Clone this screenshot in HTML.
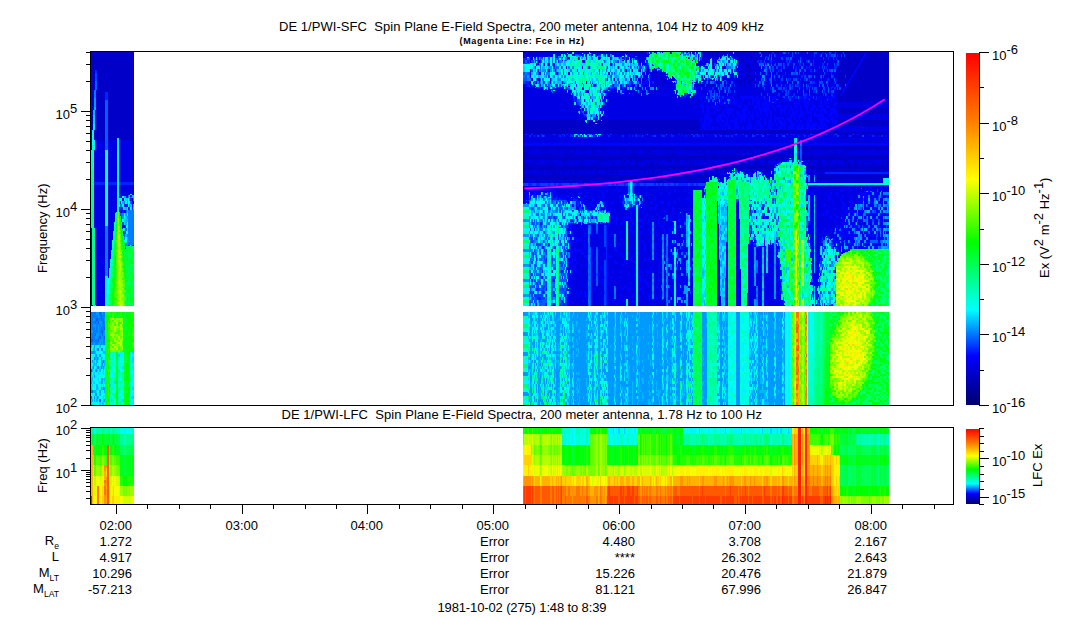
<!DOCTYPE html><html><head><meta charset="utf-8"><style>html,body{margin:0;padding:0;background:#fff;width:1083px;height:620px;overflow:hidden;position:relative}</style></head><body><svg width="1083" height="620" viewBox="0 0 1083 620" style="position:absolute;left:0;top:0;white-space:pre" xml:space="preserve" font-family='"Liberation Sans", sans-serif' font-size="13">
<rect x="0" y="0" width="1083" height="620" fill="#fff"/>
<path fill="#0000c8" d="M0 0m536 52h2v1h-2m4 -1h2v1h-2m14 -1h2v1h-2m72 -1h2v1h-2m3 -1h3v1h-3m17 -1h1v1h-1m76 -1h3v1h-3m122 -1h22v1h-22m24 -1h21v1h-21m-345 -1h3v2h-3m5 -2h4v2h-4m87 -2h1v2h-1m4 -2h1v2h-1m3 -2h2v2h-2m4 -1h1v1h-1m4 -1h2v1h-2m4 -2h2v2h-2m6 -2h4v2h-4m43 -2h1v2h-1m23 -2h4v2h-4m6 -2h6v2h-6m10 -1h1v1h-1m14 -2h4v2h-4m6 -2h4v2h-4m20 -2h2v2h-2m6 -2h3v2h-3m10 -2h2v2h-2m60 -2h4v2h-4m6 -1h21v1h-21m23 -1h22v1h-22m-336 0h2v1h-2m3 -1h1v1h-1m188 -1h2v1h-2m79 -1h1v1h-1m-85 -1h2v2h-2m20 -2h6v2h-6m28 -2h2v2h-2m81 -2h19v2h-19m21 -2h23v2h-23m-340 -2h2v3h-2m6 -2h1v2h-1m106 -3h2v3h-2m65 -3h3v3h-3m5 -3h2v3h-2m4 -3h2v3h-2m4 -1h1v1h-1m4 -3h1v3h-1m17 -1h5v1h-5m13 -3h3v3h-3m14 -1h1v1h-1m8 -3h2v3h-2m64 -3h1v3h-1m3 -3h2v3h-2m3 -3h2v3h-2m3 -1h18v1h-18m-320 0h1v1h-1m109 -1h1v1h-1m82 -1h2v1h-2m22 -1h6v1h-6m103 -1h22v1h-22m24 -2h24v2h-24m-235 -1h1v2h-1m76 -2h4v2h-4m34 -1h4v1h-4m101 -1h21v1h-21m23 -1h25v1h-25m-158 0h3v1h-3m35 -1h3v1h-3m5 -6h2v6h-2m4 -3h2v3h-2m4 -3h1v3h-1m2 -3h2v3h-2m23 -6h1v6h-1m59 -3h1v3h-1m3 -1h20v1h-20m-137 0h2v1h-2m135 -1h22v1h-22m24 -2h26v2h-26m-325 -1h2v3h-2m171 -3h1v3h-1m33 -3h4v3h-4m12 -3h2v3h-2m81 -3h1v3h-1m4 -2h21v2h-21m23 -2h27v2h-27m-23 0h20v1h-20m22 -1h28v1h-28m-117 -1h6v3h-6m8 -3h1v3h-1m65 -3h1v3h-1m22 -2h19v2h-19m21 -2h29v2h-29m-20 0h17v2h-17m19 -2h30v2h-30m-270 -2h1v3h-1m166 -3h2v3h-2m58 -3h1v3h-1m25 -3h1v3h-1m2 -1h16v1h-16m18 -1h31v1h-31m-767 -17h43v18h-43m748 -1h16v2h-16m18 -2h32v2h-32m-218 -2h1v3h-1m9 -3h1v3h-1m7 -2h1v2h-1m97 -3h2v3h-2m87 -1h15v1h-15m-1 0h16v1h-16m18 -2h33v2h-33m-18 0h15v1h-15m17 -1h34v1h-34m-201 -2h1v3h-1m92 -9h4v9h-4m32 -3h1v3h-1m48 -3h1v3h-1m3 -3h1v3h-1m9 -1h14v1h-14m8 0h6v1h-6m8 -2h35v2h-35m-192 -1h1v2h-1m-17 -2h1v3h-1m7 -3h2v3h-2m4 -5h2v5h-2m6 -1h2v1h-2m71 -3h1v3h-1m7 -3h2v3h-2m6 -3h6v3h-6m8 -3h2v3h-2m62 -3h1v3h-1m22 -3h7v3h-7m8 -2h5v2h-5m7 -2h36v2h-36m-210 0h1v1h-1m21 -1h1v1h-1m75 -1h1v1h-1m99 -1h12v1h-12m14 -1h37v1h-37m-114 0h2v1h-2m10 -2h5v2h-5m-106 -1h2v2h-2m18 -3h2v3h-2m4 -2h2v2h-2m71 -1h1v1h-1m2 -1h3v1h-3m5 -3h4v3h-4m6 -1h6v1h-6m37 -3h1v3h-1m14 -3h1v3h-1m39 -2h11v2h-11m13 -2h38v2h-38m-11 0h8v2h-8m10 -2h39v2h-39m-188 -2h4v3h-4m37 -3h1v3h-1m18 -3h1v3h-1m21 -3h4v3h-4m10 -3h2v3h-2m6 -3h2v3h-2m35 -3h1v3h-1m5 -3h2v3h-2m44 -3h1v3h-1m2 -1h7v1h-7m9 -1h40v1h-40m-304 0h1v2h-1m75 -1h2v1h-2m36 -2h4v2h-4m6 -2h2v2h-2m6 -2h4v2h-4m30 -2h1v2h-1m4 -2h2v2h-2m6 -2h1v2h-1m2 -2h4v2h-4m27 -1h1v1h-1m2 -2h3v2h-3m5 -5h2v5h-2m6 -2h2v2h-2m6 -2h1v2h-1m92 -2h41v2h-41m-9 -2h6v3h-6m2 0h4v1h-4m6 -2h42v2h-42m-6 0h3v1h-3m5 -1h43v1h-43m-755 -19h4v20h-4m6 -20h37v20h-37m741 -3h1v3h-1m3 -1h2v1h-2m-3 0h5v1h-5m7 -2h44v2h-44m-749 -1h38v2h-38m742 -1h4v2h-4m6 -2h45v2h-45m-6 0h3v1h-3m5 -1h46v1h-46m-5 0h2v2h-2m4 -2h47v2h-47m-4 0h51v6h-51m-747 -12h3v20h-3m5 -18h9v18h-9m742 -2h51v6h-51m-242 6h1v1h-1m2 -1h3v1h-3m4 -1h98v1h-98m-79 -1h62v2h-62m72 -1h105v1h-105m-72 0h63v1h-63m64 -1h2v1h-2m3 -1h1v1h-1m2 -1h108v1h-108m-69 0h72v1h-72m74 -1h103v1h-103m241 -4h51v6h-51m-747 -16h2v20h-2m4 -20h10v20h-10m428 -6h177v6h-177m0 0h315v2h-315m0 0h366v2h-366m315 0h6v1h-6m8 -1h2v1h-2m4 -1h1v1h-1m4 -1h1v1h-1m7 -1h2v1h-2m4 -1h3v1h-3m9 -1h7v1h-7m9 -1h6v1h-6m-44 0h3v2h-3m5 -2h4v2h-4m8 -2h10v2h-10m15 -2h1v2h-1m3 -2h2v2h-2m6 -2h2v2h-2m4 -2h1v2h-1m8 -2h1v2h-1m-780 -45h26v46h-26m730 -1h51v1h-51m-747 -8h1v10h-1m3 -10h11v10h-11m14 -2h9v2h-9m11 -2h15v2h-15m404 6h271v4h-271m274 -4h3v4h-3m5 -4h87v4h-87m-276 0h4v3h-4m16 -3h4v3h-4m12 -3h2v3h-2m4 -3h2v3h-2m6 -3h2v3h-2m4 -3h2v3h-2m6 -3h2v3h-2m8 -3h2v3h-2m10 -3h4v3h-4m10 -3h4v3h-4m12 -3h2v3h-2m8 -3h4v3h-4m12 -3h2v3h-2m12 -3h6v3h-6m16 -3h2v3h-2m22 -3h2v3h-2m12 -3h2v3h-2m6 -3h4v3h-4m8 -3h2v3h-2m10 -3h2v3h-2m6 -3h2v3h-2m10 -3h2v3h-2m8 -3h2v3h-2m6 -3h2v3h-2m18 -3h6v3h-6m8 -3h2v3h-2m28 -3h4v3h-4m6 -3h2v3h-2m14 -3h4v3h-4m10 -3h2v3h-2m10 -3h4v3h-4m6 -3h2v3h-2m28 -3h2v3h-2m-355 0h5v2h-5m9 -2h2v2h-2m4 -2h2v2h-2m10 -2h2v2h-2m4 -2h2v2h-2m16 -2h2v2h-2m4 -2h4v2h-4m16 -2h2v2h-2m8 -2h2v2h-2m6 -2h2v2h-2m8 -2h2v2h-2m12 -2h2v2h-2m8 -2h10v2h-10m18 -2h2v2h-2m6 -2h2v2h-2m16 -5h2v5h-2m4 -5h2v5h-2m4 -2h2v2h-2m28 -2h2v2h-2m8 -2h2v2h-2m4 -2h2v2h-2m8 -2h2v2h-2m6 -2h2v2h-2m4 -2h2v2h-2m18 -2h4v2h-4m8 -5h4v5h-4m8 -2h2v2h-2m6 -2h4v2h-4m6 -2h2v2h-2m4 -2h2v2h-2m4 -5h2v5h-2m4 -5h2v5h-2m5 -5h1v5h-1m5 -2h2v2h-2m10 -2h2v2h-2m16 -2h2v2h-2m6 -2h4v2h-4m6 -2h2v2h-2m40 -2h2v2h-2m-357 0h271v2h-271m0 0h265v1h-265m266 -1h5v1h-5m-266 0h263v1h-263m0 0h262v1h-262m267 -1h3v1h-3m7 -5h3v5h-3m5 -5h87v5h-87m-24 0h1v1h-1m-242 -1h2v2h-2m26 -2h4v2h-4m8 -2h2v2h-2m12 -2h2v2h-2m18 -2h6v2h-6m10 -2h2v2h-2m10 -2h2v2h-2m4 -2h2v2h-2m6 -2h2v2h-2m6 -2h8v2h-8m16 -2h2v2h-2m6 -2h2v2h-2m8 -2h6v2h-6m20 -2h2v2h-2m4 -2h2v2h-2m6 -2h2v2h-2m8 -2h2v2h-2m6 -2h2v2h-2m14 -2h4v2h-4m6 -2h2v2h-2m10 -2h2v2h-2m14 -2h2v2h-2m12 -2h2v2h-2m4 -2h2v2h-2m36 -2h2v2h-2m4 -2h2v2h-2m8 -2h2v2h-2m8 -2h2v2h-2m4 -2h2v2h-2m14 -2h4v2h-4m10 -2h2v2h-2m12 -2h2v2h-2m-60 0h4v1h-4m1 0h3v1h-3m-283 -2h4v3h-4m6 -3h2v3h-2m4 -3h2v3h-2m12 -3h4v3h-4m6 -3h2v3h-2m12 -3h2v3h-2m16 -3h2v3h-2m14 -3h2v3h-2m4 -3h2v3h-2m14 -3h2v3h-2m10 -3h2v3h-2m6 -3h2v3h-2m8 -3h2v3h-2m10 -3h2v3h-2m4 -3h4v3h-4m6 -3h2v3h-2m20 -5h2v5h-2m14 -3h4v3h-4m22 -3h2v3h-2m14 -3h2v3h-2m4 -3h4v3h-4m12 -3h2v3h-2m6 -5h2v5h-2m6 -3h6v3h-6m10 -3h4v3h-4m44 -1h2v1h-2m10 -3h4v3h-4m10 -3h2v3h-2m8 -3h2v3h-2m8 -3h2v3h-2m4 -3h4v3h-4m6 -3h4v3h-4m8 -3h2v3h-2m10 -3h2v3h-2m8 -3h4v3h-4m6 -5h3v5h-3m-363 0h250v3h-250m283 -3h83v3h-83m-283 0h211v1h-211m212 -1h1v1h-1m-212 0h209v1h-209m215 -2h35v2h-35m69 -2h82v2h-82m-279 0h2v1h-2m4 -1h2v1h-2m10 -1h2v1h-2m6 -1h2v1h-2m4 -1h2v1h-2m10 -1h6v1h-6m18 -1h2v1h-2m10 -1h2v1h-2m22 -1h2v1h-2m18 -1h2v1h-2m12 -1h4v1h-4m20 -1h6v1h-6m20 -1h2v1h-2m4 -1h4v1h-4m8 -1h4v1h-4m26 -1h2v1h-2m30 -1h2v1h-2m16 -1h2v1h-2m41 -1h1v1h-1m11 -1h2v1h-2m24 -1h4v1h-4m6 -1h2v1h-2m24 -1h2v1h-2m4 -1h4v1h-4m-150 -1h2v2h-2m22 -1h4v1h-4m78 -1h2v1h-2m8 -2h2v2h-2m10 -1h2v1h-2m14 -1h2v1h-2m16 -1h2v1h-2m4 -1h2v1h-2m4 -1h4v1h-4m-131 0h1v1h-1m-228 -3h1v4h-1m7 -3h2v3h-2m10 -3h2v3h-2m6 -3h2v3h-2m4 -3h6v3h-6m8 -4h2v4h-2m4 -3h2v3h-2m8 -4h2v4h-2m4 -3h4v3h-4m10 -3h2v3h-2m12 -3h2v3h-2m10 -3h2v3h-2m4 -3h4v3h-4m6 -4h2v4h-2m20 -3h2v3h-2m8 -3h2v3h-2m4 -3h2v3h-2m4 -4h2v4h-2m4 -3h2v3h-2m22 -4h2v4h-2m26 -3h4v3h-4m12 -4h2v4h-2m10 -2h1v2h-1m38 -3h4v3h-4m46 -3h2v3h-2m6 -3h2v3h-2m4 -3h2v3h-2m-292 0h6v1h-6m14 -1h2v1h-2m12 -1h4v1h-4m18 -1h2v1h-2m10 -1h2v1h-2m6 -1h2v1h-2m4 -1h2v1h-2m4 -1h6v1h-6m8 -1h2v1h-2m50 -1h2v1h-2m6 -4h2v4h-2m28 -1h4v1h-4m12 -1h2v1h-2m6 -1h2v1h-2m11 -1h1v1h-1m105 -1h4v1h-4m6 -1h2v1h-2m8 -1h2v1h-2m10 -1h2v1h-2m16 -1h2v1h-2m8 -1h2v1h-2m14 -1h2v1h-2m4 -1h1v1h-1m-172 0h11v1h-11m50 -1h4v1h-4m-243 -1h189v2h-189m194 -1h9v1h-9m-194 0h186v1h-186m292 -3h74v3h-74m-96 -1h5v2h-5m-196 -1h185v2h-185m187 -3h2v3h-2m10 -1h4v1h-4m87 -3h1v3h-1m3 -5h4v5h-4m5 -2h68v2h-68m-292 0h5v3h-5m13 -3h2v3h-2m12 -3h2v3h-2m6 -3h4v3h-4m10 -3h2v3h-2m4 -3h2v3h-2m4 -3h4v3h-4m10 -3h8v3h-8m20 -3h2v3h-2m14 -3h2v3h-2m4 -3h2v3h-2m18 -3h2v3h-2m4 -3h2v3h-2m14 -3h6v3h-6m12 -3h2v3h-2m6 -3h4v3h-4m16 -3h2v3h-2m4 -3h2v3h-2m146 -3h2v3h-2m20 -3h2v3h-2m16 -3h2v3h-2m6 -3h1v3h-1"/>
<path fill="#0000e5" d="M0 0m532 52h4v1h-4m6 -1h2v1h-2m4 -1h12v1h-12m14 -1h16v1h-16m18 -1h15v1h-15m16 -1h25v1h-25m38 -1h1v1h-1m16 -1h2v1h-2m18 -1h1v1h-1m25 -1h1v1h-1m5 -1h2v1h-2m33 -1h8v1h-8m98 -1h6v1h-6m-297 -1h2v2h-2m6 -1h27v1h-27m28 -1h4v1h-4m10 -1h2v1h-2m4 -1h1v1h-1m3 -1h5v1h-5m6 -1h1v1h-1m3 -1h2v1h-2m7 -1h3v1h-3m5 -1h17v1h-17m18 -2h3v2h-3m4 -2h2v2h-2m4 -2h2v2h-2m3 -1h3v1h-3m5 -2h2v2h-2m4 -2h4v2h-4m8 -1h3v1h-3m26 -2h1v2h-1m20 -2h1v2h-1m11 -2h5v2h-5m17 -2h4v2h-4m5 -1h10v1h-10m11 -2h2v2h-2m6 -2h2v2h-2m6 -2h13v2h-13m15 -2h1v2h-1m3 -2h4v2h-4m10 -2h4v2h-4m6 -2h2v2h-2m7 -2h1v2h-1m6 -2h2v2h-2m4 -2h1v2h-1m2 -2h7v2h-7m9 -2h6v2h-6m9 -2h5v2h-5m6 -1h2v1h-2m3 -1h3v1h-3m5 -2h3v2h-3m5 -2h2v2h-2m-308 0h3v1h-3m5 -1h1v1h-1m2 -1h18v1h-18m31 -2h1v2h-1m15 -1h1v1h-1m15 -1h2v1h-2m16 -1h1v1h-1m2 -1h11v1h-11m12 -1h12v1h-12m14 -1h10v1h-10m54 -1h1v1h-1m27 -1h1v1h-1m3 -1h3v1h-3m4 -1h8v1h-8m65 -1h8v1h-8m9 -1h12v1h-12m-269 0h9v1h-9m22 -2h6v2h-6m17 -2h1v2h-1m14 -2h1v2h-1m34 -1h2v1h-2m7 -1h11v1h-11m91 -2h2v2h-2m3 -1h2v1h-2m3 -1h1v1h-1m7 -1h5v1h-5m22 -2h8v2h-8m13 -2h3v2h-3m16 -2h6v2h-6m-259 -2h3v3h-3m5 -2h4v2h-4m5 -1h3v1h-3m5 -1h3v1h-3m6 -2h4v2h-4m6 -2h2v2h-2m5 -1h2v1h-2m53 -3h2v3h-2m6 -2h5v2h-5m10 -2h1v2h-1m3 -1h2v1h-2m3 -1h5v1h-5m7 -1h1v1h-1m3 -2h9v2h-9m61 -3h2v3h-2m5 -3h2v3h-2m4 -5h2v5h-2m4 -3h2v3h-2m3 -1h3v1h-3m4 -1h1v1h-1m7 -2h1v2h-1m3 -1h6v1h-6m11 -3h4v3h-4m11 -1h7v1h-7m9 -3h2v3h-2m5 -1h2v1h-2m3 -3h1v3h-1m6 -3h3v3h-3m6 -1h1v1h-1m3 -1h3v1h-3m4 -5h3v5h-3m4 -2h20v2h-20m22 -3h4v3h-4m7 -3h4v3h-4m5 -3h2v3h-2m-304 0h2v1h-2m3 -1h1v1h-1m3 -1h4v1h-4m5 -1h1v1h-1m21 -1h3v1h-3m7 -1h1v1h-1m70 -1h2v1h-2m78 -1h6v1h-6m8 -1h1v1h-1m14 -1h1v1h-1m2 -1h4v1h-4m-204 0h3v1h-3m38 -2h2v2h-2m54 -2h2v2h-2m13 -2h11v2h-11m53 -2h1v2h-1m22 -1h1v1h-1m2 -1h7v1h-7m8 -2h1v2h-1m16 -1h4v1h-4m-205 0h2v1h-2m7 -3h1v3h-1m40 -3h1v3h-1m20 -3h2v3h-2m12 -3h1v3h-1m16 -3h1v3h-1m4 -1h1v1h-1m3 -2h1v2h-1m2 -1h2v1h-2m3 -1h8v1h-8m64 -3h4v3h-4m7 -1h1v1h-1m3 -1h6v1h-6m25 -1h4v1h-4m7 -3h2v3h-2m4 -6h2v6h-2m4 -3h2v3h-2m3 -3h1v3h-1m3 -3h7v3h-7m11 -3h2v3h-2m3 -3h7v3h-7m11 -3h2v3h-2m9 -3h8v3h-8m11 -3h10v3h-10m12 -3h8v3h-8m9 -3h1v3h-1m2 -3h2v3h-2m3 -3h4v3h-4m5 -3h2v3h-2m3 -3h1v3h-1m-137 0h4v1h-4m6 -1h3v1h-3m6 -1h5v1h-5m102 -1h19v1h-19m-232 -1h3v2h-3m55 -2h4v2h-4m5 -2h3v2h-3m56 -2h1v2h-1m2 -1h9v1h-9m-165 -2h1v3h-1m20 -5h1v5h-1m28 -1h2v1h-2m48 -3h1v3h-1m6 -1h1v1h-1m2 -1h1v1h-1m5 -1h1v1h-1m54 -1h11v1h-11m31 -3h1v3h-1m9 -3h4v3h-4m8 -3h8v3h-8m10 -3h1v3h-1m6 -3h2v3h-2m3 -3h5v3h-5m11 -3h10v3h-10m12 -3h1v3h-1m4 -3h6v3h-6m7 -3h1v3h-1m2 -3h5v3h-5m9 -3h3v3h-3m4 -2h10v2h-10m11 -2h8v2h-8m9 -3h1v3h-1m2 -3h1v3h-1m-140 0h10v1h-10m20 -3h1v3h-1m-180 -1h3v2h-3m106 -2h4v2h-4m54 -1h7v1h-7m8 -1h2v1h-2m60 -2h1v2h-1m5 -2h2v2h-2m-233 0h1v1h-1m12 -3h2v3h-2m5 -3h2v3h-2m57 -3h2v3h-2m32 -1h1v1h-1m3 -1h1v1h-1m51 -1h6v1h-6m41 -3h7v3h-7m13 -3h2v3h-2m3 -3h6v3h-6m17 -1h1v1h-1m2 -3h2v3h-2m4 -3h2v3h-2m13 -3h4v3h-4m6 -3h2v3h-2m3 -3h1v3h-1m3 -3h2v3h-2m3 -3h6v3h-6m8 -3h1v3h-1m2 -3h3v3h-3m4 -3h4v3h-4m6 -3h3v3h-3m4 -3h6v3h-6m-124 0h3v1h-3m8 -6h2v6h-2m27 -1h7v1h-7m-100 -1h1v2h-1m66 -1h2v1h-2m8 -1h1v1h-1m23 -2h1v2h-1m2 -1h8v1h-8m-203 -2h1v3h-1m26 -3h1v3h-1m5 -3h1v3h-1m52 -3h1v3h-1m30 -1h1v1h-1m6 -1h1v1h-1m65 -3h1v3h-1m3 -3h2v3h-2m3 -3h1v3h-1m11 -1h10v1h-10m14 -3h5v3h-5m7 -3h3v3h-3m5 -3h2v3h-2m5 -3h1v3h-1m11 -3h2v3h-2m4 -6h1v6h-1m3 -6h2v6h-2m3 -3h5v3h-5m9 -3h1v3h-1m3 -3h1v3h-1m4 -3h2v3h-2m6 -3h3v3h-3m5 -3h4v3h-4m5 -3h2v3h-2m3 -3h1v3h-1m2 -3h1v3h-1m2 -3h7v3h-7m10 -3h1v3h-1m2 -3h1v3h-1m-187 0h4v1h-4m84 -1h2v1h-2m3 -1h7v1h-7m-83 0h1v1h-1m-126 -2h1v3h-1m25 -3h1v3h-1m22 -3h1v3h-1m22 -3h1v3h-1m27 -3h1v3h-1m6 -3h1v3h-1m8 -3h1v3h-1m7 -3h1v3h-1m5 -2h3v2h-3m4 -1h2v1h-2m43 -3h1v3h-1m16 -3h1v3h-1m21 -2h10v2h-10m14 -3h2v3h-2m4 -3h8v3h-8m14 -3h1v3h-1m3 -6h1v6h-1m3 -6h2v6h-2m8 -3h10v3h-10m11 -3h2v3h-2m4 -3h2v3h-2m4 -3h3v3h-3m5 -3h2v3h-2m3 -3h1v3h-1m3 -3h2v3h-2m3 -3h8v3h-8m9 -3h2v3h-2m4 -3h1v3h-1m5 -3h1v3h-1m3 -3h3v3h-3m-190 0h1v1h-1m2 -1h6v1h-6m7 -1h10v1h-10m-9 0h8v1h-8m21 -1h1v1h-1m62 -2h1v2h-1m2 -2h2v2h-2m7 -2h8v2h-8m-199 -2h1v3h-1m18 -3h1v3h-1m6 -3h1v3h-1m5 -3h2v3h-2m76 -3h1v3h-1m2 -1h3v1h-3m4 -1h4v1h-4m5 -2h1v2h-1m3 -2h7v2h-7m8 -1h2v1h-2m63 -1h4v1h-4m8 -1h9v1h-9m13 -3h5v3h-5m6 -3h4v3h-4m5 -3h4v3h-4m6 -3h3v3h-3m5 -3h4v3h-4m7 -3h6v3h-6m7 -3h5v3h-5m12 -3h1v3h-1m2 -3h3v3h-3m4 -3h20v3h-20m21 -3h1v3h-1m5 -3h1v3h-1m-195 0h2v1h-2m28 -1h1v1h-1m2 -1h1v1h-1m46 -1h1v1h-1m24 -1h1v1h-1m-72 0h3v1h-3m9 -1h1v1h-1m46 -2h1v2h-1m12 -2h1v2h-1m2 -1h1v1h-1m-99 -2h1v3h-1m2 -2h3v2h-3m6 -3h1v3h-1m2 -3h2v3h-2m3 -3h2v3h-2m3 -3h3v3h-3m5 -3h2v3h-2m4 -3h4v3h-4m6 -1h3v1h-3m8 -1h2v1h-2m29 -3h2v3h-2m10 -2h3v2h-3m12 -1h1v1h-1m2 -3h2v3h-2m5 -1h3v1h-3m5 -2h2v2h-2m3 -3h2v3h-2m4 -3h4v3h-4m10 -3h2v3h-2m14 -3h2v3h-2m3 -3h1v3h-1m7 -3h2v3h-2m4 -3h2v3h-2m3 -3h18v3h-18m20 -3h1v3h-1m3 -3h2v3h-2m6 -3h2v3h-2m3 -3h1v3h-1m2 -3h3v3h-3m5 -3h1v3h-1m2 -3h7v3h-7m10 -6h4v6h-4m-192 0h1v1h-1m23 -1h2v1h-2m7 -1h3v1h-3m30 -1h1v1h-1m20 -1h7v1h-7m11 -1h6v1h-6m-67 0h1v1h-1m2 -1h1v1h-1m3 -1h4v1h-4m31 -1h2v1h-2m3 -2h2v2h-2m5 -1h2v1h-2m4 -1h1v1h-1m8 -1h16v1h-16m31 -2h2v2h-2m-222 -2h2v3h-2m6 -3h3v3h-3m13 -3h1v3h-1m57 -3h1v3h-1m7 -3h1v3h-1m16 -3h2v3h-2m8 -3h2v3h-2m6 -3h1v3h-1m3 -3h1v3h-1m3 -3h10v3h-10m12 -3h2v3h-2m4 -1h9v1h-9m36 -1h5v1h-5m7 -1h6v1h-6m9 -4h2v4h-2m4 -1h2v1h-2m4 -1h9v1h-9m10 -1h1v1h-1m4 -3h2v3h-2m14 -1h1v1h-1m2 -6h5v6h-5m10 -3h3v3h-3m6 -3h2v3h-2m4 -3h4v3h-4m7 -3h2v3h-2m4 -3h1v3h-1m4 -3h2v3h-2m6 -3h1v3h-1m4 -3h3v3h-3m7 -3h1v3h-1m2 -3h10v3h-10m12 -3h3v3h-3m4 -3h1v3h-1m3 -3h5v3h-5m7 -3h2v3h-2m-170 0h6v1h-6m30 -1h2v1h-2m7 -1h1v1h-1m2 -1h1v1h-1m61 -1h1v1h-1m-100 0h7v1h-7m8 -1h1v1h-1m29 -1h3v1h-3m63 -1h2v1h-2m-236 -2h1v3h-1m3 -2h1v2h-1m3 -3h1v3h-1m3 -3h1v3h-1m23 -1h1v1h-1m24 -3h1v3h-1m51 -3h1v3h-1m2 -3h2v3h-2m9 -3h1v3h-1m2 -3h2v3h-2m4 -3h8v3h-8m12 -1h9v1h-9m29 -2h3v2h-3m5 -2h1v2h-1m4 -1h2v1h-2m4 -2h2v2h-2m8 -3h1v3h-1m2 -3h1v3h-1m2 -3h2v3h-2m7 -3h4v3h-4m6 -3h5v3h-5m13 -6h2v6h-2m4 -3h4v3h-4m6 -3h3v3h-3m5 -3h1v3h-1m5 -1h3v1h-3m6 -3h8v3h-8m10 -3h5v3h-5m6 -3h1v3h-1m2 -3h2v3h-2m3 -3h1v3h-1m3 -3h1v3h-1m3 -3h10v3h-10m16 -3h4v3h-4m8 -3h3v3h-3m5 -3h6v3h-6m9 -3h1v3h-1m2 -3h1v3h-1m-104 0h4v1h-4m-98 -1h2v2h-2m7 -2h3v2h-3m6 -2h6v2h-6m10 -2h2v2h-2m4 -2h4v2h-4m8 -2h2v2h-2m22 -2h4v2h-4m5 -2h3v2h-3m5 -2h1v2h-1m2 -2h2v2h-2m3 -2h1v2h-1m18 -2h3v2h-3m8 -1h2v1h-2m3 -1h1v1h-1m4 -5h2v5h-2m4 -2h4v2h-4m6 -2h3v2h-3m13 -2h6v2h-6m13 -2h2v2h-2m8 -2h2v2h-2m7 -2h2v2h-2m16 -2h1v2h-1m4 -2h6v2h-6m7 -2h2v2h-2m4 -2h3v2h-3m-279 0h1v1h-1m23 -1h2v1h-2m23 -3h1v3h-1m29 -1h2v1h-2m6 -3h1v3h-1m5 -3h2v3h-2m6 -1h1v1h-1m4 -3h1v3h-1m4 -1h2v1h-2m5 -1h1v1h-1m2 -1h22v1h-22m42 -1h1v1h-1m2 -1h9v1h-9m10 -1h8v1h-8m9 -3h1v3h-1m2 -3h3v3h-3m7 -6h2v6h-2m7 -3h3v3h-3m4 -1h20v1h-20m21 -1h1v1h-1m3 -3h3v3h-3m6 -1h4v1h-4m7 -3h4v3h-4m7 -1h1v1h-1m3 -3h3v3h-3m5 -1h1v1h-1m4 -3h1v3h-1m3 -1h1v1h-1m5 -3h4v3h-4m15 -1h2v1h-2m3 -1h2v1h-2m4 -1h1v1h-1m4 -1h2v1h-2m3 -3h5v3h-5m6 -3h2v3h-2m-311 0h12v1h-12m310 -1h1v1h-1m-310 0h17v1h-17m18 -2h2v2h-2m288 -2h2v2h-2m3 -1h2v1h-2m-309 0h20v1h-20m22 -1h2v1h-2m7 -1h1v1h-1m11 -1h1v1h-1m51 -3h1v3h-1m6 -2h2v2h-2m6 -1h1v1h-1m12 -3h3v3h-3m5 -3h1v3h-1m5 -3h2v3h-2m6 -3h2v3h-2m3 -3h18v3h-18m40 -3h4v3h-4m6 -3h5v3h-5m6 -3h3v3h-3m5 -3h4v3h-4m5 -3h1v3h-1m8 -3h1v3h-1m3 -3h32v3h-32m35 -3h5v3h-5m6 -3h1v3h-1m4 -3h3v3h-3m7 -3h1v3h-1m3 -3h1v3h-1m2 -3h2v3h-2m7 -3h5v3h-5m7 -3h2v3h-2m3 -6h2v6h-2m4 -3h1v3h-1m2 -3h2v3h-2m3 -3h1v3h-1m4 -3h6v3h-6m12 -1h5v1h-5m7 -3h1v3h-1m-313 0h25v1h-25m27 -1h1v1h-1m11 -1h3v1h-3m5 -1h1v1h-1m2 -1h1v1h-1m43 -1h1v1h-1m2 -1h1v1h-1m2 -1h2v1h-2m10 -1h4v1h-4m5 -1h1v1h-1m2 -1h3v1h-3m12 -1h2v1h-2m4 -1h26v1h-26m-125 0h28v1h-28m32 -2h2v2h-2m4 -1h5v1h-5m6 -1h2v1h-2m3 -1h3v1h-3m40 -1h2v1h-2m3 -1h6v1h-6m8 -2h1v2h-1m6 -1h10v1h-10m17 -1h4v1h-4m134 -2h6v2h-6m7 -2h2v2h-2m42 -2h2v2h-2m-302 0h29v1h-29m30 -1h14v1h-14m15 -1h4v1h-4m40 -1h9v1h-9m10 -1h2v1h-2m6 -1h14v1h-14m15 -3h1v3h-1m2 -1h5v1h-5m7 -2h27v2h-27m28 -3h1v3h-1m21 -3h11v3h-11m15 -3h2v3h-2m3 -3h4v3h-4m5 -3h1v3h-1m2 -6h2v6h-2m4 -3h2v3h-2m5 -3h3v3h-3m4 -3h37v3h-37m39 -1h8v1h-8m9 -1h3v1h-3m4 -3h1v3h-1m2 -3h8v3h-8m9 -3h5v3h-5m6 -3h5v3h-5m6 -3h3v3h-3m7 -3h5v3h-5m6 -3h1v3h-1m2 -1h3v1h-3m4 -3h2v3h-2m5 -3h4v3h-4m-311 0h45v1h-45m86 -1h11v1h-11m15 -1h5v1h-5m6 -1h11v1h-11m19 -1h26v1h-26m38 -1h1v1h-1m-164 0h46v1h-46m47 -2h1v2h-1m38 -1h13v1h-13m14 -1h19v1h-19m20 -2h4v2h-4m6 -1h28v1h-28m49 -2h10v2h-10m-89 0h33v1h-33m34 -1h34v1h-34m35 -1h1v1h-1m10 -2h4v2h-4m8 -1h12v1h-12m13 -3h2v3h-2m7 -3h1v3h-1m3 -3h1v3h-1m2 -3h7v3h-7m8 -3h6v3h-6m7 -3h26v3h-26m27 -3h5v3h-5m7 -3h9v3h-9m11 -3h5v3h-5m9 -3h4v3h-4m6 -3h8v3h-8m13 -3h1v3h-1m2 -3h13v3h-13m14 -3h1v3h-1m3 -3h4v3h-4m6 -3h5v3h-5m-258 0h1v1h-1m33 -1h69v1h-69m70 -1h2v1h-2m5 -1h1v1h-1m3 -1h1v1h-1m6 -1h3v1h-3m4 -1h4v1h-4m84 -1h2v1h-2m-173 0h70v1h-70m71 -1h3v1h-3m4 -1h2v1h-2m4 -1h4v1h-4m5 -1h9v1h-9m89 -1h3v1h-3m-205 -1h2v2h-2m27 -3h1v3h-1m5 -1h93v1h-93m117 -3h2v3h-2m6 -3h2v3h-2m4 -3h6v3h-6m20 -3h2v3h-2m4 -3h2v3h-2m8 -3h3v3h-3m4 -2h2v2h-2m6 -3h2v3h-2m4 -1h4v1h-4m34 -3h1v3h-1m3 -3h1v3h-1m5 -3h3v3h-3m14 -3h2v3h-2m-228 0h92v1h-92m202 -1h5v1h-5m7 -1h3v1h-3m-294 -5h49v6h-49m255 -2h3v2h-3m4 -2h2v2h-2m9 -2h1v2h-1m-268 0h51v1h-51m84 -2h93v2h-93m95 -3h2v3h-2m4 -3h2v3h-2m10 -3h2v3h-2m6 -3h2v3h-2m10 -2h1v2h-1m6 -3h4v3h-4m6 -3h8v3h-8m16 -3h4v3h-4m18 -1h6v1h-6m12 -1h2v1h-2m4 -3h4v3h-4m6 -3h2v3h-2m8 -2h12v2h-12m24 -3h1v3h-1m2 -3h4v3h-4m-311 0h49v1h-49m181 -1h4v1h-4m6 -1h4v1h-4m6 -1h1v1h-1m2 -1h1v1h-1m56 -1h4v1h-4m-58 0h3v1h-3m10 -2h2v2h-2m4 -2h2v2h-2m-125 -2h97v3h-97m99 -2h10v2h-10m12 -1h4v1h-4m8 -1h8v1h-8m14 -3h2v3h-2m4 -3h6v3h-6m8 -3h2v3h-2m4 -3h2v3h-2m18 -2h6v2h-6m8 -3h14v3h-14m20 -3h4v3h-4m10 -3h2v3h-2m4 -3h6v3h-6m8 -6h2v6h-2m4 -3h8v3h-8m12 -3h51v3h-51m-315 -2h51v3h-51m52 -1h4v1h-4m-52 0h56v2h-56m80 -3h2v3h-2m3 -3h94v3h-94m102 -3h2v3h-2m10 -3h8v3h-8m10 -3h10v3h-10m14 -3h2v3h-2m18 -6h2v6h-2m10 -3h2v3h-2m4 -3h2v3h-2m8 -3h2v3h-2m6 -3h2v3h-2m4 -3h2v3h-2m10 -3h2v3h-2m6 -3h4v3h-4m8 -3h2v3h-2m8 -3h2v3h-2m6 -3h4v3h-4m6 -3h53v3h-53m-313 0h55v1h-55m56 -1h1v1h-1m-56 0h58v2h-58m77 -3h2v3h-2m3 -3h99v3h-99m107 -3h6v3h-6m10 -3h6v3h-6m14 -3h8v3h-8m14 -6h6v6h-6m8 -3h2v3h-2m14 -3h4v3h-4m6 -3h4v3h-4m10 -3h4v3h-4m8 -3h2v3h-2m8 -3h4v3h-4m6 -3h2v3h-2m6 -3h2v3h-2m4 -3h2v3h-2m8 -3h4v3h-4m10 -3h2v3h-2m-313 0h55v2h-55m0 0h56v1h-56m57 -1h1v1h-1m4 -3h3v3h-3m18 -3h1v3h-1m3 -3h97v3h-97m99 -9h2v9h-2m6 -3h4v3h-4m6 -3h6v3h-6m8 -3h2v3h-2m8 -3h4v3h-4m8 -3h2v3h-2m6 -3h2v3h-2m4 -3h2v3h-2m8 -3h2v3h-2m4 -3h2v3h-2m10 -3h8v3h-8m10 -3h2v3h-2m4 -3h2v3h-2m4 -3h2v3h-2m8 -9h2v9h-2m6 -3h2v3h-2m12 -3h4v3h-4m6 -3h2v3h-2m6 -3h2v3h-2m-305 0h58v2h-58m80 -2h101v2h-101m-80 0h60v1h-60m68 -2h1v2h-1m11 -1h102v1h-102m108 -3h8v3h-8m16 -3h2v3h-2m4 -3h2v3h-2m4 -3h4v3h-4m14 -3h2v3h-2m6 -6h2v6h-2m6 -3h2v3h-2m4 -3h2v3h-2m4 -6h2v6h-2m8 -3h14v3h-14m28 -3h6v3h-6m8 -6h2v6h-2m12 -3h4v3h-4m8 -3h2v3h-2m6 -3h51v3h-51m-315 0h61v1h-61m0 0h62v1h-62m0 0h63v1h-63m77 -3h100v3h-100m122 -3h4v3h-4m6 -3h6v3h-6m22 -3h2v3h-2m4 -3h6v3h-6m8 -3h2v3h-2m4 -3h4v3h-4m18 -3h2v3h-2m8 -3h2v3h-2m4 -6h2v6h-2m4 -3h4v3h-4m6 -3h2v3h-2m6 -3h6v3h-6m16 -3h2v3h-2m6 -3h55v3h-55m-239 0h1v1h-1m-8 -1h6v2h-6m2 0h1v1h-1m2 -1h1v1h-1m111 -6h2v6h-2m4 -3h2v3h-2m6 -6h4v6h-4m8 -3h2v3h-2m4 -3h2v3h-2m4 -3h2v3h-2m10 -6h2v6h-2m4 -3h2v3h-2m4 -6h2v6h-2m4 -3h6v3h-6m10 -3h4v3h-4m12 -9h2v9h-2m4 -3h2v3h-2m6 -3h2v3h-2m4 -3h2v3h-2m6 -3h4v3h-4m6 -3h2v3h-2m4 -3h4v3h-4m10 -3h8v3h-8m12 -3h2v3h-2m6 -3h2v3h-2m-120 0h10v3h-10m12 -3h2v3h-2m8 -3h4v3h-4m8 -3h10v3h-10m14 -3h4v3h-4m10 -3h2v3h-2m4 -6h2v6h-2m8 -3h2v3h-2m4 -3h2v3h-2m8 -3h4v3h-4m10 -3h2v3h-2m4 -3h2v3h-2m10 -3h2v3h-2m8 -3h2v3h-2m8 -3h12v3h-12m-126 -3h2v6h-2m6 -3h2v3h-2m4 -3h2v3h-2m4 -3h2v3h-2m4 -3h4v3h-4m6 -3h4v3h-4m8 -3h2v3h-2m8 -3h2v3h-2m4 -3h2v3h-2m8 -3h2v3h-2m4 -3h4v3h-4m8 -3h4v3h-4m8 -3h6v3h-6m10 -3h2v3h-2m4 -3h2v3h-2m18 -6h2v6h-2m12 -3h2v3h-2m8 -3h2v3h-2m4 -3h4v3h-4m6 -3h2v3h-2m4 -3h51v3h-51m-136 0h2v1h-2m6 -1h2v1h-2m18 -1h6v1h-6m8 -1h6v1h-6m16 -1h6v1h-6m10 -1h2v1h-2m4 -1h2v1h-2m4 -1h2v1h-2m12 -1h8v1h-8m10 -1h2v1h-2m4 -4h2v4h-2m8 -1h8v1h-8m16 -1h6v1h-6m18 -1h53v1h-53m2 0h51v2h-51m-315 2h2v1h-2m6 -1h2v1h-2m4 -1h8v1h-8m10 -1h1v1h-1m2 -1h8v1h-8m11 -1h6v1h-6m12 -1h2v1h-2m14 -1h1v1h-1m4 -1h1v1h-1m15 -1h2v1h-2m3 -1h3v1h-3m4 -1h2v1h-2m4 -1h3v1h-3m5 -1h7v1h-7m8 -1h1v1h-1m2 -1h2v1h-2m3 -1h5v1h-5m7 -1h9v1h-9m13 -1h5v1h-5m7 -1h3v1h-3m5 -1h4v1h-4m5 -1h3v1h-3m6 -1h5v1h-5m7 -1h1v1h-1m3 -1h4v1h-4m5 -1h3v1h-3m5 -1h2v1h-2m5 -1h3v1h-3m5 -1h3v1h-3m5 -1h6v1h-6m7 -1h2v1h-2m3 -1h1v1h-1m2 -1h14v1h-14m18 -1h3v1h-3m4 -1h1v1h-1m2 -1h8v1h-8m9 -1h3v1h-3m6 -1h1v1h-1m3 -1h5v1h-5m7 -1h7v1h-7m9 -1h2v1h-2m4 -1h4v1h-4m6 -1h2v1h-2m4 -1h1v1h-1m3 -1h2v1h-2m3 -1h5v1h-5m6 -1h6v1h-6m8 -1h1v1h-1m4 -1h7v1h-7m9 -1h1v1h-1m2 -1h7v1h-7m10 -1h1v1h-1m7 -1h2v1h-2m4 -1h1v1h-1m3 -1h1v1h-1m9 -1h1v1h-1m3 -1h2v1h-2m5 -1h2v1h-2m4 -1h2v1h-2m9 -1h2v1h-2m-358 0h6v2h-6m8 -2h3v2h-3m5 -2h1v2h-1m3 -2h2v2h-2m6 -2h14v2h-14m16 -2h1v2h-1m2 -2h1v2h-1m2 -3h1v3h-1m2 -2h1v2h-1m6 -2h1v2h-1m25 -2h1v2h-1m3 -2h7v2h-7m9 -2h12v2h-12m14 -2h5v2h-5m6 -2h2v2h-2m3 -2h2v2h-2m4 -2h1v2h-1m2 -2h1v2h-1m2 -2h1v2h-1m2 -2h9v2h-9m13 -2h6v2h-6m9 -2h5v2h-5m9 -2h3v2h-3m4 -2h2v2h-2m4 -2h2v2h-2m5 -2h6v2h-6m8 -2h1v2h-1m6 -2h1v2h-1m3 -2h6v2h-6m8 -2h2v2h-2m5 -2h3v2h-3m5 -2h2v2h-2m5 -2h1v2h-1m3 -2h1v2h-1m3 -2h1v2h-1m2 -2h1v2h-1m3 -2h2v2h-2m3 -2h3v2h-3m7 -2h4v2h-4m8 -2h6v2h-6m8 -2h3v2h-3m4 -2h8v2h-8m10 -2h4v2h-4m7 -2h13v2h-13m14 -2h5v2h-5m7 -2h2v2h-2m3 -2h3v2h-3m4 -2h5v2h-5m7 -2h14v2h-14m15 -2h2v2h-2m8 -2h1v2h-1m21 -2h3v2h-3m19 -2h2v2h-2m4 -2h1v2h-1m-364 0h315v1h-315m274 0h92v2h-92m-274 -2h271v5h-271m274 -3h3v3h-3m5 -3h87v3h-87m-711 -3h1v10h-1m4 -10h10v10h-10m428 0h3v3h-3m7 -3h12v3h-12m16 -3h8v3h-8m10 -3h2v3h-2m4 -3h4v3h-4m6 -3h2v3h-2m4 -3h4v3h-4m6 -3h6v3h-6m8 -3h8v3h-8m12 -3h6v3h-6m10 -3h8v3h-8m10 -3h6v3h-6m10 -3h8v3h-8m10 -3h10v3h-10m16 -3h10v3h-10m12 -3h4v3h-4m10 -3h10v3h-10m12 -3h10v3h-10m12 -3h4v3h-4m8 -3h4v3h-4m6 -3h8v3h-8m10 -3h4v3h-4m6 -3h8v3h-8m10 -3h6v3h-6m8 -3h4v3h-4m6 -3h8v3h-8m22 -3h2v3h-2m4 -3h10v3h-10m24 -3h2v3h-2m6 -3h2v3h-2m4 -3h12v3h-12m16 -3h6v3h-6m8 -3h8v3h-8m12 -3h2v3h-2m4 -3h26v3h-26m28 -3h9v3h-9m-352 0h4v2h-4m6 -2h2v2h-2m4 -2h8v2h-8m10 -2h2v2h-2m4 -2h14v2h-14m16 -2h2v2h-2m6 -2h12v2h-12m14 -2h6v2h-6m8 -2h4v2h-4m6 -2h6v2h-6m8 -2h10v2h-10m12 -2h6v2h-6m16 -2h8v2h-8m10 -2h4v2h-4m6 -2h14v2h-14m16 -5h2v5h-2m4 -2h2v2h-2m4 -2h26v2h-26m28 -2h6v2h-6m8 -2h2v2h-2m4 -2h6v2h-6m8 -2h4v2h-4m6 -2h2v2h-2m4 -2h16v2h-16m20 -2h4v2h-4m8 -5h4v5h-4m6 -2h4v2h-4m8 -2h2v2h-2m4 -2h2v2h-2m4 -2h2v2h-2m4 -5h2v5h-2m8 -5h2v5h-2m6 -2h8v2h-8m10 -2h14v2h-14m16 -2h4v2h-4m8 -2h2v2h-2m4 -2h38v2h-38m40 -2h7v2h-7m-94 2h1v1h-1m-2 0h3v1h-3m5 -1h3v1h-3m-6 0h4v1h-4m8 -1h1v1h-1m-21 0h6v1h-6m7 -1h6v1h-6m23 -1h4v1h-4m-279 -1h13v2h-13m15 -2h24v2h-24m28 -2h4v2h-4m6 -2h10v2h-10m12 -2h16v2h-16m22 -2h4v2h-4m6 -2h8v2h-8m10 -2h2v2h-2m4 -2h4v2h-4m6 -2h4v2h-4m12 -2h8v2h-8m10 -2h4v2h-4m6 -2h6v2h-6m12 -2h4v2h-4m6 -2h8v2h-8m10 -2h2v2h-2m4 -2h4v2h-4m6 -2h6v2h-6m8 -2h4v2h-4m6 -2h12v2h-12m20 -2h8v2h-8m10 -2h6v2h-6m14 -2h10v2h-10m12 -2h2v2h-2m4 -1h9v1h-9m11 -1h2v1h-2m9 -2h1v2h-1m5 -2h1v2h-1m2 -2h1v2h-1m4 -1h3v1h-3m5 -2h2v2h-2m4 -2h6v2h-6m8 -2h6v2h-6m8 -2h2v2h-2m4 -2h12v2h-12m16 -2h6v2h-6m8 -2h10v2h-10m12 -2h18v2h-18m-100 0h10v1h-10m13 -1h1v1h-1m21 -1h4v1h-4m-34 0h9v1h-9m30 -2h1v2h-1m4 -1h1v1h-1m2 -1h3v1h-3m-281 -2h1v3h-1m5 -3h2v3h-2m4 -3h2v3h-2m4 -3h10v3h-10m14 -3h2v3h-2m4 -3h10v3h-10m12 -3h14v3h-14m16 -3h12v3h-12m14 -3h2v3h-2m4 -3h12v3h-12m14 -3h8v3h-8m10 -3h4v3h-4m6 -3h6v3h-6m8 -3h8v3h-8m10 -3h2v3h-2m6 -3h2v3h-2m4 -3h18v3h-18m20 -3h12v3h-12m16 -3h18v3h-18m20 -3h12v3h-12m14 -5h2v5h-2m6 -3h8v3h-8m10 -3h4v3h-4m6 -5h4v5h-4m10 -3h4v3h-4m8 -1h8v1h-8m36 -1h4v1h-4m6 -3h8v3h-8m12 -3h6v3h-6m8 -3h6v3h-6m8 -3h6v3h-6m8 -3h2v3h-2m6 -3h2v3h-2m6 -3h4v3h-4m6 -3h8v3h-8m10 -3h6v3h-6m10 -3h2v3h-2m-111 0h2v1h-2m3 -1h2v1h-2m29 -1h1v1h-1m-69 2h2v1h-2m-4 0h2v1h-2m3 -1h3v1h-3m38 -4h1v4h-1m-249 0h4v1h-4m6 -1h2v1h-2m4 -1h8v1h-8m10 -1h4v1h-4m6 -1h2v1h-2m4 -1h4v1h-4m14 -1h2v1h-2m4 -1h8v1h-8m10 -1h8v1h-8m10 -1h20v1h-20m26 -1h12v1h-12m14 -1h10v1h-10m14 -1h6v1h-6m8 -1h8v1h-8m14 -1h10v1h-10m12 -1h2v1h-2m4 -1h2v1h-2m6 -1h4v1h-4m8 -1h18v1h-18m20 -1h2v1h-2m4 -1h4v1h-4m6 -1h4v1h-4m7 -1h1v1h-1m3 -1h12v1h-12m14 -1h14v1h-14m16 -1h6v1h-6m38 -3h1v3h-1m2 -1h10v1h-10m12 -1h14v1h-14m16 -1h6v1h-6m10 -1h2v1h-2m4 -1h22v1h-22m24 -1h2v1h-2m6 -1h9v1h-9m-152 0h7v1h-7m14 -1h6v1h-6m10 -1h5v1h-5m7 -1h5v1h-5m63 -1h4v1h-4m6 -1h6v1h-6m8 -1h8v1h-8m10 -1h12v1h-12m14 -1h14v1h-14m16 -1h2v1h-2m4 -1h2v1h-2m6 -1h3v1h-3m-158 0h1v1h-1m2 -1h2v1h-2m3 -1h1v1h-1m10 -1h8v1h-8m9 -1h3v1h-3m4 -1h1v1h-1m7 -1h1v1h-1m-239 -2h6v3h-6m8 -3h8v3h-8m10 -3h4v3h-4m6 -3h2v3h-2m8 -3h2v3h-2m4 -4h2v4h-2m4 -3h6v3h-6m8 -3h2v3h-2m6 -3h6v3h-6m8 -3h10v3h-10m12 -3h8v3h-8m10 -3h2v3h-2m6 -4h2v4h-2m4 -3h18v3h-18m20 -3h6v3h-6m8 -3h2v3h-2m4 -3h2v3h-2m4 -3h2v3h-2m4 -3h2v3h-2m4 -3h16v3h-16m18 -3h24v3h-24m28 -3h8v3h-8m10 -3h8v3h-8m25 -1h3v1h-3m4 -1h7v1h-7m21 -3h3v3h-3m4 -3h2v3h-2m34 -3h4v3h-4m6 -3h4v3h-4m6 -3h2v3h-2m4 -2h3v2h-3m-299 0h5v1h-5m11 -1h8v1h-8m10 -1h10v1h-10m14 -1h14v1h-14m16 -1h8v1h-8m10 -1h4v1h-4m6 -1h2v1h-2m4 -1h2v1h-2m8 -1h2v1h-2m4 -1h48v1h-48m50 -1h4v1h-4m6 -1h26v1h-26m30 -1h8v1h-8m10 -1h4v1h-4m6 -1h9v1h-9m10 -1h12v1h-12m26 -1h2v1h-2m7 -1h1v1h-1m14 -1h8v1h-8m42 -1h15v1h-15m19 -1h2v1h-2m4 -1h6v1h-6m8 -1h8v1h-8m10 -1h14v1h-14m16 -1h6v1h-6m8 -1h12v1h-12m14 -1h2v1h-2m-174 0h4v1h-4m15 -1h1v1h-1m2 -1h1v1h-1m36 -1h1v1h-1m5 -1h4v1h-4m37 -1h1v1h-1m-93 0h3v1h-3m37 -2h2v2h-2m5 -3h1v3h-1m10 -1h8v1h-8m-40 -1h2v2h-2m3 -1h1v1h-1m37 -1h4v1h-4m-49 -1h2v2h-2m52 -1h1v1h-1m-61 -1h1v2h-1m56 -3h1v3h-1m3 -2h1v2h-1m5 -3h2v3h-2m-54 0h6v1h-6m-624 -31h11v32h-11m14 -42h9v42h-9m11 -42h15v42h-15m577 -2h13v2h-13m22 -1h1v1h-1m2 -1h4v1h-4m86 -2h2v2h-2m4 -2h4v2h-4m5 -2h25v2h-25m-287 -2h8v3h-8m10 -3h10v3h-10m12 -3h4v3h-4m8 -3h6v3h-6m8 -3h2v3h-2m4 -3h2v3h-2m6 -3h6v3h-6m14 -3h12v3h-12m14 -3h12v3h-12m14 -3h2v3h-2m4 -3h6v3h-6m11 -3h5v3h-5m7 -3h2v3h-2m4 -3h12v3h-12m18 -3h6v3h-6m8 -3h4v3h-4m8 -3h12v3h-12m14 -3h2v3h-2m4 -1h10v1h-10m26 -1h2v1h-2m47 -3h1v3h-1m37 -1h34v1h-34m36 -3h18v3h-18m20 -3h14v3h-14m16 -3h4v3h-4m-174 3h1v1h-1m146 -1h18v1h-18m0 0h15v1h-15m-327 -2h11v3h-11m13 -3h22v3h-22m24 -3h2v3h-2m4 -3h52v3h-52m54 -3h10v3h-10m15 -3h1v3h-1m3 -3h10v3h-10m12 -3h10v3h-10m12 -3h6v3h-6m8 -3h32v3h-32m140 -3h8v3h-8m10 -3h30v3h-30m32 -1h11v1h-11m12 -1h3v1h-3m4 -2h2v2h-2m6 -3h8v3h-8m10 -3h4v3h-4m6 -3h1v3h-1m-354 0h16v1h-16m162 -1h7v1h-7m156 -1h14v1h-14m-318 0h7v1h-7m8 -1h8v1h-8m160 -1h1v1h-1m163 -1h1v1h-1m5 -2h2v2h-2m8 -2h11v2h-11m-355 -2h7v3h-7m11 -1h2v1h-2m4 -1h1v1h-1m2 -1h1v1h-1m4 -1h2v1h-2m3 -1h3v1h-3m9 -3h10v3h-10m12 -3h38v3h-38m40 -3h10v3h-10m12 -3h8v3h-8m13 -3h41v3h-41m43 -3h8v3h-8m10 -3h6v3h-6m90 -3h1v3h-1m33 -3h31v3h-31m35 -3h6v3h-6m8 -2h12v2h-12m22 -3h3v3h-3m4 -1h3v1h-3m4 -1h7v1h-7m-352 0h3v1h-3m74 -1h21v1h-21m22 -1h2v1h-2m9 -1h3v1h-3m4 -1h7v1h-7m-520 -8h15v9h-15m432 -2h1v2h-1m3 -2h24v2h-24m50 -1h20v1h-20m234 -2h22v2h-22m-716 0h6v1h-6m7 -1h1v1h-1m3 -1h2v1h-2m391 -3h1v3h-1m3 -3h2v3h-2m5 -2h1v2h-1m24 -1h23v1h-23m27 -3h4v3h-4m6 -3h14v3h-14m16 -1h18v1h-18m31 -2h2v2h-2m5 -2h6v2h-6m8 -3h12v3h-12m14 -3h6v3h-6m8 -3h18v3h-18m20 -3h2v3h-2m12 -3h1v3h-1m106 -3h2v3h-2m6 -3h16v3h-16m18 -3h4v3h-4m6 -1h19v1h-19m20 -1h2v1h-2m23 -3h2v3h-2m-762 -1h1v2h-1m5 -1h3v1h-3m6 -1h2v1h-2m400 -1h1v1h-1m12 -1h2v1h-2m17 -1h1v1h-1m19 -1h6v1h-6m57 -1h1v1h-1m249 -1h5v1h-5m-754 0h1v1h-1m432 -2h4v2h-4m8 -2h2v2h-2m9 -1h5v1h-5m303 -2h1v2h-1m3 -1h4v1h-4m-361 -2h2v3h-2m18 -2h1v2h-1m23 -1h1v1h-1m5 -1h1v1h-1m4 -3h2v3h-2m6 -1h4v1h-4m6 -3h12v3h-12m14 -3h2v3h-2m4 -3h15v3h-15m40 -3h49v3h-49m166 -3h4v3h-4m20 -3h12v3h-12m14 -3h13v3h-13m17 -3h1v3h-1m6 -3h1v3h-1m3 -3h2v3h-2m6 -3h2v3h-2m9 -1h1v1h-1m2 -1h2v1h-2m-335 0h1v1h-1m14 -1h3v1h-3m12 -1h1v1h-1m16 -1h25v1h-25m41 -1h1v1h-1m-112 -1h1v2h-1m43 -1h2v1h-2m28 -1h6v1h-6m8 -1h17v1h-17m-480 -2h2v3h-2m8 -3h1v3h-1m2 -3h1v3h-1m452 -3h8v3h-8m10 -1h5v1h-5m9 -1h16v1h-16m17 -3h2v3h-2m20 -3h2v3h-2m3 -3h11v3h-11m13 -3h22v3h-22m24 -3h6v3h-6m10 -3h3v3h-3m122 -3h2v3h-2m3 -6h13v6h-13m15 -3h10v3h-10m12 -3h8v3h-8m10 -3h4v3h-4m6 -3h2v3h-2m6 -3h2v3h-2m16 -3h3v3h-3m-312 0h2v1h-2m24 -1h5v1h-5m6 -1h2v1h-2m7 -1h5v1h-5m-21 -1h6v2h-6m8 -1h4v1h-4m-69 -2h1v3h-1m4 -3h2v3h-2m58 -1h5v1h-5m7 -1h3v1h-3m6 -2h1v2h-1m8 -2h4v2h-4m8 -3h6v3h-6m30 -3h6v3h-6m8 -3h8v3h-8m12 -3h4v3h-4m6 -3h4v3h-4m6 -3h14v3h-14m16 -3h1v3h-1m46 -3h1v3h-1m77 -3h27v3h-27m29 -3h5v3h-5m6 -3h2v3h-2m4 -3h4v3h-4m25 -3h2v3h-2m7 -3h1v3h-1m-300 0h10v1h-10m260 -1h9v1h-9m-260 0h6v2h-6m9 -2h1v2h-1m13 -3h13v3h-13m33 -3h1v3h-1m2 -3h13v3h-13m15 -3h10v3h-10m12 -3h23v3h-23m66 -2h2v2h-2m79 -3h9v3h-9m11 -3h16v3h-16m20 -2h4v2h-4m6 -2h3v2h-3m25 -3h1v3h-1m4 -3h1v3h-1m-291 0h4v1h-4m17 -1h15v1h-15m33 -1h1v1h-1m2 -1h2v1h-2m-52 0h3v1h-3m18 -1h14v1h-14m-480 -2h1v3h-1m450 -3h1v3h-1m13 -1h2v1h-2m17 -1h2v1h-2m3 -1h11v1h-11m19 -1h1v1h-1m10 -2h4v2h-4m6 -3h4v3h-4m6 -3h2v3h-2m4 -3h16v3h-16m71 -4h1v4h-1m88 -3h19v3h-19m21 -3h6v3h-6m8 -3h2v3h-2m6 -3h3v3h-3m17 -3h3v3h-3m17 -3h3v3h-3m-34 0h1v1h-1m-742 -26h9v27h-9m11 -2h1v2h-1m555 -5h19v5h-19m173 -2h2v2h-2m-739 0h8v1h-8m503 -3h3v3h-3m5 -3h14v3h-14m16 -3h4v3h-4m6 -3h4v3h-4m6 -3h18v3h-18m22 -3h6v3h-6m8 -1h6v1h-6m7 -1h12v1h-12m55 -6h3v6h-3m80 -3h10v3h-10m14 -3h14v3h-14m18 -1h1v1h-1m10 -3h2v3h-2m3 -3h1v3h-1m-173 0h2v1h-2m148 -1h6v1h-6m-178 -1h20v2h-20m30 -1h1v1h-1m162 -2h2v2h-2m-270 -2h1v3h-1m31 -3h19v3h-19m21 -3h2v3h-2m6 -3h8v3h-8m10 -3h8v3h-8m10 -1h8v1h-8m10 -1h10v1h-10m24 -3h1v3h-1m25 -11h1v11h-1m21 -3h1v3h-1m77 -3h3v3h-3m5 -3h2v3h-2m4 -3h2v3h-2m4 -3h6v3h-6m8 -2h5v2h-5m8 -3h2v3h-2m3 -3h1v3h-1m3 -1h1v1h-1m18 -3h2v3h-2m16 -3h1v3h-1m-232 0h14v1h-14m16 -1h2v1h-2m4 -1h6v1h-6m166 -1h7v1h-7m-186 0h12v1h-12m190 -1h3v1h-3m-231 -2h1v3h-1m3 -3h2v3h-2m4 -3h6v3h-6m20 -3h12v3h-12m14 -1h11v1h-11m13 -2h1v2h-1m3 -2h1v2h-1m4 -2h1v2h-1m2 -2h4v2h-4m6 -6h2v6h-2m4 -6h2v6h-2m6 -3h3v3h-3m46 -3h2v3h-2m79 -3h15v3h-15m17 -3h4v3h-4m6 -2h3v2h-3m4 -1h1v1h-1m13 -3h2v3h-2m10 -3h1v3h-1m14 -3h2v3h-2m5 0h5v1h-5m-260 -1h6v2h-6m36 -2h6v2h-6m8 -2h2v2h-2m4 -2h6v2h-6m-564 -8h7v9h-7m502 -3h4v3h-4m8 -3h4v3h-4m6 -1h2v1h-2m4 -1h2v1h-2m4 -6h4v6h-4m10 -3h6v3h-6m8 -3h8v3h-8m10 -1h10v1h-10m16 -1h2v1h-2m6 -3h2v3h-2m9 -3h2v3h-2m119 -21h4v21h-4m5 -3h19v3h-19m21 -3h7v3h-7m18 -3h2v3h-2m4 -3h5v3h-5m18 -3h2v3h-2m8 -2h1v2h-1m2 -2h3v2h-3m-275 0h5v1h-5m-36 0h1v1h-1m17 -1h1v1h-1m9 -2h1v2h-1m116 -5h1v5h-1m-144 0h1v1h-1m2 -1h2v1h-2m3 -1h2v1h-2m13 -1h4v1h-4m7 -1h4v1h-4m5 -1h2v1h-2m3 -1h2v1h-2m4 -2h6v2h-6m8 -3h2v3h-2m4 -3h4v3h-4m6 -3h4v3h-4m6 -3h2v3h-2m4 -3h4v3h-4m6 -3h8v3h-8m10 -3h4v3h-4m6 -3h4v3h-4m6 -3h8v3h-8m10 -3h4v3h-4m5 -3h3v3h-3m10 -3h1v3h-1m45 -6h4v6h-4m75 -3h3v3h-3m4 -3h25v3h-25m35 -6h1v6h-1m7 -3h3v3h-3m7 -3h2v3h-2m16 -3h1v3h-1m-786 -40h11v43h-11m30 -3h1v3h-1m448 -3h8v3h-8m10 -3h6v3h-6m25 -3h1v3h-1m3 -3h16v3h-16m28 -3h2v3h-2m4 -3h10v3h-10m14 -3h4v3h-4m8 -3h4v3h-4m5 -3h3v3h-3m12 -3h1v3h-1m3 -3h2v3h-2m8 -3h1v3h-1m44 -3h2v3h-2m74 -3h2v3h-2m5 -3h21v3h-21m23 -3h2v3h-2m4 -3h2v3h-2m6 -3h1v3h-1m9 -3h1v3h-1m4 -3h1v3h-1m9 -9h2v9h-2m15 -3h1v3h-1m2 -3h2v3h-2m-55 0h3v2h-3m-724 -8h6v9h-6m464 -3h10v3h-10m12 -3h2v3h-2m23 -3h19v3h-19m21 -6h2v6h-2m4 -6h4v6h-4m6 -3h10v3h-10m12 -3h2v3h-2m28 -3h8v3h-8m12 -3h2v3h-2m27 -7h2v7h-2m32 -3h1v3h-1m62 -3h3v3h-3m4 -3h1v3h-1m3 -3h6v3h-6m8 -3h4v3h-4m6 -1h2v1h-2m17 -3h2v3h-2m-17 0h3v1h-3m-8 -1h6v2h-6m-251 -2h11v3h-11m18 -9h5v9h-5m7 -9h6v9h-6m9 -3h13v3h-13m15 -3h4v3h-4m6 -3h4v3h-4m6 -3h2v3h-2m4 -3h2v3h-2m4 -3h8v3h-8m12 -6h10v6h-10m12 -6h2v6h-2m10 -3h10v3h-10m16 -3h1v3h-1m25 -3h1v3h-1m34 -3h1v3h-1m59 -3h4v3h-4m6 -3h6v3h-6m10 -1h4v1h-4m6 -2h2v2h-2m12 -3h2v3h-2m9 -3h1v3h-1m7 -3h1v3h-1m2 -3h1v3h-1m2 -3h1v3h-1m8 -3h2v3h-2m4 -3h1v3h-1m10 -3h3v3h-3m-71 0h11v1h-11m13 -1h6v1h-6m-13 0h10v1h-10m14 -1h5v1h-5m6 -2h2v2h-2m-261 -2h10v3h-10m12 -6h2v6h-2m4 -3h2v3h-2m4 -3h4v3h-4m6 -3h4v3h-4m7 -3h5v3h-5m9 -3h10v3h-10m38 -3h2v3h-2m4 -3h4v3h-4m6 -3h2v3h-2m6 -3h4v3h-4m6 -3h5v3h-5m7 -3h1v3h-1m53 -9h4v9h-4m76 -3h2v3h-2m3 -1h9v1h-9m15 -1h4v1h-4m6 -1h1v1h-1m8 -3h1v3h-1m18 -3h2v3h-2m5 -3h1v3h-1m11 -3h2v3h-2m-52 0h1v1h-1m5 -1h3v1h-3m-16 -1h6v2h-6m-707 -8h5v9h-5m470 -3h2v3h-2m4 -3h6v3h-6m34 -3h4v3h-4m6 -3h4v3h-4m16 -6h14v6h-14m16 -3h6v3h-6m14 -3h2v3h-2m3 -3h11v3h-11m65 -3h2v3h-2m75 -3h3v3h-3m4 -1h5v1h-5m18 -2h1v2h-1m3 -3h2v3h-2m6 -3h1v3h-1m5 -3h3v3h-3m6 -3h1v3h-1m15 -3h4v3h-4m6 -3h2v3h-2m5 -3h1v3h-1m-152 -27h1v29h-1m-153 -2h2v3h-2m6 -3h4v3h-4m27 -6h7v6h-7m9 -3h10v3h-10m22 -3h4v3h-4m6 -3h8v3h-8m10 -3h8v3h-8m10 -3h2v3h-2m4 -3h4v3h-4m10 -3h5v3h-5m12 -9h3v9h-3m59 -1h1v1h-1m63 -3h2v3h-2m4 -3h4v3h-4m18 -3h1v3h-1m-84 0h1v1h-1m61 -1h3v2h-3m-239 -2h12v3h-12m35 -3h3v3h-3m5 -3h2v3h-2m4 -3h2v3h-2m4 -3h6v3h-6m26 -3h4v3h-4m12 -3h4v3h-4m6 -3h1v3h-1m5 -3h1v3h-1m11 -3h1v3h-1m10 -3h1v3h-1m2 -3h1v3h-1m58 -2h3v2h-3m21 -1h1v1h-1m44 -3h4v3h-4m6 -3h2v3h-2m21 -3h2v3h-2m4 -3h2v3h-2m4 -3h1v3h-1m18 -3h2v3h-2m6 -3h2v3h-2m4 -3h3v3h-3m-288 -9h14v10h-14m81 -1h9v1h-9m13 -1h2v1h-2m84 -1h1v2h-1m-643 0h1v1h-1m445 -3h14v3h-14m16 -9h2v9h-2m5 -2h5v2h-5m7 -2h8v2h-8m18 -3h10v3h-10m40 -3h6v3h-6m15 -2h3v2h-3m5 -2h4v2h-4m5 -3h1v3h-1m67 -3h4v3h-4m11 -2h1v2h-1m9 -1h2v1h-2m5 -1h1v1h-1m42 -3h5v3h-5m41 -3h1v3h-1m2 -3h2v3h-2m-750 -9h4v10h-4m648 -1h2v1h-2m14 -1h4v1h-4m74 -1h1v1h-1m-277 -1h1v3h-1m6 -3h1v3h-1m9 -3h6v3h-6m18 -3h6v3h-6m7 -6h7v6h-7m11 -3h8v3h-8m10 -18h8v18h-8m10 -9h6v9h-6m8 -6h6v6h-6m8 -3h8v3h-8m18 -3h2v3h-2m6 -3h4v3h-4m6 -5h4v5h-4m72 -2h3v2h-3m4 -2h2v2h-2m55 -3h4v3h-4m25 -6h1v6h-1m4 -2h2v2h-2m-2 0h3v1h-3m-26 -1h4v2h-4m26 -1h1v1h-1m-271 -2h1v3h-1m2 -3h7v3h-7m11 -3h4v3h-4m7 -6h1v6h-1m3 -6h2v6h-2m4 -3h6v3h-6m9 -3h13v3h-13m15 -3h4v3h-4m8 -3h6v3h-6m10 -3h12v3h-12m14 -3h2v3h-2m4 -3h4v3h-4m20 -3h1v3h-1m2 -3h1v3h-1m3 -3h1v3h-1m53 -15h4v15h-4m20 -3h4v3h-4m60 -1h2v1h-2m-244 0h2v3h-2m4 -3h8v3h-8m15 -3h5v3h-5m16 -3h1v3h-1m5 -3h10v3h-10m12 -3h2v3h-2m4 -3h8v3h-8m10 -3h14v3h-14m18 -3h6v3h-6m8 -3h1v3h-1m4 -12h2v12h-2m3 -3h1v3h-1m15 -3h2v3h-2m4 -12h3v12h-3m46 -3h2v3h-2m79 -3h3v3h-3m4 -3h2v3h-2m-711 -8h3v9h-3m490 -4h8v5h-8m52 -2h2v2h-2m4 -2h2v2h-2m63 -26h2v26h-2m39 -5h6v5h-6m56 -15h2v15h-2m-244 -2h4v3h-4m5 -3h1v3h-1m3 -3h10v3h-10m15 -3h3v3h-3m16 -3h17v3h-17m19 -1h2v1h-2m6 -3h4v3h-4m6 -3h6v3h-6m8 -3h2v3h-2m4 -1h6v1h-6m8 -3h4v3h-4m6 -3h2v3h-2m6 -3h1v3h-1m7 -3h1v3h-1m5 -3h1v3h-1m2 -3h2v3h-2m6 -3h1v3h-1m58 -12h6v12h-6m10 -1h4v1h-4m10 -11h6v11h-6m8 -3h1v3h-1m39 -3h4v3h-4m-248 0h1v3h-1m6 -3h3v3h-3m5 -3h10v3h-10m13 -3h1v3h-1m3 -3h2v3h-2m13 -3h7v3h-7m11 -3h6v3h-6m10 -3h6v3h-6m10 -3h22v3h-22m27 -3h1v3h-1m4 -3h5v3h-5m7 -3h1v3h-1m2 -3h2v3h-2m3 -3h1v3h-1m2 -3h3v3h-3m9 -3h1v3h-1m25 -4h3v4h-3m33 -3h4v3h-4m18 -3h4v3h-4m8 -3h2v3h-2m37 -4h1v4h-1m3 -3h2v3h-2m-1 0h3v1h-3m-245 -1h2v3h-2m3 -3h1v3h-1m3 -3h4v3h-4m6 -3h6v3h-6m16 -7h6v7h-6m9 -3h15v3h-15m17 -3h12v3h-12m14 -3h20v3h-20m22 -3h2v3h-2m4 -3h2v3h-2m9 -3h1v3h-1m5 -3h1v3h-1m6 -3h2v3h-2m7 -3h1v3h-1m26 -3h1v3h-1m9 -25h2v25h-2m32 -6h2v6h-2m14 -3h2v3h-2m4 -3h1v3h-1m-668 -8h2v9h-2m464 -1h16v3h-16m26 -3h2v3h-2m4 -3h2v3h-2m5 -3h27v3h-27m31 -3h12v3h-12m14 -3h10v3h-10m12 -3h1v3h-1m4 -3h2v3h-2m10 -3h2v3h-2m3 -3h1v3h-1m10 -3h2v3h-2m45 -12h4v12h-4m22 -3h4v3h-4m10 -3h6v3h-6m8 -3h2v3h-2m39 -5h2v5h-2m-39 0h1v1h-1m-205 -1h5v3h-5m7 -3h10v3h-10m13 -9h5v9h-5m7 -3h6v3h-6m9 -3h5v3h-5m7 -3h6v3h-6m8 -3h14v3h-14m16 -3h2v3h-2m4 -3h4v3h-4m8 -3h8v3h-8m10 -3h2v3h-2m10 -3h2v3h-2m6 -3h5v3h-5m6 -3h4v3h-4m8 -3h3v3h-3m27 -6h3v6h-3m21 -3h3v3h-3m20 -3h2v3h-2m12 -3h4v3h-4m45 -3h3v3h-3m-224 0h1v3h-1m3 -3h2v3h-2m6 -3h4v3h-4m7 -3h21v3h-21m23 -3h4v3h-4m8 -3h14v3h-14m32 -3h1v3h-1m8 -3h2v3h-2m6 -3h2v3h-2m7 -3h1v3h-1m26 -3h1v3h-1m47 -24h2v24h-2m4 -3h6v3h-6m46 -3h4v3h-4m1 0h2v1h-2m-707 -9h1v10h-1m618 -5h2v5h-2m-154 -5h16v6h-16m19 -3h5v3h-5m7 -3h6v3h-6m9 -3h3v3h-3m5 -3h8v3h-8m10 -3h14v3h-14m20 -3h10v3h-10m12 -6h8v6h-8m10 -6h2v6h-2m4 -3h2v3h-2m9 -3h2v3h-2m4 -3h3v3h-3m9 -3h3v3h-3m35 -1h3v1h-3m11 -6h5v6h-5m40 -8h2v8h-2m3 -3h1v3h-1m36 -2h1v2h-1m-224 0h3v3h-3m16 -3h29v3h-29m31 -3h2v3h-2m4 -3h2v3h-2m4 -3h6v3h-6m8 -3h4v3h-4m6 -3h2v3h-2m10 -3h2v3h-2m3 -3h1v3h-1m3 -3h1v3h-1m3 -3h1v3h-1m3 -3h2v3h-2m4 -6h2v6h-2m4 -3h2v3h-2m27 -6h3v6h-3m9 -3h2v3h-2m10 -3h2v3h-2m4 -3h1v3h-1m41 -3h1v3h-1m33 -3h3v3h-3m-246 0h2v3h-2m3 -6h17v6h-17m20 -3h5v3h-5m7 -6h4v6h-4m9 -3h23v3h-23m25 -3h4v3h-4m6 -3h8v3h-8m10 -3h4v3h-4m6 -3h8v3h-8m14 -3h6v3h-6m11 -3h3v3h-3m4 -3h3v3h-3m35 -3h2v3h-2m7 -3h1v3h-1m39 -9h10v9h-10m15 -1h1v1h-1m37 -3h1v3h-1m-224 0h4v1h-4m6 -1h6v1h-6m9 -1h17v1h-17m79 -1h2v1h-2m4 -4h3v4h-3m58 -22h6v22h-6m8 -13h6v13h-6m20 -4h2v4h-2m-206 -1h16v3h-16m22 -2h12v2h-12m24 -2h8v2h-8m10 -3h10v3h-10m12 -3h10v3h-10m12 -3h2v3h-2m4 -3h2v3h-2m4 -3h3v3h-3m12 -3h1v3h-1m3 -3h1v3h-1m3 -6h2v6h-2m12 -2h5v2h-5m38 -3h2v3h-2m10 -6h5v6h-5m30 -3h8v3h-8m49 -3h1v3h-1m-243 0h16v3h-16m20 -3h2v3h-2m4 -3h8v3h-8m11 -5h7v5h-7m9 -3h6v3h-6m8 -3h4v3h-4m6 -3h6v3h-6m8 -3h2v3h-2m4 -3h10v3h-10m12 -3h6v3h-6m10 -3h2v3h-2m8 -3h2v3h-2m10 -6h2v6h-2m8 -3h2v3h-2m27 -6h3v6h-3m19 -3h2v3h-2m4 -3h1v3h-1m8 -5h8v5h-8m10 -5h4v5h-4m18 -5h3v5h-3m-28 0h6v2h-6m-176 -2h4v3h-4m6 -3h2v3h-2m4 -3h2v3h-2m4 -3h2v3h-2m6 -3h12v3h-12m16 -3h6v3h-6m8 -3h20v3h-20m22 -3h4v3h-4m6 -3h8v3h-8m10 -3h8v3h-8m14 -3h3v3h-3m5 -3h1v3h-1m4 -3h2v3h-2m3 -3h2v3h-2m11 -3h1v3h-1m26 -3h1v3h-1m30 -1h7v1h-7m13 -3h2v3h-2m53 -3h1v3h-1m2 -3h1v3h-1m-245 0h8v3h-8m10 -3h4v3h-4m11 -3h13v3h-13m25 -3h4v3h-4m6 -3h10v3h-10m12 -3h2v3h-2m4 -3h10v3h-10m16 -3h6v3h-6m16 -3h4v3h-4m12 -3h2v3h-2m6 -6h2v6h-2m4 -3h1v3h-1m26 -3h2v3h-2m18 -6h5v6h-5m40 -3h3v3h-3m-169 -3h7v5h-7m9 -2h20v2h-20m34 -2h2v2h-2m4 -2h2v2h-2m10 -2h2v2h-2m17 -2h1v2h-1m3 -2h2v2h-2m63 -5h9v5h-9m17 -11h10v11h-10m12 -2h4v2h-4m-206 -2h18v3h-18m21 -3h11v3h-11m16 -1h19v1h-19m21 -1h8v1h-8m12 -3h8v3h-8m10 -1h6v1h-6m8 -3h4v3h-4m5 -1h3v1h-3m5 -3h2v3h-2m8 -3h1v3h-1m5 -1h5v1h-5m7 -3h1v3h-1m2 -3h3v3h-3m35 -12h3v12h-3m13 -3h3v3h-3m9 -1h7v1h-7m11 -6h4v6h-4m6 -1h16v1h-16m4 0h12v2h-12m-198 -2h12v3h-12m14 -3h4v3h-4m23 -3h5v3h-5m7 -3h4v3h-4m6 -3h2v3h-2m4 -3h2v3h-2m4 -3h4v3h-4m6 -3h2v3h-2m4 -3h28v3h-28m32 -3h1v3h-1m2 -6h2v6h-2m4 -1h1v1h-1m2 -3h2v3h-2m5 -3h1v3h-1m5 -3h2v3h-2m4 -3h1v3h-1m25 -6h4v6h-4m30 -3h5v3h-5m11 -3h2v3h-2m10 -1h13v1h-13m-677 -75h1v77h-1m4 -77h10v77h-10m475 -2h18v2h-18m-479 0h2v1h-2m5 -1h9v1h-9m473 -1h19v1h-19m23 -6h12v6h-12m16 -3h8v3h-8m10 -3h8v3h-8m10 -3h8v3h-8m10 -3h16v3h-16m18 -3h10v3h-10m14 -3h4v3h-4m6 -3h2v3h-2m6 -3h4v3h-4m6 -3h4v3h-4m29 -3h3v3h-3m8 -3h3v3h-3m11 -6h5v6h-5m11 -3h7v3h-7m13 -3h2v3h-2m4 -3h2v3h-2m4 -3h12v3h-12m61 -1h1v1h-1"/>
<path fill="#0004ff" d="M0 0m654 52h1v1h-1m40 -1h1v1h-1m2 -1h2v1h-2m170 -1h2v1h-2m-307 0h1v1h-1m5 -1h2v1h-2m4 -1h2v1h-2m7 -1h2v1h-2m9 -1h2v1h-2m4 -1h1v1h-1m8 -1h2v1h-2m54 -2h1v2h-1m42 -1h2v1h-2m79 -2h1v2h-1m11 -2h1v2h-1m4 -2h1v2h-1m20 -2h1v2h-1m28 -2h1v2h-1m8 -2h1v2h-1m23 -1h2v1h-2m-302 0h1v1h-1m2 -1h1v1h-1m2 -1h1v1h-1m6 -1h2v1h-2m9 -1h2v1h-2m9 -2h2v2h-2m4 -1h1v1h-1m3 -1h2v1h-2m9 -1h1v1h-1m6 -1h1v1h-1m-71 0h2v1h-2m6 -1h2v1h-2m4 -1h1v1h-1m14 -1h1v1h-1m8 -1h1v1h-1m7 -1h1v1h-1m4 -2h1v2h-1m4 -2h1v2h-1m7 -1h2v1h-2m9 -2h1v2h-1m14 -1h1v1h-1m3 -1h2v1h-2m103 -1h2v1h-2m4 -1h2v1h-2m135 -2h2v2h-2m-328 0h2v1h-2m5 -1h3v1h-3m16 -1h1v1h-1m29 -1h1v1h-1m10 -1h1v1h-1m24 -1h2v1h-2m9 -1h1v1h-1m100 -1h1v1h-1m36 -1h1v1h-1m15 -3h2v3h-2m3 -1h2v1h-2m5 -3h1v3h-1m25 -2h1v2h-1m6 -3h1v3h-1m19 -3h1v3h-1m-303 0h1v1h-1m2 -1h1v1h-1m90 -1h2v1h-2m4 -1h1v1h-1m90 -1h1v1h-1m12 -1h1v1h-1m130 -2h2v2h-2m-244 -1h1v2h-1m9 -1h1v1h-1m105 -1h3v1h-3m129 -1h2v1h-2m-295 -2h1v3h-1m70 -1h1v1h-1m56 -3h1v3h-1m5 -6h1v6h-1m35 -1h1v1h-1m3 -1h1v1h-1m30 -3h1v3h-1m14 -3h1v3h-1m5 -3h1v3h-1m4 -3h1v3h-1m12 -3h2v3h-2m12 -3h2v3h-2m12 -3h1v3h-1m14 -3h2v3h-2m-277 0h1v1h-1m3 -1h1v1h-1m57 -1h2v1h-2m4 -1h1v1h-1m20 -1h1v1h-1m46 -1h1v1h-1m45 -1h1v1h-1m124 -2h2v2h-2m-220 -1h1v2h-1m58 -1h1v1h-1m-169 -3h1v4h-1m108 -1h1v1h-1m4 -1h2v1h-2m72 -2h2v2h-2m45 -3h1v3h-1m13 -3h4v3h-4m19 -3h1v3h-1m42 -3h1v3h-1m27 -2h2v2h-2m-227 0h1v1h-1m76 -1h1v1h-1m65 -1h1v1h-1m85 -1h2v1h-2m-213 -1h1v2h-1m57 -1h1v1h-1m-159 -2h1v3h-1m96 -4h1v4h-1m6 -1h2v1h-2m56 -1h1v1h-1m2 -1h1v1h-1m60 -1h1v1h-1m5 -1h1v1h-1m28 -3h1v3h-1m38 -3h1v3h-1m23 -2h2v2h-2m-211 0h2v1h-2m52 -1h1v1h-1m4 -1h1v1h-1m35 -1h1v1h-1m-92 0h3v1h-3m61 -2h1v2h-1m5 -1h1v1h-1m2 -2h1v2h-1m143 -2h2v2h-2m-275 -2h1v3h-1m25 -3h1v3h-1m30 -3h1v3h-1m2 -1h1v1h-1m7 -1h2v1h-2m59 -1h2v1h-2m7 -1h3v1h-3m12 -3h1v3h-1m36 -3h1v3h-1m8 -3h1v3h-1m12 -3h1v3h-1m7 -3h1v3h-1m7 -3h2v3h-2m4 -3h2v3h-2m5 -3h1v3h-1m4 -3h2v3h-2m7 -3h1v3h-1m42 -1h2v1h-2m-210 0h1v1h-1m10 -1h1v1h-1m82 -1h1v1h-1m117 -1h2v2h-2m-317 -2h1v3h-1m10 -3h2v3h-2m77 -3h1v3h-1m20 -2h2v2h-2m13 -1h4v1h-4m69 -3h1v3h-1m4 -3h2v3h-2m31 -3h2v3h-2m5 -3h1v3h-1m2 -3h1v3h-1m7 -3h2v3h-2m3 -3h1v3h-1m13 -3h1v3h-1m16 -3h1v3h-1m18 -3h1v3h-1m-183 0h1v1h-1m4 -1h1v1h-1m207 -2h2v2h-2m-117 -1h1v2h-1m116 -1h2v1h-2m-313 -2h1v3h-1m68 -3h2v3h-2m34 -2h2v2h-2m23 -1h1v1h-1m41 -3h1v3h-1m22 -3h1v3h-1m99 -3h2v3h-2m5 -3h2v3h-2m-168 0h1v1h-1m60 -1h1v1h-1m7 -1h2v1h-2m5 -1h1v1h-1m116 -2h2v2h-2m-186 0h1v1h-1m56 -1h3v1h-3m9 -1h1v1h-1m-201 -5h1v6h-1m137 -1h2v1h-2m37 -3h1v3h-1m18 -1h1v1h-1m2 -1h1v1h-1m37 -3h1v3h-1m7 -3h1v3h-1m2 -6h1v6h-1m2 -3h2v3h-2m79 -2h2v2h-2m-183 0h1v1h-1m2 -1h1v1h-1m44 -1h1v1h-1m15 -1h4v1h-4m121 -1h2v1h-2m-181 0h2v1h-2m40 -2h1v2h-1m4 -1h1v1h-1m-80 -2h1v3h-1m7 -3h1v3h-1m5 -3h2v3h-2m52 -1h1v1h-1m11 -1h1v1h-1m57 -6h1v6h-1m10 -6h1v6h-1m5 -3h1v3h-1m9 -3h1v3h-1m9 -3h1v3h-1m22 -3h1v3h-1m5 -3h1v3h-1m10 -3h1v3h-1m14 -2h2v2h-2m-149 0h1v1h-1m4 -1h1v1h-1m4 -1h2v1h-2m59 -1h3v1h-3m-205 -1h1v2h-1m206 -1h2v1h-2m80 -2h2v2h-2m-319 -2h1v3h-1m14 -3h1v3h-1m7 -3h1v3h-1m14 -1h1v1h-1m28 -1h1v1h-1m50 -3h6v3h-6m33 -1h1v1h-1m44 -3h1v3h-1m45 -3h2v3h-2m5 -1h1v1h-1m11 -3h2v3h-2m29 -3h1v3h-1m27 -3h1v3h-1m11 -1h2v1h-2m-213 0h1v1h-1m-104 -1h1v2h-1m4 -1h1v1h-1m59 -2h2v2h-2m49 -2h2v2h-2m146 -2h1v2h-1m22 -2h3v2h-3m23 -2h1v2h-1m13 -2h2v2h-2m-323 -2h4v3h-4m7 -1h2v1h-2m3 -1h3v1h-3m6 -3h1v3h-1m12 -1h1v1h-1m62 -3h1v3h-1m20 -2h2v2h-2m5 -1h1v1h-1m4 -1h3v1h-3m5 -3h2v3h-2m4 -1h1v1h-1m23 -3h1v3h-1m21 -1h1v1h-1m19 -3h1v3h-1m13 -1h3v1h-3m30 -3h1v3h-1m7 -2h1v2h-1m5 -1h2v1h-2m9 -1h1v1h-1m2 -3h1v3h-1m6 -1h1v1h-1m21 -3h1v3h-1m2 -1h1v1h-1m3 -1h2v1h-2m4 -1h1v1h-1m4 -1h1v1h-1m4 -1h1v1h-1m-288 0h5v1h-5m12 -1h1v1h-1m11 -1h2v1h-2m4 -1h1v1h-1m46 -1h1v1h-1m11 -1h2v1h-2m4 -1h1v1h-1m2 -1h1v1h-1m219 -2h2v2h-2m-305 0h1v1h-1m8 -1h2v1h-2m9 -1h7v1h-7m58 -1h1v1h-1m9 -1h3v1h-3m9 -2h1v2h-1m211 -1h2v1h-2m-296 0h4v1h-4m5 -1h10v1h-10m13 -1h1v1h-1m8 -3h1v3h-1m8 -2h2v2h-2m26 -2h2v2h-2m3 -1h3v1h-3m4 -1h2v1h-2m7 -1h4v1h-4m10 -1h2v1h-2m3 -3h3v3h-3m6 -3h1v3h-1m3 -3h1v3h-1m2 -3h2v3h-2m29 -3h1v3h-1m19 -3h1v3h-1m8 -3h1v3h-1m60 -3h2v3h-2m12 -3h1v3h-1m19 -4h1v4h-1m7 -3h1v3h-1m25 -3h3v3h-3m-277 0h2v1h-2m9 -1h4v1h-4m7 -1h2v1h-2m5 -1h3v1h-3m43 -1h1v1h-1m2 -1h1v1h-1m10 -1h1v1h-1m5 -2h1v2h-1m2 -1h1v1h-1m6 -1h1v1h-1m3 -1h4v1h-4m203 -2h2v2h-2m-290 0h2v1h-2m4 -1h2v1h-2m7 -1h1v1h-1m7 -1h1v1h-1m15 -2h3v2h-3m19 -1h1v1h-1m2 -2h1v2h-1m3 -2h1v2h-1m8 -2h1v2h-1m4 -1h3v1h-3m13 -1h3v1h-3m5 -1h2v1h-2m187 -2h1v2h-1m-242 0h4v1h-4m19 -1h4v1h-4m18 -1h2v1h-2m18 -1h1v1h-1m51 -1h1v1h-1m5 -6h1v6h-1m12 -6h1v6h-1m13 -3h1v3h-1m8 -3h1v3h-1m113 -2h2v2h-2m-274 0h2v1h-2m39 -1h2v1h-2m234 -1h2v1h-2m-272 0h1v1h-1m38 -1h1v1h-1m86 -1h1v1h-1m2 -2h2v2h-2m-89 0h2v1h-2m70 -3h1v3h-1m2 -1h1v1h-1m3 -1h2v1h-2m12 -1h2v1h-2m14 -1h1v1h-1m27 -3h1v3h-1m34 -3h1v3h-1m39 -3h1v3h-1m33 -2h2v2h-2m-236 0h4v1h-4m78 -1h1v1h-1m5 -1h3v1h-3m4 -1h1v1h-1m4 -1h1v1h-1m25 -1h2v1h-2m50 -1h6v1h-6m12 -1h1v1h-1m9 -1h1v1h-1m2 -1h2v1h-2m32 -1h7v1h-7m8 -1h3v1h-3m-152 0h1v1h-1m3 -1h2v1h-2m28 -1h1v1h-1m73 -2h3v2h-3m-213 -3h1v4h-1m32 -2h3v2h-3m96 -3h6v3h-6m8 -3h2v3h-2m4 -1h2v1h-2m5 -3h1v3h-1m2 -2h3v2h-3m7 -3h4v3h-4m6 -3h2v3h-2m8 -3h14v3h-14m16 -3h2v3h-2m4 -3h4v3h-4m5 -3h1v3h-1m7 -2h4v2h-4m6 -3h2v3h-2m6 -1h4v1h-4m7 -2h4v2h-4m6 -3h1v3h-1m2 -3h5v3h-5m7 -3h7v3h-7m9 -3h1v3h-1m3 -3h4v3h-4m7 -2h11v2h-11m-221 0h2v1h-2m3 -1h1v1h-1m108 -4h1v4h-1m15 -1h8v1h-8m40 -1h6v1h-6m32 -1h7v1h-7m22 -1h3v1h-3m4 -1h4v1h-4m-256 -1h2v2h-2m152 -2h3v2h-3m6 -1h2v1h-2m51 -2h1v2h-1m3 -2h5v2h-5m-209 -1h1v2h-1m9 -3h1v3h-1m19 -2h3v2h-3m97 -3h2v3h-2m4 -3h2v3h-2m6 -3h2v3h-2m4 -2h2v2h-2m4 -3h1v3h-1m2 -3h2v3h-2m4 -1h4v1h-4m5 -1h3v1h-3m4 -2h5v2h-5m9 -3h2v3h-2m10 -3h8v3h-8m12 -3h5v3h-5m6 -2h8v2h-8m14 -1h6v1h-6m8 -3h2v3h-2m6 -3h2v3h-2m4 -2h6v2h-6m22 -2h8v2h-8m9 -3h1v3h-1m-261 0h2v1h-2m136 -1h2v1h-2m-132 -1h1v3h-1m126 -3h2v3h-2m12 -3h1v3h-1m6 -3h4v3h-4m12 -3h6v3h-6m8 -3h2v3h-2m8 -3h2v3h-2m4 -3h2v3h-2m4 -3h4v3h-4m6 -3h10v3h-10m16 -3h2v3h-2m16 -3h6v3h-6m10 -3h6v3h-6m8 -3h2v3h-2m8 -6h2v6h-2m4 -3h2v3h-2m10 -3h4v3h-4m-260 0h1v1h-1m5 0h2v2h-2m20 -3h1v3h-1m6 -3h1v3h-1m95 -3h4v3h-4m6 -3h2v3h-2m4 -3h8v3h-8m16 -3h2v3h-2m12 -3h4v3h-4m6 -3h4v3h-4m10 -3h6v3h-6m8 -3h8v3h-8m10 -3h2v3h-2m4 -3h6v3h-6m8 -3h4v3h-4m6 -3h2v3h-2m4 -3h4v3h-4m10 -3h4v3h-4m8 -3h4v3h-4m6 -3h6v3h-6m8 -3h4v3h-4m8 -3h2v3h-2m-256 0h1v1h-1m4 -1h2v3h-2m20 -6h1v6h-1m114 -3h4v3h-4m10 -3h8v3h-8m16 -3h6v3h-6m12 -3h2v3h-2m4 -3h12v3h-12m16 -3h2v3h-2m6 -3h6v3h-6m10 -3h4v3h-4m6 -3h2v3h-2m4 -6h2v6h-2m6 -3h2v3h-2m4 -3h4v3h-4m6 -3h2v3h-2m4 -3h6v3h-6m10 -3h6v3h-6m-250 0h1v2h-1m1 0h1v1h-1m23 -3h1v3h-1m98 -6h2v6h-2m4 -6h4v6h-4m8 -3h2v3h-2m8 -3h2v3h-2m4 -3h6v3h-6m10 -3h4v3h-4m6 -3h4v3h-4m6 -3h2v3h-2m4 -3h2v3h-2m4 -3h2v3h-2m4 -3h2v3h-2m4 -3h4v3h-4m16 -3h2v3h-2m4 -3h2v3h-2m4 -3h2v3h-2m4 -3h6v3h-6m8 -3h4v3h-4m6 -3h6v3h-6m8 -3h2v3h-2m6 -3h2v3h-2m4 -3h4v3h-4m6 -3h8v3h-8m-249 0h2v1h-2m19 -1h1v1h-1m-19 0h3v1h-3m15 -2h1v2h-1m-13 0h1v1h-1m13 -1h2v1h-2m3 -2h2v2h-2m105 -3h6v3h-6m14 -3h8v3h-8m10 -3h2v3h-2m4 -3h2v3h-2m6 -3h10v3h-10m12 -3h4v3h-4m6 -3h4v3h-4m6 -3h2v3h-2m4 -3h2v3h-2m8 -3h2v3h-2m16 -3h6v3h-6m8 -3h6v3h-6m12 -3h2v3h-2m4 -3h10v3h-10m14 -3h4v3h-4m6 -3h4v3h-4m-250 0h2v1h-2m1 0h2v1h-2m1 0h1v1h-1m8 -1h1v1h-1m2 -1h2v1h-2m3 -2h1v2h-1m105 -3h8v3h-8m12 -3h6v3h-6m18 -3h4v3h-4m6 -3h6v3h-6m12 -3h2v3h-2m8 -3h2v3h-2m10 -9h2v9h-2m4 -3h10v3h-10m12 -3h6v3h-6m8 -3h2v3h-2m4 -3h2v3h-2m6 -3h2v3h-2m4 -3h4v3h-4m10 -3h10v3h-10m12 -3h4v3h-4m-130 -3h2v6h-2m4 -3h2v3h-2m4 -3h4v3h-4m8 -3h4v3h-4m6 -3h2v3h-2m4 -6h2v6h-2m4 -3h8v3h-8m10 -3h2v3h-2m4 -3h2v3h-2m4 -6h2v6h-2m8 -3h4v3h-4m12 -3h4v3h-4m6 -3h2v3h-2m4 -3h4v3h-4m6 -3h2v3h-2m4 -3h4v3h-4m8 -3h2v3h-2m4 -3h2v3h-2m6 -3h6v3h-6m14 -3h4v3h-4m6 -3h4v3h-4m6 -3h6v3h-6m-130 0h8v3h-8m18 -3h2v3h-2m4 -3h6v3h-6m10 -3h4v3h-4m14 -3h4v3h-4m8 -3h6v3h-6m8 -9h2v9h-2m4 -3h6v3h-6m8 -3h2v3h-2m4 -3h6v3h-6m10 -3h6v3h-6m8 -3h2v3h-2m4 -3h2v3h-2m4 -3h4v3h-4m6 -3h6v3h-6m8 -3h6v3h-6m-118 0h4v3h-4m6 -3h2v3h-2m4 -3h2v3h-2m4 -3h2v3h-2m6 -3h2v3h-2m6 -3h4v3h-4m6 -3h6v3h-6m8 -3h2v3h-2m4 -3h6v3h-6m8 -3h2v3h-2m6 -3h4v3h-4m8 -3h4v3h-4m10 -3h4v3h-4m6 -3h2v3h-2m4 -3h6v3h-6m8 -3h8v3h-8m10 -3h10v3h-10m12 -3h6v3h-6m8 -3h2v3h-2m6 -3h2v3h-2m4 -3h2v3h-2m-136 0h2v1h-2m4 -1h4v1h-4m6 -1h16v1h-16m22 -1h2v1h-2m8 -1h10v1h-10m16 -1h4v1h-4m6 -1h2v1h-2m4 -1h2v1h-2m4 -1h10v1h-10m18 -1h2v1h-2m4 -1h2v1h-2m4 -1h6v1h-6m14 -1h8v1h-8m14 -1h12v1h-12m-297 4h2v1h-2m17 -1h1v1h-1m11 -1h1v1h-1m17 -1h1v1h-1m6 -1h1v1h-1m14 -1h1v1h-1m23 -1h2v1h-2m9 -1h1v1h-1m2 -1h1v1h-1m3 -1h1v1h-1m17 -1h1v1h-1m2 -1h2v1h-2m7 -1h2v1h-2m5 -1h1v1h-1m12 -1h1v1h-1m6 -1h1v1h-1m3 -1h1v1h-1m6 -1h1v1h-1m14 -1h1v1h-1m5 -1h1v1h-1m11 -1h1v1h-1m20 -1h1v1h-1m23 -1h1v1h-1m20 -1h1v1h-1m6 -1h1v1h-1m4 -1h1v1h-1m7 -1h1v1h-1m17 -1h2v1h-2m35 -1h1v1h-1m6 -1h5v1h-5m15 -1h2v1h-2m-335 0h1v2h-1m6 -2h1v2h-1m21 -2h1v2h-1m4 -3h1v3h-1m2 -2h2v2h-2m8 -2h2v2h-2m5 -2h1v2h-1m6 -2h2v2h-2m6 -2h1v2h-1m2 -2h1v2h-1m5 -2h1v2h-1m40 -2h1v2h-1m30 -3h1v3h-1m7 -2h1v2h-1m3 -2h2v2h-2m4 -2h2v2h-2m12 -2h1v2h-1m4 -2h1v2h-1m2 -2h1v2h-1m8 -2h2v2h-2m4 -2h1v2h-1m10 -2h2v2h-2m5 -2h1v2h-1m5 -2h1v2h-1m2 -2h2v2h-2m4 -2h1v2h-1m4 -2h2v2h-2m3 -2h1v2h-1m8 -2h1v2h-1m12 -2h1v2h-1m45 -2h1v2h-1m6 -2h2v2h-2m16 -2h1v2h-1m8 -2h1v2h-1m6 -2h1v2h-1m3 -2h1v2h-1m17 -2h2v2h-2m6 -2h2v2h-2m4 -2h2v2h-2m7 -2h2v2h-2m-362 6h271v3h-271m274 -3h3v3h-3m5 -3h87v3h-87m-21 15h2v1h-2m4 -2h2v2h-2m-7 0h1v1h-1m-1 0h1v1h-1m26 -1h1v1h-1m-27 0h1v1h-1m26 -1h1v1h-1m-28 1h1v2h-1m-41 2h1v1h-1m8 0h1v1h-1m-3 -1h1v2h-1m23 -1h2v1h-2m-15 0h1v1h-1m10 -1h1v1h-1m7 -1h1v1h-1m-15 0h3v1h-3m4 -1h1v1h-1m11 -1h2v1h-2m10 -1h1v1h-1m-40 -1h2v2h-2m0 0h1v1h-1m17 -2h1v2h-1m15 -1h1v1h-1m-51 0h1v1h-1m14 -3h1v3h-1m-2 0h3v1h-3m42 -1h1v1h-1m-50 0h1v1h-1m8 -1h2v1h-2m43 -1h1v1h-1m37 -3h1v3h-1m-87 1h1v2h-1m-19 3h4v1h-4m0 0h5v1h-5m18 -2h1v2h-1m-184 -2h2v3h-2m24 -3h2v3h-2m4 -3h2v3h-2m54 -3h2v3h-2m18 -3h2v3h-2m12 -3h2v3h-2m12 -3h2v3h-2m8 -3h2v3h-2m34 -1h4v1h-4m116 -3h2v3h-2m32 -3h2v3h-2m17 -2h1v2h-1m3 -3h4v3h-4m12 -3h2v3h-2m6 -3h2v3h-2m-194 0h4v1h-4m-151 0h1v1h-1m162 -2h1v2h-1m161 -1h1v1h-1m2 -2h4v2h-4m-336 -2h4v3h-4m6 -1h2v1h-2m3 -1h1v1h-1m2 -1h3v1h-3m5 -1h1v1h-1m4 -3h6v3h-6m16 -3h2v3h-2m40 -3h2v3h-2m12 -3h2v3h-2m56 -3h2v3h-2m10 -3h2v3h-2m18 -1h2v1h-2m105 -3h2v3h-2m33 -3h4v3h-4m10 -3h2v3h-2m14 -1h2v1h-2m4 -1h2v1h-2m4 -3h2v3h-2m-339 0h8v1h-8m10 -1h4v1h-4m5 -1h2v1h-2m77 -1h1v1h-1m13 -1h1v1h-1m-106 0h9v1h-9m17 -1h1v1h-1m3 -2h2v2h-2m72 -1h4v1h-4m9 -2h2v2h-2m70 -2h2v2h-2m-583 0h2v1h-2m8 -1h1v1h-1m396 -3h2v3h-2m4 -3h1v3h-1m2 -2h1v2h-1m2 -1h8v1h-8m11 -2h2v2h-2m8 -1h4v1h-4m27 -3h4v3h-4m8 -3h2v3h-2m36 -1h5v1h-5m15 -2h3v2h-3m9 -3h2v3h-2m14 -3h2v3h-2m8 -3h2v3h-2m20 -3h2v3h-2m4 -5h1v5h-1m11 -1h1v1h-1m68 -3h1v3h-1m35 -3h2v3h-2m4 -3h4v3h-4m20 -3h2v3h-2m6 -3h2v3h-2m24 -3h12v3h-12m14 -3h6v3h-6m-754 0h4v1h-4m7 -1h1v1h-1m404 -1h1v1h-1m13 -1h1v1h-1m2 -1h2v1h-2m5 -1h8v1h-8m9 -1h2v1h-2m76 -1h1v1h-1m226 -1h5v1h-5m21 -1h1v1h-1m-752 0h1v1h-1m416 -1h1v1h-1m5 -1h10v1h-10m73 -2h4v2h-4m256 -2h1v2h-1m2 -1h2v1h-2m-764 -1h3v2h-3m7 -2h2v2h-2m397 -3h1v3h-1m3 -3h3v3h-3m4 -2h1v2h-1m3 -3h2v3h-2m19 -1h3v1h-3m5 -1h8v1h-8m9 -3h4v3h-4m6 -3h2v3h-2m4 -3h2v3h-2m8 -3h2v3h-2m14 -3h2v3h-2m4 -6h2v6h-2m17 -3h5v3h-5m7 -1h1v1h-1m7 -4h1v4h-1m5 -3h1v3h-1m3 -3h3v3h-3m61 -3h2v3h-2m140 -3h2v3h-2m15 -4h1v4h-1m3 -3h1v3h-1m2 -2h1v2h-1m2 -2h3v2h-3m8 -3h4v3h-4m9 -1h4v1h-4m-330 0h1v1h-1m9 -1h6v1h-6m9 -1h5v1h-5m6 -1h3v1h-3m4 -1h5v1h-5m57 -1h1v1h-1m-112 -1h5v2h-5m27 -1h2v1h-2m6 -2h2v2h-2m4 -1h5v1h-5m7 -1h5v1h-5m32 -1h2v1h-2m276 -2h2v2h-2m-353 0h3v1h-3m4 -1h1v1h-1m40 -1h6v1h-6m10 -2h7v2h-7m15 -3h2v3h-2m7 -1h4v1h-4m20 -3h1v3h-1m3 -3h1v3h-1m32 -3h2v3h-2m24 -3h2v3h-2m8 -3h4v3h-4m65 -1h1v1h-1m55 -3h2v3h-2m4 -3h2v3h-2m18 -6h2v6h-2m12 -3h2v3h-2m10 -3h2v3h-2m6 -3h2v3h-2m4 -3h3v3h-3m6 -3h2v3h-2m11 -1h1v1h-1m-310 0h1v1h-1m30 -1h1v1h-1m5 -1h3v1h-3m-78 -1h3v2h-3m57 -2h3v2h-3m15 -1h2v1h-2m-464 -2h2v3h-2m392 -1h2v1h-2m44 -2h2v2h-2m11 -3h1v3h-1m2 -1h4v1h-4m9 -3h2v3h-2m5 -1h3v1h-3m8 -2h3v2h-3m7 -3h4v3h-4m10 -3h2v3h-2m18 -3h1v3h-1m3 -3h3v3h-3m9 -3h2v3h-2m10 -3h4v3h-4m14 -3h2v3h-2m16 -3h2v3h-2m46 -1h2v1h-2m106 -3h2v3h-2m7 -3h1v3h-1m3 -3h2v3h-2m6 -3h5v3h-5m6 -3h4v3h-4m6 -6h4v6h-4m8 -3h1v3h-1m3 -3h2v3h-2m3 -3h2v3h-2m-300 0h2v1h-2m19 -1h5v1h-5m32 -1h2v1h-2m82 -4h1v4h-1m19 -1h3v1h-3m-140 -1h1v2h-1m25 -2h2v2h-2m13 -1h2v1h-2m-507 -2h1v3h-1m5 -3h1v3h-1m440 -3h1v3h-1m4 -6h1v6h-1m3 -3h2v3h-2m6 -2h1v2h-1m7 -2h3v2h-3m12 -2h4v2h-4m17 -1h3v1h-3m12 -1h3v1h-3m7 -3h1v3h-1m2 -3h1v3h-1m14 -3h2v3h-2m12 -6h2v6h-2m70 -2h1v2h-1m11 -3h1v3h-1m58 -3h1v3h-1m17 -3h2v3h-2m18 -3h4v3h-4m8 -2h2v2h-2m14 -3h2v3h-2m4 -3h6v3h-6m14 -3h1v3h-1m-297 0h5v1h-5m9 -1h2v1h-2m12 -1h1v1h-1m23 -1h7v1h-7m-47 -1h2v2h-2m4 -1h4v1h-4m41 -1h9v1h-9m-51 -2h2v3h-2m10 -1h5v1h-5m7 -2h2v2h-2m7 -3h5v3h-5m6 -2h2v2h-2m4 -1h1v1h-1m12 -3h3v3h-3m5 -1h3v1h-3m4 -1h5v1h-5m7 -3h2v3h-2m6 -3h2v3h-2m6 -3h2v3h-2m4 -3h2v3h-2m107 -3h3v3h-3m7 -3h1v3h-1m38 -3h2v3h-2m28 -3h2v3h-2m8 -3h2v3h-2m4 -3h2v3h-2m7 -3h1v3h-1m4 -6h1v6h-1m5 -3h1v3h-1m2 -3h3v3h-3m8 -3h6v3h-6m8 -3h1v3h-1m3 -3h1v3h-1m-285 0h1v1h-1m8 -1h5v1h-5m243 -1h1v1h-1m2 -1h6v1h-6m-245 0h2v1h-2m3 -1h2v1h-2m235 -2h3v2h-3m-724 -2h2v3h-2m4 -3h2v3h-2m455 -3h1v3h-1m4 -3h1v3h-1m23 -1h1v1h-1m8 -3h2v3h-2m28 -3h2v3h-2m20 -3h4v3h-4m10 -6h2v6h-2m55 -3h1v3h-1m23 -6h1v6h-1m4 -3h2v3h-2m13 -3h2v3h-2m48 -3h1v3h-1m11 -3h4v3h-4m18 -1h4v1h-4m5 -2h8v2h-8m11 -3h1v3h-1m2 -3h2v3h-2m8 -3h2v3h-2m6 -3h4v3h-4m5 -3h2v3h-2m-191 0h2v1h-2m152 -1h2v1h-2m-153 0h3v1h-3m163 -2h2v2h-2m-242 -3h1v4h-1m20 -6h2v6h-2m4 -3h2v3h-2m12 -3h2v3h-2m10 -3h2v3h-2m34 -1h2v1h-2m46 -3h2v3h-2m82 -3h2v3h-2m4 -3h2v3h-2m4 -3h2v3h-2m8 -3h2v3h-2m7 -2h3v2h-3m5 -3h1v3h-1m5 -1h3v1h-3m7 -3h5v3h-5m8 -3h2v3h-2m4 -3h8v3h-8m10 -3h4v3h-4m5 -3h4v3h-4m-294 0h1v1h-1m79 -1h2v1h-2m175 -1h1v2h-1m-269 -2h1v3h-1m15 -2h2v2h-2m18 -3h2v3h-2m3 -3h2v3h-2m4 -3h2v3h-2m8 -3h8v3h-8m26 -3h2v3h-2m19 -2h3v2h-3m4 -2h1v2h-1m5 -6h2v6h-2m4 -6h2v6h-2m35 -3h1v3h-1m21 -3h1v3h-1m11 -3h1v3h-1m7 -3h1v3h-1m6 -3h2v3h-2m4 -3h2v3h-2m64 -3h2v3h-2m6 -3h2v3h-2m7 -1h3v1h-3m5 -3h4v3h-4m6 -3h1v3h-1m3 -3h1v3h-1m5 -3h1v3h-1m2 -3h1v3h-1m8 -3h4v3h-4m6 -3h1v3h-1m3 -3h2v3h-2m-304 0h1v3h-1m6 -6h1v6h-1m26 -3h1v3h-1m5 -3h4v3h-4m8 -3h2v3h-2m8 -3h2v3h-2m8 -3h4v3h-4m10 -3h2v3h-2m22 -3h2v3h-2m8 -3h4v3h-4m6 -3h2v3h-2m124 -1h2v1h-2m26 -3h2v3h-2m9 -3h2v3h-2m3 -3h2v3h-2m5 -3h1v3h-1m5 -3h1v3h-1m18 -3h2v3h-2m6 -3h3v3h-3m5 -2h1v2h-1m-306 0h2v1h-2m12 -1h1v1h-1m15 -1h1v1h-1m3 -1h2v1h-2m-36 0h1v1h-1m5 -1h3v1h-3m4 -1h2v1h-2m7 -1h3v1h-3m4 -1h3v1h-3m5 -2h2v2h-2m5 -1h2v1h-2m3 -1h4v1h-4m-37 0h4v1h-4m5 -1h1v1h-1m3 -1h1v1h-1m3 -1h1v1h-1m2 -1h9v1h-9m13 -1h1v1h-1m7 -1h1v1h-1m3 -1h1v1h-1m11 -3h2v3h-2m4 -3h2v3h-2m12 -3h2v3h-2m10 -3h2v3h-2m16 -6h2v6h-2m6 -3h2v3h-2m16 -3h1v3h-1m10 -3h1v3h-1m2 -3h1v3h-1m61 -3h1v3h-1m16 -3h1v3h-1m40 -3h2v3h-2m31 -3h8v3h-8m11 -3h4v3h-4m9 -3h4v3h-4m8 -9h2v9h-2m6 -3h4v3h-4m7 -3h2v3h-2m-32 0h1v2h-1m-727 -2h2v3h-2m447 -3h3v3h-3m11 -3h2v3h-2m28 -4h2v4h-2m32 -3h2v3h-2m14 -3h2v3h-2m6 -3h4v3h-4m8 -3h1v3h-1m4 -3h2v3h-2m4 -3h4v3h-4m6 -3h2v3h-2m8 -3h2v3h-2m48 -3h2v3h-2m18 -3h1v3h-1m12 -3h1v3h-1m40 -3h2v3h-2m4 -3h2v3h-2m24 -3h2v3h-2m4 -3h2v3h-2m5 -3h1v3h-1m7 -3h5v3h-5m8 -3h1v3h-1m3 -3h5v3h-5m9 -3h2v3h-2m5 -3h8v3h-8m-41 0h4v1h-4m-269 -1h5v3h-5m15 -3h2v3h-2m4 -3h2v3h-2m44 -6h2v6h-2m18 -3h2v3h-2m20 -3h6v3h-6m8 -3h2v3h-2m16 -3h1v3h-1m59 -3h1v3h-1m57 -3h3v3h-3m8 -3h2v3h-2m8 -3h2v3h-2m12 -2h3v2h-3m5 -3h8v3h-8m10 -3h1v3h-1m4 -3h5v3h-5m8 -3h1v3h-1m5 -3h4v3h-4m6 -3h2v3h-2m-52 0h2v2h-2m-699 -2h1v3h-1m448 -3h2v3h-2m49 -3h2v3h-2m12 -3h2v3h-2m8 -3h2v3h-2m10 -3h2v3h-2m14 -6h2v6h-2m4 -3h4v3h-4m23 -3h1v3h-1m27 -3h1v3h-1m31 -3h1v3h-1m57 -3h1v3h-1m2 -3h2v3h-2m7 -3h1v3h-1m7 -1h4v1h-4m8 -6h2v6h-2m6 -3h8v3h-8m10 -3h2v3h-2m4 -3h3v3h-3m11 -3h1v3h-1m4 -3h3v3h-3m5 -3h2v3h-2m8 -3h2v3h-2m6 -3h1v3h-1m-58 0h2v1h-2m-1 0h4v1h-4m9 -2h1v2h-1m-267 -2h7v3h-7m17 -6h2v6h-2m8 -3h2v3h-2m6 -3h2v3h-2m14 -3h2v3h-2m44 -3h2v3h-2m12 -3h2v3h-2m6 -3h2v3h-2m10 -3h2v3h-2m66 -3h1v3h-1m5 -1h1v1h-1m54 -3h3v3h-3m15 -1h2v1h-2m3 -1h3v1h-3m12 -3h5v3h-5m6 -3h13v3h-13m21 -3h1v3h-1m2 -3h8v3h-8m13 -9h2v9h-2m-52 0h2v1h-2m-8 -1h1v2h-1m8 -1h3v1h-3m-259 -2h2v3h-2m4 -3h4v3h-4m6 -3h2v3h-2m40 -3h2v3h-2m40 -3h2v3h-2m4 -3h2v3h-2m6 -3h1v3h-1m12 -3h4v3h-4m56 -3h2v3h-2m41 -3h1v3h-1m31 -3h1v3h-1m13 -3h2v3h-2m7 -1h1v1h-1m4 -4h2v4h-2m4 -3h1v3h-1m3 -3h1v3h-1m2 -3h4v3h-4m7 -3h3v3h-3m12 -3h4v3h-4m10 -3h2v3h-2m5 -3h2v3h-2m3 -3h4v3h-4m5 -3h2v3h-2m-50 0h9v1h-9m-86 -4h1v5h-1m2 -2h2v2h-2m3 -2h2v2h-2m66 -3h2v3h-2m12 -2h2v2h-2m-262 -2h4v3h-4m6 -3h4v3h-4m66 -3h2v3h-2m34 -3h2v3h-2m8 -3h2v3h-2m66 -1h6v1h-6m26 -3h2v3h-2m31 -3h1v3h-1m3 -3h2v3h-2m5 -3h1v3h-1m5 -1h1v1h-1m7 -3h2v3h-2m6 -1h1v1h-1m2 -2h5v2h-5m6 -2h3v2h-3m4 -3h3v3h-3m5 -3h5v3h-5m10 -3h4v3h-4m6 -3h4v3h-4m12 -3h2v3h-2m-129 0h1v1h-1m2 -1h2v1h-2m22 -1h1v1h-1m60 -1h3v1h-3m-65 0h1v1h-1m2 -2h1v2h-1m40 -2h1v2h-1m-682 0h1v1h-1m4 -1h2v1h-2m435 -6h1v6h-1m2 -3h3v3h-3m41 -3h2v3h-2m8 -3h2v3h-2m32 -3h2v3h-2m4 -3h4v3h-4m11 -3h1v3h-1m3 -3h1v3h-1m2 -3h7v3h-7m13 -3h3v3h-3m65 -2h2v2h-2m5 -1h1v1h-1m11 -6h1v6h-1m4 -1h3v1h-3m4 -2h2v2h-2m4 -1h1v1h-1m34 -1h2v1h-2m9 -3h2v3h-2m15 -2h2v2h-2m3 -3h5v3h-5m8 -3h1v3h-1m3 -3h2v3h-2m3 -3h3v3h-3m9 -3h2v3h-2m3 -3h5v3h-5m9 -3h2v3h-2m4 -3h2v3h-2m7 -3h2v3h-2m3 -3h1v3h-1m-134 0h4v1h-4m7 -1h7v1h-7m74 -1h7v1h-7m27 -1h4v1h-4m6 -1h2v1h-2m-97 -1h5v2h-5m68 -1h3v1h-3m-253 -8h2v9h-2m30 -2h2v2h-2m40 -3h2v3h-2m16 -3h1v3h-1m82 -2h2v2h-2m4 -2h3v2h-3m4 -2h2v2h-2m10 -1h3v1h-3m6 -3h4v3h-4m49 -3h1v3h-1m8 -2h1v2h-1m5 -1h2v1h-2m10 -3h4v3h-4m6 -3h2v3h-2m6 -2h8v2h-8m10 -3h2v3h-2m4 -3h4v3h-4m-116 0h4v1h-4m10 -1h2v1h-2m68 -1h2v1h-2m0 0h1v1h-1m10 -2h4v2h-4m-278 -2h5v3h-5m6 -3h8v3h-8m24 -3h2v3h-2m16 -3h4v3h-4m30 -9h2v9h-2m32 -3h1v3h-1m6 -6h2v6h-2m77 -2h1v2h-1m5 -5h2v5h-2m47 -6h1v6h-1m8 -3h1v3h-1m4 -3h1v3h-1m16 -3h1v3h-1m3 -6h2v6h-2m4 -1h2v1h-2m-7 0h3v2h-3m-272 -1h1v2h-1m3 -3h1v3h-1m2 -3h1v3h-1m8 -3h4v3h-4m12 -6h2v6h-2m12 -3h2v3h-2m16 -3h2v3h-2m8 -3h2v3h-2m10 -3h2v3h-2m18 -3h2v3h-2m8 -9h2v9h-2m6 -3h2v3h-2m9 -3h1v3h-1m5 -3h2v3h-2m3 -3h1v3h-1m73 -3h2v3h-2m16 -6h2v6h-2m39 -3h1v3h-1m3 -1h2v1h-2m21 -1h2v1h-2m-1 0h3v1h-3m-62 -1h1v2h-1m-206 -2h2v3h-2m14 -3h4v3h-4m24 -3h4v3h-4m14 -3h2v3h-2m32 -3h2v3h-2m16 -3h1v3h-1m2 -3h2v3h-2m5 -3h7v3h-7m61 -3h2v3h-2m38 -1h2v1h-2m34 -6h2v6h-2m8 -3h1v3h-1m6 -3h1v3h-1m14 -2h2v2h-2m-152 0h2v2h-2m-119 -2h1v3h-1m5 -3h1v3h-1m2 -6h2v6h-2m12 -3h2v3h-2m8 -3h2v3h-2m30 -3h2v3h-2m4 -3h4v3h-4m16 -3h2v3h-2m4 -3h2v3h-2m8 -3h2v3h-2m12 -3h2v3h-2m3 -3h3v3h-3m5 -3h1v3h-1m5 -3h1v3h-1m2 -3h1v3h-1m8 -3h1v3h-1m86 -3h2v3h-2m35 -1h1v1h-1m7 -3h1v3h-1m16 -6h2v6h-2m-17 0h2v1h-2m-7 -1h2v2h-2m-243 -2h5v3h-5m8 -3h2v3h-2m16 -3h2v3h-2m22 -3h4v3h-4m10 -3h4v3h-4m10 -3h2v3h-2m26 -3h2v3h-2m8 -3h1v3h-1m14 -3h1v3h-1m8 -3h2v3h-2m58 -3h2v3h-2m24 -3h2v3h-2m6 -3h1v3h-1m34 -1h1v1h-1m3 -3h1v3h-1m3 -2h1v3h-1m-250 -1h2v3h-2m4 -3h1v3h-1m2 -3h2v3h-2m6 -3h2v3h-2m42 -3h2v3h-2m36 -3h2v3h-2m14 -3h1v3h-1m4 -3h1v3h-1m3 -3h5v3h-5m11 -3h1v3h-1m28 -3h2v3h-2m42 -6h2v6h-2m8 -3h4v3h-4m9 -3h2v3h-2m35 -3h2v3h-2m-245 0h5v3h-5m33 -3h2v3h-2m34 -3h2v3h-2m16 -3h2v3h-2m27 -3h1v3h-1m5 -3h4v3h-4m58 -1h1v1h-1m38 -3h2v3h-2m33 -3h3v3h-3m6 -5h2v5h-2m5 -3h1v3h-1m13 -3h1v3h-1m-58 0h4v1h-4m-209 -1h2v3h-2m8 -3h2v3h-2m36 -3h2v3h-2m8 -3h2v3h-2m20 -3h2v3h-2m6 -3h4v3h-4m12 -3h2v3h-2m6 -3h2v3h-2m4 -3h2v3h-2m4 -6h2v6h-2m9 -3h1v3h-1m45 -6h2v6h-2m10 -3h2v3h-2m24 -3h2v3h-2m8 -3h2v3h-2m10 -2h3v2h-3m0 0h2v2h-2m3 -2h1v2h-1m39 -2h1v2h-1m-253 -2h5v3h-5m25 -3h2v3h-2m6 -3h2v3h-2m30 -3h2v3h-2m6 -3h2v3h-2m37 -3h1v3h-1m5 -3h2v3h-2m4 -3h1v3h-1m3 -3h1v3h-1m4 -3h1v3h-1m3 -3h1v3h-1m28 -3h2v3h-2m48 -3h2v3h-2m12 -1h4v1h-4m34 -6h2v6h-2m6 -6h1v6h-1m5 -3h1v3h-1m-6 0h3v1h-3m-249 -1h4v3h-4m42 -3h2v3h-2m10 -3h2v3h-2m18 -3h4v3h-4m32 -3h2v3h-2m6 -3h1v3h-1m3 -3h2v3h-2m99 -3h1v3h-1m34 -3h3v3h-3m4 -2h3v2h-3m19 -3h1v3h-1m-267 0h3v3h-3m26 -3h2v3h-2m46 -3h2v3h-2m4 -3h2v3h-2m14 -3h2v3h-2m10 -3h2v3h-2m4 -3h1v3h-1m5 -3h2v3h-2m3 -3h2v3h-2m4 -6h2v6h-2m8 -3h1v3h-1m33 -3h1v3h-1m13 -3h2v3h-2m38 -3h4v3h-4m35 -3h1v3h-1m2 -3h1v3h-1m4 -3h1v3h-1m-39 0h3v2h-3m-211 -2h1v3h-1m3 -3h1v3h-1m32 -6h2v6h-2m28 -3h2v3h-2m16 -3h2v3h-2m32 -3h1v3h-1m4 -3h1v3h-1m4 -3h2v3h-2m31 -3h1v3h-1m9 -3h2v3h-2m52 -1h1v1h-1m2 -1h1v1h-1m30 -3h6v3h-6m7 -3h2v3h-2m8 -3h1v3h-1m-47 0h3v1h-3m35 -1h2v1h-2m3 -1h4v1h-4m-3 0h1v1h-1m-246 -2h3v3h-3m19 -3h2v3h-2m38 -3h2v3h-2m24 -3h2v3h-2m8 -3h2v3h-2m8 -9h2v9h-2m7 -3h2v3h-2m7 -3h2v3h-2m3 -3h1v3h-1m44 -3h1v3h-1m39 -3h2v3h-2m15 -2h2v2h-2m37 -2h2v2h-2m3 -2h1v2h-1m-252 0h1v1h-1m2 -1h3v1h-3m-2 0h5v2h-5m27 -3h2v3h-2m28 -3h2v3h-2m6 -3h2v3h-2m12 -3h2v3h-2m20 -3h2v3h-2m8 -3h4v3h-4m8 -3h6v3h-6m62 -3h2v3h-2m41 -3h1v3h-1m36 -3h2v3h-2m-246 0h3v3h-3m7 -3h2v3h-2m4 -3h2v3h-2m4 -3h2v3h-2m7 -9h1v9h-1m16 -3h1v3h-1m35 -3h2v3h-2m29 -3h2v3h-2m5 -3h1v3h-1m3 -3h1v3h-1m3 -3h1v3h-1m10 -6h1v6h-1m26 -3h2v3h-2m36 -3h2v3h-2m4 -3h2v3h-2m18 -3h5v3h-5m40 -3h2v3h-2m-238 0h2v3h-2m6 -3h4v3h-4m36 -3h2v3h-2m12 -3h2v3h-2m16 -3h4v3h-4m12 -3h2v3h-2m4 -6h2v6h-2m4 -3h2v3h-2m8 -3h6v3h-6m8 -3h2v3h-2m6 -3h2v3h-2m27 -3h1v3h-1m3 -1h1v1h-1m59 -3h2v3h-2m39 -3h1v3h-1m17 -3h1v3h-1m-153 0h1v2h-1m131 -2h1v2h-1m-211 -2h2v3h-2m36 -3h2v3h-2m10 -3h2v3h-2m8 -3h2v3h-2m33 -3h1v3h-1m47 -3h2v3h-2m44 -3h1v3h-1m31 -3h1v3h-1m4 -6h2v6h-2m4 -3h1v3h-1m-143 0h1v2h-1m104 -2h3v2h-3m-198 -2h2v3h-2m30 -3h2v3h-2m6 -3h2v3h-2m4 -3h2v3h-2m10 -3h2v3h-2m39 -3h1v3h-1m9 -3h1v3h-1m10 -3h2v3h-2m35 -3h3v3h-3m27 -3h2v3h-2m8 -3h2v3h-2m4 -3h4v3h-4m17 -1h2v1h-2m34 -3h1v3h-1m-248 -9h3v11h-3m213 -2h4v2h-4m39 -2h1v2h-1m-252 0h2v1h-2m24 -6h1v6h-1m16 -3h1v3h-1m9 -3h2v3h-2m38 -3h2v3h-2m14 -3h2v3h-2m10 -3h4v3h-4m14 -3h1v3h-1m28 -3h1v3h-1m38 -3h2v3h-2m8 -3h2v3h-2m14 -1h5v1h-5m36 -1h1v1h-1m3 -1h2v1h-2m11 -1h1v1h-1"/>
<path fill="#0022ff" d="M0 0m647 52h2v1h-2m8 -1h2v1h-2m26 -1h1v1h-1m5 -1h1v1h-1m-38 0h1v1h-1m3 -2h1v2h-1m5 -1h1v1h-1m38 -1h1v1h-1m2 -1h2v1h-2m76 -2h2v2h-2m24 -2h1v2h-1m26 -2h1v2h-1m-243 0h2v1h-2m21 -1h1v1h-1m80 -1h1v1h-1m13 -1h1v1h-1m-130 0h1v1h-1m10 -1h1v1h-1m9 -1h2v1h-2m9 -1h2v1h-2m16 -1h1v1h-1m-59 0h2v1h-2m4 -1h1v1h-1m14 -1h1v1h-1m19 -1h1v1h-1m20 -1h1v1h-1m14 -1h1v1h-1m156 -3h1v3h-1m39 -3h1v3h-1m6 -3h1v3h-1m9 -3h2v3h-2m8 -3h1v3h-1m-295 0h1v1h-1m144 -1h1v1h-1m42 -1h1v1h-1m-193 0h1v1h-1m2 -1h1v1h-1m63 -2h1v2h-1m27 -1h1v1h-1m4 -1h1v1h-1m-108 -1h4v2h-4m63 -3h1v3h-1m38 -3h1v3h-1m3 -1h2v1h-2m99 -3h1v3h-1m9 -1h1v1h-1m32 -3h1v3h-1m56 -3h1v3h-1m5 -3h1v3h-1m8 -3h1v3h-1m-211 0h1v1h-1m8 -1h1v1h-1m14 -1h1v1h-1m72 -1h1v1h-1m-196 -1h2v3h-2m4 -3h2v3h-2m13 -3h1v3h-1m18 -3h1v3h-1m67 -2h2v2h-2m5 -3h1v3h-1m11 -1h1v1h-1m5 -2h2v2h-2m82 -3h1v3h-1m5 -3h1v3h-1m4 -2h1v2h-1m20 -3h2v3h-2m3 -3h2v3h-2m10 -3h2v3h-2m16 -3h2v3h-2m4 -3h1v3h-1m16 -3h2v3h-2m-89 0h1v1h-1m54 -1h1v1h-1m-133 -1h2v2h-2m9 -2h1v2h-1m5 -1h1v1h-1m114 -2h1v2h-1m-164 -2h1v3h-1m42 -1h1v1h-1m8 -1h2v1h-2m51 -1h1v1h-1m23 -3h1v3h-1m58 -3h1v3h-1m15 -3h2v3h-2m14 -6h1v6h-1m9 -3h2v3h-2m14 -3h1v3h-1m-208 0h1v1h-1m17 -1h2v1h-2m55 -1h1v1h-1m-42 0h1v1h-1m41 -1h1v1h-1m-146 -2h2v3h-2m87 -3h1v3h-1m18 -1h2v1h-2m49 -1h1v1h-1m57 -3h1v3h-1m17 -3h1v3h-1m25 -3h1v3h-1m3 -3h1v3h-1m10 -3h1v3h-1m7 -3h1v3h-1m8 -3h3v3h-3m-189 -2h1v3h-1m16 -1h1v1h-1m-3 0h1v1h-1m2 -1h2v1h-2m-11 -2h1v3h-1m86 -3h1v3h-1m43 -3h1v3h-1m2 -3h1v3h-1m16 -6h1v6h-1m14 -3h2v3h-2m-715 -2h2v3h-2m547 -1h1v1h-1m23 -1h1v2h-1m-110 -2h2v3h-2m178 -2h1v2h-1m22 -3h1v3h-1m10 -3h1v3h-1m11 -3h2v3h-2m9 -3h1v3h-1m18 -3h1v3h-1m28 -3h1v3h-1m-164 1h1v1h-1m115 -2h1v3h-1m19 -3h2v3h-2m32 -3h1v3h-1m12 -3h1v3h-1m-209 1h1v1h-1m39 -1h1v1h-1m22 -1h1v1h-1m-86 -5h1v6h-1m24 -1h2v1h-2m66 -1h1v1h-1m15 -1h1v1h-1m39 -3h1v3h-1m19 -3h1v3h-1m14 -3h1v3h-1m2 -3h1v3h-1m10 -3h1v3h-1m4 -3h2v3h-2m5 -3h1v3h-1m12 -3h1v3h-1m6 -3h2v3h-2m-196 0h1v1h-1m50 -1h1v1h-1m34 -1h1v1h-1m-21 0h1v1h-1m8 -1h1v1h-1m-177 -2h4v3h-4m50 -3h1v3h-1m44 -3h1v3h-1m12 -2h2v2h-2m21 -3h2v3h-2m29 -1h1v1h-1m11 -1h1v1h-1m10 -1h2v1h-2m12 -2h2v2h-2m98 -3h3v3h-3m22 -3h1v3h-1m-300 0h1v1h-1m99 -1h1v1h-1m-102 0h3v1h-3m45 -2h1v2h-1m19 -2h1v2h-1m197 -2h1v2h-1m4 -2h3v2h-3m12 -2h1v2h-1m-281 -2h3v3h-3m5 -1h1v1h-1m8 -3h1v3h-1m7 -1h1v1h-1m8 -3h2v3h-2m7 -1h1v1h-1m31 -1h2v1h-2m19 -3h1v3h-1m16 -2h1v2h-1m2 -2h1v2h-1m45 -2h1v2h-1m51 -3h1v3h-1m8 -3h1v3h-1m51 -3h1v3h-1m3 -1h1v1h-1m22 -1h2v1h-2m23 -1h1v1h-1m5 -3h1v3h-1m-289 0h1v1h-1m8 -1h2v1h-2m4 -1h2v1h-2m21 -1h2v1h-2m26 -1h1v1h-1m7 -1h2v1h-2m10 -1h1v1h-1m206 -1h2v1h-2m-278 0h4v1h-4m13 -1h1v1h-1m45 -1h3v1h-3m5 -1h1v1h-1m6 -2h2v2h-2m7 -1h1v1h-1m3 -2h1v2h-1m199 -1h1v1h-1m-267 0h1v1h-1m46 -1h1v1h-1m85 -3h1v3h-1m17 -3h2v3h-2m13 -3h2v3h-2m45 -3h1v3h-1m16 -3h1v3h-1m5 -3h2v3h-2m12 -3h1v3h-1m3 -3h2v3h-2m28 -3h2v3h-2m-231 0h4v1h-4m19 -1h2v1h-2m-37 -1h1v2h-1m18 -1h2v1h-2m3 -1h1v1h-1m-3 0h1v1h-1m127 -3h1v3h-1m52 -3h1v3h-1m31 -3h3v3h-3m11 -3h1v3h-1m-131 0h1v1h-1m-121 -1h1v2h-1m34 -2h1v2h-1m88 -1h1v1h-1m-93 -2h1v3h-1m83 -1h3v1h-3m28 -3h2v3h-2m66 -3h2v3h-2m9 -3h2v3h-2m6 -3h2v3h-2m11 -3h3v3h-3m19 -3h1v3h-1m3 -3h1v3h-1m5 -3h2v3h-2m-150 0h1v1h-1m3 -1h2v1h-2m148 -1h1v1h-1m-259 1h2v1h-2m134 -3h1v3h-1m9 -3h1v3h-1m6 -3h2v3h-2m42 -3h1v3h-1m25 -3h2v3h-2m6 -3h2v3h-2m9 -3h2v3h-2m12 -3h1v3h-1m-711 -7h3v8h-3m470 -1h2v1h-2m28 -1h1v1h-1m212 -1h2v1h-2m-241 1h1v1h-1m2 -2h1v2h-1m16 -3h1v3h-1m8 -3h1v3h-1m119 0h1v2h-1m6 -2h1v2h-1m4 -2h1v2h-1m-152 -1h1v2h-1m2 0h1v1h-1m5 -1h1v3h-1m-3 3h1v2h-1m1 0h1v1h-1m7 -3h1v3h-1m12 -1h1v1h-1m-18 0h1v1h-1m16 -4h1v4h-1m-15 0h1v1h-1m0 0h2v1h-2m2 0h1v1h-1m13 -1h1v1h-1m-6 0h5v1h-5m0 0h1v1h-1m2 -1h1v1h-1m-70 14h2v1h-2m6 -1h2v1h-2m10 -1h2v1h-2m12 -1h2v1h-2m9 -1h3v1h-3m5 -1h1v1h-1m3 -1h2v1h-2m3 -1h1v1h-1m6 -1h1v1h-1m6 -1h1v1h-1m8 -1h2v1h-2m4 -1h1v1h-1m6 -1h1v1h-1m4 -1h1v1h-1m3 -1h2v1h-2m51 -1h1v1h-1m10 -1h1v1h-1m8 -1h1v1h-1m3 -1h1v1h-1m9 -1h1v1h-1m4 -1h2v1h-2m7 -1h1v1h-1m5 -1h1v1h-1m12 -1h1v1h-1m15 -1h2v1h-2m7 -1h1v1h-1m2 -1h1v1h-1m9 -1h1v1h-1m4 -1h3v1h-3m11 -1h2v1h-2m14 -1h1v1h-1m10 -1h1v1h-1m2 -1h2v1h-2m20 -1h1v1h-1m10 -1h2v1h-2m11 -1h2v1h-2m18 -1h2v1h-2m-323 0h2v2h-2m5 -2h1v2h-1m3 -2h1v2h-1m7 -2h1v2h-1m15 -2h2v2h-2m5 -2h1v2h-1m6 -2h3v2h-3m13 -2h1v2h-1m11 -2h1v2h-1m2 -2h1v2h-1m12 -2h2v2h-2m14 -2h2v2h-2m7 -2h1v2h-1m3 -2h1v2h-1m3 -3h2v3h-2m3 -2h1v2h-1m14 -2h3v2h-3m11 -2h2v2h-2m8 -2h3v2h-3m15 -2h1v2h-1m7 -2h1v2h-1m4 -2h3v2h-3m6 -2h1v2h-1m13 -2h1v2h-1m4 -2h2v2h-2m8 -2h1v2h-1m3 -2h2v2h-2m22 -2h2v2h-2m23 -3h2v3h-2m6 -2h1v2h-1m16 -2h1v2h-1m6 -2h2v2h-2m4 -2h1v2h-1m29 -2h1v2h-1m12 -2h2v2h-2m23 -2h2v2h-2m9 -2h2v2h-2m-92 22h1v1h-1m4 0h1v1h-1m-6 -1h2v2h-2m-8 0h1v1h-1m-43 7h2v1h-2m3 0h1v1h-1m-4 -1h1v3h-1m26 -1h2v1h-2m64 -2h64v2h-64m-65 0h1v1h-1m2 -1h1v1h-1m0 0h2v1h-2m-14 -1h1v2h-1m15 -1h1v1h-1m-19 0h2v1h-2m24 1h1v1h-1m-42 0h1v2h-1m-632 0h11v3h-11m14 -3h9v3h-9m11 -3h15v3h-15m409 -2h4v3h-4m8 -3h4v3h-4m12 -3h2v3h-2m6 -3h2v3h-2m4 -3h4v3h-4m12 -3h2v3h-2m8 -3h6v3h-6m12 -3h6v3h-6m12 -3h6v3h-6m10 -3h2v3h-2m4 -3h2v3h-2m8 -3h2v3h-2m12 -3h4v3h-4m8 -3h2v3h-2m10 -3h2v3h-2m4 -3h2v3h-2m4 -3h2v3h-2m6 -3h2v3h-2m6 -3h2v3h-2m4 -3h10v3h-10m12 -3h4v3h-4m6 -3h2v3h-2m114 -1h8v1h-8m12 -1h2v1h-2m6 -1h4v1h-4m6 -1h2v1h-2m6 -1h4v1h-4m14 -1h2v1h-2m6 -1h2v1h-2m6 -1h2v1h-2m4 -1h4v1h-4m10 -1h4v1h-4m6 -1h3v1h-3m-181 3h1v2h-1m65 -2h1v3h-1m36 -3h1v3h-1m-258 1h1v1h-1m-8 0h1v1h-1m8 -1h2v1h-2m156 -1h1v1h-1m-163 0h1v1h-1m4 -1h1v1h-1m-10 -1h2v2h-2m102 -2h1v2h-1m169 -2h2v2h-2m-270 0h1v1h-1m11 -1h1v1h-1m4 -2h1v2h-1m4 -1h2v1h-2m70 -1h1v1h-1m2 -1h2v1h-2m180 -1h1v1h-1m-278 0h2v1h-2m14 -1h1v1h-1m16 -1h1v1h-1m15 -1h1v1h-1m65 -1h1v1h-1m-86 -1h4v2h-4m6 -1h2v1h-2m-428 -2h1v3h-1m395 -1h1v1h-1m2 -1h1v1h-1m24 -1h1v1h-1m14 -1h1v1h-1m7 -2h4v2h-4m50 -3h1v3h-1m113 1h2v1h-2m-616 -2h1v3h-1m425 -3h1v3h-1m11 -3h1v3h-1m66 -3h1v3h-1m2 -3h1v3h-1m11 -3h3v3h-3m140 -6h1v6h-1m-212 -3h1v4h-1m66 -1h1v1h-1m-6 -1h1v2h-1m6 -1h2v1h-2m4 -1h1v1h-1m6 -1h1v1h-1m-515 -2h3v3h-3m449 -3h1v3h-1m4 -6h2v6h-2m5 -3h1v3h-1m14 -1h1v1h-1m4 -3h1v3h-1m29 -1h3v1h-3m9 -1h2v1h-2m-10 0h1v1h-1m-61 -1h1v2h-1m12 -2h1v2h-1m2 -2h1v2h-1m24 -2h1v2h-1m-486 -2h4v3h-4m13 -3h1v3h-1m450 -1h2v1h-2m3 -2h1v2h-1m14 -3h1v3h-1m168 -3h1v3h-1m82 -3h1v3h-1m-289 0h1v1h-1m12 -1h1v1h-1m9 -1h1v1h-1m8 -1h1v1h-1m7 -1h1v1h-1m-474 -1h2v3h-2m421 -3h1v3h-1m60 -3h1v3h-1m6 -1h1v1h-1m140 0h1v3h-1m15 -3h1v3h-1m7 -3h1v3h-1m-179 0h1v1h-1m-471 -1h1v3h-1m433 -3h1v3h-1m42 -3h1v3h-1m168 -3h2v3h-2m4 -3h1v3h-1m10 -3h1v3h-1m29 -3h1v3h-1m-260 0h1v3h-1m23 -3h3v3h-3m3 0h1v1h-1m9 -1h1v1h-1m-12 0h3v1h-3m4 -1h1v1h-1m13 -1h2v1h-2m15 -1h1v1h-1m3 -1h1v1h-1m-65 -2h2v3h-2m20 -2h1v2h-1m248 -3h1v3h-1m-243 0h1v3h-1m3 -4h1v4h-1m181 -3h2v3h-2m22 0h1v3h-1m-204 0h3v3h-3m183 -3h1v3h-1m8 -3h1v3h-1m49 -3h1v3h-1m-53 0h1v3h-1m52 -3h1v3h-1m21 0h2v1h-2m-5 -1h1v2h-1m0 1h1v1h-1m9 -1h1v1h-1m-81 -1h1v2h-1m-207 -2h1v3h-1m4 -3h1v3h-1m21 -3h2v3h-2m240 -3h1v3h-1m13 -1h1v1h-1m11 -1h1v1h-1m-79 0h1v1h-1m2 -1h1v1h-1m17 -1h1v1h-1m59 -1h2v1h-2m-78 0h3v1h-3m23 -1h1v1h-1m56 -1h2v1h-2m-703 0h1v1h-1m419 -3h2v3h-2m17 -3h1v3h-1m189 -1h2v1h-2m4 0h1v1h-1m51 -1h2v1h-2m14 -1h2v1h-2m12 0h2v1h-2m-293 -2h2v3h-2m13 -3h1v3h-1m14 -3h1v3h-1m241 -2h1v2h-1m14 -2h1v2h-1m7 -3h2v3h-2m4 -1h3v1h-3m3 0h1v1h-1m-1 0h1v1h-1m-293 -2h1v3h-1m7 -3h2v3h-2m228 -3h1v3h-1m57 -1h2v1h-2m-269 0h1v1h-1m0 2h1v3h-1m-31 0h1v3h-1m10 -3h1v3h-1m5 -3h2v3h-2m269 -3h2v3h-2m17 0h1v1h-1m-278 -1h2v3h-2m260 -2h1v2h-1m2 -3h1v3h-1m-254 0h1v3h-1m212 -6h1v6h-1m32 -3h1v3h-1m8 0h1v1h-1m-253 -1h1v3h-1m-14 0h1v3h-1m9 -3h2v3h-2m258 -3h1v3h-1m14 -3h3v3h-3m-53 0h1v2h-1m-249 -2h1v3h-1m289 -1h1v1h-1m-290 0h1v3h-1m12 -3h1v3h-1m20 -3h1v3h-1m5 -3h1v3h-1m37 -3h1v3h-1m-73 0h2v3h-2m21 -3h3v3h-3m228 -3h1v3h-1m39 -3h1v3h-1m14 -3h1v3h-1m-270 0h1v3h-1m256 -3h2v3h-2m-254 0h1v3h-1m248 -1h1v1h-1m12 -3h1v3h-1m-289 0h2v3h-2m10 -3h1v3h-1m20 -3h1v3h-1m214 -3h1v3h-1m-250 0h1v3h-1m3 -3h1v3h-1m9 -3h2v3h-2m62 -3h1v3h-1m208 -3h1v3h-1m8 -3h1v3h-1m-274 0h1v3h-1m5 -3h1v3h-1m4 -3h1v3h-1m10 -3h1v3h-1m248 -3h1v3h-1m-275 0h3v3h-3m275 -1h1v1h-1m4 -6h1v6h-1m-34 0h1v1h-1m-254 -1h1v3h-1m10 -3h1v3h-1m23 -3h1v3h-1m4 -6h1v6h-1m217 -2h2v2h-2m35 -3h2v3h-2m-3 0h1v1h-1m2 -1h1v1h-1m-264 -1h2v2h-2m262 -1h3v1h-3m-279 -2h1v3h-1m10 -3h1v3h-1m6 -1h3v1h-3m7 -3h2v3h-2m4 -3h3v3h-3m43 -81h1v81h-1m206 -2h1v2h-1m3 -1h1v1h-1m2 -1h1v1h-1m7 -3h1v3h-1m2 -1h1v1h-1m5 -2h2v2h-2"/>
<path fill="#0040ff" d="M0 0m647 53h1v1h-1m24 -2h1v2h-1m10 -1h1v1h-1m78 -2h1v2h-1m26 -2h1v2h-1m3 -2h1v2h-1m10 -2h1v2h-1m16 -2h3v2h-3m15 -2h2v2h-2m14 -2h1v2h-1m-268 0h4v1h-4m15 -1h1v1h-1m13 -1h2v1h-2m87 -1h1v1h-1m-123 0h1v1h-1m12 -1h2v1h-2m16 -1h1v1h-1m3 -1h3v1h-3m-35 0h1v1h-1m19 -1h2v1h-2m9 -1h1v1h-1m16 -1h1v1h-1m159 -1h1v1h-1m3 -3h1v3h-1m2 -3h1v3h-1m3 -3h1v3h-1m18 -5h1v5h-1m39 -3h3v3h-3m4 -5h1v5h-1m6 -3h1v3h-1m3 -3h1v3h-1m-303 0h1v1h-1m84 -1h1v1h-1m104 -1h2v1h-2m-35 -1h1v2h-1m-159 0h1v1h-1m2 -1h1v1h-1m42 -3h1v3h-1m32 -3h1v3h-1m20 -1h1v1h-1m69 -3h2v3h-2m30 -2h1v2h-1m35 -3h1v3h-1m16 -3h2v3h-2m5 -3h3v3h-3m14 -3h1v3h-1m33 -3h1v3h-1m-297 0h2v1h-2m182 -1h1v1h-1m-189 -3h1v5h-1m2 -3h3v3h-3m6 -2h1v2h-1m80 -3h2v3h-2m16 -2h1v2h-1m62 -3h1v3h-1m69 -3h1v3h-1m25 -3h1v3h-1m9 -3h1v3h-1m11 -3h1v3h-1m15 -2h1v2h-1m13 -3h1v3h-1m-314 0h4v1h-4m242 -1h1v1h-1m10 -1h1v1h-1m-161 -1h1v3h-1m24 -1h2v1h-2m10 -1h1v1h-1m66 -3h2v3h-2m4 -3h1v3h-1m56 -2h2v2h-2m5 -3h3v3h-3m4 -3h1v3h-1m4 -3h2v3h-2m6 -3h2v3h-2m10 -3h1v3h-1m24 -3h1v3h-1m7 -3h1v3h-1m3 -3h2v3h-2m-137 1h1v1h-1m-112 -2h1v3h-1m53 -3h1v3h-1m94 -3h1v3h-1m30 -3h1v3h-1m11 -3h2v3h-2m7 -3h2v3h-2m39 -3h1v3h-1m2 -3h1v3h-1m-164 0h1v1h-1m-1 0h1v1h-1m-21 -2h1v3h-1m80 -3h1v3h-1m16 -3h1v3h-1m38 -6h2v6h-2m9 -3h1v3h-1m14 -3h1v3h-1m9 -3h2v3h-2m23 -3h1v3h-1m2 -3h2v3h-2m-291 0h1v3h-1m45 -3h1v3h-1m16 -3h1v3h-1m115 -3h1v3h-1m79 -3h3v3h-3m6 -6h1v6h-1m25 -3h1v3h-1m-276 0h2v3h-2m167 -2h1v2h-1m63 -3h1v3h-1m26 -3h2v3h-2m4 -3h1v3h-1m2 -3h2v3h-2m10 -3h1v3h-1m3 -3h1v3h-1m8 -3h2v3h-2m-195 0h1v1h-1m61 -1h1v1h-1m-62 0h1v1h-1m73 -2h1v2h-1m-613 -7h2v8h-2m522 -3h2v3h-2m8 -3h1v3h-1m23 -3h2v3h-2m27 -1h2v1h-2m21 -1h1v1h-1m11 -1h1v1h-1m17 -1h2v1h-2m38 -3h2v3h-2m7 -3h1v3h-1m12 -3h2v3h-2m12 -3h3v3h-3m14 -3h1v3h-1m-175 0h1v1h-1m82 -1h1v1h-1m-33 0h1v1h-1m11 -1h1v1h-1m-169 -2h2v3h-2m11 -3h2v3h-2m10 -3h1v3h-1m38 -1h1v1h-1m47 -3h2v3h-2m47 -3h1v3h-1m22 -1h1v1h-1m8 -2h1v2h-1m20 -3h1v3h-1m5 -3h2v3h-2m29 -3h1v3h-1m10 -3h1v3h-1m40 -3h2v3h-2m9 -3h4v3h-4m16 -3h1v3h-1m-304 0h1v1h-1m2 -1h1v1h-1m87 -1h2v1h-2m7 -1h4v1h-4m48 -1h1v1h-1m89 -1h1v1h-1m-207 -1h1v2h-1m238 -2h1v2h-1m-249 -2h1v3h-1m13 -3h2v3h-2m17 -1h1v1h-1m7 -3h1v3h-1m12 -1h1v1h-1m32 -2h1v2h-1m78 -3h1v3h-1m16 -3h1v3h-1m34 -3h1v3h-1m7 -2h2v2h-2m14 -3h2v3h-2m5 -3h1v3h-1m8 -3h2v3h-2m3 -1h1v1h-1m3 -1h4v1h-4m13 -1h1v1h-1m19 -6h1v6h-1m9 -3h2v3h-2m-283 0h2v1h-2m3 -1h1v1h-1m10 -1h1v1h-1m45 -1h3v1h-3m18 -3h1v3h-1m-19 0h1v1h-1m-45 0h1v1h-1m2 -1h3v1h-3m22 -1h1v1h-1m112 -3h1v3h-1m19 -3h1v3h-1m8 -3h2v3h-2m36 -3h1v3h-1m14 -3h4v3h-4m5 -3h2v3h-2m6 -3h1v3h-1m10 -3h1v3h-1m10 -3h1v3h-1m3 -3h1v3h-1m2 -3h3v3h-3m9 -3h2v3h-2m14 -3h1v3h-1m2 -3h2v3h-2m-54 0h2v2h-2m-185 -2h1v3h-1m47 -3h1v3h-1m30 -3h1v3h-1m32 -3h3v3h-3m5 -3h1v3h-1m10 -6h1v6h-1m10 -3h1v3h-1m52 -1h1v1h-1m2 -3h1v3h-1m9 -3h1v3h-1m34 -3h2v3h-2m-211 0h2v1h-2m74 -1h1v1h-1m-73 0h1v1h-1m63 -2h3v2h-3m-5 0h1v1h-1m37 -3h1v3h-1m3 -3h1v3h-1m8 -3h1v3h-1m34 -3h1v3h-1m6 -3h1v3h-1m18 -3h2v3h-2m18 -3h1v3h-1m6 -3h1v3h-1m16 -3h1v3h-1m-107 0h2v1h-2m-145 -1h2v2h-2m210 -2h2v2h-2m-203 -2h1v3h-1m10 -3h1v3h-1m120 -6h2v6h-2m8 -2h1v2h-1m70 -3h1v3h-1m25 -3h1v3h-1m-37 0h2v1h-2m-202 -1h1v2h-1m215 -2h2v2h-2m-187 -2h1v3h-1m107 -3h1v3h-1m3 -3h2v3h-2m-135 0h2v1h-2m195 -1h2v1h-2m-194 0h1v2h-1m26 -3h1v3h-1m-23 4h1v2h-1m4 -3h2v3h-2m-3 1h1v1h-1m19 -2h1v2h-1m-18 0h1v1h-1m1 0h1v1h-1m1 0h1v1h-1m8 1h5v1h-5m54 16h1v1h-1m19 -1h1v1h-1m26 -1h1v1h-1m5 -1h1v1h-1m17 -1h1v1h-1m22 -1h1v1h-1m25 -1h1v1h-1m26 -1h1v1h-1m16 -1h1v1h-1m7 -1h2v1h-2m16 -1h1v1h-1m10 -1h1v1h-1m-298 0h1v2h-1m4 -2h2v2h-2m100 -2h1v2h-1m13 -2h1v2h-1m7 -2h1v2h-1m32 -2h1v2h-1m21 -2h1v2h-1m11 -2h1v2h-1m20 -2h1v2h-1m6 -2h1v2h-1m10 -2h2v2h-2m21 -2h2v2h-2m55 -2h1v2h-1m24 -2h2v2h-2m-62 9h1v1h-1m1 0h1v3h-1m0 5h1v4h-1m-1 0h2v1h-2m-7 1h1v1h-1m7 -2h1v2h-1m-20 0h1v1h-1m-2 0h1v2h-1m25 -1h1v1h-1m-28 0h1v3h-1m-39 3h2v1h-2m0 0h1v2h-1m3 -2h1v2h-1m35 -3h1v3h-1m-25 1h1v2h-1m-121 3h1v3h-1m98 0h1v2h-1m-203 -2h5v3h-5m9 -3h4v3h-4m8 -3h8v3h-8m10 -3h4v3h-4m6 -3h2v3h-2m6 -3h8v3h-8m10 -3h6v3h-6m12 -3h6v3h-6m12 -3h6v3h-6m12 -3h4v3h-4m6 -3h2v3h-2m4 -3h6v3h-6m8 -3h2v3h-2m7 -3h3v3h-3m7 -3h4v3h-4m6 -3h8v3h-8m10 -3h2v3h-2m4 -3h2v3h-2m4 -3h4v3h-4m6 -3h4v3h-4m6 -3h2v3h-2m12 -3h2v3h-2m6 -3h2v3h-2m4 -3h8v3h-8m110 -1h2v1h-2m10 -1h4v1h-4m6 -1h4v1h-4m8 -1h2v1h-2m4 -1h4v1h-4m8 -1h10v1h-10m12 -1h4v1h-4m6 -1h4v1h-4m6 -1h2v1h-2m6 -1h6v1h-6m10 -1h2v1h-2m-179 5h1v1h-1m172 -3h1v3h-1m-101 0h1v3h-1m-235 1h1v1h-1m7 -2h2v2h-2m89 0h1v1h-1m132 -3h1v3h-1m37 -1h1v1h-1m-277 1h2v1h-2m6 -3h1v3h-1m8 -1h1v1h-1m8 0h1v1h-1m6 -1h2v1h-2m4 -1h3v1h-3m4 -1h1v1h-1m68 -3h1v3h-1m103 -2h3v2h-3m36 -3h2v3h-2m91 -3h1v3h-1m15 -6h1v6h-1m-316 0h1v1h-1m3 -1h2v1h-2m1 0h1v1h-1m-435 -2h1v3h-1m420 -3h2v3h-2m8 -3h2v3h-2m64 -3h1v3h-1m6 -3h1v3h-1m125 -2h1v2h-1m3 -2h1v2h-1m8 -1h2v1h-2m-135 0h2v1h-2m-67 0h1v1h-1m68 -1h1v1h-1m7 -2h1v2h-1m-102 -2h1v3h-1m23 -3h1v3h-1m6 -3h1v3h-1m185 -3h1v3h-1m12 -3h2v3h-2m105 -3h1v3h-1m-310 0h1v1h-1m23 -1h1v2h-1m-451 -2h1v3h-1m419 -3h2v3h-2m19 -1h1v1h-1m12 -1h3v1h-3m18 -3h1v3h-1m8 -1h1v1h-1m148 -3h1v3h-1m-194 0h1v1h-1m14 -1h1v1h-1m5 -1h1v1h-1m9 -1h2v1h-2m3 -1h3v1h-3m5 -1h1v1h-1m5 -1h2v1h-2m-28 0h1v1h-1m24 -1h1v1h-1m12 -1h1v1h-1m-49 -1h2v2h-2m22 -2h1v2h-1m168 -3h1v3h-1m20 -3h1v3h-1m38 -3h1v3h-1m67 -3h2v3h-2m-187 0h1v2h-1m-125 -2h1v3h-1m188 -3h2v3h-2m12 -3h2v3h-2m94 -3h1v3h-1m-82 1h1v1h-1m-231 0h1v1h-1m5 -3h2v3h-2m5 -3h1v3h-1m11 -3h1v3h-1m17 -3h1v3h-1m7 -2h1v2h-1m7 -3h1v3h-1m166 -3h1v3h-1m13 -1h2v1h-2m67 -2h1v2h-1m25 -3h1v3h-1m-311 -1h1v4h-1m18 -3h1v3h-1m99 -1h1v1h-1m100 -3h2v3h-2m100 -3h2v3h-2m11 -3h1v3h-1m-324 0h2v1h-2m19 -1h1v1h-1m-10 0h2v1h-2m-446 -2h2v3h-2m409 -3h2v3h-2m28 -2h1v2h-1m125 -3h2v3h-2m65 -3h1v3h-1m58 -6h1v6h-1m48 -3h1v3h-1m24 -6h1v6h-1m-754 0h1v3h-1m408 -3h1v3h-1m2 -3h1v3h-1m5 -3h2v3h-2m6 -3h1v3h-1m13 -1h1v1h-1m2 -3h2v3h-2m5 -3h2v3h-2m185 -3h1v3h-1m22 -3h1v3h-1m85 -3h2v3h-2m28 -3h1v3h-1m-764 0h1v1h-1m412 -1h1v3h-1m32 -3h1v3h-1m203 -3h1v3h-1m65 -1h1v1h-1m26 -3h1v3h-1m7 -3h1v3h-1m11 -3h1v3h-1m-754 0h2v3h-2m420 -3h1v3h-1m52 -3h2v3h-2m77 -3h1v3h-1m80 -3h1v3h-1m95 -3h1v3h-1m7 -3h1v3h-1m22 -3h1v3h-1m-340 0h1v3h-1m8 -3h1v3h-1m16 -3h1v3h-1m246 -3h1v3h-1m69 -3h2v3h-2m-48 1h1v1h-1m-299 -2h4v3h-4m7 -3h1v3h-1m17 -3h2v3h-2m5 -1h1v1h-1m8 -3h1v3h-1m187 -3h2v3h-2m55 -3h1v3h-1m14 -1h1v1h-1m54 -3h1v3h-1m-45 1h1v1h-1m-300 -2h2v3h-2m28 -3h2v3h-2m211 -1h1v1h-1m39 -3h1v3h-1m13 -2h1v2h-1m-68 0h1v1h-1m77 0h1v1h-1m-295 -2h5v3h-5m9 -2h1v2h-1m15 -3h1v3h-1m121 -3h1v3h-1m97 -2h1v2h-1m53 -1h3v1h-3m-227 -21h2v22h-2m-75 -2h1v4h-1m25 -3h1v3h-1m10 -3h1v3h-1m2 -2h1v2h-1m30 -2h2v2h-2m84 -3h1v3h-1m177 -3h1v3h-1m-294 0h3v1h-3m-29 -1h1v3h-1m5 -3h1v3h-1m24 -2h4v2h-4m107 -3h1v3h-1m108 -3h1v3h-1m44 -6h1v6h-1m16 -2h1v2h-1m-307 0h3v3h-3m4 -3h1v3h-1m5 -3h1v3h-1m6 -6h1v6h-1m13 -3h3v3h-3m5 -3h2v3h-2m-31 0h1v3h-1m3 -3h1v3h-1m5 -3h1v3h-1m20 -3h1v3h-1m5 -3h1v3h-1m99 -3h1v3h-1m156 -3h1v3h-1m-277 -3h1v6h-1m20 -3h1v3h-1m26 -3h1v3h-1m189 -3h1v3h-1m43 -3h1v3h-1m-291 0h2v3h-2m12 -1h1v1h-1m2 -3h2v3h-2m7 -3h1v3h-1m3 -3h1v3h-1m6 -3h1v3h-1m4 -3h1v3h-1m255 -3h1v3h-1m-275 0h1v3h-1m16 -3h2v3h-2m116 -3h1v3h-1m15 -3h1v3h-1m88 -3h1v3h-1m-245 -3h1v6h-1m5 -3h1v3h-1m13 -3h3v3h-3m266 -2h1v2h-1m-290 0h1v3h-1m10 -3h1v3h-1m3 -3h1v3h-1m18 -3h1v3h-1m6 -3h1v3h-1m215 -3h1v3h-1m40 -3h1v3h-1m-289 0h1v3h-1m4 -1h2v1h-2m4 -3h1v3h-1m21 -3h1v3h-1m2 -6h1v6h-1m33 -3h2v3h-2m8 -16h2v16h-2m88 -3h1v3h-1m-157 0h1v3h-1m4 -3h3v3h-3m6 -3h1v3h-1m6 -3h2v3h-2m4 -3h1v3h-1m50 -3h1v3h-1m-76 0h1v3h-1m5 -3h2v3h-2m4 -3h2v3h-2m6 -3h1v3h-1m268 -3h1v3h-1m-276 0h2v3h-2m4 -3h1v3h-1m3 -3h1v3h-1m8 -6h1v6h-1m15 -6h1v6h-1m-37 0h2v3h-2m5 -3h1v3h-1m4 -3h1v3h-1m3 -3h4v3h-4m5 -6h1v6h-1m123 -3h1v3h-1m-139 0h1v3h-1m8 -3h2v3h-2m4 -3h2v3h-2m9 -3h1v3h-1m8 -3h2v3h-2m3 -3h2v3h-2m42 -12h2v12h-2m209 -3h1v3h-1m-272 0h1v3h-1m3 -3h1v3h-1m7 -3h4v3h-4m13 -3h3v3h-3m41 -3h1v3h-1m85 -3h1v3h-1m91 -8h1v8h-1m47 -3h1v3h-1m-299 -3h1v6h-1m2 -3h2v3h-2m3 -3h9v3h-9m19 -3h2v3h-2m11 -3h1v3h-1m2 -3h1v3h-1m245 -3h1v3h-1m-128 0h1v2h-1m-151 -2h2v3h-2m3 -3h3v3h-3m6 -3h4v3h-4m18 -3h2v3h-2m4 -3h1v3h-1m107 -3h1v3h-1m113 -3h1v3h-1m-253 0h1v3h-1m4 -3h1v3h-1m6 -3h2v3h-2m19 -3h1v3h-1m2 -3h1v3h-1m2 -1h1v1h-1m2 -6h1v6h-1m-14 0h2v2h-2m-22 -2h1v3h-1m6 -3h1v3h-1m4 -3h2v3h-2m6 -3h1v3h-1m6 -1h1v1h-1m4 -9h1v9h-1m6 -3h2v3h-2m5 -3h1v3h-1m38 -12h2v12h-2m209 -1h1v1h-1m5 -1h1v1h-1"/>
<path fill="#005eff" d="M0 0m660 52h1v1h-1m22 -1h1v1h-1m4 0h1v1h-1m3 -2h1v2h-1m71 -2h1v2h-1m23 -2h2v2h-2m12 -2h1v2h-1m12 -2h1v2h-1m18 -1h1v1h-1m-140 0h1v1h-1m3 -1h1v1h-1m-84 0h1v1h-1m79 -2h1v2h-1m7 -1h1v1h-1m71 -2h1v2h-1m-202 0h1v1h-1m8 -1h1v1h-1m28 -1h1v1h-1m3 -1h2v1h-2m13 -3h1v3h-1m24 -1h2v1h-2m61 -3h1v3h-1m64 -1h2v1h-2m61 -3h1v3h-1m5 -3h1v3h-1m8 -3h1v3h-1m-294 0h1v1h-1m18 -1h1v1h-1m7 -1h1v1h-1m-25 0h3v1h-3m149 -2h1v2h-1m-162 -1h2v2h-2m7 -2h1v2h-1m6 -1h1v1h-1m8 -3h2v3h-2m8 -2h3v2h-3m12 -1h2v1h-2m23 -3h2v3h-2m34 -2h1v2h-1m9 -2h1v2h-1m60 -1h1v1h-1m74 -3h1v3h-1m3 -3h1v3h-1m19 -3h2v3h-2m-224 0h1v1h-1m37 -1h2v1h-2m-78 -1h2v3h-2m16 -3h1v3h-1m41 -1h1v1h-1m22 -2h1v2h-1m9 -3h1v3h-1m187 -3h1v3h-1m8 -3h1v3h-1m30 -3h1v3h-1m-311 0h3v1h-3m240 -1h2v1h-2m-119 0h1v1h-1m112 -2h4v2h-4m5 -1h1v1h-1m-222 -2h1v3h-1m4 -3h1v3h-1m5 -3h1v3h-1m172 -3h1v3h-1m36 -1h3v1h-3m11 -2h1v2h-1m7 -3h1v3h-1m32 -3h2v3h-2m-270 0h1v3h-1m16 -3h1v3h-1m74 -3h1v3h-1m69 -1h1v1h-1m94 -3h1v3h-1m8 -3h2v3h-2m-98 0h1v1h-1m5 -1h1v1h-1m-177 -1h2v3h-2m6 -3h1v3h-1m8 -3h1v3h-1m2 -3h1v3h-1m16 -3h1v3h-1m43 -3h1v3h-1m23 -3h1v3h-1m13 -1h1v1h-1m21 -1h1v1h-1m37 -3h1v3h-1m22 -3h2v3h-2m48 -6h1v6h-1m30 -3h1v3h-1m14 -3h1v3h-1m9 -3h1v3h-1m8 -3h2v3h-2m3 -3h2v3h-2m-311 0h2v3h-2m4 -3h3v3h-3m17 -3h1v3h-1m67 -3h2v3h-2m3 -3h1v3h-1m93 -3h1v3h-1m53 -3h1v3h-1m6 -10h1v10h-1m25 -3h2v3h-2m5 -3h2v3h-2m-159 0h1v1h-1m30 -1h1v1h-1m45 -1h2v1h-2m-187 -1h2v3h-2m4 -3h1v3h-1m81 -3h1v3h-1m14 -3h1v3h-1m16 -2h1v2h-1m94 -3h1v3h-1m40 -3h1v3h-1m5 -3h1v3h-1m30 -3h1v3h-1m5 -3h1v3h-1m7 -3h1v3h-1m-186 0h1v1h-1m66 0h1v1h-1m6 -1h1v1h-1m-184 -2h4v3h-4m17 -3h1v3h-1m86 -3h1v3h-1m66 -1h1v1h-1m69 -3h1v3h-1m9 -3h2v3h-2m16 -3h1v3h-1m10 -3h1v3h-1m10 -3h1v3h-1m28 -3h1v3h-1m-128 0h1v1h-1m-116 -1h1v3h-1m25 -3h2v3h-2m3 -3h1v3h-1m20 -3h1v3h-1m3 -3h1v3h-1m66 -2h1v2h-1m5 -3h2v3h-2m47 -3h1v3h-1m12 -3h1v3h-1m16 -3h1v3h-1m5 -3h1v3h-1m5 -3h2v3h-2m29 -3h1v3h-1m-212 0h1v2h-1m231 -2h1v2h-1m-297 -2h2v3h-2m9 -1h1v1h-1m53 -2h2v2h-2m12 -3h2v3h-2m13 -3h2v3h-2m85 -3h1v3h-1m2 -3h2v3h-2m36 -3h1v3h-1m13 -1h1v1h-1m32 -3h1v3h-1m3 -3h1v3h-1m13 -3h1v3h-1m3 -3h2v3h-2m-212 0h1v1h-1m-58 -1h1v2h-1m13 -1h1v1h-1m2 -1h3v1h-3m22 -2h1v2h-1m-494 -8h2v9h-2m448 -3h1v3h-1m63 -1h2v1h-2m112 -3h1v3h-1m3 -3h1v3h-1m51 -3h2v3h-2m18 -3h1v3h-1m-181 0h1v1h-1m163 -1h4v2h-4m-220 -2h1v3h-1m28 -1h1v1h-1m139 -3h1v3h-1m9 -3h1v3h-1m44 -1h2v1h-2m31 -3h1v3h-1m6 -3h1v3h-1m7 -3h1v3h-1m6 -3h1v3h-1m6 -6h1v6h-1m5 -3h1v3h-1m-231 0h1v1h-1m0 0h2v2h-2m112 -3h1v3h-1m3 -3h1v3h-1m-5 0h3v1h-3m80 -1h1v1h-1m-79 0h2v1h-2m-112 -2h1v3h-1m105 -3h1v3h-1m92 -3h1v3h-1m-84 -1h1v2h-1m95 -1h1v1h-1m18 -1h1v1h-1m-250 -1h2v3h-2m131 -3h1v3h-1m61 -6h1v6h-1m-52 0h1v1h-1m7 -1h1v2h-1m4 -2h1v2h-1m-149 -2h2v3h-2m16 -3h1v3h-1m8 -3h1v3h-1m-22 3h1v1h-1m1 2h1v1h-1m1 0h1v1h-1m2 1h1v1h-1m1 0h1v2h-1m4 2h1v1h-1m7 0h1v1h-1m-14 13h1v1h-1m4 -1h1v1h-1m2 -1h2v1h-2m-10 0h2v2h-2m221 3h2v3h-2m1 3h1v1h-1m-696 -47h3v50h-3m695 -3h1v3h-1m0 0h2v5h-2m0 0h1v4h-1m1 1h1v1h-1m-9 1h1v1h-1m9 -1h1v1h-1m-22 0h2v1h-2m0 0h1v1h-1m-4 6h1v1h-1m-16 2h1v1h-1m-40 4h1v1h-1m56 0h1v2h-1m-146 -2h1v3h-1m142 -3h1v3h-1m3 -1h2v1h-2m-4 0h2v1h-2m37 -1h1v3h-1m-36 -2h1v5h-1m-143 -3h2v6h-2m146 -3h1v3h-1m96 -1h2v1h-2m-241 0h1v3h-1m-499 2h1v1h-1m411 -1h1v1h-1m2 -2h1v2h-1m92 -2h2v2h-2m70 -6h1v6h-1m181 -1h1v1h-1m-337 0h1v1h-1m-13 -1h1v2h-1m7 0h1v1h-1m10 -1h4v1h-4m7 -1h1v1h-1m75 -2h2v2h-2m115 -1h1v1h-1m-193 0h1v1h-1m7 -2h1v2h-1m172 -1h2v1h-2m18 -1h1v1h-1m3 -1h1v1h-1m8 -1h1v1h-1m-230 -1h1v2h-1m29 -1h2v1h-2m201 -1h2v1h-2m-635 -2h1v3h-1m432 -2h1v2h-1m2 -1h3v1h-3m35 -2h1v2h-1m28 -3h2v3h-2m128 -1h1v1h-1m3 -1h1v1h-1m3 -1h1v1h-1m11 -3h2v3h-2m-212 0h3v1h-3m66 -1h1v1h-1m-73 -1h3v2h-3m-18 -2h1v3h-1m9 -3h1v3h-1m4 -3h2v3h-2m5 -1h1v1h-1m5 -3h1v3h-1m2 -2h1v2h-1m191 -3h1v3h-1m13 -3h1v3h-1m42 -3h1v3h-1m70 -3h1v3h-1m2 -3h1v3h-1m-347 0h3v1h-3m25 -1h1v1h-1m10 -1h1v2h-1m-35 -1h2v2h-2m19 -3h1v3h-1m6 -2h2v2h-2m3 -3h3v3h-3m289 -3h1v3h-1m12 -3h2v3h-2m28 -3h1v3h-1m-286 0h1v1h-1m-7 0h1v1h-1m-33 -2h1v3h-1m46 -1h1v1h-1m143 -3h2v3h-2m121 -3h2v3h-2m-267 0h1v1h-1m-53 0h1v1h-1m-432 -2h2v3h-2m416 -3h3v3h-3m5 -3h1v3h-1m10 -1h2v1h-2m14 -3h1v3h-1m14 -2h1v2h-1m11 -1h1v1h-1m258 -3h1v3h-1m17 -3h1v3h-1m14 -3h1v3h-1m-294 0h1v1h-1m3 -1h1v1h-1m186 -1h2v1h-2m-231 -1h1v2h-1m12 -2h2v2h-2m109 -1h1v1h-1m111 -1h1v1h-1m-246 -2h1v3h-1m21 -3h2v3h-2m6 -1h1v1h-1m7 -3h1v3h-1m10 -3h1v3h-1m4 -3h1v3h-1m7 -2h2v2h-2m79 -1h2v1h-2m143 -3h1v3h-1m46 -3h1v3h-1m-186 -4h2v6h-2m-545 -2h1v3h-1m411 -3h1v3h-1m2 -3h1v3h-1m7 -3h1v3h-1m9 -3h1v3h-1m8 -3h1v3h-1m9 -3h1v3h-1m286 -3h1v3h-1m4 -3h1v3h-1m8 -3h2v3h-2m13 -3h1v3h-1m-308 0h2v1h-2m17 -1h2v1h-2m15 -1h1v1h-1m-2 -1h1v2h-1m-67 -2h2v3h-2m3 -3h2v3h-2m6 -3h1v3h-1m6 -3h2v3h-2m13 -1h1v1h-1m5 -2h1v2h-1m210 -3h1v3h-1m72 -3h1v3h-1m18 -3h1v3h-1m6 -3h2v3h-2m-343 -3h1v6h-1m10 -3h1v3h-1m5 -3h1v3h-1m16 -1h1v1h-1m28 -3h3v3h-3m179 -3h1v3h-1m39 -3h2v3h-2m41 -3h1v3h-1m3 -3h2v3h-2m12 -3h1v3h-1m-22 0h1v1h-1m-715 -1h2v3h-2m405 -3h1v3h-1m9 -3h2v3h-2m57 -7h2v7h-2m154 -3h1v3h-1m28 -3h1v3h-1m61 -2h2v2h-2m33 -3h2v3h-2m7 -3h2v3h-2m-336 0h1v3h-1m23 -3h1v3h-1m24 -6h1v6h-1m245 -3h1v3h-1m28 -3h1v3h-1m5 -3h2v3h-2m-745 0h2v2h-2m1 0h1v1h-1m406 -3h1v3h-1m8 -3h1v3h-1m26 -3h2v3h-2m24 -3h2v3h-2m78 -3h1v3h-1m198 -3h1v3h-1m16 -3h1v3h-1m-322 -3h1v5h-1m-13 -2h2v3h-2m210 -2h1v2h-1m9 -3h1v3h-1m12 -3h1v3h-1m2 -3h1v3h-1m50 -1h1v1h-1m-58 0h1v2h-1m53 -2h1v2h-1m-696 -2h1v3h-1m403 -3h1v3h-1m3 -3h1v3h-1m31 -3h1v3h-1m25 -6h1v6h-1m73 -3h1v3h-1m4 -3h1v3h-1m7 -3h2v3h-2m158 -1h1v1h-1m13 -3h1v3h-1m5 -3h1v3h-1m21 -3h8v3h-8m10 -3h1v3h-1m-335 0h2v1h-2m233 -2h1v2h-1m49 -1h1v1h-1m-294 1h1v1h-1m13 -2h1v2h-1m13 -3h1v3h-1m2 -3h1v3h-1m5 -3h1v3h-1m49 -9h1v9h-1m214 -3h2v3h-2m27 -6h1v6h-1m2 -3h2v3h-2m-311 0h1v1h-1m41 -4h2v4h-2m26 -1h1v1h-1m-77 -1h2v3h-2m7 -3h1v3h-1m9 -3h1v3h-1m9 -3h1v3h-1m5 -3h1v3h-1m21 -2h3v2h-3m291 -3h2v3h-2m-34 0h1v1h-1m-305 -1h1v3h-1m48 -3h1v3h-1m2 -3h1v3h-1m87 -3h1v3h-1m145 0h1v2h-1m-277 -5h1v6h-1m43 -3h3v3h-3m84 -3h1v3h-1m9 -3h2v3h-2m146 -3h1v3h-1m-296 0h2v3h-2m11 -3h2v3h-2m9 -3h2v3h-2m4 -3h1v3h-1m4 -3h2v3h-2m3 -3h1v3h-1m2 -3h1v3h-1m26 -3h1v3h-1m76 -12h2v12h-2m-136 0h1v3h-1m3 -3h1v3h-1m6 -3h3v3h-3m6 -3h1v3h-1m9 -1h1v1h-1m138 -3h1v3h-1m64 -1h2v1h-2m-213 0h2v2h-2m1 0h1v1h-1m18 -3h2v3h-2m26 -3h1v3h-1m2 -3h1v3h-1m76 -3h2v3h-2m165 -3h2v3h-2m-290 0h1v2h-1m279 -2h4v2h-4m-291 -2h2v3h-2m5 -3h1v3h-1m2 -6h1v6h-1m5 -1h2v1h-2m5 -3h1v3h-1m5 -6h1v6h-1m4 -3h1v3h-1m4 -3h2v3h-2m5 -3h2v3h-2m258 -1h2v1h-2m7 -3h2v3h-2m-292 0h1v3h-1m4 -3h1v3h-1m22 -3h2v3h-2m25 -6h3v6h-3m82 -3h2v3h-2m6 -3h1v3h-1m150 -3h1v3h-1m-293 0h1v3h-1m7 -3h1v3h-1m11 -3h1v3h-1m8 -3h1v3h-1m6 -3h1v3h-1m24 -3h2v3h-2m7 -24h2v24h-2m71 -6h1v6h-1m89 -6h2v6h-2m64 -3h1v3h-1m-284 0h4v2h-4m-6 -5h1v6h-1m4 -3h1v3h-1m4 -1h2v1h-2m17 -3h1v3h-1m7 -3h1v3h-1m26 -3h3v3h-3m78 -3h2v3h-2m3 -3h1v3h-1m17 -3h1v3h-1m125 -3h1v3h-1m-278 0h1v3h-1m13 -3h1v3h-1m7 -3h2v3h-2m6 -3h2v3h-2m5 -6h2v6h-2m24 -3h1v3h-1m2 -3h1v3h-1m82 -3h1v3h-1m-135 0h1v3h-1m8 -1h2v1h-2m14 -3h7v3h-7m29 -3h3v3h-3m79 -3h1v3h-1m160 -3h1v3h-1m-298 0h1v3h-1m6 -3h1v3h-1m3 -3h2v3h-2m6 -3h2v3h-2m8 -3h3v3h-3m9 -3h1v3h-1m28 -3h2v3h-2m77 -3h1v3h-1m-70 -9h2v10h-2m185 -1h1v1h-1m-250 -1h3v3h-3m5 -3h2v3h-2m9 -3h1v3h-1m6 -3h4v3h-4m8 -3h2v3h-2m3 -3h1v3h-1m53 -2h1v2h-1m46 -3h1v3h-1m95 -2h2v2h-2m-216 0h2v3h-2m4 -3h2v3h-2m8 -3h1v3h-1m3 -3h1v3h-1m6 -3h1v3h-1m3 -3h2v3h-2m24 -6h3v6h-3m78 -3h1v3h-1m-135 0h2v3h-2m6 -3h2v3h-2m22 -3h5v3h-5m103 -3h1v3h-1m21 -3h1v3h-1m73 -3h2v3h-2m65 -3h1v3h-1m-276 0h1v3h-1m7 -3h1v3h-1m9 -3h1v3h-1m27 -6h1v6h-1m2 -6h1v6h-1m24 -3h1v3h-1m-83 0h1v3h-1m15 -3h1v3h-1m5 -3h2v3h-2m38 -3h2v3h-2m73 -1h1v1h-1m5 -3h1v3h-1m89 -3h2v3h-2m61 0h1v1h-1m-285 -1h1v2h-1m31 -2h1v2h-1m-32 0h2v1h-2m4 -3h2v3h-2m7 -3h5v3h-5m18 -3h1v3h-1m106 -3h3v3h-3m147 1h1v1h-1m5 -2h1v2h-1m-288 -2h1v3h-1m3 -3h1v3h-1m8 -3h4v3h-4m47 -3h1v3h-1m2 -6h1v6h-1m76 -3h1v3h-1m156 -3h1v3h-1m-723 6h2v3h-2m-3 3h2v3h-2m5 -6h1v6h-1m-6 0h1v3h-1m3 -3h1v3h-1m5 -6h1v6h-1m-2 3h1v3h-1m3 -3h1v3h-1m-3 0h2v3h-2m-6 0h1v3h-1m7 -3h1v3h-1m-3 0h2v3h-2m5 -3h1v3h-1m-13 0h2v3h-2m7 -3h1v3h-1m5 18h1v3h-1m-2 3h1v3h-1m-10 0h1v3h-1m8 27h2v3h-2"/>
<path fill="#007cff" d="M0 0m684 54h1v1h-1m2 -1h2v1h-2m-111 0h4v1h-4m15 -1h1v1h-1m13 -1h1v1h-1m81 -1h2v1h-2m3 -1h2v1h-2m-127 0h1v1h-1m19 -1h2v1h-2m21 -1h1v1h-1m95 -3h1v3h-1m29 -1h1v1h-1m-165 0h3v1h-3m7 -1h1v1h-1m15 -1h1v1h-1m37 -1h1v1h-1m-57 0h2v1h-2m59 -2h2v2h-2m-78 0h1v1h-1m2 -3h1v3h-1m17 -1h1v1h-1m4 -2h2v2h-2m55 -1h4v1h-4m-46 0h1v1h-1m-26 -1h2v3h-2m4 -6h1v6h-1m7 -3h2v3h-2m51 -3h1v3h-1m5 -3h2v3h-2m120 -3h1v3h-1m-87 0h1v1h-1m-109 -1h2v2h-2m-1 0h3v1h-3m63 -3h1v3h-1m11 -3h1v3h-1m10 -3h2v3h-2m21 -1h1v1h-1m65 -3h1v3h-1m23 -3h2v3h-2m5 -3h1v3h-1m23 -3h1v3h-1m6 -1h1v1h-1m2 -2h1v2h-1m-133 0h1v2h-1m-79 -2h1v3h-1m2 -3h2v3h-2m5 -3h1v3h-1m6 -3h2v3h-2m5 -3h1v3h-1m44 -3h1v3h-1m32 -1h1v1h-1m7 -1h2v1h-2m44 -1h1v1h-1m26 -3h5v3h-5m-84 0h1v2h-1m54 -2h1v2h-1m-156 -2h1v3h-1m13 -3h2v3h-2m3 -3h1v3h-1m14 -3h2v3h-2m40 -3h1v3h-1m10 -3h2v3h-2m11 -6h1v6h-1m19 -3h1v3h-1m114 -3h2v3h-2m-239 0h2v3h-2m22 -3h3v3h-3m11 -3h1v3h-1m61 -3h1v3h-1m3 -3h2v3h-2m76 -3h1v3h-1m26 -3h1v3h-1m-5 0h1v2h-1m-196 -2h2v3h-2m23 -3h1v3h-1m7 -3h2v3h-2m11 -3h2v3h-2m43 -3h1v3h-1m22 -3h1v3h-1m79 -3h1v3h-1m2 -3h1v3h-1m7 -3h1v3h-1m12 -3h1v3h-1m35 -3h1v3h-1m7 -6h1v6h-1m-70 0h1v1h-1m2 -1h1v1h-1m4 -1h1v1h-1m-11 0h1v1h-1m-169 -2h2v3h-2m3 -3h1v3h-1m6 -3h1v3h-1m6 -3h2v3h-2m9 -3h1v3h-1m6 -3h2v3h-2m48 -3h2v3h-2m8 -3h1v3h-1m82 -1h1v1h-1m12 0h1v1h-1m-169 -1h1v3h-1m2 -3h1v3h-1m8 -3h2v3h-2m15 -3h1v3h-1m9 -1h1v1h-1m31 -1h1v1h-1m30 -2h1v2h-1m16 -3h1v3h-1m52 -2h1v2h-1m9 -3h2v3h-2m12 -3h2v3h-2m40 -3h2v4h-2m-194 -1h2v2h-2m28 -2h1v2h-1m19 -2h4v2h-4m-52 -1h1v2h-1m42 -3h1v3h-1m9 -1h3v1h-3m102 -3h1v3h-1m14 -3h1v3h-1m-195 0h1v1h-1m30 -2h1v2h-1m2 -1h3v1h-3m33 -1h1v2h-1m6 -1h2v1h-2m-6 0h2v1h-2m42 -3h1v3h-1m9 -3h1v3h-1m41 -3h2v3h-2m-141 0h1v2h-1m29 -1h1v1h-1m58 -2h1v3h-1m87 -3h1v3h-1m-96 0h1v1h-1m17 -4h1v5h-1m61 -2h1v2h-1m-134 -1h1v2h-1m10 -3h1v3h-1m6 -3h1v3h-1m16 -3h1v3h-1m-29 -3h1v4h-1m-482 -7h2v8h-2m505 -2h1v3h-1m128 0h3v2h-3m-148 -2h2v3h-2m140 -3h1v3h-1m9 -1h1v1h-1m-13 0h1v3h-1m-134 0h1v3h-1m20 -2h1v2h-1m-3 0h2v3h-2m-15 0h1v1h-1m3 2h1v1h-1m4 -1h1v3h-1m0 1h1v1h-1m-2 15h1v1h-1m3 -1h1v1h-1m-16 0h1v2h-1m24 -2h1v2h-1m201 6h2v3h-2m1 17h1v2h-1m-23 3h1v2h-1m-3 2h1v2h-1m-31 1h2v2h-2m14 -2h1v2h-1m50 -2h1v2h-1m6 -2h1v2h-1m-78 0h2v3h-2m5 -3h1v3h-1m6 0h2v2h-2m27 -2h1v2h-1m34 -2h2v2h-2m-176 -2h1v3h-1m118 -3h1v3h-1m20 1h1v2h-1m5 0h1v3h-1m86 -1h1v1h-1m5 2h1v1h-1m-234 -6h1v7h-1m-4 -1h1v2h-1m-81 -2h1v3h-1m336 -3h6v3h-6m-251 0h1v1h-1m-504 -1h1v3h-1m401 -3h1v3h-1m9 -3h2v3h-2m101 -3h1v3h-1m229 -3h2v3h-2m11 -3h2v3h-2m-331 0h1v1h-1m335 -1h2v1h-2m-339 -1h1v2h-1m4 -1h2v1h-2m-415 -2h1v3h-1m396 -1h2v1h-2m6 -1h1v1h-1m24 -1h1v1h-1m65 -3h1v3h-1m13 -3h1v3h-1m5 -3h1v3h-1m107 -2h1v2h-1m25 -3h1v3h-1m100 -3h2v3h-2m5 -3h1v3h-1m5 -2h1v2h-1m3 -3h2v3h-2m-329 0h1v1h-1m208 -1h1v1h-1m-11 0h1v1h-1m3 -1h1v1h-1m3 -1h1v1h-1m-637 -2h1v3h-1m3 -3h1v3h-1m402 -3h1v3h-1m6 -1h1v1h-1m11 -3h1v3h-1m7 -3h2v3h-2m4 -2h1v2h-1m18 -3h1v3h-1m5 -3h1v3h-1m50 -3h1v3h-1m3 -3h2v3h-2m235 -3h2v3h-2m19 -3h1v3h-1m-250 0h1v1h-1m-517 -1h2v3h-2m422 -3h2v3h-2m5 -3h1v3h-1m7 -1h2v1h-2m7 -2h1v2h-1m9 -3h2v3h-2m4 -3h2v3h-2m288 -3h2v3h-2m4 -3h1v3h-1m8 -3h2v3h-2m5 -3h2v3h-2m6 -3h4v3h-4m-321 0h2v2h-2m9 -2h1v2h-1m-40 -1h1v2h-1m4 -3h3v3h-3m4 -3h1v3h-1m21 -3h1v3h-1m4 -1h1v1h-1m9 -3h1v3h-1m283 -6h2v6h-2m-278 0h1v1h-1m2 -1h1v1h-1m17 -1h1v1h-1m-26 0h1v1h-1m14 -1h3v1h-3m13 -1h2v1h-2m-474 -2h1v3h-1m408 -3h1v3h-1m14 -3h2v3h-2m7 -3h3v3h-3m23 -2h1v2h-1m9 -1h1v1h-1m2 -1h1v1h-1m12 -1h1v1h-1m79 -1h1v1h-1m97 -3h1v3h-1m87 -3h1v3h-1m21 -3h2v3h-2m3 -3h1v3h-1m-337 0h2v1h-2m17 -1h2v1h-2m-17 0h1v1h-1m39 -2h1v2h-1m-468 -2h2v3h-2m420 -1h2v1h-2m26 -2h4v2h-4m206 -3h1v3h-1m75 -3h1v3h-1m8 -3h1v3h-1m6 -3h2v3h-2m-273 0h1v1h-1m297 -1h2v1h-2m-343 1h1v1h-1m8 -3h1v3h-1m10 -3h1v3h-1m13 -3h1v3h-1m12 -3h1v3h-1m2 -2h2v2h-2m4 -3h2v3h-2m270 -3h1v3h-1m13 -3h2v3h-2m8 -3h1v3h-1m4 -2h1v2h-1m-359 0h1v3h-1m2 -3h1v3h-1m5 -3h1v3h-1m3 -3h2v3h-2m3 -3h1v3h-1m11 -3h2v3h-2m29 -6h1v6h-1m6 -3h1v3h-1m2 -3h1v3h-1m6 -3h2v3h-2m180 -3h1v3h-1m2 -3h1v3h-1m28 -3h1v3h-1m43 -3h1v3h-1m3 -3h1v3h-1m11 -3h2v3h-2m4 -3h1v3h-1m-301 0h1v1h-1m2 -1h2v1h-2m4 -1h1v1h-1m3 -1h2v1h-2m17 -1h1v1h-1m-31 0h1v1h-1m15 -1h1v1h-1m20 -1h1v1h-1m-58 -2h2v3h-2m9 -3h1v3h-1m18 -1h1v1h-1m212 -3h1v3h-1m-241 0h1v3h-1m116 -3h2v3h-2m216 -3h2v3h-2m-327 0h2v3h-2m223 -3h2v3h-2m89 -3h2v3h-2m34 -3h1v3h-1m-759 -21h6v24h-6m401 -3h1v3h-1m36 -3h1v3h-1m23 -6h2v6h-2m64 -3h2v3h-2m182 -2h1v2h-1m15 -3h1v3h-1m5 -3h1v3h-1m26 -3h1v3h-1m5 -3h1v3h-1m-758 0h7v3h-7m408 -3h1v3h-1m11 -3h2v3h-2m20 -3h1v3h-1m48 -3h2v3h-2m48 -3h2v3h-2m198 -3h1v3h-1m-312 0h2v3h-2m16 -3h1v3h-1m4 -3h2v3h-2m98 -3h2v3h-2m111 -3h1v3h-1m55 -2h1v2h-1m22 -3h2v3h-2m3 -3h3v3h-3m27 -3h1v3h-1m4 -6h1v6h-1m-64 0h1v2h-1m-290 -5h2v6h-2m10 -3h1v3h-1m44 -6h1v6h-1m64 -3h2v3h-2m11 -6h1v6h-1m20 -3h1v3h-1m73 -3h1v3h-1m67 -1h2v1h-2m17 -2h1v2h-1m17 -3h1v3h-1m-729 -6h6v8h-6m405 -2h1v2h-1m-408 -2h2v3h-2m6 -1h1v1h-1m410 -3h2v3h-2m17 -3h1v3h-1m56 -9h1v9h-1m52 -3h2v3h-2m90 -1h1v1h-1m19 -3h1v3h-1m80 -3h1v3h-1m26 -6h2v6h-2m4 -3h1v3h-1m-337 0h2v1h-2m67 -1h1v1h-1m141 -1h2v1h-2m109 -1h1v1h-1m-740 -1h1v2h-1m416 -2h1v3h-1m121 -6h2v6h-2m112 -1h1v1h-1m53 -3h1v3h-1m26 -3h1v3h-1m25 -3h1v3h-1m10 -3h1v3h-1m-37 0h1v1h-1m-322 -1h2v3h-2m6 -6h1v6h-1m8 -2h1v2h-1m12 -1h1v1h-1m34 -3h1v3h-1m63 -3h2v3h-2m181 -3h1v3h-1m-304 0h1v3h-1m5 -3h1v3h-1m2 -3h1v3h-1m3 -3h1v3h-1m4 -3h2v3h-2m119 -3h2v3h-2m15 -3h1v3h-1m9 -3h1v3h-1m88 -3h1v3h-1m48 -1h1v1h-1m-277 0h2v3h-2m23 -6h2v6h-2m84 -3h2v3h-2m-99 0h3v2h-3m-22 -2h2v3h-2m11 -3h2v3h-2m11 -1h1v1h-1m2 -1h1v1h-1m8 -3h1v3h-1m25 -6h2v6h-2m78 -3h2v3h-2m12 -3h1v3h-1m151 -3h2v3h-2m-300 0h2v3h-2m6 -3h1v3h-1m54 -3h1v3h-1m73 -6h2v6h-2m-120 0h1v2h-1m10 -2h3v3h-3m114 -3h2v3h-2m4 -3h2v3h-2m86 -6h2v6h-2m18 -3h2v3h-2m46 -1h2v1h-2m-286 0h1v3h-1m4 -3h2v3h-2m4 -3h1v3h-1m17 -3h4v3h-4m103 -6h1v6h-1m28 -3h1v3h-1m85 -3h1v3h-1m-241 0h3v3h-3m7 -3h1v3h-1m47 -3h1v3h-1m222 0h1v2h-1m-705 -49h3v50h-3m424 -3h1v3h-1m15 -3h1v3h-1m137 -3h2v3h-2m140 -3h1v3h-1m-232 0h1v3h-1m63 -3h2v3h-2m10 -9h2v9h-2m4 -3h2v3h-2m7 -3h1v3h-1m-133 0h1v3h-1m3 -3h1v3h-1m179 -3h2v3h-2m32 -3h1v3h-1m-223 0h2v3h-2m57 -3h1v3h-1m64 -3h2v3h-2m15 -3h1v3h-1m114 -3h1v3h-1m-27 0h1v1h-1m-193 -1h1v3h-1m3 -3h1v3h-1m50 -2h1v2h-1m48 -6h2v6h-2m5 -3h2v3h-2m152 0h1v1h-1m-284 -1h1v3h-1m132 -3h1v3h-1m89 -3h2v3h-2m-142 -3h2v6h-2m38 -3h2v3h-2m11 -6h1v6h-1m119 -3h1v3h-1m47 -3h2v3h-2m5 -3h1v3h-1m-245 -3h1v6h-1m26 -3h1v3h-1m47 -3h2v3h-2m4 -6h2v6h-2m90 -3h2v3h-2m19 -3h1v3h-1m37 -3h1v3h-1m6 0h1v1h-1m-204 -1h2v2h-2m49 -2h1v2h-1m-129 -2h1v3h-1m11 -3h1v3h-1m43 -3h1v3h-1m78 -3h1v3h-1m159 -3h1v3h-1m-294 0h1v2h-1m304 -2h1v2h-1m-247 -2h2v3h-2m81 -3h1v3h-1m13 -3h1v3h-1m135 -2h1v2h-1m17 -1h2v1h-2m-245 0h1v3h-1m167 -6h2v6h-2m36 -1h1v1h-1m-701 6h5v3h-5m10 -3h1v3h-1m2 -3h2v3h-2m-12 0h7v3h-7m8 -3h2v3h-2m3 -3h3v3h-3m-11 0h2v3h-2m4 -3h1v3h-1m3 -3h3v3h-3m-7 0h4v3h-4m11 -6h1v6h-1m2 -3h1v3h-1m-13 0h2v3h-2m11 -3h3v3h-3m-11 0h4v3h-4m5 -9h2v9h-2m6 -3h2v3h-2m-9 0h5v3h-5m10 -3h1v3h-1m-4 -9h2v12h-2m-8 -3h4v6h-4m7 -3h1v3h-1m5 -3h1v3h-1m-10 0h5v3h-5m-2 0h2v3h-2m4 -3h3v3h-3m6 -3h1v3h-1m2 -6h2v6h-2m-6 3h2v3h-2m4 -3h1v3h-1m-7 6h1v3h-1m3 -3h1v3h-1m4 0h1v3h-1m1 0h1v3h-1m-5 0h2v3h-2m6 -3h1v3h-1m-7 0h1v3h-1m5 6h1v6h-1m0 3h1v3h-1m2 -3h1v3h-1m-12 0h2v3h-2m4 0h1v3h-1m-4 0h1v3h-1m6 -3h1v3h-1"/>
<path fill="#009aff" d="M0 0m688 52h1v1h-1m-6 0h1v1h-1m5 -1h2v1h-2m-129 2h1v1h-1m46 -1h1v1h-1m6 -3h1v3h-1m80 -1h1v1h-1m9 -3h1v3h-1m28 -3h1v3h-1m-145 0h1v1h-1m149 -1h1v1h-1m-150 0h2v1h-2m37 -1h1v1h-1m-79 -2h1v3h-1m2 -1h1v1h-1m21 -1h1v1h-1m169 -2h2v2h-2m-170 0h1v1h-1m-17 -1h1v3h-1m12 -3h1v3h-1m5 -2h2v2h-2m3 -3h1v3h-1m41 -3h1v3h-1m9 -3h1v3h-1m6 -3h2v3h-2m9 -3h1v3h-1m93 -3h2v3h-2m-16 0h1v2h-1m-169 0h1v1h-1m22 -3h2v3h-2m71 -3h1v3h-1m133 -1h1v1h-1m5 -2h1v2h-1m-119 1h1v1h-1m-115 -2h1v3h-1m14 -3h4v3h-4m24 -3h1v3h-1m34 -1h1v1h-1m13 -3h1v3h-1m15 -1h1v1h-1m8 -3h2v3h-2m62 -2h1v2h-1m12 -5h1v5h-1m15 -3h2v3h-2m30 -3h1v3h-1m8 -3h1v3h-1m-227 0h3v3h-3m8 -3h2v3h-2m65 -3h2v3h-2m9 -6h1v6h-1m3 -3h2v3h-2m17 -3h1v3h-1m70 -3h1v3h-1m-109 0h1v2h-1m-69 -2h2v3h-2m10 -3h1v3h-1m26 -3h1v3h-1m6 -3h1v3h-1m13 -3h1v3h-1m13 -1h2v1h-2m21 -3h1v3h-1m4 -3h1v3h-1m11 -3h1v3h-1m5 -3h1v3h-1m4 -1h1v1h-1m48 -3h1v3h-1m2 -3h1v3h-1m-172 0h2v3h-2m34 -3h2v3h-2m54 -3h2v3h-2m15 -3h1v3h-1m4 -3h1v3h-1m8 -3h1v3h-1m120 -3h2v3h-2m-66 0h1v1h-1m14 -1h2v1h-2m-15 0h1v1h-1m21 -2h2v2h-2m-187 -2h1v3h-1m30 -3h2v3h-2m51 -3h1v3h-1m31 -3h1v3h-1m76 -1h1v1h-1m4 -6h1v6h-1m43 -3h1v3h-1m-231 0h1v1h-1m59 -1h1v2h-1m-55 -2h1v3h-1m16 -3h2v3h-2m8 -3h1v3h-1m9 -1h2v1h-2m35 -3h1v3h-1m6 -3h1v3h-1m16 -3h2v3h-2m-77 0h2v2h-2m221 -2h1v2h-1m-229 -2h2v3h-2m10 -1h1v1h-1m14 -2h1v2h-1m26 -1h1v1h-1m4 -1h1v1h-1m21 -1h2v1h-2m8 -3h1v3h-1m14 -3h2v3h-2m53 -3h1v3h-1m-86 0h2v1h-2m-36 1h1v1h-1m5 -1h1v1h-1m30 -1h1v1h-1m40 -3h1v3h-1m5 -3h1v3h-1m2 -3h2v3h-2m-76 2h1v1h-1m21 -3h1v3h-1m20 -1h1v1h-1m3 -3h2v3h-2m-47 -1h1v2h-1m74 -1h1v2h-1m-70 -2h1v3h-1m2 -3h2v3h-2m13 -2h1v2h-1m49 -3h1v3h-1m-46 0h1v3h-1m-6 0h1v3h-1m-7 2h1v1h-1m14 -3h1v3h-1m5 0h1v1h-1m-507 -8h2v9h-2m495 -2h2v3h-2m0 0h1v3h-1m-11 0h1v2h-1m9 -2h1v3h-1m4 0h4v1h-4m1 0h4v2h-4m-2 0h1v1h-1m-13 16h1v1h-1m18 -1h1v1h-1m-4 0h2v2h-2m198 21h1v1h-1m1 6h1v3h-1m-12 2h1v1h-1m27 0h1v3h-1m-47 0h1v1h-1m46 -1h3v1h-3m2 0h1v2h-1m3 -2h1v2h-1m-59 0h1v3h-1m6 -3h2v3h-2m3 -3h1v3h-1m24 -3h2v3h-2m25 -3h2v3h-2m6 0h1v2h-1m-29 -2h1v3h-1m5 -3h1v3h-1m-162 0h2v3h-2m4 -3h1v3h-1m141 3h1v2h-1m-69 -2h1v3h-1m32 -3h2v3h-2m39 -3h1v3h-1m106 -1h1v1h-1m-109 0h2v3h-2m100 -3h2v3h-2m-748 1h1v2h-1m7 -1h1v1h-1m415 -2h1v2h-1m25 -1h1v1h-1m287 -3h2v3h-2m-308 0h1v1h-1m-3 -1h1v2h-1m-418 -2h1v3h-1m407 -1h1v1h-1m8 -1h1v1h-1m5 -1h1v1h-1m77 -3h1v3h-1m183 -3h1v3h-1m67 -1h1v1h-1m7 -2h1v2h-1m2 -3h2v3h-2m-130 0h1v1h-1m3 -1h1v1h-1m3 -1h1v1h-1m-213 -1h2v3h-2m7 -3h1v3h-1m17 -3h3v3h-3m30 -2h1v2h-1m29 -3h1v3h-1m9 -3h1v3h-1m168 -3h1v3h-1m55 -3h1v3h-1m11 -3h2v3h-2m-745 0h1v3h-1m394 -3h6v3h-6m11 -3h1v3h-1m7 -3h1v3h-1m40 -3h1v3h-1m51 -3h1v3h-1m87 -3h1v3h-1m5 -3h1v3h-1m136 -3h2v3h-2m24 -3h1v3h-1m-314 0h3v2h-3m-41 -2h2v3h-2m35 -1h2v1h-2m6 -1h2v1h-2m4 -3h1v3h-1m51 -3h1v3h-1m96 -3h3v3h-3m4 -3h2v3h-2m31 -3h2v3h-2m20 -3h2v3h-2m33 -3h1v3h-1m45 -3h2v3h-2m24 -3h2v3h-2m-347 0h3v1h-3m32 -1h1v1h-1m21 -1h1v1h-1m20 -1h1v1h-1m-13 0h2v1h-2m-60 -1h1v2h-1m21 -3h3v3h-3m36 -1h1v1h-1m4 -1h1v1h-1m10 -2h1v2h-1m116 -3h1v3h-1m3 -3h1v3h-1m55 -3h1v3h-1m32 -3h1v3h-1m49 -3h1v3h-1m8 -3h2v3h-2m18 -3h2v3h-2m4 -3h1v3h-1m-310 0h1v1h-1m21 -3h1v3h-1m9 -2h1v2h-1m-65 -1h3v2h-3m49 -2h1v2h-1m-466 -2h2v3h-2m407 -1h1v1h-1m45 -2h2v2h-2m14 -1h2v1h-2m96 -1h1v1h-1m32 -3h1v3h-1m40 -3h1v3h-1m16 -3h1v3h-1m79 -3h1v3h-1m32 0h1v1h-1m-342 -2h1v3h-1m-422 -2h2v3h-2m5 -3h1v3h-1m420 -6h1v6h-1m10 -3h1v3h-1m129 -3h2v3h-2m65 -3h1v3h-1m58 -6h1v6h-1m38 -3h1v3h-1m11 -3h3v3h-3m9 -3h1v3h-1m16 -3h1v3h-1m3 -2h2v2h-2m-363 0h6v3h-6m51 -3h1v3h-1m2 -3h1v3h-1m2 -3h1v3h-1m173 -3h2v3h-2m26 -3h1v3h-1m68 -3h1v3h-1m3 -3h1v3h-1m-287 0h1v1h-1m32 -1h2v1h-2m10 -1h2v1h-2m4 -1h2v1h-2m-42 0h1v1h-1m153 -2h1v2h-1m-172 -2h1v3h-1m17 -2h1v2h-1m18 -3h1v3h-1m71 -3h2v3h-2m35 -6h1v6h-1m35 -3h2v3h-2m3 -3h2v3h-2m37 -3h2v3h-2m44 -3h1v3h-1m61 -3h1v3h-1m11 -3h1v3h-1m5 -3h4v3h-4m-341 0h2v3h-2m9 -3h1v3h-1m2 -3h2v3h-2m10 -3h2v3h-2m117 -3h1v3h-1m40 -3h1v3h-1m40 -3h2v3h-2m84 -3h1v3h-1m2 -3h1v3h-1m3 -1h1v1h-1m25 -3h3v3h-3m-222 0h2v3h-2m72 -3h1v3h-1m55 -1h1v1h-1m56 -3h1v3h-1m17 -3h1v3h-1m9 -3h1v3h-1m15 -3h2v3h-2m7 -3h1v3h-1m2 -3h2v3h-2m3 -3h1v3h-1m-343 -6h1v9h-1m8 -3h2v3h-2m133 -3h2v3h-2m34 -3h2v3h-2m32 -3h1v3h-1m5 -3h1v3h-1m19 -3h1v3h-1m80 -3h2v3h-2m-333 0h6v3h-6m8 -3h2v3h-2m5 -3h1v3h-1m131 -3h1v3h-1m14 -3h2v3h-2m6 -3h1v3h-1m34 -3h1v3h-1m3 -3h3v3h-3m113 -3h2v3h-2m21 -3h2v3h-2m7 -3h1v3h-1m19 -3h2v3h-2m-760 0h1v3h-1m3 -3h1v3h-1m410 -3h1v3h-1m26 -3h1v3h-1m10 -3h1v3h-1m79 -6h2v6h-2m10 -3h1v3h-1m24 -3h1v3h-1m34 -3h1v3h-1m106 -2h1v2h-1m13 -3h2v3h-2m22 -6h1v6h-1m5 -3h2v3h-2m-330 0h2v3h-2m131 -3h1v3h-1m54 -3h4v3h-4m53 -3h2v3h-2m74 -3h1v3h-1m7 -3h1v3h-1m3 -3h2v3h-2m6 -3h2v3h-2m20 -3h2v3h-2m3 -3h2v3h-2m-51 0h1v1h-1m-307 -1h2v2h-2m-402 -2h1v3h-1m407 -3h1v3h-1m13 -3h1v3h-1m17 -3h1v3h-1m113 -3h2v3h-2m5 -3h1v3h-1m4 -3h1v3h-1m38 -3h1v3h-1m50 -3h1v3h-1m49 -3h2v3h-2m21 -3h1v3h-1m13 -3h1v3h-1m31 -3h1v3h-1m-202 0h2v1h-2m88 -1h2v2h-2m-244 -3h1v4h-1m33 -3h1v3h-1m89 -6h2v6h-2m69 -3h1v3h-1m34 -2h1v2h-1m20 -1h1v1h-1m39 -3h1v3h-1m27 -3h1v3h-1m5 -3h1v3h-1m6 -3h1v3h-1m29 -3h2v3h-2m3 -3h4v3h-4m-341 0h1v1h-1m12 -1h1v2h-1m-32 -2h6v3h-6m8 -3h2v3h-2m5 -3h2v3h-2m126 -3h2v3h-2m62 -3h1v3h-1m30 -3h2v3h-2m20 -3h2v3h-2m50 -3h1v3h-1m-262 0h1v3h-1m90 -3h2v3h-2m21 -3h1v3h-1m81 -3h1v3h-1m21 -3h1v3h-1m60 -3h1v3h-1m-300 0h1v3h-1m128 -3h1v3h-1m21 -3h2v3h-2m36 -3h1v3h-1m2 -6h2v6h-2m-70 0h2v2h-2m67 -2h1v2h-1m-182 -2h1v3h-1m28 -3h1v3h-1m121 -1h1v1h-1m123 -3h1v3h-1m-145 0h1v3h-1m16 -6h1v6h-1m41 -3h1v3h-1m33 -9h2v9h-2m20 -9h2v9h-2m-251 0h6v3h-6m145 -3h1v3h-1m19 -3h1v3h-1m33 -3h2v3h-2m107 -3h1v3h-1m4 -3h3v3h-3m-168 -3h1v6h-1m17 -3h1v3h-1m75 -6h1v6h-1m19 -3h1v3h-1m50 -3h1v3h-1m-158 0h1v3h-1m20 -3h1v3h-1m38 -6h1v6h-1m105 -3h2v3h-2m-270 0h2v3h-2m93 -3h2v3h-2m16 -3h1v3h-1m54 -3h2v3h-2m40 -3h2v3h-2m-37 0h1v2h-1m-182 -2h1v3h-1m177 -3h1v3h-1m34 -9h2v9h-2m80 -3h1v3h-1m-311 0h6v3h-6m10 -3h1v3h-1m119 -3h2v3h-2m10 -3h2v3h-2m4 -3h1v3h-1m88 0h2v3h-2m72 -3h1v3h-1m-142 0h2v1h-2m-118 -1h1v3h-1m114 -3h1v3h-1m4 -2h4v2h-4m38 -6h2v6h-2m-191 0h1v3h-1m121 -6h2v6h-2m10 -3h1v3h-1m22 -3h3v3h-3m37 -3h1v3h-1m41 -3h2v3h-2m57 -2h1v2h-1m12 -3h2v3h-2m-147 0h4v3h-4m36 -3h1v3h-1m54 -24h2v24h-2m49 -3h2v3h-2m10 -3h1v3h-1m-310 0h6v3h-6m7 -3h1v3h-1m244 -3h1v3h-1m45 -3h2v3h-2m3 -3h1v3h-1m-170 -3h2v5h-2m10 -2h1v2h-1m112 -2h2v2h-2m44 -1h1v1h-1m-289 -2h1v3h-1m24 -3h2v3h-2m118 -3h1v3h-1m9 -3h1v3h-1m6 -3h2v3h-2m38 -3h1v3h-1m96 -3h1v3h-1m-282 0h1v3h-1m13 -3h1v3h-1m133 -3h4v3h-4m137 -3h2v3h-2m5 -3h1v3h-1m3 -6h2v6h-2m-2 0h4v2h-4m-160 -2h1v3h-1m19 -3h2v3h-2m35 -3h1v3h-1m33 -7h2v7h-2m73 -1h2v1h-2m-731 6h3v3h-3m6 -3h1v3h-1m428 -3h1v3h-1m11 -3h1v3h-1m2 -3h1v3h-1m2 -3h1v3h-1m4 -3h1v3h-1m13 -3h1v3h-1m8 -3h3v3h-3m4 -3h14v3h-14m15 -3h1v3h-1m3 -3h1v3h-1m2 -3h1v3h-1m4 -3h4v3h-4m5 -3h1v3h-1m13 -3h5v3h-5m6 -3h3v3h-3m4 -3h11v3h-11m12 -3h1v3h-1m16 -3h2v3h-2m3 -3h5v3h-5m6 -3h3v3h-3m5 -3h2v3h-2m3 -3h1v3h-1m5 -3h4v3h-4m7 -3h1v3h-1m2 -3h1v3h-1m7 -3h1v3h-1m28 -3h2v3h-2m3 -3h1v3h-1m2 -3h2v3h-2m24 -3h1v3h-1m3 -3h1v3h-1m6 -3h5v3h-5m6 -3h1v3h-1m2 -3h1v3h-1m-243 -3h5v4h-5m-425 -1h1v3h-1m432 -3h2v3h-2m12 -3h1v3h-1m12 -6h1v6h-1m2 -6h4v6h-4m9 -6h1v6h-1m5 -3h2v3h-2m3 -3h4v3h-4m5 -3h9v3h-9m14 -3h2v3h-2m6 -3h2v3h-2m10 -6h6v6h-6m13 -3h1v3h-1m2 -3h4v3h-4m5 -3h4v3h-4m5 -3h3v3h-3m4 -3h2v3h-2m3 -6h12v6h-12m13 -3h9v3h-9m11 -3h2v3h-2m4 -3h3v3h-3m4 -3h2v3h-2m10 -3h1v3h-1m2 -3h2v3h-2m6 -3h1v3h-1m12 -6h4v6h-4m23 -3h1v3h-1m2 -3h1v3h-1m23 -3h1v3h-1m2 -3h2v3h-2m5 -3h3v3h-3m5 -3h1v3h-1m6 -6h6v6h-6m8 -6h7v6h-7m8 -6h1v6h-1m-238 0h1v1h-1m117 -1h4v1h-4m-72 -1h3v2h-3m11 -2h2v2h-2m64 -1h1v1h-1m23 -2h1v2h-1m-596 -2h2v3h-2m11 -3h1v3h-1m426 -3h3v3h-3m5 -3h2v3h-2m3 -9h2v9h-2m3 -3h1v3h-1m5 -1h1v1h-1m4 -6h2v6h-2m4 -3h4v3h-4m5 -3h1v3h-1m2 -6h1v6h-1m9 -3h16v3h-16m17 -3h2v3h-2m4 -1h1v1h-1m2 -1h1v1h-1m2 -3h1v3h-1m2 -3h3v3h-3m5 -1h3v1h-3m4 -6h1v6h-1m16 -3h2v3h-2m4 -3h1v3h-1m2 -3h8v3h-8m11 -3h14v3h-14m15 -3h8v3h-8m9 -2h1v2h-1m2 -1h2v1h-2m3 -3h4v3h-4m8 -6h5v6h-5m7 -3h4v3h-4m6 -1h2v1h-2m28 -3h1v3h-1m2 -6h3v6h-3m6 -3h3v3h-3m24 -3h1v3h-1m4 -3h1v3h-1m5 -3h2v3h-2m3 -3h2v3h-2m3 -3h2v3h-2m4 -3h7v3h-7m8 -3h3v3h-3m4 -3h2v3h-2m3 -3h1v3h-1m-684 0h3v3h-3m431 -3h2v3h-2m7 -3h3v3h-3m7 -3h1v3h-1m11 -3h7v3h-7m12 -3h1v3h-1m6 -3h3v3h-3m5 -3h11v3h-11m14 -3h1v3h-1m6 -3h3v3h-3m4 -3h2v3h-2m19 -3h1v3h-1m2 -3h1v3h-1m4 -3h10v3h-10m11 -3h1v3h-1m2 -3h12v3h-12m13 -3h9v3h-9m11 -3h6v3h-6m10 -6h1v6h-1m2 -3h4v3h-4m6 -3h2v3h-2m3 -3h1v3h-1m3 -3h1v3h-1m14 -6h5v6h-5m17 -3h4v3h-4m5 -3h1v3h-1m31 -6h1v6h-1m2 -3h5v3h-5m7 -3h3v3h-3m12 -3h6v3h-6m-683 0h3v3h-3m8 -3h1v3h-1m432 -3h1v3h-1m3 -3h1v3h-1m3 -3h1v3h-1m2 -3h1v3h-1m5 -3h2v3h-2m6 -3h1v3h-1m4 -3h4v3h-4m18 -3h2v3h-2m3 -3h9v3h-9m10 -3h1v3h-1m3 -6h1v6h-1m3 -3h2v3h-2m10 -3h1v3h-1m2 -3h2v3h-2m3 -9h7v9h-7m13 -3h3v3h-3m4 -3h1v3h-1m3 -3h8v3h-8m10 -3h11v3h-11m16 -3h2v3h-2m4 -3h5v3h-5m10 -3h2v3h-2m3 -6h1v6h-1m4 -3h5v3h-5m12 -3h2v3h-2m3 -3h2v3h-2m12 -3h4v3h-4m21 -3h2v3h-2m3 -6h2v6h-2m26 -6h1v6h-1m6 -3h5v3h-5m6 -3h2v3h-2m12 -3h7v3h-7m8 -6h1v6h-1m-254 0h2v1h-2m32 -4h1v4h-1m12 -1h14v1h-14m17 -1h2v1h-2m10 -1h2v1h-2m27 -1h21v1h-21m129 -1h3v1h-3m4 -1h1v1h-1m-231 0h1v1h-1m98 -1h14v1h-14m15 -1h6v1h-6m133 -2h3v2h-3m4 -2h2v2h-2m-685 -2h1v3h-1m435 -1h2v1h-2m8 -3h2v3h-2m6 -3h4v3h-4m11 -3h5v3h-5m7 -1h1v1h-1m7 -9h3v9h-3m5 -2h5v2h-5m6 -2h8v2h-8m9 -3h1v3h-1m2 -1h1v1h-1m11 -2h1v2h-1m19 -3h4v3h-4m7 -1h21v1h-21m26 -3h8v3h-8m13 -3h3v3h-3m7 -3h1v3h-1m8 -6h4v6h-4m5 -3h1v3h-1m3 -3h1v3h-1m2 -3h1v3h-1m28 -6h2v6h-2m3 -3h1v3h-1m3 -3h1v3h-1m25 -3h1v3h-1m6 -2h5v2h-5m9 -3h1v3h-1m10 -1h6v1h-6m7 -3h2v3h-2m-57 0h2v2h-2m-635 -2h2v3h-2m7 -9h1v9h-1m6 -3h1v3h-1m426 -3h1v3h-1m5 -3h1v3h-1m2 -3h2v3h-2m3 -3h1v3h-1m5 -3h1v3h-1m8 -3h1v3h-1m3 -3h4v3h-4m5 -3h2v3h-2m9 -3h2v3h-2m4 -3h4v3h-4m6 -3h6v3h-6m8 -3h5v3h-5m16 -3h1v3h-1m3 -6h7v6h-7m21 -3h8v3h-8m10 -3h11v3h-11m12 -9h2v9h-2m14 -9h2v9h-2m4 -3h5v3h-5m8 -6h4v6h-4m5 -3h6v3h-6m39 -3h3v3h-3m4 -3h1v3h-1m3 -1h1v1h-1m23 -3h1v3h-1m4 -9h1v9h-1m11 -3h2v3h-2m-173 0h2v2h-2m-496 -2h3v3h-3m5 -3h1v3h-1m2 -3h2v3h-2m420 -4h5v4h-5m6 -3h2v3h-2m4 -6h1v6h-1m5 -3h4v3h-4m6 -3h1v3h-1m6 -3h1v3h-1m5 -3h4v3h-4m7 -3h1v3h-1m2 -9h1v9h-1m5 -3h17v3h-17m21 -3h1v3h-1m3 -1h1v1h-1m10 -3h3v3h-3m13 -21h4v21h-4m6 -6h2v6h-2m4 -6h1v6h-1m2 -3h24v3h-24m25 -6h4v6h-4m10 -3h3v3h-3m4 -3h5v3h-5m7 -3h6v3h-6m9 -3h3v3h-3m34 -3h1v3h-1m7 -3h3v3h-3m25 -3h2v3h-2m3 -3h2v3h-2m4 -3h1v3h-1m2 -6h5v6h-5m8 -3h1v3h-1m2 -15h6v15h-6m16 -3h1v3h-1m-214 0h2v1h-2m94 -1h7v1h-7m18 -1h4v1h-4m-111 0h1v1h-1m93 -1h2v1h-2m3 -1h4v1h-4m116 -2h2v2h-2m-688 -2h3v3h-3m6 -3h2v3h-2m438 -3h3v3h-3m6 -3h2v3h-2m7 -3h1v3h-1m4 -3h4v3h-4m11 -6h1v6h-1m3 -1h2v1h-2m4 -3h5v3h-5m6 -3h6v3h-6m7 -3h3v3h-3m6 -3h3v3h-3m9 -3h1v3h-1m2 -3h2v3h-2m24 -3h4v3h-4m5 -3h4v3h-4m6 -3h4v3h-4m5 -3h8v3h-8m10 -3h3v3h-3m4 -9h4v9h-4m6 -1h7v1h-7m9 -3h1v3h-1m9 -1h1v1h-1m2 -2h2v2h-2m18 -12h5v12h-5m18 -6h2v6h-2m33 -3h1v3h-1m8 -3h5v3h-5m14 -9h7v9h-7m-676 0h4v3h-4m430 -3h3v3h-3m4 -3h2v3h-2m5 -3h2v3h-2m4 -3h4v3h-4m13 -3h5v3h-5m13 -3h1v3h-1m3 -3h1v3h-1m2 -3h3v3h-3m4 -3h12v3h-12m16 -3h1v3h-1m8 -3h2v3h-2m5 -3h1v3h-1m10 -6h5v6h-5m6 -6h4v6h-4m6 -3h9v3h-9m10 -3h1v3h-1m2 -3h13v3h-13m14 -3h8v3h-8m11 -3h2v3h-2m3 -3h2v3h-2m3 -3h1v3h-1m5 -6h4v6h-4m6 -3h5v3h-5m9 -3h1v3h-1m12 -3h4v3h-4m17 -3h3v3h-3m42 -3h1v3h-1m2 -3h1v3h-1m11 -3h8v3h-8m-217 0h1v2h-1m20 -2h9v2h-9m-485 -2h2v3h-2m5 -3h3v3h-3m4 -3h1v3h-1m430 -3h3v3h-3m7 -3h1v3h-1m6 -3h1v3h-1m2 -3h1v3h-1m4 -6h1v6h-1m3 -3h1v3h-1m2 -3h1v3h-1m5 -3h3v3h-3m6 -3h6v3h-6m7 -3h3v3h-3m4 -1h8v1h-8m12 -6h1v6h-1m3 -3h2v3h-2m12 -3h1v3h-1m3 -12h6v12h-6m7 -3h6v3h-6m10 -3h7v3h-7m8 -3h3v3h-3m4 -3h1v3h-1m2 -3h9v3h-9m10 -3h3v3h-3m19 -3h3v3h-3m5 -3h1v3h-1m3 -3h5v3h-5m6 -3h2v3h-2m3 -3h1v3h-1m2 -3h1v3h-1m4 -3h2v3h-2m29 -3h2v3h-2m3 -3h1v3h-1m2 -9h3v9h-3m24 -9h1v9h-1m3 -3h1v3h-1m6 -9h2v9h-2m3 -3h5v3h-5m6 -9h7v9h-7m9 -3h7v3h-7m8 -7h1v7h-1m-228 0h4v1h-4m119 -1h5v1h-5m7 -1h5v1h-5m37 -1h5v1h-5m-162 0h1v1h-1m81 -2h15v2h-15m16 -5h3v5h-3m4 -5h4v5h-4m24 -1h6v1h-6m37 -1h6v1h-6m-625 -2h1v3h-1m436 -1h1v1h-1m3 -3h2v3h-2m5 -3h2v3h-2m3 -3h1v3h-1m3 -3h1v3h-1m9 -3h1v3h-1m3 -1h2v1h-2m3 -2h1v2h-1m8 -3h1v3h-1m2 -3h3v3h-3m5 -3h14v3h-14m24 -24h2v24h-2m4 -6h1v6h-1m5 -3h3v3h-3m4 -3h3v3h-3m17 -3h1v3h-1m2 -3h6v3h-6m8 -1h11v1h-11m12 -1h3v1h-3m4 -1h8v1h-8m10 -6h2v6h-2m3 -3h7v3h-7m8 -2h1v2h-1m2 -2h3v2h-3m5 -1h5v1h-5m20 -6h5v6h-5m17 -1h5v1h-5m31 -2h1v2h-1m3 -3h1v3h-1m5 -3h4v3h-4m10 -3h7v3h-7m8 -3h6v3h-6m-674 0h1v3h-1m429 -3h1v3h-1m11 -3h1v3h-1m4 -3h1v3h-1m4 -6h1v6h-1m7 -3h1v3h-1m5 -3h1v3h-1m7 -3h7v3h-7m8 -3h1v3h-1m2 -3h9v3h-9m11 -3h1v3h-1m7 -3h3v3h-3m7 -3h1v3h-1m12 -6h5v6h-5m6 -9h2v9h-2m6 -3h4v3h-4m5 -3h3v3h-3m5 -3h1v3h-1m15 -3h9v3h-9m10 -3h4v3h-4m5 -3h2v3h-2m3 -3h1v3h-1m5 -3h4v3h-4m6 -3h1v3h-1m2 -3h3v3h-3m7 -3h1v3h-1m11 -3h1v3h-1m2 -3h3v3h-3m16 -3h2v3h-2m3 -3h1v3h-1m3 -3h2v3h-2m25 -3h1v3h-1m12 -3h3v3h-3m5 -3h6v3h-6m7 -3h7v3h-7m8 -6h2v6h-2m-692 0h4v3h-4m12 -3h1v3h-1m427 -3h1v3h-1m3 -3h1v3h-1m2 -3h1v3h-1m6 -3h1v3h-1m8 -3h2v3h-2m4 -3h7v3h-7m14 -3h6v3h-6m7 -3h4v3h-4m5 -3h7v3h-7m8 -3h1v3h-1m5 -9h2v9h-2m10 -3h4v3h-4m19 -3h4v3h-4m5 -3h1v3h-1m2 -3h5v3h-5m6 -3h2v3h-2m3 -3h2v3h-2m3 -6h12v6h-12m24 -3h2v3h-2m3 -3h4v3h-4m8 -3h8v3h-8m13 -3h1v3h-1m2 -3h2v3h-2m12 -3h5v3h-5m15 -6h1v6h-1m3 -3h4v3h-4m5 -3h1v3h-1m28 -3h1v3h-1m4 -6h5v6h-5m7 -3h1v3h-1m2 -3h9v3h-9m10 -3h2v3h-2m3 -3h4v3h-4m-209 0h2v1h-2m23 -1h1v1h-1m91 -4h2v4h-2m-161 -3h5v4h-5m7 -1h1v1h-1m26 -2h1v2h-1m14 -1h3v1h-3m58 -2h1v2h-1m2 -2h6v2h-6m10 -2h8v2h-8m109 -1h1v1h-1m2 -2h2v2h-2m-655 -2h1v3h-1m3 -3h2v3h-2m440 -9h1v9h-1m3 -3h1v3h-1m14 -1h2v1h-2m3 -3h1v3h-1m11 -1h2v1h-2m4 -3h2v3h-2m4 -3h8v3h-8m11 -3h2v3h-2m12 -3h2v3h-2m14 -6h5v6h-5m13 -1h8v1h-8m10 -3h1v3h-1m2 -1h2v1h-2m3 -1h5v1h-5m24 -3h5v3h-5m9 -3h5v3h-5m6 -3h1v3h-1m2 -2h3v2h-3m7 -3h1v3h-1m12 -3h4v3h-4m17 -3h2v3h-2m3 -3h2v3h-2m29 -1h1v1h-1m2 -3h1v3h-1m4 -3h2v3h-2m5 -3h3v3h-3m5 -3h7v3h-7m16 -6h1v6h-1m-683 0h1v3h-1m429 -3h1v3h-1m7 -3h2v3h-2m4 -3h1v3h-1m3 -6h2v6h-2m3 -3h1v3h-1m4 -3h1v3h-1m5 -3h4v3h-4m6 -3h1v3h-1m5 -3h1v3h-1m7 -3h13v3h-13m18 -3h2v3h-2m3 -3h1v3h-1m7 -3h1v3h-1m4 -3h1v3h-1m10 -3h5v3h-5m6 -6h3v6h-3m4 -3h6v3h-6m8 -3h2v3h-2m5 -3h9v3h-9m10 -6h3v6h-3m14 -6h3v6h-3m4 -3h3v3h-3m6 -3h1v3h-1m8 -3h6v3h-6m7 -5h1v5h-1m14 -3h1v3h-1m2 -3h3v3h-3m16 -3h4v3h-4m6 -6h2v6h-2m23 -3h3v3h-3m4 -3h2v3h-2m5 -3h3v3h-3m9 -3h7v3h-7m16 -3h2v3h-2m-226 0h1v2h-1m-465 -2h1v3h-1m10 -3h1v3h-1m430 -3h1v3h-1m2 -3h2v3h-2m5 -3h1v3h-1m4 -3h1v3h-1m16 -3h1v3h-1m2 -3h2v3h-2m3 -3h1v3h-1m6 -6h3v6h-3m4 -3h12v3h-12m13 -3h1v3h-1m2 -6h1v6h-1m4 -3h1v3h-1m9 -3h2v3h-2m6 -15h6v15h-6m8 -3h4v3h-4m5 -3h4v3h-4m19 -3h2v3h-2m3 -3h7v3h-7m21 -3h3v3h-3m4 -3h3v3h-3m5 -3h2v3h-2m3 -6h4v6h-4m11 -3h2v3h-2m3 -3h2v3h-2m13 -3h4v3h-4m14 -3h1v3h-1m8 -3h1v3h-1m2 -3h1v3h-1m24 -3h1v3h-1m3 -3h2v3h-2m4 -3h4v3h-4m6 -6h2v6h-2m4 -3h6v3h-6m-230 0h1v1h-1m2 -1h1v1h-1m58 -13h2v13h-2m10 -1h12v1h-12m13 -1h3v1h-3m19 -1h10v1h-10m14 -13h8v13h-8m16 -1h2v1h-2m12 -4h4v4h-4m-146 -1h1v2h-1m62 -1h1v1h-1m10 -1h6v1h-6m7 -1h5v1h-5m6 -1h2v1h-2m19 -1h3v1h-3m4 -1h6v1h-6m10 -1h6v1h-6m7 -1h1v1h-1m3 -2h5v2h-5m6 -1h1v1h-1m12 -1h1v1h-1m2 -1h2v1h-2m-583 -2h1v3h-1m429 -3h2v3h-2m9 -2h2v2h-2m3 -3h1v3h-1m11 -6h1v6h-1m14 -3h1v3h-1m24 -3h3v3h-3m7 -1h2v1h-2m6 -3h3v3h-3m4 -1h12v1h-12m13 -1h3v1h-3m7 -6h8v6h-8m10 -3h1v3h-1m2 -1h10v1h-10m11 -6h1v6h-1m3 -1h8v1h-8m10 -1h7v1h-7m18 -1h4v1h-4m8 -3h1v3h-1m12 -3h1v3h-1m2 -3h3v3h-3m16 -6h3v6h-3m6 -3h1v3h-1m24 -3h1v3h-1m2 -2h1v2h-1m2 -3h1v3h-1m3 -3h3v3h-3m4 -3h2v3h-2m3 -3h1v3h-1m3 -3h7v3h-7m17 -6h1v6h-1m-691 0h1v3h-1m435 -3h3v3h-3m6 -5h1v5h-1m3 -3h1v3h-1m4 -3h1v3h-1m7 -3h1v3h-1m6 -3h1v3h-1m2 -6h2v6h-2m3 -3h2v3h-2m11 -6h1v6h-1m4 -6h13v6h-13m18 -3h1v3h-1m3 -3h1v3h-1m3 -3h1v3h-1m4 -6h1v6h-1m2 -3h1v3h-1m4 -3h6v3h-6m14 -3h4v3h-4m6 -3h1v3h-1m2 -3h3v3h-3m4 -3h2v3h-2m3 -3h6v3h-6m7 -3h9v3h-9m10 -3h9v3h-9m10 -3h3v3h-3m5 -3h3v3h-3m12 -3h5v3h-5m7 -3h1v3h-1m3 -3h1v3h-1m29 -3h2v3h-2m7 -3h1v3h-1m22 -3h1v3h-1m2 -3h1v3h-1m5 -3h1v3h-1m2 -3h3v3h-3m5 -3h3v3h-3m5 -3h7v3h-7m8 -15h6v15h-6m-681 0h1v3h-1m436 -3h1v3h-1m2 -3h2v3h-2m5 -3h2v3h-2m8 -3h1v3h-1m8 -3h6v3h-6m19 -3h14v3h-14m17 -3h3v3h-3m8 -3h3v3h-3m4 -3h4v3h-4m6 -3h7v3h-7m21 -3h4v3h-4m5 -3h3v3h-3m4 -3h4v3h-4m5 -3h13v3h-13m14 -3h5v3h-5m11 -3h3v3h-3m9 -9h3v9h-3m13 -3h1v3h-1m2 -3h1v3h-1m10 -6h5v6h-5m17 -3h5v3h-5m6 -3h3v3h-3m25 -3h1v3h-1m5 -3h1v3h-1m12 -3h7v3h-7m8 -3h7v3h-7m-235 0h1v1h-1m62 -1h1v1h-1m52 -1h2v1h-2m3 -1h6v1h-6m11 -1h4v1h-4m5 -1h1v1h-1m-124 -1h1v2h-1m2 -2h1v2h-1m47 -2h2v2h-2m56 -1h8v1h-8m22 -2h4v2h-4m92 -2h6v2h-6m-238 -2h1v3h-1m3 -3h1v3h-1m5 -3h1v3h-1m11 -1h3v1h-3m17 -3h1v3h-1m4 -6h2v6h-2m4 -3h2v3h-2m3 -3h1v3h-1m2 -3h9v3h-9m12 -3h2v3h-2m13 -3h11v3h-11m12 -9h4v9h-4m5 -6h3v6h-3m4 -3h2v3h-2m15 -3h12v3h-12m14 -1h2v1h-2m3 -1h6v1h-6m11 -2h2v2h-2m3 -2h1v2h-1m2 -1h1v1h-1m3 -1h1v1h-1m2 -1h2v1h-2m5 -6h3v6h-3m19 -3h1v3h-1m2 -3h3v3h-3m13 -3h2v3h-2m8 -3h1v3h-1m2 -3h1v3h-1m25 -3h1v3h-1m12 -6h2v6h-2m5 -1h5v1h-5m11 -3h3v3h-3m-257 -3h5v4h-5m102 -1h1v2h-1m-531 -2h1v3h-1m441 -3h1v3h-1m2 -3h2v3h-2m3 -4h1v4h-1m3 -3h1v3h-1m13 -6h3v6h-3m11 -3h1v3h-1m3 -3h3v3h-3m4 -3h15v3h-15m16 -3h2v3h-2m6 -3h2v3h-2m3 -4h1v4h-1m2 -3h1v3h-1m2 -3h1v3h-1m3 -3h8v3h-8m9 -3h5v3h-5m22 -3h2v3h-2m3 -3h9v3h-9m11 -3h2v3h-2m3 -3h8v3h-8m10 -9h2v9h-2m5 -3h2v3h-2m3 -3h1v3h-1m4 -3h4v3h-4m6 -3h4v3h-4m6 -3h1v3h-1m3 -3h1v3h-1m26 -3h1v3h-1m3 -6h2v6h-2m4 -3h1v3h-1m2 -3h2v3h-2m26 -3h2v3h-2m6 -9h2v9h-2m3 -6h1v6h-1m3 -3h3v3h-3m4 -3h7v3h-7m8 -6h3v6h-3m4 -3h2v3h-2m-250 -3h2v6h-2m8 -3h3v3h-3m5 -3h2v3h-2m19 -3h1v3h-1m12 -3h3v3h-3m5 -3h7v3h-7m14 -3h1v3h-1m4 -3h3v3h-3m7 -3h2v3h-2m3 -3h8v3h-8m9 -3h4v3h-4m6 -6h2v6h-2m3 -3h3v3h-3m4 -9h7v9h-7m11 -3h1v3h-1m4 -3h6v3h-6m7 -3h1v3h-1m2 -3h9v3h-9m10 -3h2v3h-2m6 -3h1v3h-1m4 -3h1v3h-1m3 -3h1v3h-1m2 -3h5v3h-5m11 -3h2v3h-2m3 -3h1v3h-1m10 -6h5v6h-5m15 -3h6v3h-6m38 -6h1v6h-1m2 -3h3v3h-3m8 -3h2v3h-2m3 -3h6v3h-6m8 -3h6v3h-6m8 -12h1v12h-1m-192 0h1v1h-1m2 -1h1v1h-1m81 -1h1v1h-1m75 -1h1v1h-1m33 -1h2v1h-2m-227 -4h4v5h-4m36 -1h2v1h-2m57 -2h3v2h-3m15 -2h2v2h-2m14 -2h2v2h-2m4 -1h1v1h-1m-591 -2h1v3h-1m11 -6h1v6h-1m432 -3h1v3h-1m3 -3h1v3h-1m2 -3h2v3h-2m7 -6h1v6h-1m8 -12h1v12h-1m2 -1h2v1h-2m3 -1h1v1h-1m6 -3h1v3h-1m2 -3h2v3h-2m3 -6h2v6h-2m4 -3h2v3h-2m3 -3h2v3h-2m10 -6h2v6h-2m3 -3h1v3h-1m2 -1h1v1h-1m6 -3h1v3h-1m18 -3h10v3h-10m12 -3h4v3h-4m10 -6h1v6h-1m2 -3h2v3h-2m4 -3h4v3h-4m5 -1h2v1h-2m4 -3h3v3h-3m11 -1h1v1h-1m4 -3h2v3h-2m3 -6h1v6h-1m6 -1h3v1h-3m7 -6h2v6h-2m20 -3h3v3h-3m13 -3h1v3h-1m7 -6h2v6h-2m3 -3h1v3h-1m25 -3h5v3h-5m6 -3h2v3h-2m6 -3h2v3h-2m4 -3h14v3h-14m15 -2h1v2h-1m-253 -3h1v6h-1m3 -3h1v3h-1m5 -3h2v3h-2m6 -6h1v6h-1m5 -3h2v3h-2m3 -3h1v3h-1m4 -3h4v3h-4m5 -3h1v3h-1m10 -3h1v3h-1m3 -3h3v3h-3m6 -6h6v6h-6m7 -3h1v3h-1m4 -3h3v3h-3m9 -3h1v3h-1m5 -3h1v3h-1m16 -3h11v3h-11m12 -6h3v6h-3m6 -3h10v3h-10m11 -3h2v3h-2m4 -3h2v3h-2m10 -3h2v3h-2m4 -3h4v3h-4m6 -3h1v3h-1m29 -3h4v3h-4m17 -6h2v6h-2m3 -3h1v3h-1m27 -3h2v3h-2m13 -3h3v3h-3m5 -3h7v3h-7m8 -3h7v3h-7m-50 -3h2v4h-2m-156 -1h3v2h-3m106 -5h4v5h-4m-572 -2h1v3h-1m426 -3h2v3h-2m10 -3h1v3h-1m14 -3h4v3h-4m8 -3h2v3h-2m8 -1h1v1h-1m2 -1h1v1h-1m2 -3h2v3h-2m4 -6h1v6h-1m2 -3h7v3h-7m9 -3h1v3h-1m3 -3h1v3h-1m4 -3h2v3h-2m4 -3h2v3h-2m6 -3h1v3h-1m2 -9h6v9h-6m8 -6h4v6h-4m5 -3h1v3h-1m2 -3h3v3h-3m10 -3h5v3h-5m6 -3h13v3h-13m14 -3h3v3h-3m4 -9h5v9h-5m7 -3h1v3h-1m7 -3h1v3h-1m6 -1h3v1h-3m25 -3h5v3h-5m25 -2h1v2h-1m26 -3h1v3h-1m2 -6h1v6h-1m3 -6h4v6h-4m5 -3h4v3h-4m13 -3h6v3h-6m8 -6h1v6h-1m-196 0h1v1h-1m53 -1h8v1h-8m20 -1h4v1h-4m-132 -1h3v2h-3m20 -2h3v2h-3m25 -2h3v2h-3m18 -1h1v1h-1m45 -2h3v2h-3m4 -1h7v1h-7m9 -2h2v2h-2m4 -2h2v2h-2m3 -2h1v2h-1m26 -5h1v5h-1m2 -8h1v8h-1m-586 -2h2v3h-2m424 -1h5v1h-5m6 -1h2v1h-2m4 -3h1v3h-1m3 -9h1v9h-1m2 -6h1v6h-1m10 -1h4v1h-4m8 -3h3v3h-3m13 -3h3v3h-3m5 -1h2v1h-2m5 -3h8v3h-8m9 -1h1v1h-1m8 -3h1v3h-1m12 -3h1v3h-1m2 -3h4v3h-4m6 -3h5v3h-5m7 -3h1v3h-1m3 -3h1v3h-1m3 -6h3v6h-3m4 -3h3v3h-3m4 -1h1v1h-1m2 -1h10v1h-10m12 -1h1v1h-1m3 -1h4v1h-4m5 -3h1v3h-1m2 -2h3v2h-3m7 -6h2v6h-2m3 -3h2v3h-2m3 -3h1v3h-1m7 -3h1v3h-1m2 -1h3v1h-3m5 -3h1v3h-1m4 -1h1v1h-1m27 -6h3v6h-3m7 -3h2v3h-2m23 -3h1v3h-1m4 -3h2v3h-2m3 -3h1v3h-1m2 -3h1v3h-1m18 -3h2v3h-2m3 -3h3v3h-3m-248 0h2v2h-2m-435 -2h1v3h-1m427 -3h6v3h-6m8 -1h1v1h-1m8 -3h1v3h-1m5 -6h1v6h-1m3 -3h2v3h-2m3 -3h2v3h-2m4 -3h1v3h-1m2 -3h1v3h-1m4 -3h2v3h-2m5 -3h2v3h-2m5 -3h1v3h-1m4 -3h3v3h-3m4 -3h8v3h-8m17 -3h1v3h-1m7 -3h1v3h-1m2 -3h1v3h-1m2 -3h1v3h-1m2 -3h6v3h-6m8 -3h4v3h-4m8 -3h1v3h-1m4 -3h4v3h-4m5 -3h9v3h-9m10 -3h6v3h-6m8 -3h5v3h-5m9 -3h3v3h-3m8 -3h4v3h-4m8 -6h4v6h-4m9 -3h1v3h-1m6 -3h1v3h-1m12 -6h4v6h-4m14 -3h2v3h-2m38 -3h1v3h-1m2 -3h7v3h-7m19 -3h7v3h-7m-682 0h1v3h-1m445 -3h2v3h-2m8 -3h1v3h-1m3 -3h1v3h-1m5 -3h3v3h-3m10 -3h1v3h-1m4 -3h3v3h-3m4 -3h6v3h-6m7 -3h3v3h-3m4 -3h4v3h-4m19 -3h1v3h-1m6 -3h5v3h-5m6 -3h5v3h-5m6 -6h2v6h-2m12 -3h3v3h-3m6 -3h3v3h-3m5 -3h8v3h-8m10 -3h4v3h-4m5 -3h2v3h-2m4 -3h3v3h-3m4 -3h3v3h-3m11 -3h2v3h-2m4 -3h1v3h-1m2 -3h2v3h-2m8 -3h1v3h-1m12 -3h3v3h-3m16 -6h2v6h-2m3 -6h1v6h-1m2 -3h1v3h-1m24 -3h1v3h-1m3 -6h1v6h-1m2 -3h1v3h-1m3 -3h4v3h-4m5 -3h2v3h-2m6 -12h6v12h-6m8 -3h6v3h-6m-238 0h4v1h-4m20 -1h2v1h-2m5 -1h1v1h-1m11 -1h3v1h-3m4 -1h1v1h-1m61 -1h9v1h-9m25 -1h2v1h-2m13 -1h3v1h-3m76 -1h1v1h-1m13 -1h1v1h-1m-207 0h1v1h-1m15 -1h1v1h-1m2 -1h3v1h-3m25 -2h1v2h-1m26 -1h1v1h-1m12 -1h3v1h-3m4 -1h5v1h-5m36 -1h1v1h-1m-575 -2h1v3h-1m425 -3h1v3h-1m2 -3h1v3h-1m3 -6h1v6h-1m2 -3h1v3h-1m2 -2h5v2h-5m8 -3h1v3h-1m2 -3h1v3h-1m4 -3h1v3h-1m6 -1h2v1h-2m5 -1h1v1h-1m5 -3h1v3h-1m2 -3h1v3h-1m2 -3h1v3h-1m2 -1h5v1h-5m6 -3h8v3h-8m9 -3h1v3h-1m3 -9h2v9h-2m15 -3h7v3h-7m8 -3h6v3h-6m7 -3h3v3h-3m7 -6h3v6h-3m4 -3h5v3h-5m6 -1h9v1h-9m11 -3h1v3h-1m4 -3h5v3h-5m6 -3h1v3h-1m5 -2h1v2h-1m16 -3h5v3h-5m21 -3h4v3h-4m17 -3h5v3h-5m8 -6h1v6h-1m22 -3h3v3h-3m4 -1h1v1h-1m5 -3h2v3h-2m3 -3h1v3h-1m4 -2h2v2h-2m3 -3h15v3h-15m-238 0h1v3h-1m8 -3h2v3h-2m3 -3h3v3h-3m6 -3h1v3h-1m9 -6h1v6h-1m10 -3h1v3h-1m3 -3h2v3h-2m5 -3h4v3h-4m5 -3h11v3h-11m12 -3h1v3h-1m3 -3h1v3h-1m4 -15h2v15h-2m3 -3h1v3h-1m7 -3h6v3h-6m8 -3h4v3h-4m6 -3h2v3h-2m6 -3h4v3h-4m5 -3h4v3h-4m5 -3h10v3h-10m13 -3h1v3h-1m2 -3h6v3h-6m7 -3h2v3h-2m5 -3h2v3h-2m3 -6h2v6h-2m3 -3h1v3h-1m5 -4h4v4h-4m8 -3h2v3h-2m4 -3h1v3h-1m4 -5h1v5h-1m11 -3h4v3h-4m17 -3h3v3h-3m6 -3h2v3h-2m10 -93h4v93h-4m13 -3h1v3h-1m4 -3h2v3h-2m4 -3h4v3h-4m12 -3h5v3h-5m6 -3h8v3h-8m9 -12h1v12h-1"/>
<path fill="#00b8ff" d="M0 0m684 52h2v1h-2m39 2h1v1h-1m-147 0h3v1h-3m14 -1h1v1h-1m13 -1h1v1h-1m22 -3h1v3h-1m69 -2h1v2h-1m28 -1h2v1h-2m-133 0h1v1h-1m12 -1h1v1h-1m118 -1h1v2h-1m-119 0h1v1h-1m12 -3h1v3h-1m2 -3h1v3h-1m5 -1h1v1h-1m13 -2h1v2h-1m14 -3h1v3h-1m49 -3h2v3h-2m23 -1h2v1h-2m-21 0h1v2h-1m-163 -2h1v3h-1m31 -2h1v2h-1m20 -3h1v3h-1m37 -2h2v2h-2m98 -3h1v3h-1m4 -3h1v3h-1m-90 0h1v1h-1m-1 0h2v1h-2m-78 -2h2v3h-2m8 -3h3v3h-3m68 -3h1v3h-1m2 -1h1v1h-1m72 -1h2v1h-2m16 -3h1v3h-1m6 -3h2v3h-2m-98 0h1v1h-1m-23 -1h1v2h-1m131 -2h1v2h-1m-204 -2h1v3h-1m9 -3h3v3h-3m45 -3h1v3h-1m3 -3h1v3h-1m7 -3h1v3h-1m13 -3h1v3h-1m2 -3h1v3h-1m2 -3h1v3h-1m11 -3h1v3h-1m10 -3h2v3h-2m3 -3h1v3h-1m71 -3h1v3h-1m-7 0h1v1h-1m-167 -1h1v3h-1m4 -3h1v3h-1m63 -3h1v3h-1m100 -2h2v2h-2m6 -2h1v2h-1m8 -3h1v3h-1m-185 0h2v3h-2m28 -3h2v3h-2m56 -3h2v3h-2m11 -3h1v3h-1m5 -3h1v3h-1m3 -3h1v3h-1m6 0h1v1h-1m-2 0h1v1h-1m-100 -2h2v3h-2m6 -3h2v3h-2m13 -3h2v3h-2m51 -3h2v3h-2m6 -3h1v3h-1m3 -3h2v3h-2m8 -3h1v3h-1m13 -1h2v1h-2m10 -3h1v3h-1m55 -3h1v3h-1m17 -3h1v3h-1m-25 0h1v1h-1m9 0h1v1h-1m-137 -2h1v3h-1m5 -3h1v3h-1m17 -3h1v3h-1m2 -3h2v3h-2m5 -3h2v3h-2m38 -3h1v3h-1m3 -3h1v3h-1m-73 0h2v2h-2m-22 -2h1v3h-1m5 -3h1v3h-1m4 -3h1v3h-1m6 -3h4v3h-4m8 -1h1v1h-1m31 -1h1v1h-1m2 -3h1v3h-1m11 -1h1v1h-1m3 -3h1v3h-1m2 -3h1v3h-1m8 -3h2v3h-2m14 -1h1v1h-1m48 0h2v1h-2m-149 -1h1v2h-1m26 -2h2v2h-2m20 -2h1v2h-1m-40 -2h1v3h-1m9 -1h1v1h-1m50 -3h1v3h-1m7 -3h1v3h-1m42 -3h1v3h-1m-103 0h1v2h-1m29 -1h1v1h-1m30 -1h1v1h-1m-34 0h1v1h-1m33 -1h1v1h-1m23 -3h2v3h-2m7 -3h1v3h-1m22 -3h1v3h-1m-21 0h2v1h-2m-59 -1h1v2h-1m-9 0h1v1h-1m31 -3h2v3h-2m4 -2h1v2h-1m-10 0h1v1h-1m30 -1h2v1h-2m26 -1h1v1h-1m41 -4h2v4h-2m-118 -1h1v2h-1m10 -2h1v3h-1m10 0h4v3h-4m-6 0h1v3h-1m1 0h2v3h-2m14 -3h1v3h-1m-20 3h1v1h-1m-486 -2h2v3h-2m-1 0h2v5h-2m502 8h1v1h-1m-21 10h1v1h-1m4 0h1v2h-1m8 -2h1v2h-1m205 23h1v2h-1m-5 3h1v3h-1m18 0h2v1h-2m-72 3h1v1h-1m-1 0h2v1h-2m60 -3h2v3h-2m13 -3h1v3h-1m-47 1h1v2h-1m43 -3h1v3h-1m-70 0h1v1h-1m-1 0h2v2h-2m85 -3h1v3h-1m-72 0h2v2h-2m4 -2h1v2h-1m-26 0h1v1h-1m52 -3h1v3h-1m15 -3h3v3h-3m18 -3h1v3h-1m-87 0h1v1h-1m6 2h1v3h-1m45 -3h1v3h-1m5 -3h1v3h-1m5 -3h2v3h-2m27 -3h1v3h-1m-29 0h1v3h-1m90 -1h1v1h-1m-325 0h1v3h-1m4 -2h1v2h-1m4 -3h1v3h-1m172 -3h2v3h-2m14 -3h2v3h-2m17 -3h1v3h-1m127 -3h1v3h-1m-755 1h1v2h-1m7 -3h2v3h-2m412 -2h1v2h-1m34 -2h1v2h-1m160 -3h1v3h-1m11 -3h1v3h-1m56 -3h1v3h-1m3 -3h2v3h-2m6 -3h1v3h-1m49 -2h1v2h-1m-332 0h2v2h-2m7 -2h2v2h-2m3 -2h1v2h-1m4 -2h1v2h-1m-418 -2h1v3h-1m420 -1h2v1h-2m80 -3h2v3h-2m93 -2h1v2h-1m4 -2h1v2h-1m3 -1h1v1h-1m37 -3h1v3h-1m104 -3h2v3h-2m-746 0h2v3h-2m503 -3h2v3h-2m94 -2h1v2h-1m6 -2h2v2h-2m49 -3h1v3h-1m16 -3h1v3h-1m24 -3h1v3h-1m62 -3h2v3h-2m12 -3h1v3h-1m-324 0h1v2h-1m163 -2h1v2h-1m-597 -2h2v3h-2m3 -3h1v3h-1m430 -1h1v1h-1m40 -2h1v2h-1m21 -3h1v3h-1m94 -2h1v2h-1m3 -3h1v3h-1m38 -3h3v3h-3m49 -3h1v3h-1m47 -3h2v3h-2m28 -6h1v6h-1m-242 0h1v1h-1m-73 -1h2v2h-2m-443 -2h2v3h-2m409 -3h1v3h-1m6 -3h1v3h-1m2 -3h1v3h-1m10 -3h1v3h-1m3 -3h1v3h-1m14 -1h1v1h-1m57 -2h1v2h-1m188 -3h1v3h-1m42 -3h1v3h-1m7 -3h1v3h-1m7 -3h2v3h-2m11 -3h2v3h-2m6 -3h1v3h-1m-323 0h1v1h-1m7 -1h1v1h-1m-444 -1h1v3h-1m405 -2h2v2h-2m6 -3h1v3h-1m6 -3h1v3h-1m6 -3h2v3h-2m13 -2h1v2h-1m156 -6h1v6h-1m3 -3h2v3h-2m3 -3h2v3h-2m28 -3h1v3h-1m3 -3h3v3h-3m4 -3h2v3h-2m12 -3h2v3h-2m37 -3h1v3h-1m58 -3h3v3h-3m13 -3h1v3h-1m-310 0h2v1h-2m9 -1h1v1h-1m-48 -1h2v2h-2m0 0h1v1h-1m17 -3h2v3h-2m25 -1h1v1h-1m13 -1h1v1h-1m100 -3h1v3h-1m35 -3h6v3h-6m134 -3h1v3h-1m23 -3h1v3h-1m-294 0h1v1h-1m224 -1h1v1h-1m-682 -1h1v3h-1m404 -3h1v3h-1m8 -3h2v3h-2m27 -3h1v3h-1m32 -3h1v3h-1m91 -3h1v3h-1m64 -3h3v3h-3m47 -3h1v3h-1m47 -3h1v3h-1m7 -3h1v3h-1m8 -3h1v3h-1m9 -3h2v3h-2m15 -3h1v3h-1m-77 0h2v2h-2m-683 -2h3v3h-3m419 -3h1v3h-1m12 -3h1v3h-1m10 -3h1v3h-1m25 -3h4v3h-4m82 -1h1v1h-1m17 -3h1v3h-1m15 -12h1v12h-1m13 -6h1v6h-1m4 -3h2v3h-2m3 -3h2v3h-2m89 -9h1v9h-1m-231 0h1v1h-1m12 -1h1v1h-1m-470 -1h2v3h-2m410 -3h1v3h-1m20 -3h2v3h-2m131 -6h1v6h-1m35 -3h1v3h-1m3 -3h1v3h-1m26 -3h1v3h-1m99 -3h1v3h-1m7 -3h1v3h-1m31 -3h2v3h-2m-353 0h1v3h-1m190 -3h3v3h-3m31 -3h1v3h-1m2 -3h2v3h-2m13 -3h2v3h-2m-234 0h2v3h-2m27 -3h1v3h-1m123 -6h2v6h-2m33 -3h2v3h-2m87 -3h1v3h-1m56 -3h1v3h-1m2 -3h3v3h-3m20 -3h1v3h-1m-351 0h1v3h-1m5 -3h2v3h-2m8 -6h1v6h-1m6 -3h1v3h-1m120 -3h1v3h-1m18 -3h1v3h-1m32 -3h2v3h-2m3 -3h2v3h-2m52 -1h1v1h-1m37 -9h1v9h-1m44 -3h2v3h-2m16 -3h2v3h-2m-749 0h2v3h-2m417 -3h2v3h-2m20 -3h1v3h-1m124 -3h1v3h-1m33 -6h1v6h-1m43 -3h4v3h-4m14 -3h2v3h-2m107 -6h1v6h-1m3 -3h2v3h-2m-342 0h1v3h-1m16 -3h2v3h-2m12 -3h1v3h-1m115 -3h1v3h-1m64 -3h2v3h-2m23 -3h1v3h-1m51 -3h1v3h-1m31 -3h1v3h-1m4 -3h1v3h-1m27 -3h1v3h-1m-162 -3h2v5h-2m100 -2h2v2h-2m-285 -2h3v3h-3m5 -3h1v3h-1m8 -3h2v3h-2m119 -3h1v3h-1m3 -3h1v3h-1m11 -3h2v3h-2m33 -3h2v3h-2m62 -2h1v2h-1m45 -1h1v1h-1m3 -3h2v3h-2m54 -3h1v3h-1m3 -3h1v3h-1m-115 0h1v2h-1m-92 -2h1v3h-1m8 -3h1v3h-1m4 -3h1v3h-1m28 -3h1v3h-1m3 -3h2v3h-2m3 -4h1v4h-1m83 -3h1v3h-1m6 -6h1v6h-1m40 -3h1v3h-1m8 -3h1v3h-1m8 -3h2v3h-2m17 -3h1v3h-1m-57 0h1v1h-1m34 -1h1v1h-1m-324 -1h1v3h-1m5 -3h1v3h-1m7 -3h1v3h-1m202 -2h1v2h-1m12 -3h1v3h-1m15 -3h2v3h-2m25 -3h1v3h-1m14 -3h1v3h-1m14 -2h1v2h-1m10 -3h2v3h-2m3 -3h1v3h-1m21 -3h2v3h-2m4 -3h2v3h-2m11 -3h1v3h-1m-33 0h1v1h-1m-291 -4h2v6h-2m112 -3h1v3h-1m48 -3h3v3h-3m6 -3h1v3h-1m58 -3h2v3h-2m43 -3h1v3h-1m15 -3h1v3h-1m-290 0h1v3h-1m12 -3h1v3h-1m3 -3h1v3h-1m139 -6h1v6h-1m50 -3h1v3h-1m7 -8h2v8h-2m4 -3h1v3h-1m48 -3h1v3h-1m11 -3h1v3h-1m8 -3h1v3h-1m-304 0h1v3h-1m133 -3h1v3h-1m14 -6h1v6h-1m91 -3h1v3h-1m16 -3h2v3h-2m40 -3h1v3h-1m11 -3h1v3h-1m-155 0h1v3h-1m8 -1h1v1h-1m34 -3h3v3h-3m70 -3h2v3h-2m-114 0h1v3h-1m9 -3h2v3h-2m19 -3h1v3h-1m15 -3h1v3h-1m42 -6h2v6h-2m63 -3h1v3h-1m9 -3h1v3h-1m-294 0h1v3h-1m23 -3h1v3h-1m106 -3h1v3h-1m17 -3h1v3h-1m81 -6h1v6h-1m39 -3h2v3h-2m19 -3h2v3h-2m-296 0h4v3h-4m22 -3h1v3h-1m114 -3h2v3h-2m21 -3h2v3h-2m68 -6h1v6h-1m29 -3h2v3h-2m5 -3h1v3h-1m33 -3h1v3h-1m-277 0h1v3h-1m143 -3h1v3h-1m38 -6h1v6h-1m61 -6h1v6h-1m28 -12h1v12h-1m-279 0h1v3h-1m137 -3h2v3h-2m30 -6h2v6h-2m22 -3h2v3h-2m100 -3h1v3h-1m-4 0h1v1h-1m-291 -1h1v3h-1m37 -6h1v6h-1m156 -3h3v3h-3m97 -2h2v2h-2m-131 0h2v3h-2m67 -3h1v3h-1m7 -6h2v6h-2m20 -3h1v3h-1m44 -6h1v6h-1m-292 0h1v3h-1m30 -3h2v3h-2m235 -3h1v3h-1m22 -3h2v3h-2m-133 0h1v1h-1m67 -1h1v1h-1m-89 -1h1v3h-1m54 -3h2v3h-2m67 -3h2v3h-2m25 -3h1v3h-1m8 -3h1v3h-1m13 -3h1v3h-1m-301 0h1v3h-1m21 -3h2v3h-2m134 -3h3v3h-3m18 -3h1v3h-1m-160 0h1v3h-1m177 -3h3v3h-3m92 -6h1v6h-1m21 -3h1v3h-1m-115 0h1v2h-1m-177 -2h1v3h-1m143 -3h2v3h-2m19 -3h1v3h-1m124 -3h2v3h-2m-299 0h1v3h-1m31 -3h2v3h-2m116 -3h3v3h-3m45 -3h2v3h-2m109 -3h2v3h-2m-279 0h1v3h-1m125 -3h1v3h-1m4 -3h1v3h-1m41 -3h3v3h-3m40 -3h2v3h-2m58 0h1v2h-1m-283 -2h1v3h-1m167 -6h1v6h-1m18 -3h2v3h-2m87 -1h1v1h-1m16 -1h1v1h-1m8 -3h1v3h-1m-302 6h2v3h-2m6 -3h1v3h-1m3 -3h1v3h-1m2 -3h1v3h-1m4 -3h1v3h-1m7 -3h1v3h-1m8 -3h1v3h-1m6 -3h2v3h-2m24 -3h1v3h-1m2 -3h1v3h-1m12 -3h2v3h-2m47 -3h1v3h-1m4 -3h1v3h-1m14 -3h1v3h-1m5 -3h1v3h-1m7 -3h1v3h-1m2 -3h1v3h-1m6 -3h2v3h-2m27 -3h2v3h-2m10 -3h1v3h-1m26 -3h1v3h-1m3 -3h1v3h-1m9 -3h1v3h-1m2 -3h1v3h-1m-239 0h1v3h-1m7 -3h1v3h-1m20 -3h1v3h-1m7 -3h3v3h-3m6 -3h1v3h-1m4 -3h1v3h-1m5 -3h1v3h-1m10 -3h1v3h-1m3 -3h1v3h-1m6 -3h2v3h-2m6 -3h1v3h-1m5 -3h1v3h-1m7 -6h1v6h-1m8 -3h1v3h-1m5 -3h1v3h-1m5 -3h1v3h-1m4 -3h1v3h-1m3 -6h1v6h-1m24 -3h1v3h-1m8 -3h1v3h-1m3 -3h1v3h-1m9 -3h1v3h-1m4 -6h1v6h-1m19 -6h1v6h-1m11 -3h1v3h-1m9 -3h1v3h-1m23 -3h1v3h-1m2 -3h1v3h-1m4 -3h1v3h-1m5 -3h2v3h-2m4 -3h2v3h-2m11 -3h1v3h-1m-229 1h1v1h-1m58 -2h1v2h-1m60 -1h2v1h-2m26 -2h2v2h-2m-142 -2h1v3h-1m10 -3h1v3h-1m2 -2h1v2h-1m6 -3h1v3h-1m20 -3h1v3h-1m6 -1h1v1h-1m32 -3h1v3h-1m13 -3h2v3h-2m16 -3h1v3h-1m11 -1h1v1h-1m3 -6h1v6h-1m15 -3h1v3h-1m9 -1h1v1h-1m27 -3h1v3h-1m33 -3h2v3h-2m6 -3h1v3h-1m3 -3h1v3h-1m3 -3h1v3h-1m16 -3h1v3h-1m5 -3h1v3h-1m-251 0h1v3h-1m10 -6h1v6h-1m25 -3h1v3h-1m4 -3h1v3h-1m4 -3h2v3h-2m17 -3h1v3h-1m3 -3h2v3h-2m26 -3h1v3h-1m3 -3h1v3h-1m12 -3h1v3h-1m2 -3h1v3h-1m36 -3h1v3h-1m9 -3h1v3h-1m6 -3h1v3h-1m33 -3h1v3h-1m-193 0h3v3h-3m8 -3h1v3h-1m2 -9h1v9h-1m9 -3h3v3h-3m4 -3h1v3h-1m7 -3h1v3h-1m3 -3h1v3h-1m10 -3h1v3h-1m3 -3h1v3h-1m10 -3h1v3h-1m3 -6h1v6h-1m3 -3h1v3h-1m4 -3h1v3h-1m60 -3h2v3h-2m10 -3h1v3h-1m4 -6h1v6h-1m2 -3h1v3h-1m34 -3h1v3h-1m11 -3h1v3h-1m5 -3h1v3h-1m3 -6h1v6h-1m24 -6h1v6h-1m6 -3h1v3h-1m12 -9h1v9h-1m-238 0h1v1h-1m20 -1h2v1h-2m12 -1h1v1h-1m6 -1h1v1h-1m23 -1h1v1h-1m3 -1h3v1h-3m167 -1h1v1h-1m-229 0h1v1h-1m18 -1h1v1h-1m13 -1h1v1h-1m28 -1h6v1h-6m52 -1h1v1h-1m137 -2h1v2h-1m-250 0h1v1h-1m13 -3h1v3h-1m7 -1h2v1h-2m12 -1h1v1h-1m6 -1h1v1h-1m12 -2h1v2h-1m11 -1h1v1h-1m2 -1h4v1h-4m9 -2h1v2h-1m14 -3h1v3h-1m5 -6h1v6h-1m5 -3h2v3h-2m28 -3h1v3h-1m17 -3h2v3h-2m5 -3h1v3h-1m13 -3h1v3h-1m31 -2h1v2h-1m5 -3h1v3h-1m3 -3h1v3h-1m23 -3h1v3h-1m2 -3h1v3h-1m11 -3h3v3h-3m-38 0h1v2h-1m-186 -2h1v3h-1m11 -3h1v3h-1m2 -3h1v3h-1m2 -6h1v6h-1m6 -3h1v3h-1m6 -3h1v3h-1m12 -3h2v3h-2m15 -3h2v3h-2m12 -3h1v3h-1m15 -3h2v3h-2m4 -3h1v3h-1m13 -3h1v3h-1m12 -9h1v9h-1m14 -9h1v9h-1m11 -3h1v3h-1m17 -3h1v3h-1m34 -1h2v1h-2m26 -3h3v3h-3m4 -3h1v3h-1m9 -3h1v3h-1m3 -3h1v3h-1m7 -3h1v3h-1m10 -3h1v3h-1m-250 0h1v3h-1m11 -3h1v3h-1m8 -3h2v3h-2m6 -3h1v3h-1m6 -3h1v3h-1m3 -3h1v3h-1m18 -6h2v6h-2m3 -3h1v3h-1m7 -6h1v6h-1m4 -3h1v3h-1m2 -3h1v3h-1m5 -3h1v3h-1m7 -6h2v6h-2m11 -3h1v3h-1m27 -3h1v3h-1m14 -3h1v3h-1m6 -3h1v3h-1m9 -3h2v3h-2m41 -3h1v3h-1m5 -3h1v3h-1m37 -3h2v3h-2m-236 0h1v1h-1m32 -1h1v1h-1m9 -1h1v1h-1m3 -1h2v1h-2m-3 0h2v1h-2m97 -1h1v1h-1m16 -1h2v1h-2m-154 0h1v1h-1m3 -9h1v9h-1m7 -3h1v3h-1m10 -3h1v3h-1m3 -3h1v3h-1m12 -3h1v3h-1m6 -1h1v1h-1m4 -2h1v2h-1m6 -3h1v3h-1m7 -3h1v3h-1m6 -4h1v4h-1m11 -3h1v3h-1m12 -3h1v3h-1m17 -3h1v3h-1m6 -3h1v3h-1m5 -3h1v3h-1m14 -9h1v9h-1m14 -3h1v3h-1m12 -1h1v1h-1m4 -1h1v1h-1m31 -3h1v3h-1m6 -3h1v3h-1m26 -3h2v3h-2m10 -3h1v3h-1m6 -3h1v3h-1m-226 0h1v3h-1m6 -3h1v3h-1m18 -3h1v3h-1m2 -3h1v3h-1m4 -3h1v3h-1m6 -3h1v3h-1m13 -3h1v3h-1m2 -3h2v3h-2m9 -3h1v3h-1m14 -3h1v3h-1m13 -6h1v6h-1m12 -3h1v3h-1m25 -3h1v3h-1m6 -3h1v3h-1m2 -3h1v3h-1m2 -3h1v3h-1m16 -3h1v3h-1m12 -3h1v3h-1m16 -3h2v3h-2m5 -3h2v3h-2m37 -3h2v3h-2m5 -3h1v3h-1m9 -3h1v3h-1m-217 0h1v2h-1m2 -2h1v2h-1m28 -2h1v2h-1m-49 -2h1v3h-1m12 -3h1v3h-1m3 -6h1v6h-1m4 -1h3v1h-3m16 -3h1v3h-1m4 -3h1v3h-1m9 -1h2v1h-2m6 -3h1v3h-1m29 -3h1v3h-1m3 -3h1v3h-1m8 -3h1v3h-1m4 -3h1v3h-1m2 -3h1v3h-1m10 -3h1v3h-1m5 -3h1v3h-1m18 -3h1v3h-1m4 -3h1v3h-1m6 -3h1v3h-1m3 -3h1v3h-1m66 -3h1v3h-1m3 -6h1v6h-1m3 -3h1v3h-1m4 -3h1v3h-1m14 -3h2v3h-2m9 -7h1v7h-1m-96 0h1v1h-1m37 -1h4v1h-4m25 -1h2v1h-2m13 -1h4v1h-4m-232 -4h2v5h-2m26 -1h1v1h-1m101 -5h1v5h-1m68 -1h3v1h-3m42 -2h1v2h-1m-676 -2h1v3h-1m8 -3h2v3h-2m432 -1h1v1h-1m5 -6h1v6h-1m22 -2h1v2h-1m14 -3h1v3h-1m28 -3h2v3h-2m4 -3h1v3h-1m2 -6h1v6h-1m4 -3h1v3h-1m4 -3h1v3h-1m13 -3h1v3h-1m2 -3h1v3h-1m20 -1h1v1h-1m27 -2h1v2h-1m48 -1h4v1h-4m28 -3h1v3h-1m3 -3h1v3h-1m8 -2h3v2h-3m19 -3h1v3h-1m-689 0h2v3h-2m437 -3h1v3h-1m3 -3h1v3h-1m12 -3h1v3h-1m3 -3h1v3h-1m6 -3h1v3h-1m2 -3h1v3h-1m2 -3h2v3h-2m5 -3h1v3h-1m3 -3h2v3h-2m10 -3h1v3h-1m12 -3h1v3h-1m3 -3h1v3h-1m9 -3h1v3h-1m5 -3h1v3h-1m16 -3h1v3h-1m11 -3h1v3h-1m5 -3h1v3h-1m33 -3h1v3h-1m3 -3h1v3h-1m2 -3h1v3h-1m5 -3h1v3h-1m7 -4h1v4h-1m3 -3h1v3h-1m13 -3h1v3h-1m15 -6h1v6h-1m36 -3h1v3h-1m13 -3h1v3h-1m-663 0h1v3h-1m425 -3h1v3h-1m2 -3h2v3h-2m16 -3h1v3h-1m13 -3h1v3h-1m2 -3h1v3h-1m3 -3h1v3h-1m13 -6h1v6h-1m8 -3h1v3h-1m3 -3h2v3h-2m5 -6h1v6h-1m20 -3h1v3h-1m6 -3h1v3h-1m5 -3h1v3h-1m2 -3h1v3h-1m6 -3h1v3h-1m19 -3h1v3h-1m19 -3h1v3h-1m21 -6h1v6h-1m34 -3h2v3h-2m23 -8h1v8h-1m2 -3h2v3h-2m5 -3h1v3h-1m6 -3h1v3h-1m3 -3h1v3h-1m13 -3h1v3h-1m-248 0h2v1h-2m32 -1h2v1h-2m10 -1h2v1h-2m20 -1h1v1h-1m94 -4h1v4h-1m2 -1h1v1h-1m61 -1h2v1h-2m-218 0h1v1h-1m26 -2h2v2h-2m16 -1h1v1h-1m56 -2h1v2h-1m121 -1h1v1h-1m-655 -5h1v6h-1m435 -1h2v1h-2m4 -3h1v3h-1m4 -9h1v9h-1m3 -2h1v2h-1m10 -3h1v3h-1m7 -1h1v1h-1m5 -2h1v2h-1m3 -3h2v3h-2m6 -1h2v1h-2m4 -3h2v3h-2m10 -3h2v3h-2m6 -2h2v2h-2m11 -3h1v3h-1m18 -3h1v3h-1m15 -3h1v3h-1m3 -9h1v9h-1m3 -1h1v1h-1m20 -3h1v3h-1m21 -9h1v9h-1m19 -3h1v3h-1m47 -1h3v1h-3m4 -3h1v3h-1m7 -3h3v3h-3m6 -3h1v3h-1m9 -6h1v6h-1m8 -3h1v3h-1m-222 0h1v1h-1m7 -1h2v2h-2m-473 -2h2v3h-2m3 -3h1v3h-1m430 -3h2v3h-2m8 -5h1v5h-1m3 -3h2v3h-2m4 -6h1v6h-1m6 -3h1v3h-1m19 -1h1v1h-1m5 -3h1v3h-1m14 -3h1v3h-1m3 -3h1v3h-1m14 -3h1v3h-1m21 -3h1v3h-1m7 -3h2v3h-2m4 -3h3v3h-3m12 -6h1v6h-1m18 -9h1v9h-1m4 -3h2v3h-2m4 -3h1v3h-1m17 -3h1v3h-1m12 -3h1v3h-1m16 -6h1v6h-1m33 -3h1v3h-1m5 -3h1v3h-1m4 -3h2v3h-2m21 -3h1v3h-1m-226 0h1v2h-1m2 -2h1v2h-1m-462 -2h2v3h-2m434 -3h2v3h-2m8 -3h1v3h-1m2 -3h1v3h-1m6 -6h1v6h-1m6 -6h1v6h-1m4 -1h3v1h-3m11 -3h1v3h-1m19 -3h1v3h-1m2 -3h1v3h-1m4 -3h1v3h-1m3 -3h1v3h-1m12 -3h1v3h-1m8 -3h1v3h-1m5 -3h1v3h-1m5 -3h2v3h-2m13 -3h2v3h-2m4 -3h1v3h-1m10 -3h2v3h-2m10 -3h1v3h-1m9 -3h1v3h-1m31 -3h1v3h-1m16 -3h1v3h-1m6 -3h1v3h-1m2 -3h1v3h-1m37 -3h1v3h-1m19 -3h2v3h-2m-248 0h1v1h-1m5 -1h1v1h-1m133 -1h1v1h-1m80 -1h2v1h-2m-153 0h1v1h-1m15 -1h1v1h-1m9 -1h1v1h-1m20 -1h1v1h-1m17 -1h1v1h-1m9 -2h1v2h-1m14 -1h1v1h-1m-590 -2h2v3h-2m3 -3h1v3h-1m8 -6h1v6h-1m424 -3h2v3h-2m8 -1h1v1h-1m2 -2h1v2h-1m16 -9h1v9h-1m4 -3h2v3h-2m13 -3h1v3h-1m2 -3h1v3h-1m54 -3h1v3h-1m12 -3h1v3h-1m11 -6h1v6h-1m21 -2h2v2h-2m20 -3h2v3h-2m12 -3h1v3h-1m22 -3h1v3h-1m2 -3h1v3h-1m22 -3h1v3h-1m4 -2h1v2h-1m7 -3h1v3h-1m5 -3h1v3h-1m-663 0h1v3h-1m429 -3h1v3h-1m7 -3h2v3h-2m5 -3h1v3h-1m8 -3h2v3h-2m7 -3h1v3h-1m3 -3h1v3h-1m4 -3h1v3h-1m2 -3h1v3h-1m2 -3h1v3h-1m2 -3h2v3h-2m19 -3h1v3h-1m7 -3h1v3h-1m2 -3h1v3h-1m30 -3h1v3h-1m7 -6h1v6h-1m7 -3h1v3h-1m20 -6h1v6h-1m5 -3h1v3h-1m5 -3h1v3h-1m45 -3h1v3h-1m6 -3h1v3h-1m2 -3h1v3h-1m24 -3h1v3h-1m2 -3h1v3h-1m9 -3h1v3h-1m6 -3h1v3h-1m17 -3h1v3h-1m-692 -3h1v6h-1m7 -3h2v3h-2m4 -3h1v3h-1m425 -3h1v3h-1m2 -3h1v3h-1m6 -3h1v3h-1m9 -3h1v3h-1m4 -3h1v3h-1m2 -3h1v3h-1m14 -3h5v3h-5m22 -9h1v9h-1m2 -3h1v3h-1m6 -3h2v3h-2m29 -3h2v3h-2m9 -6h1v6h-1m9 -3h1v3h-1m29 -3h1v3h-1m5 -9h1v9h-1m84 -3h2v3h-2m-221 0h1v1h-1m2 -1h1v1h-1m115 -4h1v4h-1m26 -4h1v4h-1m-143 0h3v1h-3m4 -2h1v2h-1m7 -2h1v2h-1m112 -1h1v1h-1m10 -1h2v1h-2m16 -1h1v1h-1m-597 -2h1v3h-1m440 -2h1v2h-1m6 -3h1v3h-1m4 -1h3v1h-3m7 -3h1v3h-1m24 -6h1v6h-1m4 -3h1v3h-1m2 -3h1v3h-1m15 -9h1v9h-1m3 -3h1v3h-1m19 -6h1v6h-1m23 -3h2v3h-2m18 -1h1v1h-1m10 -3h2v3h-2m4 -2h1v2h-1m7 -1h1v1h-1m3 -6h1v6h-1m2 -1h1v1h-1m9 -6h1v6h-1m12 -3h1v3h-1m16 -3h1v3h-1m7 -3h1v3h-1m27 -6h1v6h-1m4 -3h1v3h-1m5 -3h1v3h-1m6 -1h1v1h-1m-142 0h1v2h-1m-87 -3h1v4h-1m2 -3h1v3h-1m14 -6h1v6h-1m4 -6h1v6h-1m4 -6h1v6h-1m5 -6h1v6h-1m24 -3h2v3h-2m6 -4h1v4h-1m4 -5h1v5h-1m23 -1h2v1h-2m11 -3h1v3h-1m13 -3h2v3h-2m14 -3h1v3h-1m8 -3h1v3h-1m2 -3h1v3h-1m13 -3h1v3h-1m39 -3h1v3h-1m31 -3h1v3h-1m4 -6h1v6h-1m19 -6h1v6h-1m-251 0h1v1h-1m-437 -1h2v3h-2m13 -3h1v3h-1m445 -6h1v6h-1m4 -3h1v3h-1m11 -3h1v3h-1m3 -3h1v3h-1m6 -3h1v3h-1m4 -3h2v3h-2m15 -3h1v3h-1m8 -3h1v3h-1m6 -3h1v3h-1m22 -12h1v12h-1m13 -3h3v3h-3m9 -3h1v3h-1m2 -3h1v3h-1m13 -3h1v3h-1m3 -6h1v6h-1m6 -3h1v3h-1m3 -3h1v3h-1m6 -3h1v3h-1m5 -3h1v3h-1m38 -3h2v3h-2m26 -3h1v3h-1m8 -3h3v3h-3m4 -3h1v3h-1m3 -3h1v3h-1m8 -3h1v3h-1m-189 -3h1v4h-1m7 -1h1v1h-1m83 -1h2v1h-2m6 -1h1v1h-1m7 -1h1v1h-1m60 -1h1v1h-1m-155 0h1v1h-1m72 -2h1v2h-1m9 -1h3v1h-3m-137 -2h1v3h-1m5 -3h1v3h-1m5 -3h1v3h-1m2 -2h1v2h-1m8 -1h1v1h-1m18 -3h1v3h-1m17 -1h2v1h-2m3 -3h1v3h-1m3 -3h1v3h-1m8 -3h1v3h-1m7 -3h2v3h-2m25 -9h1v9h-1m3 -3h2v3h-2m6 -3h1v3h-1m3 -1h1v1h-1m12 -3h1v3h-1m2 -1h2v1h-2m5 -6h1v6h-1m5 -1h2v1h-2m7 -1h1v1h-1m9 -3h1v3h-1m11 -3h2v3h-2m24 -3h1v3h-1m23 -2h2v2h-2m11 -3h2v3h-2m24 -2h1v2h-1m-253 -3h1v6h-1m14 -3h1v3h-1m2 -3h1v3h-1m8 -3h1v3h-1m11 -3h1v3h-1m4 -3h1v3h-1m7 -3h1v3h-1m9 -4h1v4h-1m2 -3h1v3h-1m6 -3h1v3h-1m9 -3h1v3h-1m17 -3h1v3h-1m17 -3h2v3h-2m12 -3h1v3h-1m3 -3h2v3h-2m20 -3h2v3h-2m10 -3h3v3h-3m10 -3h1v3h-1m10 -3h1v3h-1m22 -3h2v3h-2m29 -3h2v3h-2m9 -3h1v3h-1m21 -3h1v3h-1m-692 0h1v3h-1m5 -6h2v6h-2m6 -3h1v3h-1m431 -3h1v3h-1m6 -3h1v3h-1m5 -3h1v3h-1m8 -3h1v3h-1m6 -3h2v3h-2m13 -1h1v1h-1m2 -3h1v3h-1m3 -3h2v3h-2m3 -9h1v9h-1m14 -3h1v3h-1m5 -6h2v6h-2m40 -3h1v3h-1m14 -3h1v3h-1m24 -1h1v1h-1m12 -3h1v3h-1m38 -2h1v2h-1m41 -3h1v3h-1m-219 0h1v1h-1m29 -1h1v1h-1m10 -1h1v1h-1m5 -1h2v1h-2m57 -1h1v1h-1m16 -4h1v4h-1m2 -1h1v1h-1m-120 0h2v1h-2m12 -2h1v2h-1m18 -1h2v1h-2m10 -1h2v1h-2m6 -1h1v1h-1m47 -2h1v2h-1m8 -1h2v1h-2m8 -11h1v11h-1m28 -5h1v5h-1m8 -2h1v2h-1m67 -2h8v2h-8m-666 -2h3v3h-3m11 -3h1v3h-1m427 -1h1v1h-1m8 -3h3v3h-3m8 -1h1v1h-1m29 -1h3v1h-3m11 -1h1v1h-1m5 -1h2v1h-2m3 -3h1v3h-1m9 -3h1v3h-1m5 -3h1v3h-1m13 -6h1v6h-1m2 -3h2v3h-2m4 -6h1v6h-1m10 -1h1v1h-1m20 -3h1v3h-1m2 -3h1v3h-1m10 -3h1v3h-1m12 -6h1v6h-1m8 -6h1v6h-1m33 -3h1v3h-1m2 -3h1v3h-1m26 -3h2v3h-2m6 -6h1v6h-1m2 -1h7v1h-7m16 -3h1v3h-1m3 -3h1v3h-1m6 -3h1v3h-1m-242 0h1v1h-1m-443 -1h2v3h-2m431 -3h1v3h-1m2 -1h1v1h-1m8 -3h1v3h-1m17 -3h3v3h-3m5 -3h1v3h-1m9 -3h2v3h-2m6 -3h1v3h-1m9 -3h2v3h-2m10 -3h1v3h-1m18 -9h2v9h-2m9 -3h1v3h-1m19 -3h1v3h-1m7 -4h2v4h-2m7 -3h4v3h-4m8 -5h2v5h-2m3 -4h1v4h-1m14 -3h1v3h-1m2 -3h2v3h-2m19 -6h1v6h-1m17 -3h1v3h-1m5 -3h1v3h-1m2 -3h2v3h-2m25 -3h1v3h-1m2 -3h2v3h-2m11 -3h2v3h-2m3 -3h1v3h-1m16 -3h1v3h-1m-685 0h1v3h-1m431 -3h3v3h-3m9 -6h1v6h-1m11 -3h1v3h-1m9 -3h2v3h-2m8 -3h1v3h-1m17 -3h1v3h-1m7 -9h1v9h-1m18 -3h1v3h-1m12 -3h1v3h-1m3 -3h2v3h-2m3 -3h1v3h-1m2 -3h1v3h-1m8 -3h1v3h-1m6 -3h2v3h-2m10 -3h1v3h-1m6 -3h1v3h-1m13 -3h2v3h-2m3 -3h1v3h-1m2 -3h2v3h-2m7 -3h1v3h-1m3 -6h1v6h-1m4 -3h1v3h-1m12 -3h2v3h-2m24 -3h1v3h-1m24 -3h1v3h-1m3 -3h1v3h-1m8 -3h1v3h-1m3 -3h3v3h-3m10 -3h1v3h-1m-232 0h1v1h-1m15 -1h1v1h-1m7 -1h1v1h-1m13 -1h1v1h-1m50 -1h2v1h-2m36 -1h1v1h-1m13 -1h1v1h-1m16 -1h1v1h-1m60 -1h1v1h-1m12 -1h2v1h-2m-206 0h1v1h-1m3 -2h1v2h-1m2 -1h2v1h-2m12 -1h1v1h-1m53 -1h1v1h-1m14 -1h1v1h-1m34 -1h3v1h-3m76 -1h2v1h-2m3 -1h1v1h-1m-664 -2h2v3h-2m3 -3h1v3h-1m2 -3h2v3h-2m7 -3h1v3h-1m427 -3h1v3h-1m25 -2h1v2h-1m9 -1h1v1h-1m3 -3h1v3h-1m2 -3h1v3h-1m2 -3h1v3h-1m8 -6h1v6h-1m22 -1h1v1h-1m24 -3h1v3h-1m2 -1h2v1h-2m11 -6h1v6h-1m10 -3h2v3h-2m3 -3h1v3h-1m10 -6h1v6h-1m9 -3h3v3h-3m36 -3h1v3h-1m12 -3h1v3h-1m6 -3h3v3h-3m28 -1h1v1h-1m5 -3h1v3h-1m3 -3h1v3h-1m4 -2h1v2h-1m3 -3h1v3h-1m16 -3h1v3h-1m-692 0h1v3h-1m11 -3h1v3h-1m435 -3h1v3h-1m14 -3h1v3h-1m6 -4h1v4h-1m2 -3h1v3h-1m4 -3h1v3h-1m2 -3h1v3h-1m6 -3h2v3h-2m7 -3h1v3h-1m14 -3h1v3h-1m22 -3h1v3h-1m11 -3h2v3h-2m7 -24h1v24h-1m5 -3h1v3h-1m11 -3h3v3h-3m4 -3h1v3h-1m7 -6h1v6h-1m4 -5h2v5h-2m7 -3h1v3h-1m2 -3h1v3h-1m10 -3h2v3h-2m20 -3h1v3h-1m22 -3h1v3h-1m26 -3h1v3h-1m11 -3h1v3h-1m3 -3h5v3h-5"/>
<path fill="#00d5ff" d="M0 0m675 52h2v2h-2m24 -2h2v2h-2m-109 3h1v1h-1m-18 -1h1v3h-1m5 -3h1v3h-1m7 -3h2v3h-2m21 -3h1v3h-1m2 -3h1v3h-1m8 -3h2v3h-2m84 -3h1v3h-1m-98 0h1v2h-1m-55 -2h1v3h-1m24 -3h2v3h-2m19 -5h2v5h-2m4 -3h2v3h-2m13 -3h1v3h-1m5 -3h1v3h-1m114 -3h2v3h-2m5 -3h1v3h-1m-95 0h2v2h-2m-102 -2h1v3h-1m48 -3h5v3h-5m17 -3h2v3h-2m15 -3h1v3h-1m11 -3h1v3h-1m3 -3h2v3h-2m5 -3h1v3h-1m2 -1h3v1h-3m95 -3h2v3h-2m-102 0h1v1h-1m-81 -1h1v3h-1m35 -3h1v3h-1m30 -3h1v3h-1m16 -2h3v2h-3m42 -3h1v3h-1m64 -3h2v3h-2m-36 0h1v1h-1m-174 -4h2v6h-2m11 -3h1v3h-1m7 -3h1v3h-1m16 -3h4v3h-4m11 -3h2v3h-2m7 -3h2v3h-2m9 -3h1v3h-1m9 -3h2v3h-2m5 -3h1v3h-1m9 -3h1v3h-1m7 -3h1v3h-1m21 -3h2v3h-2m8 -1h1v1h-1m8 -3h1v3h-1m28 -3h1v3h-1m34 -3h1v3h-1m17 0h1v2h-1m-164 -2h1v3h-1m7 -3h1v3h-1m6 -3h1v3h-1m9 -3h1v3h-1m2 -3h1v3h-1m6 -3h2v3h-2m6 -3h1v3h-1m4 -1h1v1h-1m26 -3h2v3h-2m64 -1h1v1h-1m4 -1h1v1h-1m20 -3h1v3h-1m-186 0h2v3h-2m6 -3h2v3h-2m12 -3h1v3h-1m32 -3h1v3h-1m11 -3h1v3h-1m104 -3h2v3h-2m-147 0h3v3h-3m12 -3h2v3h-2m9 -3h1v3h-1m42 -3h2v3h-2m7 -3h3v3h-3m5 -3h2v3h-2m5 -6h1v6h-1m1 0h4v1h-4m49 -1h1v1h-1m13 -1h1v1h-1m-113 -1h1v2h-1m27 -2h2v2h-2m25 -1h3v1h-3m-93 -2h1v3h-1m4 -3h1v3h-1m10 -3h2v3h-2m11 -3h1v3h-1m8 -3h1v3h-1m13 -3h1v3h-1m6 -3h2v3h-2m17 -1h1v1h-1m15 -3h1v3h-1m9 -1h2v1h-2m-87 0h1v2h-1m23 -2h1v2h-1m9 -2h1v2h-1m13 -2h1v2h-1m-54 -2h1v3h-1m23 -1h1v1h-1m9 -1h2v1h-2m11 -1h1v1h-1m43 -3h1v3h-1m-19 0h1v1h-1m-35 0h1v1h-1m31 -2h1v2h-1m3 -1h1v1h-1m-57 -2h1v3h-1m34 -1h1v1h-1m10 -3h1v3h-1m4 -3h1v3h-1m13 0h1v1h-1m-30 1h1v1h-1m6 -2h1v2h-1m7 -3h2v3h-2m-3 0h1v3h-1m-7 3h1v3h-1m9 0h1v3h-1m-8 0h2v3h-2m13 -3h4v3h-4m-7 -3h1v6h-1m7 -3h1v3h-1m-2 0h2v3h-2m4 0h1v2h-1m-9 -2h2v3h-2m-495 -2h2v9h-2m503 10h1v1h-1m-14 0h1v2h-1m212 1h2v6h-2m2 9h1v3h-1m-6 4h1v2h-1m6 -3h1v3h-1m3 0h2v2h-2m-1 0h3v1h-3m-22 1h2v2h-2m24 -3h1v3h-1m-26 0h2v3h-2m30 -2h2v2h-2m-46 0h1v3h-1m27 -3h1v3h-1m-28 0h1v1h-1m-27 0h1v1h-1m-1 0h2v1h-2m36 0h1v3h-1m38 -3h1v3h-1m-94 0h1v2h-1m8 -2h1v2h-1m49 -2h1v2h-1m-136 -2h2v3h-2m87 -1h2v1h-2m56 -3h1v3h-1m-6 0h2v1h-2m1 0h1v2h-1m-51 0h1v2h-1m0 0h2v1h-2m19 -3h2v3h-2m-106 0h1v3h-1m152 -3h1v3h-1m-651 2h1v1h-1m398 -3h1v3h-1m16 -2h1v2h-1m87 -2h1v2h-1m88 -3h1v3h-1m50 -3h1v3h-1m-238 0h1v1h-1m190 -1h2v1h-2m5 -4h1v4h-1m-598 -1h1v3h-1m402 -2h2v2h-2m9 -3h1v3h-1m94 -3h1v3h-1m122 -3h1v3h-1m-214 0h1v1h-1m8 0h1v1h-1m175 -1h1v1h-1m-600 -2h2v3h-2m406 -1h2v1h-2m7 -1h2v1h-2m7 -1h1v1h-1m84 -3h1v3h-1m73 -3h1v3h-1m67 -1h1v1h-1m36 -3h1v3h-1m3 -3h1v3h-1m6 -3h1v3h-1m-95 0h1v1h-1m6 -2h2v2h-2m-606 -1h1v3h-1m431 -3h1v3h-1m50 -3h2v3h-2m39 -3h1v3h-1m65 -3h1v3h-1m23 -1h1v1h-1m-94 0h2v1h-2m-102 -1h2v3h-2m36 -5h1v5h-1m31 -3h2v3h-2m107 -3h1v3h-1m17 -2h2v2h-2m3 -3h2v3h-2m30 -3h1v3h-1m46 -3h2v3h-2m8 -6h1v6h-1m5 -3h1v3h-1m-230 -2h1v4h-1m14 -2h1v2h-1m-474 -2h1v3h-1m7 -3h1v3h-1m2 -3h1v3h-1m435 -1h1v1h-1m5 -1h1v1h-1m22 -2h1v2h-1m123 -3h1v3h-1m2 -3h1v3h-1m52 -3h2v3h-2m36 -3h1v3h-1m-250 -3h1v4h-1m10 -1h3v1h-3m25 -1h2v1h-2m-57 -1h2v3h-2m3 -3h1v3h-1m3 -3h1v3h-1m22 -2h1v2h-1m8 -1h1v1h-1m8 -2h1v2h-1m2 -2h1v2h-1m14 -1h1v1h-1m3 -2h1v2h-1m125 -6h1v6h-1m56 -3h1v3h-1m5 -3h1v3h-1m14 -3h1v3h-1m15 -3h1v3h-1m-236 0h1v1h-1m3 -1h1v1h-1m2 -1h2v1h-2m21 -1h1v1h-1m-23 0h4v1h-4m-46 -2h1v3h-1m5 -3h1v3h-1m13 -2h2v2h-2m28 -1h5v1h-5m16 -2h1v2h-1m91 -1h1v1h-1m88 -3h1v3h-1m30 -3h1v3h-1m2 -3h1v3h-1m-219 -3h1v4h-1m-464 -1h1v3h-1m408 -3h1v3h-1m9 -2h1v2h-1m30 -3h1v3h-1m7 -3h2v3h-2m125 -3h1v3h-1m15 -3h1v3h-1m2 -3h1v3h-1m3 -3h3v3h-3m33 -3h1v3h-1m33 -3h1v3h-1m18 -2h1v2h-1m-273 0h1v3h-1m11 -3h1v3h-1m13 -1h1v1h-1m2 -3h2v3h-2m7 -3h2v3h-2m13 -3h1v3h-1m107 -3h1v3h-1m14 -3h2v3h-2m17 -3h3v3h-3m37 -3h2v3h-2m-193 0h1v1h-1m26 -1h2v1h-2m-12 -1h1v2h-1m7 -2h2v2h-2m-460 -5h1v6h-1m406 -3h1v3h-1m189 -3h1v3h-1m35 -3h1v3h-1m60 -3h1v3h-1m-255 0h2v2h-2m-21 -2h1v3h-1m136 -3h1v3h-1m15 -3h1v3h-1m80 -3h1v3h-1m33 -3h2v3h-2m-35 0h1v2h-1m-643 -2h1v3h-1m440 -3h2v3h-2m141 -3h1v3h-1m16 -6h3v6h-3m31 -3h1v3h-1m7 -3h1v3h-1m18 0h1v2h-1m-236 -2h1v3h-1m10 -6h1v6h-1m12 -3h1v3h-1m111 -3h1v3h-1m14 -3h1v3h-1m16 -3h1v3h-1m56 -3h2v3h-2m14 -3h1v3h-1m-19 0h1v2h-1m-207 -2h2v3h-2m5 -3h2v3h-2m135 -3h2v3h-2m17 -3h1v3h-1m15 -3h1v3h-1m54 -3h2v3h-2m-234 -3h1v6h-1m7 -3h1v3h-1m5 -3h1v3h-1m7 -3h1v3h-1m3 -3h1v3h-1m162 -3h1v3h-1m45 -6h1v6h-1m6 -3h1v3h-1m39 -6h1v6h-1m-268 0h1v3h-1m213 -3h1v3h-1m7 -3h1v3h-1m17 -3h2v3h-2m-27 0h2v2h-2m-225 -2h2v3h-2m4 -3h1v3h-1m16 -6h1v6h-1m3 -3h1v3h-1m166 -3h2v3h-2m37 -1h1v1h-1m3 -3h4v3h-4m19 -3h2v3h-2m46 -3h1v3h-1m-260 0h2v1h-2m-32 -1h1v3h-1m6 -3h1v3h-1m26 -2h1v2h-1m123 -3h2v3h-2m14 -3h2v3h-2m18 -3h1v3h-1m47 -4h1v4h-1m13 -3h1v3h-1m29 -2h1v2h-1m14 -2h1v2h-1m3 -3h1v3h-1m-260 0h1v1h-1m123 -1h1v3h-1m77 -3h2v3h-2m48 -3h1v3h-1m-259 0h1v3h-1m164 -3h2v3h-2m5 -3h1v3h-1m43 -3h1v3h-1m11 -3h1v3h-1m42 -6h1v6h-1m6 -3h1v3h-1m-296 0h1v3h-1m7 -3h1v3h-1m151 -3h2v3h-2m14 -3h2v3h-2m17 -3h1v3h-1m2 -3h1v3h-1m41 -3h2v3h-2m47 -3h1v3h-1m-250 0h2v3h-2m165 -3h1v3h-1m90 -6h1v6h-1m-272 0h1v3h-1m11 -3h2v3h-2m11 -3h1v3h-1m2 -6h1v6h-1m123 -6h1v6h-1m36 -3h1v3h-1m101 -6h1v6h-1m7 -3h1v3h-1m-302 0h2v3h-2m143 -3h1v3h-1m14 -3h2v3h-2m16 -3h1v3h-1m18 -3h4v3h-4m44 -12h1v12h-1m-77 0h1v3h-1m13 -3h2v3h-2m19 -3h3v3h-3m66 -3h1v3h-1m47 -3h1v3h-1m-296 0h1v3h-1m5 -3h1v3h-1m3 -3h1v3h-1m142 -3h2v3h-2m16 -3h2v3h-2m18 -3h2v3h-2m40 -9h2v9h-2m4 -6h2v6h-2m61 -3h2v3h-2m-286 0h1v3h-1m148 -3h1v3h-1m15 -3h1v3h-1m16 -3h2v3h-2m115 -3h1v3h-1m-304 0h2v3h-2m13 -3h1v3h-1m17 -3h1v3h-1m127 -3h2v3h-2m14 -3h2v3h-2m19 -3h1v3h-1m60 -3h2v3h-2m25 -3h1v3h-1m27 -3h1v3h-1m-303 0h1v3h-1m145 -3h1v3h-1m30 -3h1v3h-1m15 -3h1v3h-1m4 -3h1v3h-1m59 -3h2v3h-2m35 -3h1v3h-1m5 -3h2v3h-2m11 -3h1v3h-1m-114 0h2v3h-2m87 -3h1v3h-1m24 -3h2v3h-2m-22 0h1v1h-1m-85 -1h1v3h-1m38 -6h2v6h-2m52 -2h1v2h-1m4 -2h1v2h-1m17 -3h1v3h-1m-302 0h2v3h-2m187 -3h1v3h-1m2 -3h3v3h-3m111 -3h1v3h-1m-299 0h1v3h-1m6 -3h1v3h-1m6 -3h1v3h-1m22 -3h1v3h-1m136 -3h2v3h-2m121 -3h1v3h-1m-292 0h1v3h-1m26 -3h2v3h-2m4 -3h1v3h-1m139 -3h3v3h-3m19 -3h4v3h-4m81 -3h2v3h-2m12 -3h1v3h-1m-12 0h1v2h-1m-40 -8h2v9h-2m23 -6h1v6h-1m50 -3h1v3h-1m-133 -3h2v6h-2m19 -6h1v6h-1m95 -3h1v3h-1m-284 0h1v3h-1m2 -3h1v3h-1m4 -3h1v3h-1m167 -3h1v3h-1m19 -3h1v3h-1m38 -3h2v3h-2m44 -3h1v3h-1m-278 6h1v3h-1m5 -3h2v3h-2m14 -3h1v3h-1m4 -3h1v3h-1m9 -3h1v3h-1m3 -3h1v3h-1m10 -3h1v3h-1m22 -3h1v3h-1m7 -3h1v3h-1m19 -3h1v3h-1m4 -3h1v3h-1m12 -3h1v3h-1m29 -3h2v3h-2m8 -3h1v3h-1m45 -3h1v3h-1m31 -3h2v3h-2m7 -3h1v3h-1m6 -3h1v3h-1m12 -3h1v3h-1m-246 0h1v3h-1m11 -3h1v3h-1m4 -3h1v3h-1m3 -3h3v3h-3m6 -3h1v3h-1m14 -3h1v3h-1m2 -6h1v6h-1m22 -3h1v3h-1m10 -3h1v3h-1m19 -3h1v3h-1m98 -3h1v3h-1m4 -6h1v6h-1m2 -3h1v3h-1m43 -3h1v3h-1m-207 0h1v1h-1m76 -1h1v2h-1m56 -5h1v5h-1m-159 -2h1v3h-1m4 -3h1v3h-1m15 -3h2v3h-2m12 -3h1v3h-1m3 -3h2v3h-2m27 -6h1v6h-1m6 -3h1v3h-1m5 -6h1v6h-1m2 -3h1v3h-1m13 -3h2v3h-2m42 -6h1v6h-1m11 -3h1v3h-1m49 -3h3v3h-3m32 -9h1v9h-1m-225 0h1v3h-1m3 -3h1v3h-1m4 -3h1v3h-1m10 -3h1v3h-1m2 -3h2v3h-2m4 -3h1v3h-1m52 -3h2v3h-2m11 -9h1v9h-1m5 -3h1v3h-1m42 -3h2v3h-2m24 -3h2v3h-2m5 -3h1v3h-1m26 -3h2v3h-2m36 -3h1v3h-1m10 -3h1v3h-1m-219 0h1v3h-1m10 -6h1v6h-1m7 -3h1v3h-1m11 -3h1v3h-1m80 -6h1v6h-1m22 -3h1v3h-1m44 -3h2v3h-2m32 -3h1v3h-1m7 -3h1v3h-1m-197 0h1v1h-1m6 -1h1v1h-1m153 -1h1v1h-1m34 -1h1v1h-1m-224 0h1v1h-1m21 -1h1v1h-1m10 -1h2v1h-2m3 -1h1v1h-1m3 -1h2v1h-2m-32 -2h1v3h-1m32 -1h1v1h-1m6 -3h2v3h-2m25 -3h1v3h-1m6 -3h2v3h-2m11 -3h1v3h-1m72 -3h1v3h-1m31 -3h1v3h-1m5 -3h1v3h-1m3 -3h1v3h-1m28 -1h1v1h-1m9 -3h1v3h-1m12 -9h2v9h-2m-245 0h1v3h-1m15 -3h1v3h-1m2 -3h1v3h-1m2 -3h1v3h-1m7 -3h1v3h-1m8 -3h1v3h-1m4 -3h2v3h-2m6 -3h1v3h-1m22 -3h1v3h-1m5 -6h1v6h-1m3 -3h1v3h-1m22 -3h1v3h-1m11 -3h1v3h-1m16 -3h1v3h-1m14 -3h1v3h-1m14 -9h1v9h-1m69 -3h1v3h-1m-214 0h3v2h-3m0 0h2v1h-2m14 -3h1v3h-1m3 -3h1v3h-1m54 -3h1v3h-1m15 -3h1v3h-1m3 -3h1v3h-1m49 -3h1v3h-1m45 -3h2v3h-2m5 -3h1v3h-1m44 -3h1v3h-1m7 -3h1v3h-1m8 -3h2v3h-2m-254 1h1v1h-1m159 -2h1v2h-1m-157 -2h1v3h-1m30 -2h1v2h-1m8 -3h1v3h-1m22 -3h2v3h-2m7 -1h1v1h-1m17 -3h1v3h-1m38 -3h2v3h-2m10 -3h2v3h-2m30 -6h1v6h-1m30 -3h1v3h-1m33 -3h1v3h-1m-206 -2h1v5h-1m18 -3h1v3h-1m2 -3h1v3h-1m3 -5h1v5h-1m33 -3h1v3h-1m10 -3h1v3h-1m11 -3h1v3h-1m11 -3h1v3h-1m80 -3h1v3h-1m40 -3h1v3h-1m-161 0h1v1h-1m8 -1h1v2h-1m118 -2h1v2h-1m-181 -5h1v6h-1m3 -3h1v3h-1m4 -3h1v3h-1m17 -3h1v3h-1m26 -3h1v3h-1m9 -3h1v3h-1m63 -6h1v6h-1m9 -3h1v3h-1m16 -3h1v3h-1m2 -3h1v3h-1m34 -3h1v3h-1m30 -6h1v6h-1m-160 0h1v2h-1m-62 -2h1v3h-1m13 -3h1v3h-1m9 -3h1v3h-1m11 -3h2v3h-2m8 -3h1v3h-1m48 -2h1v2h-1m32 -3h1v3h-1m9 -1h1v1h-1m105 -1h1v1h-1m-43 0h2v2h-2m-628 -2h1v3h-1m447 -6h1v6h-1m8 -3h1v3h-1m38 -3h1v3h-1m7 -3h1v3h-1m18 -3h2v3h-2m10 -6h2v6h-2m101 -1h1v1h-1m27 -3h2v3h-2m10 -5h1v5h-1m4 -3h1v3h-1m-165 0h1v2h-1m-469 -1h2v2h-2m408 -3h1v3h-1m12 -3h1v3h-1m9 -3h1v3h-1m12 -3h1v3h-1m80 -3h1v3h-1m10 -3h1v3h-1m55 -3h1v3h-1m6 -3h1v3h-1m26 -6h1v6h-1m5 -3h1v3h-1m8 -3h1v3h-1m20 -3h1v3h-1m-247 0h1v1h-1m5 -1h1v1h-1m7 -1h1v1h-1m-430 -1h2v3h-2m422 -1h1v1h-1m15 -3h1v3h-1m7 -2h1v2h-1m7 -3h1v3h-1m38 -3h1v3h-1m13 -3h1v3h-1m5 -3h3v3h-3m12 -3h1v3h-1m50 -3h1v3h-1m38 -3h1v3h-1m57 -3h1v3h-1m-680 0h1v3h-1m429 -3h1v3h-1m3 -3h1v3h-1m16 -3h1v3h-1m3 -3h1v3h-1m8 -2h1v2h-1m8 -1h1v1h-1m111 -3h1v3h-1m12 -3h1v3h-1m26 -3h1v3h-1m6 -3h2v3h-2m-119 0h1v1h-1m-512 -1h2v3h-2m39 -6h2v6h-2m396 -3h1v3h-1m16 -3h2v3h-2m7 -3h1v3h-1m4 -3h1v3h-1m13 -3h2v3h-2m5 -3h1v3h-1m41 -9h1v9h-1m22 -3h2v3h-2m31 -3h1v3h-1m5 -6h1v6h-1m3 -3h1v3h-1m14 -3h1v3h-1m60 -3h1v3h-1m7 -6h1v6h-1m11 -3h1v3h-1m7 -3h1v3h-1m-233 0h1v2h-1m-446 -2h1v3h-1m473 -3h1v3h-1m26 -3h1v3h-1m26 -3h1v3h-1m4 -3h2v3h-2m13 -3h1v3h-1m15 -3h1v3h-1m10 -3h1v3h-1m24 -3h1v3h-1m69 -3h2v3h-2m28 -3h1v3h-1m-237 0h1v2h-1m-450 -2h1v3h-1m3 -3h2v3h-2m5 -3h1v3h-1m18 -3h2v3h-2m418 -3h1v3h-1m9 -3h1v3h-1m24 -3h1v3h-1m30 -3h1v3h-1m4 -3h1v3h-1m7 -3h1v3h-1m12 -3h2v3h-2m91 -3h1v3h-1m6 -9h1v9h-1m2 -3h1v3h-1m28 -3h1v3h-1m29 -3h1v3h-1m-685 0h1v3h-1m432 -3h1v3h-1m15 -6h1v6h-1m123 -3h1v3h-1m14 -3h1v3h-1m36 -3h2v3h-2m35 -3h1v3h-1m2 -3h1v3h-1m3 -3h1v3h-1m6 -3h1v3h-1m11 -3h1v3h-1m-243 0h2v1h-2m16 -1h1v1h-1m48 -1h1v1h-1m77 -1h1v1h-1m16 -1h1v1h-1m-146 -4h1v5h-1m140 -1h1v1h-1m-589 -2h2v3h-2m5 -3h1v3h-1m5 -3h1v3h-1m425 -3h1v3h-1m4 -2h1v2h-1m37 -3h1v3h-1m26 -1h1v1h-1m5 -3h1v3h-1m36 -3h1v3h-1m27 -3h1v3h-1m9 -1h1v1h-1m16 -1h1v1h-1m36 -6h1v6h-1m25 -3h1v3h-1m6 -3h1v3h-1m11 -9h1v9h-1m-100 0h2v2h-2m-575 -2h2v3h-2m438 -3h1v3h-1m21 -3h1v3h-1m74 -6h1v6h-1m3 -9h1v9h-1m39 -1h1v1h-1m57 -3h1v3h-1m26 -3h3v3h-3m26 -6h1v6h-1m8 -9h1v9h-1m-685 0h1v3h-1m5 -3h1v3h-1m425 -2h1v2h-1m6 -3h2v3h-2m7 -3h1v3h-1m6 -3h1v3h-1m56 -3h1v3h-1m18 -3h1v3h-1m16 -3h1v3h-1m29 -3h2v3h-2m9 -3h1v3h-1m75 -3h1v3h-1m3 -3h2v3h-2m3 -3h1v3h-1m-206 0h1v1h-1m36 0h1v1h-1m-493 -2h2v3h-2m6 -3h2v3h-2m5 -3h1v3h-1m10 -3h2v3h-2m428 -2h1v2h-1m13 -3h1v3h-1m7 -3h1v3h-1m11 -3h1v3h-1m53 -3h2v3h-2m10 -3h1v3h-1m45 -3h1v3h-1m2 -3h1v3h-1m4 -3h1v3h-1m2 -2h2v2h-2m33 -3h2v3h-2m40 -3h2v3h-2m-671 0h2v3h-2m10 -3h1v3h-1m2 -3h1v3h-1m7 -3h1v3h-1m418 -3h1v3h-1m13 -3h2v3h-2m23 -3h2v3h-2m4 -3h1v3h-1m4 -3h1v3h-1m25 -3h1v3h-1m17 -3h2v3h-2m48 -3h1v3h-1m87 -3h1v3h-1m7 -3h1v3h-1m-658 0h1v3h-1m34 -3h2v3h-2m413 -3h2v3h-2m24 -3h1v3h-1m18 -3h1v3h-1m33 -3h1v3h-1m6 -3h1v3h-1m36 -3h2v3h-2m8 -3h1v3h-1m54 -3h1v3h-1m38 -3h1v3h-1m-215 0h1v1h-1m26 -1h1v1h-1m5 -1h1v1h-1m108 -1h1v1h-1m-19 0h1v1h-1m-571 -2h1v3h-1m463 -1h1v1h-1m3 -1h1v1h-1m5 -3h1v3h-1m24 -3h1v3h-1m3 -3h1v3h-1m8 -3h1v3h-1m64 -1h1v1h-1m7 -3h1v3h-1m13 -1h1v1h-1m80 -1h1v1h-1m17 -3h1v3h-1m-176 0h1v2h-1m-65 -1h1v2h-1m10 -3h1v3h-1m17 -3h1v3h-1m20 -3h1v3h-1m86 -3h1v3h-1m7 -3h1v3h-1m8 -3h1v3h-1m60 -3h1v3h-1m-77 0h1v2h-1m-577 -2h1v3h-1m7 -3h1v3h-1m28 -3h3v3h-3m410 -3h1v3h-1m10 -3h1v3h-1m16 -3h2v3h-2m5 -3h1v3h-1m23 -3h2v3h-2m19 -3h1v3h-1m11 -3h1v3h-1m2 -3h1v3h-1m43 -3h1v3h-1m86 -3h1v3h-1m19 -3h1v3h-1m7 -3h1v3h-1m-227 0h1v1h-1m36 -1h1v1h-1m164 -1h1v1h-1m-198 0h1v1h-1m110 -1h1v1h-1m-556 -2h1v3h-1m11 -3h2v3h-2m406 -3h1v3h-1m7 -3h1v3h-1m26 -1h1v1h-1m12 -1h1v1h-1m17 -2h2v2h-2m62 -3h1v3h-1m103 -1h1v1h-1m-656 0h2v3h-2m4 -3h1v3h-1m428 -3h1v3h-1m9 -3h1v3h-1m13 -3h1v3h-1m5 -3h1v3h-1m10 -3h1v3h-1m25 -3h1v3h-1m9 -3h1v3h-1m3 -3h1v3h-1m15 -3h1v3h-1m4 -3h1v3h-1m3 -3h1v3h-1m46 -3h1v3h-1m17 -3h2v3h-2m28 -3h1v3h-1m34 -3h1v3h-1m22 -3h1v3h-1m-161 23h1v6h-1m5 -6h2v6h-2m6 -6h1v6h-1m75 -6h1v6h-1m26 -6h1v6h-1m16 -6h1v6h-1m21 -6h1v6h-1m8 -6h2v6h-2m7 -6h1v6h-1m3 -6h2v6h-2m8 -6h1v6h-1"/>
<path fill="#00f3ff" d="M0 0m733 52h1v2h-1m-140 0h2v2h-2m-21 0h1v1h-1m20 -1h3v1h-3m20 -2h2v2h-2m10 -1h2v1h-2m27 -2h1v2h-1m42 -3h1v3h-1m-155 0h1v3h-1m10 -3h2v3h-2m24 -3h2v3h-2m26 -3h2v3h-2m7 -3h2v3h-2m26 -3h1v3h-1m68 -6h1v6h-1m27 -3h1v3h-1m-157 0h1v1h-1m8 -1h1v1h-1m124 -1h1v1h-1m-157 -1h2v3h-2m5 -3h1v3h-1m10 -3h1v3h-1m9 -2h2v2h-2m8 -2h1v2h-1m29 -2h1v2h-1m31 -3h1v3h-1m87 -3h1v3h-1m-198 1h2v2h-2m72 -3h1v3h-1m13 -3h2v3h-2m9 -3h5v3h-5m9 -3h1v3h-1m11 -3h1v3h-1m13 -3h1v3h-1m8 -3h2v3h-2m75 -3h2v3h-2m-39 0h1v1h-1m8 -1h1v1h-1m0 0h2v1h-2m-177 -2h2v3h-2m6 -6h2v6h-2m10 -3h1v3h-1m6 -3h1v3h-1m12 -3h2v3h-2m18 -3h4v3h-4m43 -3h2v3h-2m24 -3h1v3h-1m24 -3h1v3h-1m35 -1h1v1h-1m12 -3h1v3h-1m-18 1h1v1h-1m15 -2h1v2h-1m-183 -2h1v3h-1m4 -3h1v3h-1m19 -3h1v3h-1m12 -3h2v3h-2m3 -3h1v3h-1m11 -3h1v3h-1m8 -3h2v3h-2m9 -3h1v3h-1m38 -3h2v3h-2m4 -3h1v3h-1m67 -3h1v3h-1m15 -3h1v3h-1m10 -3h2v3h-2m-123 0h1v2h-1m90 -2h1v2h-1m-162 -2h1v3h-1m30 -3h1v3h-1m49 -3h1v3h-1m4 -3h2v3h-2m18 -3h2v3h-2m6 -3h1v3h-1m80 -3h3v3h-3m1 0h2v1h-2m-191 -1h2v3h-2m11 -3h2v3h-2m25 -3h1v3h-1m8 -3h2v3h-2m4 -3h2v3h-2m10 -3h1v3h-1m38 -3h2v3h-2m85 1h1v1h-1m-177 -2h1v3h-1m12 -3h3v3h-3m8 -3h2v3h-2m6 -3h2v3h-2m7 -3h2v3h-2m20 -3h1v3h-1m5 -6h2v6h-2m-21 0h1v2h-1m31 -2h1v2h-1m79 -1h2v1h-2m-97 -2h1v3h-1m28 -3h1v3h-1m7 -6h2v6h-2m4 -3h1v3h-1m2 -3h1v3h-1m56 -1h1v1h-1m-119 0h1v1h-1m11 -1h1v2h-1m30 -2h1v2h-1m-51 -2h2v3h-2m5 -3h1v3h-1m21 -1h1v1h-1m3 -2h1v2h-1m7 -3h1v3h-1m19 -3h2v3h-2m-53 0h1v1h-1m15 -1h1v1h-1m34 -1h1v1h-1m-60 -1h2v2h-2m27 -1h1v1h-1m10 -2h1v2h-1m-37 0h1v1h-1m49 -3h2v3h-2m26 -3h1v3h-1m11 -3h1v3h-1m-48 0h3v1h-3m-9 -1h1v2h-1m4 -2h2v2h-2m40 -2h1v2h-1m-40 0h1v1h-1m5 -2h2v2h-2m-8 0h1v3h-1m24 -3h3v3h-3m82 0h1v1h-1m-96 -1h2v3h-2m19 -3h1v3h-1m-7 0h2v3h-2m5 -3h1v3h-1m-27 0h2v3h-2m10 -3h2v3h-2m-4 0h1v1h-1m5 -1h1v3h-1m-6 3h1v3h-1m19 -3h1v6h-1m-10 0h1v3h-1m13 0h1v1h-1m-5 2h1v1h-1m-503 0h2v6h-2m-1 0h2v4h-2m488 0h1v1h-1m20 -1h1v1h-1m-26 0h1v2h-1m10 -2h2v2h-2m5 -2h2v2h-2m8 -2h1v2h-1m-480 1h2v11h-2m-23 -9h1v10h-1m-1 0h1v2h-1m701 -2h2v3h-2m-4 5h1v1h-1m0 3h1v3h-1m4 0h3v1h-3m-60 6h1v1h-1m-1 0h2v1h-2m9 -2h1v2h-1m36 -3h1v3h-1m-48 0h1v1h-1m73 -1h1v1h-1m-57 -1h1v3h-1m57 -2h3v2h-3m-12 0h2v3h-2m13 -3h2v3h-2m-49 -3h1v4h-1m-28 -1h1v3h-1m32 -3h3v3h-3m20 -3h2v3h-2m20 -3h1v3h-1m4 -3h1v3h-1m-53 0h1v3h-1m22 -3h2v3h-2m-142 -3h1v6h-1m155 -3h1v3h-1m18 -3h1v3h-1m2 -3h1v3h-1m-174 0h1v3h-1m88 -3h1v3h-1m62 -3h1v3h-1m-151 0h2v1h-2m1 0h1v2h-1m94 -3h2v3h-2m-96 0h3v1h-3m-92 -1h1v3h-1m8 -2h1v2h-1m5 -3h1v3h-1m79 -2h4v2h-4m135 -3h1v3h-1m21 -3h1v3h-1m15 -3h1v3h-1m-258 1h1v1h-1m209 -2h1v2h-1m-632 -2h1v3h-1m422 -1h2v1h-2m9 -1h1v1h-1m82 -3h1v3h-1m71 -2h1v2h-1m100 -3h1v3h-1m-233 0h2v1h-2m154 0h1v1h-1m-595 -2h1v3h-1m397 -1h1v1h-1m45 -2h1v2h-1m149 -1h5v1h-5m2 0h2v1h-2m-183 -1h1v2h-1m17 -2h2v2h-2m-437 -2h1v3h-1m3 -3h2v3h-2m415 -3h1v3h-1m20 -1h1v1h-1m5 -2h1v2h-1m2 -1h1v1h-1m19 -3h1v3h-1m14 -3h1v3h-1m4 -3h2v3h-2m24 -3h1v3h-1m95 -3h1v3h-1m58 -3h3v3h-3m5 -9h2v9h-2m7 -3h1v3h-1m10 -3h1v3h-1m-264 0h1v3h-1m15 -3h1v3h-1m12 -3h1v3h-1m9 -1h1v1h-1m12 -1h1v1h-1m14 -1h1v1h-1m104 -6h2v6h-2m49 -3h1v3h-1m9 -3h1v3h-1m14 -6h1v6h-1m12 -3h1v3h-1m-212 0h1v1h-1m11 -1h1v1h-1m-56 -1h2v3h-2m6 -3h1v3h-1m11 -3h1v3h-1m12 -2h1v2h-1m8 -3h1v3h-1m2 -1h2v1h-2m16 -2h2v2h-2m11 -1h1v1h-1m5 -1h1v1h-1m4 -2h1v2h-1m183 -3h2v3h-2m-234 0h2v1h-2m20 -1h4v2h-4m13 -2h2v2h-2m6 -2h1v2h-1m-69 -2h6v3h-6m16 -3h1v3h-1m6 -3h1v3h-1m5 -3h1v3h-1m11 -3h1v3h-1m3 -2h1v2h-1m8 -1h1v1h-1m2 -1h3v1h-3m13 -1h1v1h-1m131 -3h1v3h-1m38 -3h2v3h-2m4 -3h2v3h-2m23 -6h2v6h-2m-243 0h1v1h-1m2 -1h1v1h-1m-11 -1h2v3h-2m3 -3h1v3h-1m6 -2h2v2h-2m27 -5h1v5h-1m7 -3h1v3h-1m4 -3h1v3h-1m124 -6h2v6h-2m18 -9h1v9h-1m2 -3h2v3h-2m28 -3h1v3h-1m-217 0h1v3h-1m24 -3h1v3h-1m32 -3h1v3h-1m6 -3h1v3h-1m94 -7h1v7h-1m15 -3h1v3h-1m20 -3h1v3h-1m44 -3h1v3h-1m-172 0h2v1h-2m-10 -1h1v2h-1m11 -1h1v1h-1m-53 -2h1v3h-1m13 -3h2v3h-2m5 -1h1v1h-1m126 -3h2v3h-2m16 -3h2v3h-2m16 -3h1v3h-1m35 -3h1v3h-1m30 -3h1v3h-1m17 -3h1v3h-1m-272 0h1v3h-1m7 -3h1v3h-1m151 -3h1v3h-1m16 -3h1v3h-1m15 -3h1v3h-1m43 -3h2v3h-2m4 -3h1v3h-1m-639 -3h1v6h-1m396 -3h6v3h-6m8 -3h3v3h-3m4 -3h1v3h-1m3 -3h1v3h-1m150 -3h2v3h-2m37 -3h2v3h-2m42 -1h1v1h-1m20 -3h2v3h-2m-245 0h1v3h-1m6 -6h2v6h-2m127 -12h1v12h-1m14 -3h1v3h-1m13 -3h2v3h-2m22 -3h1v3h-1m35 -3h1v3h-1m31 -3h1v3h-1m-261 0h1v3h-1m10 -3h1v3h-1m2 -3h1v3h-1m18 -6h2v6h-2m143 -3h3v3h-3m20 -3h2v3h-2m38 -3h2v3h-2m7 -3h2v3h-2m3 -3h2v3h-2m19 -3h1v3h-1m-251 0h2v3h-2m4 -3h2v3h-2m13 -9h1v9h-1m12 -3h1v3h-1m137 -3h2v3h-2m15 -3h1v3h-1m2 -3h3v3h-3m60 -3h2v3h-2m9 -3h3v3h-3m13 -3h1v3h-1m-50 0h1v2h-1m-224 -2h1v3h-1m29 -3h1v3h-1m7 -3h1v3h-1m192 -3h1v3h-1m3 -3h2v3h-2m5 -3h1v3h-1m0 0h4v1h-4m0 0h3v1h-3m-242 -2h6v3h-6m29 -3h2v3h-2m10 -3h1v3h-1m6 -3h1v3h-1m120 -9h2v9h-2m16 -3h2v3h-2m61 -1h2v1h-2m22 -3h2v3h-2m-253 0h1v3h-1m2 -3h1v3h-1m10 -3h1v3h-1m5 -3h1v3h-1m5 -3h1v3h-1m119 -2h1v2h-1m44 -3h1v3h-1m3 -3h4v3h-4m61 -3h2v3h-2m8 -3h2v3h-2m-1 0h1v1h-1m-252 -1h1v3h-1m136 -3h2v3h-2m14 -3h1v3h-1m34 -3h2v3h-2m87 -3h1v3h-1m16 -3h1v3h-1m4 -3h4v3h-4m-288 0h1v3h-1m7 -1h2v1h-2m140 -3h2v3h-2m14 -3h2v3h-2m19 -3h1v3h-1m4 -3h1v3h-1m83 -3h1v3h-1m23 -3h2v3h-2m3 -3h1v3h-1m-160 0h1v3h-1m30 -3h2v3h-2m20 -3h2v3h-2m-201 0h7v3h-7m15 -3h1v3h-1m10 -3h2v3h-2m154 -3h4v3h-4m18 -3h1v3h-1m5 -3h1v3h-1m42 -3h1v3h-1m64 -3h2v3h-2m3 -3h1v3h-1m-297 0h1v3h-1m4 -3h1v3h-1m147 -6h1v6h-1m34 -3h3v3h-3m59 -3h2v3h-2m-106 -3h1v6h-1m-142 -3h1v6h-1m3 -3h1v3h-1m9 -3h2v3h-2m3 -3h2v3h-2m9 -6h1v6h-1m131 -3h1v3h-1m16 -3h2v3h-2m16 -3h1v3h-1m60 -3h1v3h-1m45 -3h1v3h-1m2 -3h2v3h-2m6 -3h1v3h-1m-266 0h1v3h-1m3 -3h1v3h-1m104 -6h2v6h-2m46 -3h2v3h-2m-197 0h6v3h-6m22 -6h1v6h-1m3 -3h2v3h-2m127 -3h1v3h-1m13 -3h1v3h-1m17 -3h1v3h-1m82 -3h3v3h-3m17 -3h2v3h-2m15 -3h1v3h-1m15 -3h1v3h-1m-296 0h1v3h-1m25 -3h1v3h-1m111 -3h2v3h-2m30 -3h2v3h-2m84 -3h1v3h-1m-243 0h1v2h-1m-9 -2h1v3h-1m138 -3h1v3h-1m30 -3h1v3h-1m17 -3h1v3h-1m89 -3h1v3h-1m-255 -3h1v6h-1m119 -3h2v3h-2m14 -3h2v3h-2m16 -3h2v3h-2m20 -3h1v3h-1m61 -3h1v3h-1m21 -3h1v3h-1m3 -3h1v3h-1m-120 0h1v1h-1m-584 -10h3v11h-3m430 -2h1v3h-1m4 -3h1v3h-1m135 -3h1v3h-1m28 -3h3v3h-3m-179 0h7v3h-7m25 -9h2v9h-2m126 -3h2v3h-2m144 -3h1v3h-1m-283 0h1v3h-1m4 -3h1v3h-1m16 -3h1v3h-1m147 -6h2v6h-2m19 -3h1v3h-1m82 -3h1v3h-1m4 -3h1v3h-1m3 -6h2v6h-2m9 -3h1v3h-1m-714 -7h2v9h-2m685 -2h1v3h-1m33 -3h2v3h-2m-149 -6h1v9h-1m117 -3h2v3h-2m19 -3h1v3h-1m2 -3h1v3h-1m-259 0h2v3h-2m11 -6h1v6h-1m141 -6h1v6h-1m80 -3h1v3h-1m4 -3h1v3h-1m31 -3h1v3h-1m7 -3h2v3h-2m4 -3h2v4h-2m-47 -1h1v2h-1m42 -2h1v2h-1m-721 -9h1v10h-1m418 -3h6v3h-6m8 -3h1v3h-1m144 -3h1v3h-1m27 -3h2v3h-2m112 -3h1v3h-1m9 -3h1v3h-1m11 -3h2v3h-2m-305 6h1v3h-1m26 -3h1v3h-1m41 -3h2v3h-2m19 -3h1v3h-1m47 -3h1v3h-1m10 -3h1v3h-1m52 -3h1v3h-1m4 -3h1v3h-1m3 -3h2v3h-2m16 -3h2v3h-2m8 -3h1v3h-1m28 -3h1v3h-1m-246 0h1v3h-1m4 -3h1v3h-1m2 -3h1v3h-1m17 -3h1v3h-1m6 -6h1v6h-1m23 -3h1v3h-1m14 -3h2v3h-2m49 -3h1v3h-1m14 -3h1v3h-1m57 -3h1v3h-1m40 -3h1v3h-1m11 -6h1v6h-1m-230 0h2v3h-2m5 -3h1v3h-1m13 -3h1v3h-1m7 -3h1v3h-1m21 -3h1v3h-1m6 -3h1v3h-1m29 -3h1v3h-1m2 -3h1v3h-1m9 -1h1v1h-1m52 -3h1v3h-1m41 -3h2v3h-2m13 -3h2v3h-2m8 -3h1v3h-1m16 -3h1v3h-1m-243 -1h5v4h-5m11 -3h2v3h-2m16 -3h1v3h-1m13 -3h2v3h-2m28 -3h1v3h-1m16 -3h1v3h-1m19 -3h1v3h-1m63 -3h1v3h-1m52 -3h3v3h-3m9 -3h2v3h-2m4 -3h1v3h-1m8 -3h1v3h-1m-225 0h1v3h-1m18 -3h1v3h-1m12 -3h2v3h-2m21 -3h1v3h-1m7 -3h1v3h-1m6 -3h2v3h-2m14 -3h1v3h-1m9 -6h1v6h-1m2 -3h2v3h-2m10 -3h2v3h-2m17 -3h1v3h-1m14 -3h1v3h-1m25 -7h1v7h-1m37 -3h2v3h-2m22 -3h1v3h-1m2 -3h1v3h-1m10 -3h1v3h-1m3 -3h1v3h-1m17 -3h1v3h-1m-220 0h1v1h-1m103 -1h1v2h-1m87 -1h1v1h-1m-221 -2h1v3h-1m3 -6h1v6h-1m5 -3h1v3h-1m3 -3h1v3h-1m8 -3h2v3h-2m9 -1h1v1h-1m3 -1h1v1h-1m2 -3h1v3h-1m3 -3h1v3h-1m37 -3h1v3h-1m47 -3h1v3h-1m66 -3h1v3h-1m17 -3h1v3h-1m6 -3h1v3h-1m8 -3h1v3h-1m7 -6h1v6h-1m-215 0h2v1h-2m-7 -1h1v3h-1m8 -2h1v2h-1m5 -3h1v3h-1m4 -3h1v3h-1m18 -3h1v3h-1m3 -3h1v3h-1m30 -3h1v3h-1m65 -3h1v3h-1m50 -3h3v3h-3m6 -3h1v3h-1m23 -3h3v3h-3m11 -3h1v3h-1m25 -3h1v3h-1m-250 0h1v3h-1m5 -1h1v1h-1m6 -3h1v3h-1m3 -3h1v3h-1m14 -3h2v3h-2m60 -3h1v3h-1m7 -9h1v9h-1m35 -9h1v9h-1m25 -3h1v3h-1m2 -3h1v3h-1m62 -3h1v3h-1m3 -3h2v3h-2m9 -6h1v6h-1m-214 0h1v1h-1m170 -1h1v1h-1m-122 -1h1v2h-1m-64 -2h1v3h-1m3 -3h2v3h-2m18 -3h1v3h-1m7 -3h1v3h-1m4 -3h2v3h-2m35 -3h1v3h-1m6 -3h2v3h-2m20 -3h1v3h-1m11 -3h1v3h-1m35 -3h1v3h-1m19 -3h1v3h-1m32 -3h1v3h-1m5 -3h3v3h-3m24 -3h1v3h-1m2 -3h1v3h-1m20 -3h1v3h-1m-224 0h1v1h-1m117 -1h1v2h-1m141 -29h2v29h-2m-246 -2h1v3h-1m3 -3h1v3h-1m56 -6h1v6h-1m52 -3h1v3h-1m2 -3h1v3h-1m17 -3h1v3h-1m58 -3h3v3h-3m13 -3h1v3h-1m3 -3h1v3h-1m-231 0h1v1h-1m-12 -3h5v4h-5m65 -2h1v3h-1m8 -2h1v2h-1m8 -1h1v1h-1m10 -3h1v3h-1m48 -6h1v6h-1m5 -3h1v3h-1m19 -3h1v3h-1m36 -1h1v1h-1m11 -3h2v3h-2m8 -3h5v3h-5m-120 0h1v1h-1m15 -1h2v1h-2m130 -1h1v1h-1m-178 -1h2v2h-2m49 -1h1v1h-1m25 -2h2v2h-2m-569 -2h1v3h-1m2 -3h3v3h-3m7 -3h1v3h-1m435 -3h1v3h-1m52 -1h1v1h-1m2 -3h1v3h-1m3 -1h1v1h-1m21 -3h1v3h-1m21 -1h2v1h-2m27 -1h1v1h-1m54 -6h1v6h-1m12 -3h4v3h-4m13 -3h2v3h-2m9 -6h1v6h-1m24 -3h1v3h-1m-94 0h1v1h-1m41 -1h1v2h-1m-618 -2h1v3h-1m431 -3h2v3h-2m5 -3h1v3h-1m24 -6h1v6h-1m4 -6h1v6h-1m34 -3h1v3h-1m24 -3h2v3h-2m41 -3h1v3h-1m57 -1h1v1h-1m11 -3h1v3h-1m11 -3h1v3h-1m10 -6h1v6h-1m18 -3h1v3h-1m8 -3h1v3h-1m-182 0h1v2h-1m-504 -2h3v3h-3m6 -3h1v3h-1m443 -3h1v3h-1m6 -3h1v3h-1m37 -3h1v3h-1m12 -1h2v1h-2m36 -6h1v6h-1m26 -3h1v3h-1m10 -3h2v3h-2m15 -3h1v3h-1m32 -3h1v3h-1m12 -3h2v3h-2m9 -3h1v3h-1m2 -3h2v3h-2m4 -3h3v3h-3m-197 0h1v1h-1m-9 -1h1v2h-1m66 -2h1v2h-1m-513 -2h2v3h-2m4 -3h2v3h-2m4 -3h1v3h-1m9 -3h2v3h-2m10 -3h4v3h-4m12 -3h2v3h-2m401 -3h1v3h-1m15 -2h2v2h-2m4 -3h1v3h-1m2 -3h1v3h-1m14 -3h1v3h-1m106 -3h2v3h-2m44 -3h1v3h-1m17 -3h1v3h-1m20 -3h1v3h-1m12 -3h1v3h-1m-674 0h1v3h-1m11 -3h1v3h-1m10 -3h2v3h-2m16 -3h1v3h-1m461 -6h1v6h-1m14 -3h1v3h-1m10 -3h1v3h-1m6 -3h1v3h-1m32 -3h1v3h-1m64 -3h1v3h-1m30 -6h2v6h-2m-656 0h1v3h-1m7 -3h1v3h-1m435 -3h1v3h-1m8 -3h1v3h-1m6 -3h1v3h-1m47 -3h1v3h-1m7 -3h1v3h-1m4 -2h1v2h-1m58 -3h1v3h-1m56 -3h1v3h-1m14 -3h2v3h-2m17 -3h1v3h-1m2 -3h2v3h-2m10 -3h1v3h-1m-239 -3h5v4h-5m228 -1h1v1h-1m-648 -1h1v3h-1m27 -3h2v3h-2m411 -1h1v1h-1m4 -3h1v3h-1m24 -3h1v3h-1m3 -3h1v3h-1m18 -3h1v3h-1m5 -3h1v3h-1m8 -3h1v3h-1m23 -3h1v3h-1m27 -3h1v3h-1m71 -3h1v3h-1m20 -3h3v3h-3m19 -3h1v3h-1m20 0h1v1h-1m-233 -4h1v5h-1m-456 -2h1v3h-1m26 -3h2v3h-2m11 -3h1v3h-1m415 -1h1v1h-1m20 -3h1v3h-1m2 -3h1v3h-1m21 -3h1v3h-1m17 -3h1v3h-1m14 -3h2v3h-2m52 -3h1v3h-1m3 -3h1v3h-1m15 -3h1v3h-1m29 -3h1v3h-1m3 -3h1v3h-1m18 -9h1v9h-1m2 -3h4v3h-4m14 0h1v1h-1m-203 -4h1v5h-1m-460 -2h2v3h-2m29 -3h2v3h-2m9 -3h3v3h-3m404 -3h1v3h-1m5 -3h1v3h-1m7 -3h1v3h-1m79 -3h1v3h-1m36 -3h1v3h-1m66 -9h1v9h-1m14 -3h2v3h-2m7 -3h1v3h-1m2 -3h1v3h-1m11 -3h1v3h-1m20 -3h1v3h-1m-187 1h1v1h-1m155 -2h2v2h-2m-654 -2h2v3h-2m3 -3h2v3h-2m3 -3h1v3h-1m2 -3h1v3h-1m27 -3h1v3h-1m398 -1h1v1h-1m15 -3h1v3h-1m3 -2h1v2h-1m73 -6h1v6h-1m72 -3h1v3h-1m37 -3h2v3h-2m6 -3h1v3h-1m16 -1h1v1h-1m3 -3h1v3h-1m-661 0h1v3h-1m3 -3h3v3h-3m5 -3h1v3h-1m11 -6h2v6h-2m436 -3h1v3h-1m21 -3h1v3h-1m4 -6h1v6h-1m16 -3h1v3h-1m11 -3h1v3h-1m4 -3h1v3h-1m63 -1h1v1h-1m14 -3h1v3h-1m9 -3h1v3h-1m29 -3h1v3h-1m3 -6h1v6h-1m35 -3h1v3h-1m-662 0h3v3h-3m428 -1h5v1h-5m27 -3h1v3h-1m18 -3h1v3h-1m4 -3h1v3h-1m24 -3h1v3h-1m5 -3h1v3h-1m19 -3h1v3h-1m4 -3h1v3h-1m12 -3h1v3h-1m51 -3h1v3h-1m36 -3h1v3h-1m6 -3h2v3h-2m4 -6h2v6h-2m11 -3h3v3h-3m7 -3h1v3h-1m12 -9h1v9h-1m-221 0h1v1h-1m148 -1h1v1h-1m-23 -1h1v2h-1m-575 -2h1v3h-1m6 -3h1v3h-1m5 -3h1v3h-1m420 -3h6v3h-6m37 -3h1v3h-1m29 -3h1v3h-1m6 -3h1v3h-1m2 -3h1v3h-1m40 -3h1v3h-1m15 -3h1v3h-1m10 -6h1v6h-1m30 -3h1v3h-1m48 -9h1v9h-1m4 -3h2v3h-2m3 -3h2v3h-2m35 -3h1v3h-1m-146 0h1v2h-1m-518 -2h2v3h-2m13 -3h1v3h-1m401 -6h1v6h-1m8 -3h1v3h-1m3 -3h1v3h-1m5 -3h1v3h-1m3 -3h1v3h-1m2 -3h2v3h-2m16 -6h1v6h-1m4 -3h1v3h-1m90 -3h1v3h-1m12 -3h1v3h-1m47 -3h1v3h-1m6 -3h1v3h-1m-125 0h1v2h-1m-489 -5h2v6h-2m427 -3h1v3h-1m8 -3h1v3h-1m18 -3h1v3h-1m38 -3h1v3h-1m62 -3h1v3h-1m24 -3h1v3h-1m26 -3h1v3h-1m8 -3h1v3h-1m4 -3h4v3h-4m12 -3h1v3h-1m3 -3h2v3h-2m8 -6h1v6h-1m2 -3h1v3h-1m21 -3h1v3h-1m8 -3h1v3h-1m-221 0h2v1h-2m10 -1h1v1h-1m-11 0h3v1h-3m105 -2h1v2h-1m20 -1h1v1h-1m-585 -2h3v3h-3m434 -2h1v2h-1m11 -3h1v3h-1m15 -1h1v1h-1m5 -3h1v3h-1m6 -2h2v2h-2m28 -3h2v3h-2m21 -3h1v3h-1m6 -6h1v6h-1m101 -3h1v3h-1m3 -3h2v3h-2m11 -3h5v3h-5m32 -3h1v3h-1m8 -3h1v3h-1m-108 0h1v1h-1m-74 -1h1v2h-1m-509 -2h2v3h-2m6 -3h1v3h-1m14 -3h1v3h-1m19 -3h1v3h-1m2 -3h2v3h-2m404 -3h1v3h-1m19 -3h1v3h-1m8 -4h1v4h-1m4 -3h1v3h-1m21 -3h1v3h-1m19 -1h1v1h-1m18 -3h3v3h-3m67 -3h1v3h-1m43 -3h1v3h-1m9 -3h2v3h-2m22 -3h1v3h-1m9 -3h1v3h-1m-683 0h1v3h-1m9 -3h1v3h-1m3 -6h1v6h-1m433 -3h1v3h-1m9 -3h1v3h-1m7 -6h1v6h-1m41 -3h1v3h-1m3 -3h1v3h-1m40 -3h1v3h-1m29 -3h1v3h-1m7 -1h1v1h-1m7 -3h1v3h-1m37 -3h2v3h-2m5 -6h1v6h-1m2 -3h1v3h-1m4 -3h3v3h-3m13 -3h3v3h-3m42 -3h1v3h-1m-193 0h1v1h-1m76 -1h2v1h-2m-93 -1h1v2h-1m41 -1h1v1h-1m7 -2h1v2h-1m45 -1h1v1h-1m-568 -2h1v3h-1m4 -3h1v3h-1m8 -6h1v6h-1m21 -3h3v3h-3m418 -3h1v3h-1m5 -3h1v3h-1m72 -3h1v3h-1m40 -1h2v1h-2m25 -6h1v6h-1m63 -3h1v3h-1m-231 -2h5v4h-5m-428 -5h1v6h-1m37 -3h2v3h-2m429 -3h1v3h-1m12 -3h1v3h-1m24 -3h1v3h-1m6 -3h1v3h-1m12 -3h1v3h-1m6 -3h1v3h-1m41 -6h1v6h-1m57 -3h1v3h-1m6 -3h1v3h-1m3 -3h1v3h-1m3 -6h2v6h-2m10 -6h1v6h-1m10 -3h1v3h-1m5 -3h1v3h-1m6 -6h1v6h-1m21 -3h1v3h-1m5 -93h2v93h-2m-664 23h2v6h-2m483 -6h1v6h-1m3 -6h3v6h-3m6 -6h1v6h-1m9 -6h1v6h-1m5 -6h1v6h-1m4 -6h2v6h-2m50 -6h2v6h-2m6 -6h6v6h-6m11 -6h1v6h-1m4 -6h1v6h-1m3 -6h2v6h-2m5 -6h1v6h-1m7 -6h2v6h-2m4 -6h1v6h-1m10 -6h7v6h-7m9 -6h1v6h-1m5 -6h2v6h-2m3 -6h2v6h-2m7 -6h2v6h-2m5 -6h1v6h-1m9 -6h5v6h-5m13 -6h1v6h-1m4 -6h3v6h-3m-217 -6h1v17h-1m13 -11h1v11h-1m28 -11h1v11h-1m5 -11h1v11h-1"/>
<path fill="#00ffed" d="M0 0m661 52h1v1h-1m30 -1h1v1h-1m-118 -1h1v2h-1m9 -1h1v1h-1m79 -1h2v1h-2m34 -2h1v2h-1m3 -2h1v2h-1m-134 0h1v1h-1m42 -1h1v2h-1m-25 0h1v1h-1m6 -3h1v3h-1m10 -1h1v1h-1m29 -2h1v2h-1m56 -3h1v3h-1m18 -3h1v3h-1m30 -1h1v1h-1m-203 0h2v1h-2m18 -1h1v3h-1m5 -3h2v3h-2m13 -3h2v3h-2m18 -1h1v1h-1m32 -3h1v3h-1m107 -1h1v1h-1m14 -1h1v1h-1m-198 1h1v2h-1m27 -3h1v3h-1m5 -3h2v3h-2m34 -3h1v3h-1m10 -3h1v3h-1m7 -3h1v3h-1m8 -3h2v3h-2m8 -3h2v3h-2m-110 1h5v2h-5m9 -3h2v3h-2m7 -3h2v3h-2m4 -3h2v3h-2m21 -3h3v3h-3m63 -3h1v3h-1m31 -3h1v3h-1m8 -3h1v3h-1m-141 0h4v3h-4m9 -3h4v3h-4m9 -3h1v3h-1m18 -3h3v3h-3m20 -3h1v3h-1m10 -3h2v3h-2m12 -3h1v3h-1m4 -3h1v3h-1m6 -6h2v6h-2m11 -3h1v3h-1m6 -3h1v3h-1m62 -2h1v2h-1m23 -3h2v3h-2m-7 0h2v1h-2m1 0h1v1h-1m-186 -2h4v3h-4m11 -3h1v3h-1m25 -3h1v3h-1m13 -3h1v3h-1m22 -3h2v3h-2m12 -3h2v3h-2m3 -3h3v3h-3m8 -3h1v3h-1m22 -3h1v3h-1m48 -3h2v3h-2m7 -1h1v1h-1m25 -3h1v3h-1m3 -3h1v3h-1m4 -3h1v3h-1m-62 0h2v1h-2m-63 -1h2v2h-2m63 -1h1v1h-1m34 -2h4v2h-4m-165 -2h1v3h-1m6 -3h1v3h-1m4 -3h1v3h-1m7 -3h3v3h-3m13 -3h1v3h-1m5 -3h2v3h-2m7 -3h1v3h-1m26 -1h1v1h-1m7 -3h1v3h-1m17 -3h2v3h-2m3 -6h1v6h-1m7 -3h3v3h-3m64 -1h3v1h-3m-63 0h2v1h-2m33 -1h2v1h-2m-32 0h1v1h-1m-106 -2h1v3h-1m14 -3h1v3h-1m12 -3h2v3h-2m4 -3h1v3h-1m23 -3h2v3h-2m20 -3h1v3h-1m6 -3h2v3h-2m8 -6h2v6h-2m6 -3h1v3h-1m51 -3h2v3h-2m-6 -2h1v3h-1m33 -1h1v1h-1m9 -1h1v1h-1m-179 -1h1v3h-1m7 -3h1v3h-1m4 -3h2v3h-2m30 -3h2v3h-2m12 -3h1v3h-1m3 -3h1v3h-1m18 -3h2v3h-2m107 -3h1v3h-1m-42 0h2v1h-2m29 -1h1v1h-1m-132 -1h2v2h-2m26 -2h2v2h-2m77 -1h1v1h-1m-142 -2h2v3h-2m21 -3h1v3h-1m15 -3h1v3h-1m9 -3h1v3h-1m15 -3h1v3h-1m6 -1h1v1h-1m20 -3h1v3h-1m-52 0h1v1h-1m45 -1h2v1h-2m-46 0h2v1h-2m11 -2h1v2h-1m114 -2h1v2h-1m-153 -2h2v3h-2m38 -1h2v1h-2m3 -3h2v3h-2m27 -1h1v1h-1m2 -3h1v3h-1m13 -3h1v3h-1m70 -1h2v1h-2m-118 0h2v1h-2m-21 -1h2v2h-2m14 -3h1v3h-1m8 -1h1v2h-1m18 -2h1v2h-1m2 -3h1v3h-1m25 -3h2v3h-2m14 -3h1v3h-1m-29 0h1v1h-1m-30 1h1v1h-1m29 -2h1v2h-1m78 -3h1v3h-1m2 -3h1v3h-1m7 0h1v1h-1m-102 -1h2v3h-2m9 -3h1v3h-1m-16 0h1v3h-1m2 -3h1v3h-1m8 -3h1v3h-1m-7 0h2v3h-2m8 -3h2v3h-2m-2 0h1v3h-1m-4 3h1v3h-1m3 -3h1v3h-1m6 -6h2v6h-2m3 -3h2v3h-2m-6 0h3v3h-3m5 -3h1v3h-1m6 0h1v3h-1m-26 17h2v1h-2m6 -1h1v1h-1m3 -1h1v1h-1m14 -1h2v1h-2m-506 -1h2v11h-2m702 2h2v3h-2m2 0h1v3h-1m-2 6h2v3h-2m-12 0h1v1h-1m-665 -14h2v16h-2m664 -2h2v2h-2m6 -3h2v3h-2m6 -3h1v3h-1m-15 0h1v3h-1m25 -3h1v3h-1m-710 -16h1v17h-1m683 -1h2v2h-2m15 -2h2v2h-2m-6 -2h1v3h-1m-56 1h1v1h-1m0 0h2v1h-2m9 -1h1v1h-1m16 -1h1v1h-1m5 -2h1v2h-1m20 -3h2v3h-2m8 -3h2v3h-2m-49 0h3v3h-3m41 -2h2v2h-2m-55 0h1v3h-1m34 -3h1v3h-1m28 -3h1v3h-1m-72 0h2v2h-2m11 1h1v2h-1m-4 -3h1v4h-1m43 -3h2v3h-2m21 -3h1v3h-1m2 -3h3v3h-3m17 -3h2v3h-2m-36 0h1v1h-1m-137 -4h1v6h-1m88 -3h1v3h-1m3 -3h2v3h-2m3 -4h2v4h-2m28 -3h2v3h-2m3 0h2v1h-2m-39 -1h2v3h-2m34 -3h1v3h-1m11 -3h2v3h-2m23 -3h1v3h-1m14 -3h2v3h-2m3 -3h1v3h-1m-672 2h1v1h-1m411 -3h1v3h-1m86 -1h2v1h-2m3 -2h1v2h-1m4 -1h1v1h-1m85 -3h1v3h-1m5 -6h1v6h-1m26 -3h1v3h-1m4 -3h1v3h-1m20 -3h1v3h-1m30 -3h2v3h-2m-83 0h1v1h-1m-599 0h2v2h-2m457 -1h1v1h-1m61 -3h1v3h-1m64 -3h1v3h-1m67 -3h1v3h-1m8 -3h2v3h-2m-141 0h1v1h-1m84 -1h2v1h-2m-602 -1h2v3h-2m413 -3h1v3h-1m4 -3h1v3h-1m3 -3h1v3h-1m6 -3h1v3h-1m79 -3h1v3h-1m9 -3h1v3h-1m4 -2h2v2h-2m66 -2h1v2h-1m17 -2h3v2h-3m32 -3h3v3h-3m6 -3h3v3h-3m19 -3h1v3h-1m13 -3h2v3h-2m8 -3h1v3h-1m-79 0h5v1h-5m0 0h4v1h-4m-599 -2h1v3h-1m4 -3h2v3h-2m406 -3h4v3h-4m5 -3h9v3h-9m11 -3h1v3h-1m11 -2h1v2h-1m3 -3h1v3h-1m9 -2h1v2h-1m62 -3h1v3h-1m70 -3h2v3h-2m3 -2h1v2h-1m57 -2h2v2h-2m5 -1h1v1h-1m-140 0h2v1h-2m-89 -1h1v2h-1m2 -2h1v2h-1m-412 -8h1v9h-1m401 -3h2v3h-2m9 -1h3v1h-3m7 -3h2v3h-2m5 -3h3v3h-3m6 -1h1v1h-1m12 -3h2v3h-2m60 -2h1v2h-1m8 -2h2v2h-2m68 -3h1v3h-1m49 -3h2v3h-2m3 -3h2v3h-2m12 -3h1v3h-1m4 -3h2v3h-2m27 -3h1v3h-1m-676 0h1v3h-1m4 -3h1v3h-1m3 -3h1v3h-1m405 -3h1v3h-1m9 -3h4v3h-4m9 -3h2v3h-2m43 -3h1v3h-1m108 -3h2v3h-2m48 -3h1v3h-1m3 -3h1v3h-1m14 -3h3v3h-3m36 -3h1v3h-1m-230 0h1v1h-1m30 -1h1v1h-1m-37 0h4v1h-4m6 -1h1v1h-1m-458 0h1v1h-1m424 -3h1v3h-1m5 -3h1v3h-1m2 -3h1v3h-1m14 -3h1v3h-1m9 -1h2v1h-2m3 -1h2v1h-2m4 -3h1v3h-1m9 -3h1v3h-1m5 -1h1v1h-1m2 -2h2v2h-2m4 -3h1v3h-1m40 -6h1v6h-1m65 -3h3v3h-3m60 -3h2v3h-2m24 -3h1v3h-1m3 -3h1v3h-1m2 -3h2v3h-2m-676 0h1v1h-1m448 -1h2v1h-2m4 -1h1v1h-1m15 -1h1v1h-1m11 -1h5v1h-5m6 -1h1v1h-1m3 -1h2v1h-2m6 -1h2v1h-2m-36 -1h1v2h-1m13 -2h1v2h-1m-458 -2h1v3h-1m402 -3h2v3h-2m4 -3h2v3h-2m13 -3h1v3h-1m9 -3h4v3h-4m8 -2h1v2h-1m30 -2h4v2h-4m16 -2h1v2h-1m27 -3h2v3h-2m68 -3h1v3h-1m51 -3h1v3h-1m10 -3h1v3h-1m2 -3h1v3h-1m2 -3h2v3h-2m8 -3h1v3h-1m-236 0h1v1h-1m29 -1h2v2h-2m-446 -5h1v6h-1m411 -3h3v3h-3m10 -3h2v3h-2m16 -3h1v3h-1m5 -3h1v3h-1m2 -1h4v1h-4m18 -3h1v3h-1m51 -3h1v3h-1m121 -3h1v3h-1m11 -3h3v3h-3m18 -3h3v3h-3m-228 0h2v2h-2m-444 -1h1v2h-1m7 -3h2v3h-2m408 -3h1v3h-1m7 -3h2v3h-2m11 -3h2v3h-2m3 -3h2v3h-2m9 -1h1v1h-1m3 -3h1v3h-1m16 -3h2v3h-2m5 -3h4v3h-4m90 -1h2v1h-2m75 -3h1v3h-1m26 -3h1v3h-1m24 -3h1v3h-1m-234 -3h1v4h-1m-3 -1h1v2h-1m-435 -2h1v3h-1m416 -6h1v6h-1m2 -6h1v6h-1m5 -3h3v3h-3m14 -2h1v2h-1m72 -6h2v6h-2m38 -3h1v3h-1m82 -3h2v3h-2m10 -6h1v6h-1m21 -3h3v3h-3m13 -3h1v3h-1m-695 -75h3v76h-3m426 -1h2v3h-2m21 -3h1v3h-1m3 -3h1v3h-1m147 -6h2v6h-2m3 -3h1v3h-1m54 -3h1v3h-1m-636 0h1v3h-1m406 -3h1v3h-1m14 -3h2v3h-2m9 -3h4v3h-4m5 -3h1v3h-1m2 -3h4v3h-4m115 -3h1v3h-1m28 -3h3v3h-3m68 -3h1v3h-1m4 -3h2v3h-2m-648 0h2v3h-2m404 -3h3v3h-3m5 -3h3v3h-3m5 -3h1v3h-1m21 -3h2v3h-2m3 -3h1v3h-1m6 -3h1v3h-1m135 -3h1v3h-1m61 -3h1v3h-1m2 -3h2v3h-2m31 -3h1v3h-1m4 -3h1v3h-1m-259 0h1v3h-1m7 -3h2v3h-2m12 -3h1v3h-1m188 -3h3v3h-3m21 -6h2v6h-2m-647 0h2v3h-2m408 -6h1v6h-1m8 -3h1v3h-1m10 -3h1v3h-1m5 -3h2v3h-2m146 -3h2v3h-2m127 -1h1v1h-1m2 -1h1v1h-1m-50 0h1v1h-1m-657 -1h3v2h-3m1 0h2v1h-2m423 -3h2v3h-2m18 -3h1v3h-1m70 -9h1v9h-1m66 -3h4v3h-4m60 -3h2v3h-2m5 -6h1v6h-1m37 -3h2v3h-2m-35 0h1v2h-1m-639 0h1v1h-1m413 -3h2v3h-2m12 -6h1v6h-1m8 -6h1v6h-1m139 -3h2v3h-2m105 -3h1v3h-1m-249 0h1v1h-1m-446 -5h1v6h-1m419 -2h2v3h-2m17 -2h2v2h-2m13 -3h1v3h-1m113 -2h1v2h-1m30 -3h2v3h-2m95 -3h1v3h-1m-266 0h1v3h-1m8 -3h1v3h-1m12 -3h2v3h-2m8 -3h2v3h-2m75 -6h1v6h-1m66 -3h3v3h-3m78 -3h1v3h-1m11 -3h2v3h-2m30 -6h1v6h-1m6 -3h2v3h-2m-716 0h1v2h-1m437 -2h2v2h-2m-18 -2h1v3h-1m8 -3h1v3h-1m4 -3h1v3h-1m10 -3h3v3h-3m85 -3h1v3h-1m37 -3h2v3h-2m30 -3h1v3h-1m105 -3h1v3h-1m19 -3h1v3h-1m-294 0h1v3h-1m4 -3h3v3h-3m10 -3h2v3h-2m5 -3h2v3h-2m3 -3h2v3h-2m7 -3h1v3h-1m2 -3h1v3h-1m71 -3h1v3h-1m39 -3h1v3h-1m124 -3h1v3h-1m8 -3h1v3h-1m18 -3h2v3h-2m8 -3h1v3h-1m-722 -2h1v3h-1m-1 0h1v1h-1m424 -2h2v3h-2m27 -3h2v3h-2m113 -3h2v3h-2m109 -3h2v3h-2m27 0h1v2h-1m-277 -2h2v3h-2m5 -3h3v3h-3m99 -3h1v3h-1m37 -3h1v3h-1m28 -3h3v3h-3m89 -3h2v3h-2m15 -3h1v3h-1m4 -1h2v1h-2m12 -3h1v3h-1m5 -3h1v3h-1m2 -3h2v3h-2m7 -3h1v3h-1m-726 0h1v2h-1m427 -2h3v3h-3m165 -3h2v3h-2m3 -3h1v3h-1m82 -3h2v3h-2m-677 1h1v2h-1m433 -6h2v6h-2m9 -3h1v3h-1m4 -12h1v12h-1m9 -3h1v3h-1m72 -3h1v3h-1m154 -3h2v3h-2m8 -3h1v3h-1m11 -3h1v3h-1m-279 0h2v3h-2m6 -3h1v3h-1m11 -3h2v3h-2m5 -3h3v3h-3m234 -3h2v3h-2m35 -3h1v3h-1m-289 0h1v3h-1m9 -3h2v3h-2m4 -3h1v3h-1m5 -3h4v3h-4m85 -6h1v6h-1m38 -3h1v3h-1m108 -3h1v3h-1m-673 -6h1v8h-1m-1 0h2v1h-2m426 -3h1v3h-1m2 -3h2v3h-2m12 -3h2v3h-2m8 -6h1v6h-1m224 -3h1v3h-1m5 -3h1v3h-1m2 -3h1v3h-1m-231 0h2v3h-2m11 -3h1v3h-1m70 -3h1v3h-1m170 -3h1v3h-1m13 -3h1v3h-1m-712 -3h1v5h-1m422 -2h1v3h-1m3 -3h1v3h-1m8 -6h2v6h-2m15 -3h1v3h-1m3 -3h2v3h-2m3 -3h1v3h-1m140 -6h2v6h-2m125 -3h4v3h-4m6 -3h1v3h-1m2 -3h1v3h-1m-728 2h1v1h-1m433 -3h1v3h-1m15 -3h1v3h-1m2 -3h1v3h-1m6 -3h1v3h-1m112 -3h1v3h-1m30 -3h1v3h-1m104 -2h1v2h-1m18 -3h2v3h-2m-259 0h1v1h-1m69 -1h1v3h-1m67 -3h1v3h-1m83 -3h2v3h-2m16 -3h1v3h-1m24 -3h4v3h-4m-720 -1h1v4h-1m429 -3h1v3h-1m31 -3h1v3h-1m222 -3h1v3h-1m33 -3h1v3h-1m5 -3h1v3h-1m-283 0h1v3h-1m4 -3h2v3h-2m88 -6h1v6h-1m170 -3h1v3h-1m20 -3h1v3h-1m-23 0h1v2h-1m-697 -1h2v2h-2m569 -9h1v9h-1m29 -3h1v3h-1m130 -3h1v3h-1m-301 0h1v3h-1m103 -3h2v3h-2m38 -3h2v3h-2m133 -3h1v3h-1m5 -3h1v3h-1m11 -3h2v3h-2m10 -3h1v3h-1m-285 -3h2v6h-2m8 -9h2v9h-2m118 -3h1v3h-1m116 -3h1v3h-1m10 -1h1v1h-1m-265 6h2v3h-2m9 -3h1v3h-1m6 -3h1v3h-1m40 -3h1v3h-1m14 -3h1v3h-1m3 -3h1v3h-1m46 -3h1v3h-1m27 -3h2v3h-2m6 -3h1v3h-1m3 -3h1v3h-1m40 -3h2v3h-2m4 -3h2v3h-2m8 -3h1v3h-1m-209 0h1v3h-1m2 -3h1v3h-1m2 -3h1v3h-1m9 -3h1v3h-1m43 -6h1v6h-1m100 -3h1v3h-1m3 -3h1v3h-1m49 -3h1v3h-1m4 -3h5v3h-5m22 -3h1v3h-1m17 -3h1v3h-1m-218 0h1v3h-1m24 -3h1v3h-1m86 -6h1v6h-1m12 -3h1v3h-1m44 -6h4v6h-4m15 -3h1v3h-1m29 -3h1v3h-1m7 -3h1v3h-1m-254 0h1v3h-1m13 -3h1v3h-1m10 -3h1v3h-1m11 -3h1v3h-1m32 -3h1v3h-1m12 -3h1v3h-1m66 -6h1v6h-1m8 -3h2v3h-2m64 -3h3v3h-3m12 -9h1v9h-1m26 -3h2v3h-2m-253 0h1v3h-1m5 -3h1v3h-1m14 -3h1v3h-1m16 -3h3v3h-3m27 -3h1v3h-1m13 -3h1v3h-1m69 -3h1v3h-1m13 -3h1v3h-1m47 -3h3v3h-3m7 -3h1v3h-1m2 -3h7v3h-7m-206 0h2v3h-2m5 -3h1v3h-1m12 -1h1v1h-1m35 -3h1v3h-1m78 -1h1v1h-1m6 -3h2v3h-2m17 -3h1v3h-1m2 -3h1v3h-1m37 -3h3v3h-3m5 -3h2v3h-2m9 -3h4v3h-4m5 -3h2v3h-2m8 -3h1v3h-1m12 -3h1v3h-1m15 -3h1v3h-1m-241 1h1v2h-1m56 -3h1v3h-1m4 -3h1v3h-1m5 -6h1v6h-1m67 -3h1v3h-1m16 -3h2v3h-2m3 -3h1v3h-1m64 -3h1v3h-1m27 -3h1v3h-1m-26 0h1v1h-1m-229 -4h1v6h-1m19 -3h2v3h-2m4 -3h1v3h-1m12 -3h1v3h-1m3 -3h1v3h-1m22 -3h1v3h-1m3 -3h1v3h-1m4 -3h1v3h-1m85 -3h1v3h-1m8 -3h1v3h-1m40 -3h3v3h-3m5 -3h3v3h-3m7 -3h2v3h-2m-185 0h1v1h-1m135 -4h1v4h-1m120 -25h4v26h-4m-281 -2h1v3h-1m18 -3h1v3h-1m3 -3h1v3h-1m3 -3h1v3h-1m43 -3h1v3h-1m79 -3h1v3h-1m42 -3h1v3h-1m2 -2h1v2h-1m12 -3h5v3h-5m13 -3h3v3h-3m13 -3h1v3h-1m25 -3h1v3h-1m28 -1h1v3h-1m-260 -1h1v2h-1m2 -3h1v3h-1m2 -3h1v3h-1m6 -3h1v3h-1m37 -3h1v3h-1m10 -3h1v3h-1m46 -3h1v3h-1m14 -1h1v1h-1m21 -3h1v3h-1m47 -3h1v3h-1m6 -3h3v3h-3m5 -3h3v3h-3m9 -3h2v3h-2m57 -4h2v4h-2m-269 0h1v2h-1m6 -2h1v3h-1m6 -3h1v3h-1m11 -3h1v3h-1m37 -6h1v6h-1m49 -3h1v3h-1m66 -3h2v3h-2m10 -6h5v6h-5m19 -3h2v3h-2m8 -3h1v3h-1m2 -3h1v3h-1m9 -3h1v3h-1m-75 0h2v1h-2m-55 0h1v1h-1m-544 -2h1v3h-1m6 -3h1v3h-1m3 -3h1v3h-1m3 -3h1v3h-1m431 -5h1v5h-1m5 -6h1v6h-1m6 -3h1v3h-1m2 -3h2v3h-2m3 -3h2v3h-2m37 -1h1v1h-1m2 -3h1v3h-1m5 -6h1v6h-1m2 -3h1v3h-1m29 -3h1v3h-1m40 -6h1v6h-1m22 -3h1v3h-1m3 -2h1v2h-1m44 -3h1v3h-1m9 -3h5v3h-5m10 -3h1v3h-1m12 -2h1v2h-1m-671 0h1v3h-1m4 -3h2v3h-2m4 -3h1v3h-1m438 -3h1v3h-1m24 -3h1v3h-1m87 -3h1v3h-1m10 -3h1v3h-1m10 -3h1v3h-1m9 -2h1v2h-1m38 -3h1v3h-1m3 -1h1v1h-1m9 -3h2v3h-2m9 -3h1v3h-1m7 -3h2v3h-2m8 -3h1v3h-1m53 -10h3v11h-3m-709 -1h3v3h-3m12 -2h1v2h-1m7 -2h2v2h-2m4 -2h2v2h-2m469 -3h1v3h-1m5 -3h1v3h-1m10 -6h1v6h-1m122 -9h1v9h-1m7 -3h1v3h-1m6 -3h1v3h-1m3 -6h2v6h-2m10 -3h1v3h-1m-225 0h1v1h-1m76 -1h1v2h-1m-503 -2h3v3h-3m29 -3h1v3h-1m419 -3h1v3h-1m10 -3h1v3h-1m45 -1h2v1h-2m47 -3h2v3h-2m37 -6h1v6h-1m28 -3h1v3h-1m5 -3h1v3h-1m9 -3h4v3h-4m9 -3h6v3h-6m16 -3h2v3h-2m56 -15h1v15h-1m-721 -3h2v6h-2m12 -3h1v3h-1m19 -3h2v3h-2m433 -3h1v3h-1m10 -3h1v3h-1m23 -6h1v6h-1m13 -3h1v3h-1m51 -3h1v3h-1m10 -3h1v3h-1m66 -3h3v3h-3m5 -3h3v3h-3m7 -3h1v3h-1m15 -3h1v3h-1m8 -3h1v3h-1m11 -3h2v3h-2m-679 0h1v3h-1m23 -3h6v3h-6m411 -3h1v3h-1m34 -6h1v6h-1m28 -3h1v3h-1m36 -3h1v3h-1m53 -3h1v3h-1m6 -3h1v3h-1m42 -3h5v3h-5m13 -3h1v3h-1m3 -6h2v6h-2m31 -3h1v3h-1m-95 0h2v1h-2m-589 -1h2v3h-2m6 -3h1v3h-1m2 -6h2v6h-2m12 -9h1v9h-1m424 -3h1v3h-1m14 -3h1v3h-1m2 -3h1v3h-1m9 -3h1v3h-1m4 -3h1v3h-1m37 -3h1v3h-1m79 -2h1v2h-1m7 -3h2v3h-2m30 -3h3v3h-3m12 -3h2v3h-2m6 -6h1v6h-1m6 -3h3v3h-3m10 -2h1v2h-1m15 -9h1v9h-1m8 -3h2v3h-2m-683 0h1v3h-1m4 -3h1v3h-1m16 -3h3v3h-3m425 -3h1v3h-1m9 -3h1v3h-1m5 -1h1v1h-1m46 -3h1v3h-1m19 -3h1v3h-1m38 -3h1v3h-1m14 -3h1v3h-1m22 -3h1v3h-1m44 -3h3v3h-3m21 -3h2v3h-2m3 -3h1v3h-1m5 -3h1v3h-1m13 -3h1v3h-1m8 -2h1v2h-1m-231 0h1v2h-1m12 -2h1v2h-1m42 -2h2v2h-2m-508 -2h1v3h-1m3 -3h2v3h-2m3 -3h1v3h-1m10 -3h2v3h-2m6 -3h2v3h-2m10 -3h1v3h-1m407 -3h1v3h-1m4 -3h1v3h-1m11 -1h2v1h-2m9 -3h1v3h-1m45 -1h1v1h-1m57 -3h1v3h-1m9 -3h2v3h-2m15 -6h1v6h-1m42 -3h6v3h-6m11 -3h2v3h-2m4 -3h5v3h-5m12 -2h1v2h-1m-104 0h2v1h-2m-123 -1h1v2h-1m-437 -2h1v3h-1m9 -3h1v3h-1m9 -3h1v3h-1m22 -3h2v3h-2m413 -3h1v3h-1m19 -3h2v3h-2m3 -3h1v3h-1m21 -3h3v3h-3m15 -3h1v3h-1m34 -6h1v6h-1m44 -3h1v3h-1m8 -3h1v3h-1m34 -3h1v3h-1m8 -3h4v3h-4m9 -3h1v3h-1m2 -3h2v3h-2m8 -1h1v1h-1m24 -3h1v3h-1m-679 -3h1v6h-1m7 -3h3v3h-3m9 -3h1v3h-1m20 -3h1v3h-1m403 -3h1v3h-1m19 -3h1v3h-1m9 -3h1v3h-1m52 -3h1v3h-1m6 -3h2v3h-2m33 -5h1v5h-1m9 -3h1v3h-1m25 -3h1v3h-1m31 -3h1v3h-1m10 -6h1v6h-1m13 -3h1v3h-1m3 -3h2v3h-2m3 -3h2v3h-2m15 -3h1v3h-1m-207 0h1v1h-1m253 -27h2v28h-2m-715 -2h2v3h-2m6 -3h2v3h-2m21 -3h2v3h-2m12 -3h2v3h-2m413 -3h1v3h-1m20 -3h1v3h-1m4 -3h1v3h-1m21 -3h2v3h-2m4 -3h2v3h-2m8 -3h1v3h-1m13 -3h1v3h-1m76 -3h1v3h-1m44 -6h1v6h-1m14 -3h1v3h-1m25 -3h1v3h-1m-679 0h3v3h-3m15 -3h1v3h-1m20 -3h4v3h-4m411 -3h1v3h-1m10 -3h1v3h-1m21 -3h1v3h-1m28 -3h1v3h-1m4 -3h3v3h-3m63 -1h1v1h-1m6 -3h1v3h-1m45 -3h1v3h-1m10 -3h8v3h-8m13 -3h1v3h-1m5 -3h1v3h-1m20 -3h2v3h-2m-9 0h1v2h-1m-664 -2h3v3h-3m5 -3h1v3h-1m4 -3h1v3h-1m2 -3h1v3h-1m26 -3h1v3h-1m2 -3h2v3h-2m472 -3h1v3h-1m32 -1h1v1h-1m30 -3h2v3h-2m20 -6h1v6h-1m32 -3h2v3h-2m11 -3h7v3h-7m11 -3h2v3h-2m4 -3h2v3h-2m3 -3h2v3h-2m19 -3h1v3h-1m9 -3h1v3h-1m-683 0h4v3h-4m442 -6h1v6h-1m3 -3h1v3h-1m14 -3h1v3h-1m2 -3h1v3h-1m11 -3h2v3h-2m26 -3h1v3h-1m76 -3h1v3h-1m23 -3h1v3h-1m33 -3h2v3h-2m6 -3h1v3h-1m5 -3h3v3h-3m13 -3h5v3h-5m28 -3h1v3h-1m8 -3h1v3h-1m-247 0h1v1h-1m18 -1h2v1h-2m7 -4h2v4h-2m158 -4h1v4h-1m-164 0h1v1h-1m98 -2h1v2h-1m-540 -2h2v3h-2m10 -3h2v3h-2m10 -3h2v3h-2m396 -2h1v2h-1m32 -2h1v2h-1m29 -3h1v3h-1m17 -3h1v3h-1m30 -3h1v3h-1m44 -3h1v3h-1m37 -1h2v1h-2m7 -3h1v3h-1m9 -3h2v3h-2m14 -3h2v3h-2m3 -3h1v3h-1m5 -3h1v3h-1m-657 0h1v3h-1m3 -3h3v3h-3m17 -3h4v3h-4m13 -3h1v3h-1m404 -3h1v3h-1m33 -9h1v9h-1m5 -3h1v3h-1m21 -3h1v3h-1m3 -3h1v3h-1m3 -1h1v1h-1m3 -7h1v7h-1m17 -3h1v3h-1m43 -3h1v3h-1m11 -2h1v2h-1m51 -3h1v3h-1m4 -3h2v3h-2m11 -9h1v9h-1m6 -3h1v3h-1m3 -3h1v3h-1m-217 0h1v1h-1m121 -1h1v2h-1m-558 -2h1v3h-1m4 -3h2v3h-2m23 -3h2v3h-2m8 -3h1v3h-1m422 -3h1v3h-1m8 -3h1v3h-1m28 -3h1v3h-1m3 -3h1v3h-1m15 -3h1v3h-1m56 -3h1v3h-1m57 -3h1v3h-1m28 -3h2v3h-2m4 -3h1v3h-1m-201 0h1v1h-1m64 -1h1v1h-1m-521 -4h1v6h-1m439 -3h2v3h-2m18 -1h1v1h-1m3 -3h1v3h-1m13 -3h1v3h-1m22 -2h1v2h-1m14 -3h1v3h-1m2 -6h1v6h-1m10 -1h1v1h-1m7 -1h1v1h-1m32 -3h1v3h-1m21 -3h1v3h-1m54 -3h3v3h-3m5 -3h3v3h-3m11 -3h3v3h-3m-182 0h1v1h-1m-470 -1h1v3h-1m4 -3h3v3h-3m5 -6h1v6h-1m3 -3h1v3h-1m6 -3h1v3h-1m4 -6h2v6h-2m16 -3h1v3h-1m399 -3h1v3h-1m5 -3h1v3h-1m18 -3h1v3h-1m3 -3h1v3h-1m35 -3h1v3h-1m16 -3h1v3h-1m80 -3h2v3h-2m37 -3h1v3h-1m10 -3h2v3h-2m7 -6h1v6h-1m2 -3h4v3h-4m21 -6h1v6h-1m22 -93h3v93h-3m5 -93h2v93h-2m-696 23h1v6h-1m26 -6h1v6h-1m2 -6h2v6h-2m4 -6h5v6h-5m441 -6h1v6h-1m4 -6h1v6h-1m10 -6h1v6h-1m2 -6h3v6h-3m25 -6h2v6h-2m6 -6h2v6h-2m3 -6h1v6h-1m4 -6h3v6h-3m5 -6h2v6h-2m3 -6h1v6h-1m2 -6h3v6h-3m5 -6h2v6h-2m47 -6h1v6h-1m3 -6h1v6h-1m2 -6h1v6h-1m8 -6h3v6h-3m4 -6h1v6h-1m4 -6h1v6h-1m2 -6h2v6h-2m4 -6h3v6h-3m7 -6h3v6h-3m5 -6h1v6h-1m4 -6h1v6h-1m2 -6h1v6h-1m14 -6h1v6h-1m4 -6h2v6h-2m7 -6h1v6h-1m2 -6h3v6h-3m5 -6h2v6h-2m5 -6h1v6h-1m3 -6h2v6h-2m10 -6h2v6h-2m6 -6h1v6h-1m2 -6h2v6h-2m-220 0h2v11h-2m4 -11h2v11h-2m3 -17h3v17h-3m7 -11h2v11h-2m3 -11h2v11h-2m5 -11h2v11h-2m19 -11h1v11h-1m3 -11h3v11h-3m5 -11h2v11h-2m4 -11h1v11h-1m5 -11h2v11h-2m6 -11h1v11h-1m4 -11h2v11h-2"/>
<path fill="#00ffcf" d="M0 0m692 54h1v1h-1m-128 0h2v1h-2m24 -2h1v2h-1m98 -1h1v1h-1m3 -2h1v2h-1m-128 -2h2v3h-2m4 -1h1v1h-1m5 -3h2v3h-2m4 -1h2v1h-2m10 -3h1v3h-1m4 -1h2v1h-2m70 -3h2v3h-2m28 -1h3v1h-3m6 -2h2v2h-2m-90 -3h1v4h-1m120 -1h2v1h-2m5 -1h1v1h-1m-110 -1h1v2h-1m30 -2h1v2h-1m-114 -2h1v3h-1m10 -3h1v3h-1m16 -2h2v2h-2m21 -3h1v3h-1m7 -3h2v3h-2m14 -2h1v2h-1m5 -3h1v3h-1m2 -3h2v3h-2m9 -1h2v1h-2m48 -3h1v3h-1m8 -3h2v3h-2m9 -3h1v3h-1m39 -2h3v2h-3m6 -2h2v2h-2m-151 0h1v1h-1m22 -1h3v2h-3m-53 -2h1v3h-1m8 -9h2v9h-2m20 -3h1v3h-1m25 -1h4v1h-4m9 -3h3v3h-3m17 -3h1v3h-1m8 -3h1v3h-1m99 -3h2v3h-2m3 -3h1v3h-1m-24 0h2v1h-2m-19 -4h1v5h-1m-161 -2h1v3h-1m20 -6h2v6h-2m7 -3h2v3h-2m4 -3h2v3h-2m11 -3h1v3h-1m53 -3h1v3h-1m16 -3h1v3h-1m54 -3h1v3h-1m12 -3h1v3h-1m2 -2h3v2h-3m10 -5h1v5h-1m3 -3h2v3h-2m3 -3h1v3h-1m-15 0h2v1h-2m-56 -1h1v2h-1m47 -2h1v2h-1m-149 -2h1v3h-1m23 -8h2v8h-2m33 -3h1v3h-1m5 -3h1v3h-1m20 -3h1v3h-1m47 -3h1v3h-1m22 -1h1v1h-1m18 -3h2v3h-2m-11 0h1v1h-1m-66 -1h1v2h-1m67 -1h1v1h-1m-164 -2h1v3h-1m35 -3h1v3h-1m24 -3h1v3h-1m12 -3h2v3h-2m5 -6h2v6h-2m88 -1h3v1h-3m10 -3h1v3h-1m5 -3h2v3h-2m8 0h2v1h-2m-200 -1h1v3h-1m9 -3h2v3h-2m19 -3h2v3h-2m14 -3h2v3h-2m5 -3h3v3h-3m6 -3h2v3h-2m3 -3h1v3h-1m9 -3h1v3h-1m2 -3h2v3h-2m7 -3h1v3h-1m17 -3h1v3h-1m45 -3h1v3h-1m35 -3h2v3h-2m4 -3h4v3h-4m7 -3h1v3h-1m2 -3h3v3h-3m8 -3h3v3h-3m9 -2h1v2h-1m-198 0h2v3h-2m14 -6h2v6h-2m5 -3h2v3h-2m19 -3h1v3h-1m11 -3h1v3h-1m15 -3h1v3h-1m4 -3h1v3h-1m18 -3h2v3h-2m9 -3h1v3h-1m65 -3h3v3h-3m9 -3h1v3h-1m4 -3h1v3h-1m7 -3h1v3h-1m11 -3h2v3h-2m10 -3h1v3h-1m-25 0h1v1h-1m-30 -1h1v2h-1m-149 -2h1v3h-1m11 -3h1v3h-1m22 -3h1v3h-1m36 -3h1v3h-1m10 -3h1v3h-1m7 -6h1v6h-1m10 -3h1v3h-1m91 -3h1v3h-1m-22 0h1v2h-1m-152 -2h1v3h-1m31 -3h2v3h-2m6 -3h1v3h-1m6 -3h1v3h-1m19 -3h1v3h-1m-76 0h1v1h-1m34 -1h2v1h-2m16 -1h1v1h-1m-30 -1h1v2h-1m19 -2h1v2h-1m-27 -2h1v3h-1m23 -2h1v2h-1m18 -1h2v1h-2m3 -3h1v3h-1m-15 -3h1v6h-1m5 -3h1v3h-1m8 -3h2v3h-2m10 -3h2v3h-2m6 -1h1v1h-1m-49 0h2v1h-2m26 -1h2v1h-2m-12 -1h1v2h-1m7 0h1v1h-1m5 -2h1v2h-1m11 -1h1v1h-1m3 -3h2v3h-2m82 -3h1v3h-1m13 -3h1v3h-1m6 -3h1v3h-1m-91 0h2v1h-2m1 0h1v2h-1m79 -3h1v3h-1m-101 0h2v3h-2m14 -3h2v3h-2m4 -3h1v3h-1m-14 0h3v3h-3m9 -3h1v3h-1m7 0h1v3h-1m-11 3h2v3h-2m-3 0h1v3h-1m8 -3h2v3h-2m4 -3h1v3h-1m3 -3h1v3h-1m-1 0h1v2h-1m-15 1h1v3h-1m-2 0h1v2h-1m8 -2h2v2h-2m201 22h2v3h-2m-702 -2h2v5h-2m-1 0h2v8h-2m686 6h1v1h-1m6 -3h2v3h-2m16 0h1v3h-1m-16 0h2v3h-2m4 -3h3v3h-3m4 -1h2v1h-2m12 -3h1v3h-1m-32 0h1v1h-1m-44 0h1v1h-1m0 0h2v1h-2m28 -2h1v2h-1m2 -3h1v3h-1m19 -4h2v4h-2m25 -3h2v3h-2m-47 0h1v1h-1m7 -1h1v1h-1m18 -1h2v1h-2m-45 1h1v1h-1m7 -3h3v3h-3m12 -2h2v2h-2m22 -3h1v3h-1m-66 0h1v3h-1m38 -3h3v3h-3m13 -5h2v5h-2m6 -2h1v2h-1m4 -3h2v3h-2m19 -3h1v3h-1m10 -3h1v3h-1m2 -3h2v3h-2m-48 0h2v1h-2m11 -1h1v1h-1m-647 -16h2v17h-2m599 -2h1v2h-1m28 -2h2v2h-2m12 -2h1v2h-1m-20 -2h2v3h-2m17 -2h1v2h-1m13 -1h1v1h-1m15 -3h4v3h-4m102 -5h6v5h-6m-75 0h81v2h-81m-84 -5h1v6h-1m27 -3h2v3h-2m4 -3h3v3h-3m14 -3h1v3h-1m6 -3h1v3h-1m11 -3h1v3h-1m-693 -17h1v18h-1m627 -1h2v3h-2m42 -3h2v3h-2m27 -3h1v3h-1m-51 0h1v3h-1m14 -3h1v3h-1m-35 0h2v3h-2m38 -3h2v3h-2m22 -3h1v3h-1m13 -6h1v6h-1m10 -3h1v3h-1m-80 0h1v1h-1m-172 1h2v1h-2m76 -3h1v3h-1m98 -2h2v2h-2m29 -3h2v3h-2m6 -3h1v3h-1m8 -3h1v3h-1m22 -3h3v3h-3m17 -3h1v3h-1m-84 0h1v1h-1m4 -1h1v1h-1m3 -3h1v4h-1m23 -2h1v2h-1m19 -2h1v2h-1m-645 -2h1v3h-1m410 -3h1v3h-1m96 -3h2v3h-2m122 -3h1v3h-1m35 -3h2v3h-2m-82 0h1v1h-1m62 -1h1v2h-1m-237 -2h1v3h-1m188 -6h1v6h-1m32 -1h1v1h-1m3 -1h1v1h-1m6 -3h1v3h-1m5 -3h1v3h-1m18 -3h1v3h-1m7 -3h1v3h-1m12 -3h2v3h-2m-162 0h1v1h-1m-106 -1h1v3h-1m33 -3h1v3h-1m201 -3h1v3h-1m24 -3h2v3h-2m-268 0h6v3h-6m20 -3h1v3h-1m215 -3h1v3h-1m-182 0h1v1h-1m-35 -1h1v3h-1m24 -3h1v3h-1m2 -3h1v3h-1m8 -2h2v2h-2m15 -2h1v2h-1m15 -2h1v2h-1m31 -6h1v6h-1m134 -3h2v3h-2m9 -3h1v3h-1m24 -3h1v3h-1m-203 0h2v1h-2m6 -1h1v1h-1m-47 -1h2v3h-2m7 -3h1v3h-1m22 -3h1v3h-1m17 -2h1v2h-1m147 -3h1v3h-1m6 -3h1v3h-1m8 -9h1v9h-1m6 -3h2v3h-2m6 -3h1v3h-1m3 -3h1v3h-1m4 -3h2v3h-2m-670 0h1v2h-1m453 -2h2v2h-2m-10 -2h3v3h-3m45 -3h3v3h-3m33 -3h1v3h-1m123 -3h1v3h-1m-184 0h1v3h-1m25 -3h2v3h-2m3 -3h2v3h-2m155 -3h2v3h-2m4 -3h2v3h-2m5 -3h1v3h-1m3 -3h2v3h-2m21 -3h2v3h-2m-227 -3h1v4h-1m10 -1h1v1h-1m31 -1h1v1h-1m-82 -1h6v3h-6m30 -3h2v3h-2m14 -3h1v3h-1m191 -3h1v3h-1m10 -3h1v3h-1m4 -3h2v3h-2m6 -3h1v3h-1m25 -3h1v3h-1m-677 0h1v3h-1m431 -3h1v3h-1m207 -6h2v6h-2m8 -3h1v3h-1m29 -6h1v6h-1m-687 -6h1v9h-1m442 -3h1v3h-1m81 -6h1v6h-1m116 -3h3v3h-3m5 -3h1v3h-1m2 -3h4v3h-4m6 -3h1v3h-1m10 -6h1v6h-1m5 -3h2v3h-2m4 -6h1v6h-1m6 -3h2v3h-2m9 -3h1v3h-1m2 -3h1v3h-1m-689 0h2v1h-2m1 0h1v1h-1m443 -2h1v3h-1m79 -3h1v3h-1m118 -3h3v3h-3m8 -3h2v3h-2m5 -3h1v3h-1m8 -3h1v3h-1m8 -3h2v3h-2m4 -3h2v3h-2m17 -3h2v3h-2m-270 -3h1v6h-1m232 -3h1v3h-1m19 -3h2v3h-2m5 -3h1v3h-1m10 -3h1v3h-1m-687 -3h1v6h-1m410 -3h6v3h-6m42 -3h1v3h-1m191 -3h3v3h-3m6 -3h2v3h-2m23 -3h1v3h-1m-673 0h2v2h-2m426 -2h2v3h-2m14 -3h1v3h-1m4 -3h2v3h-2m5 -3h2v3h-2m76 -3h1v3h-1m131 -3h1v3h-1m4 -3h2v3h-2m10 -3h1v3h-1m-669 -1h1v2h-1m715 -1h1v1h-1m-192 -1h1v3h-1m168 -3h2v3h-2m23 -2h2v2h-2m-270 0h1v3h-1m11 -3h1v3h-1m69 -3h1v3h-1m149 0h3v1h-3m-674 0h1v2h-1m430 -3h1v3h-1m8 -3h1v3h-1m254 -3h2v3h-2m4 -3h1v3h-1m-285 0h6v3h-6m14 -3h1v3h-1m99 -3h1v3h-1m185 -3h1v3h-1m2 -3h2v3h-2m6 -3h2v3h-2m-718 -1h1v2h-1m526 -1h1v3h-1m141 -3h1v3h-1m28 -3h1v3h-1m16 -3h1v3h-1m-711 1h1v1h-1m436 -2h1v3h-1m3 -3h1v3h-1m86 -3h2v3h-2m189 -3h1v3h-1m-715 -1h1v2h-1m526 -1h1v3h-1m173 -3h1v3h-1m19 -3h1v3h-1m-262 0h1v3h-1m70 -3h2v3h-2m164 -3h1v3h-1m24 -3h1v3h-1m-714 -1h1v2h-1m-1 0h1v2h-1m414 -3h6v3h-6m27 -3h1v3h-1m86 -3h1v3h-1m171 -3h1v3h-1m22 -3h2v3h-2m-265 0h1v3h-1m244 -3h1v3h-1m17 -3h1v3h-1m-278 0h1v3h-1m90 -3h1v3h-1m149 -3h1v3h-1m-236 0h1v3h-1m7 -9h1v9h-1m79 -3h2v3h-2m168 -3h2v3h-2m3 -3h1v3h-1m20 -3h6v3h-6m-281 0h2v2h-2m-437 -2h1v3h-1m438 -1h1v1h-1m89 -3h1v3h-1m150 -3h3v3h-3m5 -3h2v3h-2m9 -3h1v3h-1m4 -3h3v3h-3m5 -3h1v3h-1m19 -3h1v3h-1m-305 0h6v3h-6m27 -2h1v2h-1m7 -3h1v3h-1m226 -3h2v3h-2m40 -3h2v3h-2m-15 0h1v1h-1m-700 -2h1v4h-1m448 -3h1v3h-1m80 -6h2v6h-2m185 -3h4v3h-4m13 -3h1v3h-1m-727 0h2v2h-2m443 -2h1v3h-1m86 -3h1v3h-1m149 -6h1v6h-1m22 -3h1v3h-1m10 -3h1v3h-1m8 -3h1v3h-1m-717 -1h1v4h-1m449 -3h1v3h-1m233 -3h1v3h-1m9 -3h1v3h-1m27 -3h1v3h-1m5 -3h2v3h-2m-281 0h1v3h-1m6 -3h1v3h-1m6 -3h1v3h-1m242 -6h2v6h-2m29 -3h1v3h-1m-310 0h6v3h-6m114 -9h1v9h-1m144 -3h2v3h-2m33 -3h1v3h-1m7 -3h2v3h-2m6 -6h2v6h-2m-43 0h1v1h-1m50 -1h1v2h-1m-297 -2h1v3h-1m13 -3h1v3h-1m260 -3h2v3h-2m15 -3h1v3h-1m-719 -3h1v4h-1m706 -1h1v1h-1m4 -1h1v1h-1m-269 1h1v1h-1m89 -3h2v3h-2m185 -3h1v3h-1m-273 6h1v3h-1m16 -3h1v3h-1m109 -3h1v3h-1m15 -3h1v3h-1m52 -3h1v3h-1m2 -3h5v3h-5m-209 0h1v3h-1m13 -3h1v3h-1m6 -6h1v6h-1m43 -3h1v3h-1m5 -3h1v3h-1m86 -3h1v3h-1m3 -3h1v3h-1m18 -3h1v3h-1m3 -3h2v3h-2m4 -3h2v3h-2m14 -3h3v3h-3m13 -3h3v3h-3m-213 0h1v3h-1m6 -3h1v3h-1m147 -3h1v3h-1m31 -3h4v3h-4m16 -3h1v3h-1m7 -9h1v9h-1m5 -3h2v3h-2m4 -3h2v3h-2m-197 -3h1v6h-1m6 -3h1v3h-1m13 -3h1v3h-1m29 -3h1v3h-1m78 -3h1v3h-1m36 -6h1v6h-1m19 -3h8v3h-8m12 -3h1v3h-1m7 -6h2v6h-2m-205 -3h1v6h-1m3 -6h1v6h-1m55 -3h1v3h-1m7 -3h1v3h-1m74 -3h1v3h-1m8 -3h1v3h-1m39 -3h1v3h-1m13 -3h1v3h-1m-213 0h1v1h-1m25 -1h1v2h-1m-30 -1h6v2h-6m25 -3h1v3h-1m159 -3h1v3h-1m9 -3h1v3h-1m15 -6h2v6h-2m9 -3h1v3h-1m6 -3h1v3h-1m-197 0h1v1h-1m-26 -1h5v2h-5m9 -2h1v3h-1m4 -3h1v3h-1m29 -3h1v3h-1m110 -3h1v3h-1m12 -3h2v3h-2m41 -3h8v3h-8m12 -3h6v3h-6m-198 0h1v3h-1m52 -3h1v3h-1m7 -3h1v3h-1m90 -3h1v3h-1m19 -3h2v3h-2m21 -3h2v3h-2m11 -3h7v3h-7m15 -2h1v2h-1m-215 0h3v1h-3m147 -1h1v1h-1m-9 -1h1v2h-1m-146 -2h2v3h-2m8 -2h1v2h-1m2 -2h1v2h-1m11 -2h1v2h-1m7 -3h1v3h-1m112 -3h1v3h-1m12 -3h1v3h-1m3 -2h2v2h-2m18 -3h1v3h-1m2 -3h1v3h-1m3 -3h2v3h-2m28 -3h4v3h-4m7 -3h2v3h-2m9 -3h1v3h-1m-221 0h1v3h-1m26 -3h1v3h-1m33 -3h3v3h-3m10 -3h1v3h-1m76 -3h1v3h-1m53 -3h2v3h-2m11 -3h2v3h-2m-202 0h1v2h-1m-5 -5h1v6h-1m5 -1h2v1h-2m10 -3h1v3h-1m37 -3h1v3h-1m18 -3h1v3h-1m100 -3h2v3h-2m5 -3h2v3h-2m23 -3h1v3h-1m5 -6h1v6h-1m6 -3h1v3h-1m-150 0h1v2h-1m-493 -2h1v3h-1m439 -3h1v3h-1m63 -3h1v3h-1m75 -3h2v3h-2m10 -3h1v3h-1m2 -2h1v2h-1m15 -3h1v3h-1m33 -3h2v3h-2m17 -3h1v3h-1m-666 0h2v3h-2m432 -3h5v3h-5m24 -6h1v6h-1m5 -3h2v3h-2m3 -6h1v6h-1m6 -6h1v6h-1m42 -6h1v6h-1m85 -3h1v3h-1m21 -6h1v6h-1m3 -3h2v3h-2m4 -3h1v3h-1m25 -3h3v3h-3m-218 0h6v1h-6m288 -14h1v14h-1m-699 0h2v2h-2m18 -2h2v2h-2m398 -2h1v2h-1m6 -3h1v3h-1m10 -3h1v3h-1m4 -3h1v3h-1m15 -3h1v3h-1m32 -6h1v6h-1m12 -6h1v6h-1m67 -12h1v12h-1m33 -3h1v3h-1m22 -6h2v6h-2m4 -9h2v9h-2m-172 0h1v1h-1m-447 -1h2v3h-2m16 -3h1v3h-1m399 -2h1v2h-1m8 -6h1v6h-1m9 -3h1v3h-1m7 -3h1v3h-1m8 -1h1v1h-1m112 -3h1v3h-1m19 -3h1v3h-1m36 -3h3v3h-3m82 -5h2v5h-2m3 -15h1v15h-1m-278 -3h1v4h-1m140 -1h1v2h-1m-576 -2h2v3h-2m21 -3h2v3h-2m412 -6h1v6h-1m68 -3h1v3h-1m90 -6h1v6h-1m41 -3h2v3h-2m10 -3h3v3h-3m5 -6h1v6h-1m-142 0h1v1h-1m-7 -1h1v2h-1m-485 -2h4v3h-4m424 -3h2v3h-2m13 -3h2v3h-2m41 -3h1v3h-1m91 -3h1v3h-1m11 -3h1v3h-1m15 -3h1v3h-1m3 -3h2v3h-2m32 -3h2v3h-2m4 -3h3v3h-3m11 -3h1v3h-1m-210 0h1v1h-1m41 -1h2v1h-2m85 -1h3v2h-3m-575 -2h1v3h-1m20 -3h6v3h-6m14 -3h2v3h-2m401 -3h1v3h-1m28 -3h1v3h-1m4 -3h2v3h-2m23 -1h1v1h-1m86 -1h2v1h-2m7 -2h1v2h-1m8 -1h1v1h-1m20 -3h8v3h-8m22 -3h4v3h-4m16 -3h2v3h-2m35 -3h1v3h-1m-668 -3h2v6h-2m4 -3h2v3h-2m12 -3h1v3h-1m405 -3h1v3h-1m20 -3h1v3h-1m9 -3h1v3h-1m27 -3h1v3h-1m10 -3h1v3h-1m73 -3h1v3h-1m35 -3h3v3h-3m20 -3h4v3h-4m12 -3h1v3h-1m5 -3h3v3h-3m-635 0h3v3h-3m412 -4h5v4h-5m9 -3h1v3h-1m16 -3h1v3h-1m16 -1h1v1h-1m24 -3h1v3h-1m19 -1h1v1h-1m59 -3h1v3h-1m9 -3h1v3h-1m13 -3h1v3h-1m21 -3h7v3h-7m26 -3h1v3h-1m-61 0h1v1h-1m12 -1h2v1h-2m-575 -1h1v3h-1m19 -3h1v3h-1m404 -3h1v3h-1m27 -3h1v3h-1m36 -3h1v3h-1m55 -2h1v2h-1m35 -2h1v2h-1m22 -3h1v3h-1m7 -3h1v3h-1m25 -3h1v3h-1m3 -3h5v3h-5m12 -3h1v3h-1m-214 0h1v2h-1m9 -2h2v2h-2m-452 -2h2v3h-2m11 -3h1v3h-1m10 -3h2v3h-2m12 -3h2v3h-2m396 -3h1v3h-1m18 -3h1v3h-1m20 -3h1v3h-1m28 -3h1v3h-1m95 -3h1v3h-1m18 -3h5v3h-5m7 -3h3v3h-3m15 -3h4v3h-4m13 -3h2v3h-2m4 -3h1v3h-1m8 -3h1v3h-1m13 -6h1v6h-1m15 -3h1v3h-1m28 -21h4v22h-4m-278 -1h2v2h-2m57 -2h1v2h-1m221 -1h1v1h-1m-698 -2h2v3h-2m6 -3h2v3h-2m411 -3h1v3h-1m22 -4h1v4h-1m4 -2h1v2h-1m5 -3h1v3h-1m126 -3h1v3h-1m42 -3h1v3h-1m3 -3h2v3h-2m10 -3h3v3h-3m6 -3h2v3h-2m35 -3h2v3h-2m-110 0h1v2h-1m140 -4h2v4h-2m-279 -3h1v4h-1m14 -3h1v3h-1m16 -6h1v6h-1m28 -3h1v3h-1m11 -3h2v3h-2m117 -3h1v3h-1m32 -3h1v3h-1m6 -3h1v3h-1m-635 -3h2v6h-2m407 -3h1v3h-1m8 -3h1v3h-1m23 -3h1v3h-1m7 -3h1v3h-1m22 -3h2v3h-2m17 -3h1v3h-1m75 -3h1v3h-1m10 -3h1v3h-1m16 -6h1v6h-1m2 -6h1v6h-1m8 -3h1v3h-1m29 -3h1v3h-1m11 -1h1v1h-1m10 -3h1v3h-1m-668 -3h2v6h-2m11 -3h1v3h-1m21 -3h1v3h-1m392 -2h5v2h-5m12 -3h1v3h-1m59 -3h1v3h-1m8 -3h1v3h-1m5 -3h1v3h-1m66 -3h2v3h-2m19 -3h1v3h-1m24 -3h1v3h-1m26 -9h2v9h-2m9 -3h1v3h-1m-228 0h6v1h-6m194 -1h1v1h-1m-194 0h5v1h-5m30 -1h1v1h-1m100 -2h1v2h-1m64 -1h2v1h-2m-620 -2h2v3h-2m17 -3h2v3h-2m6 -3h2v3h-2m10 -3h2v3h-2m413 -3h1v3h-1m10 -1h2v1h-2m99 -1h2v1h-2m35 -6h1v6h-1m4 -3h1v3h-1m17 -6h2v6h-2m6 -3h2v3h-2m8 -3h1v3h-1m7 -3h2v3h-2m6 -3h1v3h-1m6 -3h1v3h-1m26 -3h1v3h-1m41 -13h3v14h-3m-715 -1h2v3h-2m440 -3h2v3h-2m8 -3h1v3h-1m4 -3h1v3h-1m121 -3h1v3h-1m44 -3h2v3h-2m18 -3h1v3h-1m3 -3h4v3h-4m10 -3h3v3h-3m6 -3h2v3h-2m9 -3h1v3h-1m18 -3h1v3h-1m-87 0h1v1h-1m125 -14h1v15h-1m-710 -2h1v3h-1m10 -3h2v3h-2m8 -3h2v3h-2m412 -2h1v2h-1m22 -3h1v3h-1m48 -3h1v3h-1m5 -3h1v3h-1m46 -1h1v1h-1m61 -3h3v3h-3m17 -3h5v3h-5m9 -3h1v3h-1m4 -3h3v3h-3m11 -3h1v3h-1m12 -3h1v3h-1m-216 0h1v1h-1m37 -1h1v1h-1m7 -1h1v1h-1m85 -1h1v1h-1m76 -1h1v1h-1m-209 -1h1v2h-1m3 -1h2v1h-2m-432 -2h2v3h-2m433 -1h1v1h-1m44 -1h1v1h-1m8 -3h1v3h-1m83 -3h3v3h-3m21 -3h1v3h-1m9 -3h2v3h-2m26 -3h2v3h-2m5 -3h2v3h-2m-654 0h2v3h-2m18 -3h1v3h-1m11 -3h2v3h-2m414 -3h1v3h-1m14 -3h1v3h-1m12 -2h1v2h-1m5 -3h1v3h-1m100 -3h1v3h-1m22 -3h1v3h-1m21 -3h2v3h-2m4 -3h4v3h-4m15 -3h2v3h-2m6 -3h1v3h-1m11 -3h3v3h-3m9 -3h1v3h-1m53 -11h2v11h-2m-713 23h1v6h-1m15 -6h1v6h-1m8 -6h1v6h-1m3 -6h1v6h-1m10 -6h3v6h-3m435 -6h1v6h-1m2 -6h3v6h-3m10 -6h1v6h-1m2 -6h1v6h-1m8 -6h2v6h-2m32 -6h1v6h-1m8 -6h1v6h-1m59 -6h1v6h-1m2 -6h1v6h-1m13 -6h2v6h-2m12 -6h3v6h-3m9 -6h1v6h-1m4 -6h1v6h-1m2 -6h5v6h-5m15 -6h2v6h-2m6 -6h1v6h-1m4 -6h1v6h-1m10 -6h1v6h-1m2 -6h2v6h-2m16 -6h2v6h-2m-220 -6h3v17h-3m6 -11h2v11h-2m8 -11h4v11h-4m6 -17h1v17h-1m26 -11h2v11h-2m6 -11h1v11h-1m3 -11h1v11h-1m4 -11h3v11h-3m5 -11h4v11h-4m5 -11h3v11h-3m5 -11h2v11h-2m63 -11h1v11h-1m26 -11h1v11h-1m16 -11h1v11h-1m21 -11h1v11h-1m8 -11h2v11h-2m7 -11h1v11h-1m3 -11h2v11h-2m8 -11h1v11h-1m77 -11h1v11h-1m4 -11h1v11h-1m9 -11h1v11h-1"/>
<path fill="#00ffb1" d="M0 0m567 53h1v1h-1m22 -2h1v2h-1m69 -2h2v2h-2m-85 2h1v1h-1m28 -3h1v3h-1m5 -1h1v1h-1m46 -3h2v3h-2m73 -1h2v1h-2m-142 0h1v2h-1m104 -2h1v2h-1m24 -1h1v1h-1m-129 0h2v1h-2m11 -3h2v3h-2m54 -1h1v1h-1m7 -3h1v3h-1m9 -3h2v3h-2m3 -6h2v6h-2m15 -3h1v3h-1m6 -1h2v1h-2m38 -3h1v3h-1m4 -2h1v2h-1m-36 0h1v1h-1m24 -1h1v1h-1m-145 -1h1v3h-1m5 -3h2v3h-2m14 -3h2v3h-2m59 -3h1v3h-1m10 -3h1v3h-1m11 -3h2v3h-2m6 -3h3v3h-3m15 -2h2v2h-2m18 -4h2v4h-2m7 -2h2v2h-2m10 -3h1v3h-1m9 -3h1v3h-1m-167 0h1v3h-1m5 -3h1v3h-1m5 -3h2v3h-2m7 -3h2v3h-2m3 -3h6v3h-6m7 -3h2v3h-2m4 -3h1v3h-1m3 -3h5v3h-5m72 -3h2v3h-2m7 -3h1v3h-1m9 -1h1v1h-1m26 -2h1v2h-1m3 -3h1v3h-1m15 -3h1v3h-1m-37 0h1v1h-1m-112 -1h1v3h-1m9 -3h2v3h-2m4 -3h1v3h-1m109 -3h1v3h-1m2 -2h2v2h-2m-12 0h1v2h-1m-132 -2h1v3h-1m7 -3h1v3h-1m6 -3h2v3h-2m6 -3h1v3h-1m3 -3h3v3h-3m12 -3h2v3h-2m66 -9h2v9h-2m15 -3h1v3h-1m16 -1h2v1h-2m4 -4h1v4h-1m4 -3h3v3h-3m4 -2h1v2h-1m8 -3h1v3h-1m16 -3h1v3h-1m-166 0h1v3h-1m7 -3h1v3h-1m18 -3h4v3h-4m100 -3h1v3h-1m20 -3h2v3h-2m4 -3h1v3h-1m19 -3h2v3h-2m-21 0h2v1h-2m-148 -1h1v3h-1m4 -3h2v3h-2m3 -3h1v3h-1m15 -3h1v3h-1m3 -3h2v3h-2m14 -3h1v3h-1m79 -3h2v3h-2m22 -3h2v3h-2m8 -2h1v2h-1m-28 0h1v1h-1m3 -1h2v1h-2m-126 -1h1v3h-1m14 -6h2v6h-2m4 -3h1v3h-1m101 -1h1v1h-1m7 -2h1v2h-1m5 -6h1v6h-1m4 -3h3v3h-3m3 0h1v1h-1m-106 -4h1v6h-1m4 -3h3v3h-3m5 -6h1v6h-1m2 -3h1v3h-1m81 -1h1v1h-1m-123 0h1v1h-1m20 -1h4v2h-4m-12 -2h1v3h-1m8 -3h1v3h-1m4 -1h1v1h-1m3 -1h1v1h-1m10 -3h1v3h-1m4 -3h1v3h-1m85 -3h1v3h-1m-111 0h3v1h-3m15 -1h1v1h-1m12 -1h1v2h-1m-26 -1h2v2h-2m8 -3h2v3h-2m4 -3h1v3h-1m99 -3h4v3h-4m-86 0h1v1h-1m-29 -1h1v2h-1m2 -2h2v2h-2m16 -2h1v2h-1m101 -2h1v2h-1m-110 -2h1v3h-1m14 -3h2v3h-2m92 -3h1v3h-1m-102 0h1v1h-1m92 -1h2v2h-2m4 -2h1v2h-1m-106 -3h1v4h-1m3 -3h1v3h-1m4 -3h1v3h-1m2 -2h2v2h-2m9 -3h2v3h-2m3 -3h2v3h-2m81 0h1v2h-1m-100 -2h2v3h-2m9 -3h2v3h-2m12 -3h1v3h-1m8 0h1v3h-1m-25 0h3v2h-3m0 0h1v1h-1m2 -1h1v1h-1m14 -3h1v3h-1m-11 0h2v3h-2m5 -6h2v6h-2m9 -3h1v3h-1m-5 6h1v1h-1m-8 -1h1v3h-1m11 0h1v3h-1m-12 0h1v3h-1m210 15h1v3h-1m0 3h1v3h-1m0 9h1v3h-1m2 1h1v2h-1m3 -1h2v1h-2m3 3h1v1h-1m0 0h2v2h-2m-713 -10h2v12h-2m690 -2h2v2h-2m1 0h1v1h-1m-22 1h1v2h-1m23 -3h2v3h-2m16 -3h1v3h-1m4 -3h1v3h-1m-50 0h1v1h-1m21 0h1v1h-1m-62 0h2v1h-2m43 -3h1v3h-1m23 -3h1v3h-1m12 -3h1v3h-1m-75 0h1v1h-1m-1 0h2v2h-2m14 -1h1v1h-1m14 -3h2v3h-2m4 -3h1v3h-1m16 -3h2v3h-2m23 -3h1v3h-1m2 -3h2v3h-2m-22 0h1v1h-1m-53 -1h2v2h-2m13 -2h1v2h-1m39 -1h2v1h-2m-39 0h2v1h-2m26 -3h2v3h-2m4 -2h1v2h-1m12 -3h1v3h-1m19 -3h1v3h-1m5 -3h2v3h-2m13 -3h1v3h-1m-46 0h1v2h-1m-36 -2h2v3h-2m31 -3h2v3h-2m-48 0h1v3h-1m33 -3h1v3h-1m12 -3h1v3h-1m5 -3h4v3h-4m9 -3h3v3h-3m4 -2h1v2h-1m10 -3h1v3h-1m-23 0h1v1h-1m-35 -1h2v3h-2m5 -3h3v3h-3m28 -3h1v3h-1m2 -2h3v2h-3m16 -3h1v3h-1m12 -6h2v6h-2m3 -6h3v6h-3m5 -3h2v3h-2m10 -3h1v3h-1m3 -3h2v3h-2m-47 0h1v3h-1m3 -3h2v3h-2m20 -3h1v3h-1m2 -3h1v3h-1m5 -3h2v3h-2m-62 0h2v1h-2m-608 -14h2v16h-2m603 -2h2v2h-2m39 -3h1v3h-1m3 -3h2v3h-2m8 -3h1v3h-1m11 -3h2v3h-2m18 -3h1v3h-1m-96 0h1v1h-1m22 -1h2v1h-2m11 -1h3v1h-3m-10 0h1v1h-1m22 -1h1v2h-1m10 -1h1v1h-1m12 -3h2v3h-2m20 -3h1v3h-1m14 -3h1v3h-1m-42 0h2v1h-2m-23 -1h1v2h-1m2 -2h1v2h-1m-2 0h3v1h-3m10 -2h1v2h-1m2 -1h1v1h-1m9 -3h1v3h-1m8 -3h1v3h-1m8 -3h2v3h-2m10 -9h1v9h-1m5 -3h2v3h-2m9 -6h1v6h-1m4 -3h2v3h-2m-711 -17h1v18h-1m625 -1h1v1h-1m-92 0h1v2h-1m121 -3h2v3h-2m5 -3h1v3h-1m6 -3h1v3h-1m11 -3h1v3h-1m6 -3h1v3h-1m6 -3h2v3h-2m5 -3h3v3h-3m-44 0h2v3h-2m7 -3h1v3h-1m5 -3h1v3h-1m5 -3h1v3h-1m26 -3h1v3h-1m14 -3h1v3h-1m-55 0h3v3h-3m20 -6h2v6h-2m10 -3h2v3h-2m7 -3h2v3h-2m23 -3h2v3h-2m-688 0h1v1h-1m-1 0h2v1h-2m0 0h1v1h-1m487 -2h3v2h-3m151 -3h2v3h-2m37 -3h1v3h-1m10 -6h1v6h-1m-277 0h6v3h-6m83 -3h3v3h-3m135 -3h1v3h-1m3 -3h3v3h-3m16 -3h1v3h-1m12 -3h2v3h-2m4 -3h2v3h-2m26 -3h2v3h-2m-687 -1h1v2h-1m490 -1h4v3h-4m21 -1h1v1h-1m124 -3h1v3h-1m3 -3h3v3h-3m11 -3h2v3h-2m5 -3h1v3h-1m10 -3h2v3h-2m23 -3h1v3h-1m-687 0h1v2h-1m511 -2h2v3h-2m121 -3h2v3h-2m13 -6h2v6h-2m7 -3h1v3h-1m3 -3h2v3h-2m4 -3h1v3h-1m12 -3h1v3h-1m-45 0h1v3h-1m11 -3h3v3h-3m31 -6h2v6h-2m6 -3h1v3h-1m11 -3h1v3h-1m-174 0h2v3h-2m10 -6h1v6h-1m106 -3h2v3h-2m30 -3h2v3h-2m18 -3h1v3h-1m9 -3h1v3h-1m2 -3h1v3h-1m-688 1h1v1h-1m0 0h2v1h-2m410 -3h6v3h-6m27 -9h1v9h-1m6 -3h1v3h-1m70 -3h1v3h-1m115 -3h3v3h-3m6 -6h2v6h-2m23 -3h2v3h-2m-656 0h1v2h-1m442 -2h2v3h-2m193 -3h1v3h-1m7 -3h4v3h-4m25 -3h2v3h-2m22 -3h1v3h-1m-48 0h1v1h-1m-128 -4h1v6h-1m10 -9h1v9h-1m105 -6h2v6h-2m8 -3h1v3h-1m16 -3h1v3h-1m2 -3h1v3h-1m4 -3h2v3h-2m8 -3h1v3h-1m22 -3h1v3h-1m7 -3h1v3h-1m18 -2h1v2h-1m-48 0h1v2h-1m-35 -2h2v3h-2m3 -3h2v3h-2m22 -3h1v3h-1m2 -3h1v3h-1m8 -1h2v1h-2m7 -3h1v3h-1m-236 -3h1v6h-1m7 -3h1v3h-1m70 -3h1v3h-1m10 -3h1v3h-1m105 -3h2v3h-2m4 -3h1v3h-1m12 -3h2v3h-2m23 -3h2v3h-2m25 -3h1v3h-1m20 -3h1v3h-1m10 -2h1v2h-1m-32 0h2v1h-2m-691 -3h1v4h-1m410 -2h6v3h-6m264 -3h3v3h-3m41 -3h1v3h-1m-716 -1h1v2h-1m-1 0h1v2h-1m436 -5h1v5h-1m10 -3h1v3h-1m80 -3h1v3h-1m104 -6h1v6h-1m5 -3h1v3h-1m39 -3h1v3h-1m15 -6h1v6h-1m6 -3h1v3h-1m28 -3h1v3h-1m-278 0h1v3h-1m71 -3h1v3h-1m115 -3h2v3h-2m5 -3h1v3h-1m52 -3h2v3h-2m38 -3h2v3h-2m-725 -3h1v4h-1m438 -1h1v3h-1m191 -3h6v3h-6m67 -3h1v3h-1m23 -3h2v3h-2m6 -3h1v3h-1m0 0h2v2h-2m-52 -2h1v3h-1m14 -3h1v3h-1m7 -3h2v3h-2m31 -1h1v1h-1m-726 -1h1v2h-1m-1 0h1v2h-1m413 -3h6v3h-6m25 -3h2v3h-2m9 -3h1v3h-1m187 -3h3v3h-3m39 -3h2v3h-2m4 -3h2v3h-2m21 -3h1v3h-1m15 -6h2v6h-2m12 -3h1v3h-1m-724 0h1v2h-1m437 -2h3v3h-3m192 -3h1v3h-1m6 -3h1v3h-1m58 -3h2v3h-2m5 -3h1v3h-1m-698 1h1v1h-1m436 -2h1v3h-1m195 -3h5v3h-5m81 -3h1v3h-1m-713 0h1v1h-1m440 -1h1v3h-1m87 -3h1v3h-1m104 -3h1v3h-1m48 -3h1v3h-1m34 -3h2v3h-2m-713 -1h1v4h-1m631 -3h3v3h-3m5 -6h1v6h-1m60 -3h1v3h-1m2 -3h2v3h-2m14 -3h1v3h-1m3 -3h4v3h-4m6 -3h3v3h-3m-308 0h6v3h-6m24 -3h1v3h-1m239 -3h1v3h-1m22 -3h1v3h-1m13 -3h2v3h-2m4 -3h1v3h-1m-83 0h4v3h-4m43 -3h1v3h-1m14 -6h1v6h-1m30 -3h2v3h-2m-279 -3h1v4h-1m192 -1h2v3h-2m45 -3h2v3h-2m47 -3h1v3h-1m-725 -3h1v4h-1m695 -1h2v1h-2m-21 -1h2v3h-2m17 -3h1v3h-1m3 -2h1v2h-1m5 -2h1v2h-1m18 -3h1v3h-1m5 -3h2v3h-2m-284 -3h1v6h-1m10 -3h1v3h-1m185 -3h4v3h-4m47 -3h1v3h-1m23 -3h1v3h-1m8 -3h5v3h-5m-711 -1h1v3h-1m414 -2h6v3h-6m24 -3h3v3h-3m9 -3h1v3h-1m190 -3h1v3h-1m41 -3h2v3h-2m19 -6h1v6h-1m3 -3h1v3h-1m9 -3h1v3h-1m-711 0h1v2h-1m637 -2h3v3h-3m42 -3h1v3h-1m3 -3h1v3h-1m11 -3h1v3h-1m10 -3h1v3h-1m11 -3h1v3h-1m13 -3h1v3h-1m-728 -1h3v2h-3m520 1h2v1h-2m10 -3h1v3h-1m163 -3h1v3h-1m8 -3h1v3h-1m-181 0h1v3h-1m160 -3h1v3h-1m20 -3h1v3h-1m8 -3h1v3h-1m-707 -3h2v4h-2m440 -4h1v5h-1m262 -2h1v2h-1m-703 -1h1v2h-1m444 -3h1v3h-1m192 -6h2v6h-2m62 -3h2v3h-2m3 -3h1v3h-1m-100 6h1v3h-1m2 -3h5v3h-5m7 -3h1v3h-1m-35 0h1v3h-1m28 -3h1v3h-1m3 -3h2v3h-2m-189 -2h5v4h-5m6 -2h1v3h-1m13 -3h1v3h-1m21 -3h1v3h-1m145 -3h1v3h-1m-143 0h1v3h-1m36 -6h1v6h-1m109 -3h2v3h-2m6 -3h1v3h-1m-188 0h1v3h-1m15 -3h1v3h-1m54 -3h1v3h-1m110 -3h1v3h-1m7 -3h3v3h-3m-181 0h1v3h-1m63 -3h1v3h-1m85 -3h1v3h-1m28 -3h7v3h-7m-166 0h1v3h-1m6 -2h1v2h-1m167 -3h1v3h-1m-119 0h1v2h-1m89 -2h1v3h-1m21 -6h3v6h-3m5 -6h2v6h-2m-31 0h1v1h-1m-158 -1h5v3h-5m20 -2h1v2h-1m21 -3h1v3h-1m37 -3h1v3h-1m79 -1h1v1h-1m8 -3h1v3h-1m20 -3h1v3h-1m2 -3h2v3h-2m4 -3h3v3h-3m-191 0h6v1h-6m158 -1h1v1h-1m139 -28h2v28h-2m-288 -4h1v6h-1m4 -3h1v3h-1m11 -3h2v3h-2m16 -3h1v3h-1m124 -3h1v3h-1m20 -3h2v3h-2m3 -3h6v3h-6m104 -30h3v31h-3m-286 -1h2v2h-2m18 -2h1v3h-1m14 -3h1v3h-1m4 -3h1v3h-1m33 -3h1v3h-1m113 -3h2v3h-2m4 -3h3v3h-3m-186 -1h1v3h-1m34 -2h2v3h-2m34 -1h1v1h-1m114 -3h4v3h-4m-178 0h1v3h-1m2 -3h1v3h-1m10 -3h1v3h-1m5 -3h1v3h-1m11 -3h1v3h-1m150 -3h2v3h-2m-596 1h2v2h-2m6 -2h2v2h-2m416 -3h1v3h-1m10 -3h1v3h-1m20 -3h1v3h-1m142 -6h1v6h-1m4 -3h5v3h-5m-115 0h1v1h-1m217 -12h2v12h-2m6 -15h1v15h-1m-273 -1h1v2h-1m14 -1h1v1h-1m3 -2h1v3h-1m30 -3h2v3h-2m10 -3h1v3h-1m68 -3h1v3h-1m35 -3h3v3h-3m-595 -3h2v6h-2m6 -3h2v3h-2m405 -4h5v4h-5m10 -3h1v3h-1m2 -2h1v2h-1m31 -3h1v3h-1m28 -3h1v3h-1m2 -3h1v3h-1m7 -3h1v3h-1m4 -3h1v3h-1m68 -1h1v1h-1m37 -3h4v3h-4m-582 0h2v3h-2m418 -6h1v6h-1m12 -3h1v3h-1m5 -3h2v3h-2m32 -1h1v1h-1m7 -2h1v2h-1m2 -3h1v3h-1m103 -6h1v6h-1m5 -3h3v3h-3m-168 0h1v1h-1m61 -1h1v1h-1m-19 0h2v1h-2m101 -2h1v2h-1m-579 -5h1v6h-1m2 -3h2v3h-2m420 -3h1v3h-1m11 -3h2v3h-2m3 -2h2v2h-2m6 -3h1v3h-1m3 -3h1v3h-1m34 -1h1v1h-1m84 -1h1v1h-1m35 -3h1v3h-1m-175 0h1v3h-1m55 -3h1v3h-1m17 -3h1v3h-1m87 -3h1v3h-1m15 -3h1v3h-1m5 -3h2v3h-2m102 -14h1v15h-1m-704 -1h1v3h-1m440 -3h1v3h-1m44 -6h1v6h-1m7 -3h1v3h-1m73 -3h1v3h-1m12 -3h1v3h-1m-568 0h4v3h-4m428 -3h1v3h-1m6 -3h1v3h-1m10 -12h1v12h-1m112 -2h1v2h-1m12 -2h1v2h-1m4 -3h1v3h-1m17 -3h1v3h-1m3 -3h2v3h-2m4 -3h2v3h-2m-167 0h1v2h-1m58 -2h1v2h-1m-491 -5h2v6h-2m4 -3h2v3h-2m12 -3h1v3h-1m406 -6h1v6h-1m6 -1h1v1h-1m2 -3h2v3h-2m8 -1h1v1h-1m8 -3h1v3h-1m35 -3h1v3h-1m79 -3h2v3h-2m-151 -2h5v4h-5m-412 -2h1v3h-1m20 -3h1v3h-1m401 -1h1v1h-1m34 -3h1v3h-1m23 -1h1v1h-1m83 -3h1v3h-1m44 -3h1v3h-1m-604 0h2v3h-2m6 -3h2v3h-2m411 -3h1v3h-1m23 -3h1v3h-1m9 -3h1v3h-1m3 -1h1v1h-1m37 -3h1v3h-1m71 -1h1v1h-1m2 -3h1v3h-1m-72 0h1v2h-1m-491 -2h3v3h-3m9 -3h2v3h-2m426 -3h1v3h-1m17 -3h1v3h-1m44 -3h1v3h-1m82 -3h1v3h-1m19 -6h1v6h-1m4 -3h2v3h-2m4 -3h1v3h-1m-596 0h4v3h-4m10 -3h1v3h-1m413 -3h1v3h-1m5 -3h1v3h-1m2 -3h1v3h-1m16 -3h1v3h-1m25 -3h1v3h-1m13 -3h1v3h-1m68 -3h1v3h-1m3 -3h1v3h-1m6 -3h1v3h-1m29 -3h4v3h-4m46 -3h1v3h-1m-646 0h2v3h-2m8 -3h2v3h-2m416 -3h1v3h-1m63 -3h1v3h-1m10 -3h1v3h-1m103 -3h2v3h-2m101 -14h1v15h-1m-701 -1h1v3h-1m12 -3h2v3h-2m427 -3h1v3h-1m131 -3h1v3h-1m27 -3h2v3h-2m7 -3h3v3h-3m96 -2h2v4h-2m3 -15h1v15h-1m-702 -2h1v3h-1m7 -3h2v3h-2m415 -3h1v3h-1m11 -3h1v3h-1m4 -3h1v3h-1m14 -3h2v3h-2m27 -3h1v3h-1m12 -3h1v3h-1m86 -2h1v2h-1m20 -3h1v3h-1m5 -3h2v3h-2m-189 -3h5v4h-5m72 0h1v1h-1m-475 -2h2v3h-2m10 -3h1v3h-1m407 -3h1v3h-1m10 -1h1v1h-1m18 -3h1v3h-1m40 -3h1v3h-1m70 -6h1v6h-1m5 -2h1v2h-1m29 -6h1v6h-1m3 -3h4v3h-4m44 -2h1v2h-1m-644 0h2v3h-2m6 -3h2v3h-2m13 -3h1v3h-1m404 -3h1v3h-1m19 -3h1v3h-1m6 -3h1v3h-1m35 -3h1v3h-1m9 -3h1v3h-1m3 -3h1v3h-1m67 -3h1v3h-1m33 -3h1v3h-1m5 -3h2v3h-2m98 -7h4v7h-4m-719 23h1v6h-1m5 -6h1v6h-1m2 -6h4v6h-4m6 -6h4v6h-4m7 -6h1v6h-1m3 -6h4v6h-4m5 -6h1v6h-1m457 -6h2v6h-2m3 -6h1v6h-1m7 -6h1v6h-1m-462 0h2v11h-2m441 -17h1v17h-1m21 -11h2v11h-2m34 -11h1v11h-1m64 -11h2v11h-2m6 -11h6v11h-6m7 -11h2v11h-2m4 -11h1v11h-1m4 -11h1v11h-1m3 -11h6v11h-6m9 -11h1v11h-1m3 -11h3v11h-3m4 -11h1v11h-1m10 -11h7v11h-7m8 -11h2v11h-2m4 -11h1v11h-1m2 -11h2v11h-2m3 -11h3v11h-3m7 -11h2v11h-2m5 -11h1v11h-1m9 -11h5v11h-5m6 -11h2v11h-2m6 -11h4v11h-4m5 -11h3v11h-3m69 -11h1v11h-1m3 -11h4v11h-4m5 -11h3v11h-3m4 -11h4v11h-4m6 -11h2v11h-2m3 -11h1v11h-1m2 -11h3v11h-3m5 -11h3v11h-3"/>
<path fill="#00ff93" d="M0 0m572 52h1v2h-1m18 -1h1v1h-1m-26 2h1v1h-1m4 -3h2v3h-2m97 -3h1v3h-1m14 -3h1v3h-1m-106 0h4v3h-4m22 -3h1v3h-1m7 -2h1v2h-1m48 -3h1v3h-1m6 -3h2v3h-2m5 -6h2v6h-2m9 -3h3v3h-3m14 -3h2v3h-2m8 -3h1v3h-1m-113 0h3v3h-3m7 -3h3v3h-3m9 -3h3v3h-3m59 -3h1v3h-1m15 -3h1v3h-1m-96 0h1v3h-1m4 -3h2v3h-2m11 -3h1v3h-1m63 -6h1v6h-1m33 -3h2v3h-2m-117 0h1v3h-1m3 -6h2v6h-2m4 -3h1v3h-1m10 -3h2v3h-2m14 -3h1v3h-1m2 -3h5v3h-5m61 -3h2v3h-2m16 -3h3v3h-3m-115 0h1v3h-1m10 -3h1v3h-1m10 -3h2v3h-2m9 -6h2v6h-2m12 -3h2v3h-2m65 -3h2v3h-2m3 -3h4v3h-4m16 -3h2v3h-2m-103 0h2v3h-2m91 -3h2v3h-2m-2 0h2v2h-2m-105 -2h2v3h-2m4 -3h1v3h-1m9 -3h3v3h-3m9 -3h1v3h-1m6 -3h4v3h-4m5 -3h3v3h-3m73 -1h1v1h-1m5 -3h1v3h-1m-109 0h2v3h-2m4 -3h1v3h-1m5 -3h2v3h-2m3 -3h5v3h-5m16 -3h4v3h-4m5 -3h1v3h-1m83 0h2v1h-2m0 0h1v1h-1m-118 -2h2v3h-2m5 -3h1v3h-1m6 -3h3v3h-3m5 -3h1v3h-1m4 -3h1v3h-1m14 -3h1v3h-1m5 -3h1v3h-1m70 -1h2v1h-2m7 -1h3v1h-3m-94 0h1v3h-1m12 -3h2v3h-2m77 -3h1v3h-1m3 -3h1v3h-1m-103 0h2v3h-2m19 -6h2v6h-2m5 -3h1v3h-1m-14 0h1v3h-1m-5 0h1v1h-1m98 -1h1v2h-1m-92 -2h2v3h-2m102 -3h1v3h-1m-104 0h1v3h-1m1 3h1v3h-1m4 -6h2v6h-2m5 -6h2v6h-2m3 -3h1v3h-1m-11 3h1v3h-1m-1 6h1v3h-1m2 -3h2v3h-2m205 21h1v3h-1m0 3h1v3h-1m-2 3h2v6h-2m0 3h3v3h-3m-9 0h1v3h-1m4 -3h1v3h-1m2 -3h2v3h-2m-12 0h2v2h-2m-47 0h1v1h-1m2 -3h1v3h-1m45 -1h3v1h-3m11 -3h1v3h-1m-53 1h1v2h-1m3 -3h1v3h-1m46 -6h1v6h-1m14 -3h1v3h-1m-26 0h1v1h-1m-43 -1h2v3h-2m4 -3h3v3h-3m12 -3h1v3h-1m15 -1h1v1h-1m2 -2h1v2h-1m10 -1h1v1h-1m25 -2h1v2h-1m-83 0h1v2h-1m-4 -2h2v3h-2m4 -1h2v1h-2m9 -3h1v3h-1m6 -3h5v3h-5m13 -2h2v2h-2m9 -3h2v3h-2m22 -3h1v3h-1m-65 0h2v2h-2m28 -5h3v5h-3m19 -2h1v2h-1m-19 0h1v1h-1m4 -1h2v1h-2m4 -1h3v1h-3m8 -2h1v2h-1m2 -1h2v1h-2m8 -1h2v1h-2m36 -3h3v3h-3m-34 0h1v1h-1m-7 -1h5v2h-5m-40 -2h2v3h-2m17 -3h2v3h-2m3 -3h2v3h-2m19 -1h6v1h-6m8 -2h2v2h-2m8 -3h1v3h-1m4 -3h1v3h-1m5 -3h2v3h-2m7 -3h1v3h-1m13 -3h1v3h-1m-99 2h1v1h-1m23 -3h1v3h-1m19 -3h1v3h-1m14 -3h2v3h-2m7 -3h1v3h-1m3 -3h1v3h-1m6 -3h2v3h-2m5 -3h1v3h-1m18 -3h1v3h-1m8 -3h1v3h-1m-35 -3h1v5h-1m-28 -2h2v3h-2m6 -3h1v3h-1m4 -3h1v3h-1m4 -3h2v3h-2m6 -3h3v3h-3m4 -3h1v3h-1m4 -1h2v1h-2m6 -3h1v3h-1m-57 0h1v3h-1m17 -3h3v3h-3m6 -3h3v3h-3m5 -3h1v3h-1m2 -3h2v3h-2m8 -3h1v3h-1m3 -3h8v3h-8m19 -3h1v3h-1m5 -3h1v3h-1m3 -3h1v3h-1m-65 0h1v1h-1m0 0h3v2h-3m12 -3h2v3h-2m3 -3h2v3h-2m5 -3h2v3h-2m9 -3h3v3h-3m7 -3h2v3h-2m30 -3h1v3h-1m13 -3h1v3h-1m-56 0h3v1h-3m11 -4h1v5h-1m8 -5h3v5h-3m-61 -2h1v3h-1m42 -2h1v2h-1m9 -1h2v1h-2m6 -3h2v3h-2m3 -1h4v1h-4m36 -3h2v3h-2m-52 0h5v1h-5m-22 -1h1v2h-1m13 -2h1v2h-1m10 -1h4v1h-4m19 -2h1v2h-1m-25 -2h2v3h-2m3 -2h2v2h-2m5 -1h1v1h-1m4 -3h1v3h-1m13 -1h2v1h-2m-678 -34h2v35h-2m650 -1h3v3h-3m5 -3h1v3h-1m19 -3h2v3h-2m5 -3h2v3h-2m19 -3h1v3h-1m14 -3h3v3h-3m-177 0h1v1h-1m115 -1h1v3h-1m37 -3h5v3h-5m-661 -12h2v14h-2m642 -2h1v3h-1m31 -6h1v6h-1m16 -3h1v3h-1m-690 2h1v1h-1m482 -2h4v2h-4m8 -2h3v2h-3m136 -3h5v3h-5m26 -3h1v3h-1m11 -3h2v3h-2m3 -3h1v3h-1m9 -3h2v3h-2m10 -3h2v3h-2m-203 0h5v3h-5m144 -3h2v3h-2m5 -3h2v3h-2m8 -3h1v3h-1m26 -3h2v3h-2m5 -3h1v3h-1m-188 0h2v3h-2m4 -3h1v3h-1m138 -3h1v3h-1m34 -3h1v3h-1m11 -3h1v3h-1m4 -3h2v3h-2m12 -6h1v6h-1m3 -3h2v3h-2m-689 2h1v1h-1m636 -3h2v3h-2m8 -3h1v3h-1m16 -3h1v3h-1m24 -3h1v3h-1m-708 -20h3v23h-3m456 -3h3v3h-3m9 -3h1v3h-1m71 -3h1v3h-1m115 -6h4v6h-4m5 -3h2v3h-2m27 -3h2v3h-2m-227 0h1v3h-1m197 -3h2v3h-2m12 -3h2v3h-2m12 -3h1v3h-1m15 -3h2v3h-2m20 -3h1v3h-1m4 -3h1v3h-1m-249 0h1v3h-1m69 -3h1v3h-1m113 -6h1v6h-1m4 -3h3v3h-3m20 -3h2v3h-2m21 -3h1v3h-1m-159 0h1v3h-1m114 -3h2v3h-2m6 -3h1v3h-1m53 -3h1v3h-1m2 -3h2v3h-2m25 -1h1v1h-1m-712 1h1v1h-1m436 -2h1v3h-1m209 -3h3v3h-3m6 -3h1v3h-1m5 -3h2v3h-2m30 -3h2v3h-2m-22 0h1v2h-1m-151 -2h1v3h-1m115 -3h2v3h-2m16 -3h1v3h-1m29 -6h2v6h-2m4 -3h2v3h-2m15 -3h1v3h-1m19 -1h1v1h-1m-49 0h1v1h-1m-220 -1h1v3h-1m184 -3h2v3h-2m4 -3h2v3h-2m56 -6h1v6h-1m29 0h1v1h-1m-279 -1h1v3h-1m76 -3h2v3h-2m114 -3h1v3h-1m45 -9h1v9h-1m5 -3h1v3h-1m14 -2h2v2h-2m3 -3h2v3h-2m22 -2h2v2h-2m52 0h3v1h-3m-768 0h1v1h-1m435 -2h2v3h-2m8 -3h1v3h-1m191 -3h1v3h-1m88 -3h1v3h-1m44 0h1v2h-1m-329 -2h1v3h-1m7 -3h1v3h-1m69 -3h1v3h-1m114 -3h2v3h-2m4 -3h2v3h-2m39 -3h2v3h-2m23 -3h1v3h-1m30 -3h1v3h-1m-59 0h1v2h-1m-230 -5h1v6h-1m200 -3h1v3h-1m32 -6h2v6h-2m12 -3h2v3h-2m36 -3h4v3h-4m-201 0h1v2h-1m258 -4h2v4h-2m-327 -2h1v3h-1m183 -3h1v3h-1m2 -3h2v3h-2m85 -3h2v3h-2m6 -3h1v3h-1m-721 -1h1v2h-1m767 -2h1v2h-1m-768 0h2v2h-2m629 -3h2v3h-2m45 -3h1v3h-1m15 -6h1v6h-1m7 -3h1v3h-1m-695 0h1v2h-1m435 -5h1v6h-1m11 -3h1v3h-1m225 -3h2v3h-2m6 -3h1v3h-1m30 -3h1v3h-1m9 -3h1v3h-1m6 -3h2v3h-2m-723 -1h1v2h-1m771 -2h2v2h-2m-142 -1h2v2h-2m-629 0h1v1h-1m630 -1h1v1h-1m6 -6h1v6h-1m62 -3h1v3h-1m11 -3h1v3h-1m-710 1h1v1h-1m446 -2h1v3h-1m188 -3h2v3h-2m38 -3h1v3h-1m9 -3h2v3h-2m8 -3h2v3h-2m11 -3h2v3h-2m16 -3h1v3h-1m5 -6h2v6h-2m57 -5h1v6h-1m-777 0h1v1h-1m439 -2h1v3h-1m197 -3h1v3h-1m53 -3h1v3h-1m7 -3h1v3h-1m22 -3h2v3h-2m57 -2h2v2h-2m-776 0h1v2h-1m634 -2h3v3h-3m39 -3h2v3h-2m26 -3h3v3h-3m14 -3h2v3h-2m58 -1h1v2h-1m-333 -1h2v3h-2m260 -3h1v3h-1m13 -3h2v3h-2m4 -3h1v3h-1m6 -3h2v3h-2m4 -3h1v3h-1m50 -2h1v2h-1m3 0h1v2h-1m-147 -5h1v6h-1m3 -3h2v3h-2m3 -3h1v3h-1m53 -3h1v3h-1m4 -3h2v3h-2m2 0h2v1h-2m80 -2h2v2h-2m-140 -1h1v3h-1m43 -3h1v3h-1m15 -2h4v2h-4m25 -3h2v3h-2m57 -2h3v2h-3m-777 -2h1v4h-1m447 -2h1v3h-1m190 -3h2v3h-2m40 -3h1v3h-1m4 -1h1v1h-1m12 -3h1v3h-1m2 -3h2v3h-2m22 -3h1v3h-1m8 -3h2v3h-2m50 -1h2v2h-2m-775 1h1v1h-1m441 -3h1v3h-1m191 -6h1v6h-1m42 -3h2v3h-2m-675 0h1v2h-1m780 -2h1v2h-1m-341 -2h1v3h-1m10 -3h1v3h-1m234 -3h2v3h-2m8 -3h1v3h-1m9 -9h1v9h-1m17 -3h1v3h-1m6 -3h2v3h-2m-722 -1h1v2h-1m-1 0h1v2h-1m439 -3h4v3h-4m194 -6h3v6h-3m5 -3h1v3h-1m38 -3h1v3h-1m3 -3h2v3h-2m3 -3h1v3h-1m28 -1h1v1h-1m5 -3h2v3h-2m3 -3h1v3h-1m7 -3h1v3h-1m52 -2h1v2h-1m3 0h1v2h-1m-261 -2h1v3h-1m177 -3h2v3h-2m-695 -3h1v4h-1m-17 -76h3v77h-3m708 -5h1v5h-1m25 -2h1v2h-1m-732 0h3v1h-3m14 -2h1v2h-1m519 -3h2v3h-2m118 -3h2v3h-2m64 -3h1v3h-1m2 -3h2v3h-2m-96 6h2v3h-2m-6 -3h1v6h-1m-1 0h1v3h-1m3 -3h2v3h-2m6 -6h1v6h-1m-9 0h2v3h-2m5 -3h4v3h-4m-4 0h6v3h-6m0 0h1v3h-1m2 0h2v3h-2m4 -3h2v3h-2m-117 2h1v1h-1m117 -3h3v3h-3m-33 1h1v2h-1m141 -27h1v28h-1m-294 0h1v2h-1m153 -2h1v2h-1m35 -3h1v3h-1m101 -30h3v31h-3m4 -3h2v3h-2m-220 -1h1v3h-1m108 -6h1v6h-1m-180 -1h1v3h-1m31 -2h1v3h-1m148 -3h1v3h-1m6 -3h3v3h-3m-186 -1h2v4h-2m9 -3h1v3h-1m64 -3h1v3h-1m88 -12h1v12h-1m18 -3h1v3h-1m7 -3h2v3h-2m-117 0h1v1h-1m219 -9h4v10h-4m-706 -1h1v2h-1m433 -3h1v3h-1m21 -3h1v3h-1m145 -3h3v3h-3m-181 0h1v1h-1m68 -1h1v1h-1m4 -1h1v1h-1m216 -2h3v2h-3m5 -12h1v12h-1m-274 1h1v1h-1m53 -1h1v1h-1m81 -3h1v3h-1m29 -3h7v3h-7m-146 0h1v2h-1m-454 -2h1v3h-1m21 -3h1v3h-1m466 -5h1v5h-1m90 -3h1v3h-1m2 -3h1v3h-1m18 -3h2v3h-2m3 -3h2v3h-2m6 -3h1v3h-1m-174 -3h1v6h-1m58 -3h1v3h-1m108 -3h1v3h-1m4 -3h2v3h-2m-116 0h1v3h-1m11 -2h1v2h-1m100 -3h1v3h-1m108 -11h4v13h-4m-705 -2h1v3h-1m22 -3h2v3h-2m400 -3h1v3h-1m10 -3h1v3h-1m5 -3h1v3h-1m16 -3h1v3h-1m37 -3h1v3h-1m86 -3h1v3h-1m22 -3h1v3h-1m6 -3h3v3h-3m101 -1h3v1h-3m0 0h2v1h-2m-697 -1h2v3h-2m425 -3h1v3h-1m54 -3h1v3h-1m92 -3h1v3h-1m18 -3h2v3h-2m9 -3h1v3h-1m-181 0h1v3h-1m18 -3h1v3h-1m7 -3h1v3h-1m34 -3h1v3h-1m81 -3h1v3h-1m33 -3h1v3h-1m-161 2h1v1h-1m17 -3h1v3h-1m41 -1h1v1h-1m75 -3h1v3h-1m12 -3h1v3h-1m20 -6h2v6h-2m-602 0h1v3h-1m4 -3h2v3h-2m8 -9h2v9h-2m8 -3h1v3h-1m407 -3h1v3h-1m11 -3h1v3h-1m4 -3h1v3h-1m155 -3h9v3h-9m113 -26h2v26h-2m-254 0h1v1h-1m-13 -1h1v2h-1m11 -2h1v2h-1m-453 -2h1v3h-1m9 -3h2v3h-2m416 -3h1v3h-1m9 -3h1v3h-1m4 -3h1v3h-1m17 -1h1v1h-1m144 -3h7v3h-7m104 -14h3v14h-3m-219 0h2v2h-2m-33 -2h1v3h-1m34 -1h1v1h-1m6 -1h1v1h-1m85 -3h1v3h-1m3 -3h1v3h-1m20 -3h2v3h-2m-168 0h1v2h-1m-431 -2h3v3h-3m7 -3h2v3h-2m429 -3h1v3h-1m41 -3h1v3h-1m98 -3h1v3h-1m28 -6h2v6h-2m-159 0h1v1h-1m-23 -1h1v2h-1m13 -2h1v3h-1m7 -3h1v3h-1m3 -1h1v1h-1m50 -3h1v3h-1m70 -3h1v3h-1m32 -6h1v6h-1m9 -3h1v3h-1m-604 0h4v3h-4m479 -3h1v3h-1m10 -3h1v3h-1m108 -3h1v3h-1m3 -6h2v6h-2m102 -12h2v12h-2m6 -15h1v15h-1m-706 0h2v3h-2m422 -3h1v3h-1m69 -3h1v3h-1m-493 0h2v3h-2m431 -3h1v3h-1m2 -3h1v3h-1m144 -3h1v3h-1m19 -6h1v6h-1m2 -6h2v6h-2m-166 0h3v2h-3m-424 -2h2v3h-2m424 -1h1v1h-1m2 -1h1v1h-1m2 -3h1v3h-1m48 -3h1v3h-1m85 -3h1v3h-1m27 -3h2v3h-2m106 -9h1v9h-1m-722 23h2v6h-2m5 -6h1v6h-1m6 -6h1v6h-1m5 -6h1v6h-1m4 -6h1v6h-1m475 -6h1v6h-1m-467 0h4v11h-4m6 -11h6v11h-6m7 -11h1v11h-1m550 -11h1v11h-1m3 -11h4v11h-4m10 -11h1v11h-1m4 -11h1v11h-1m3 -11h2v11h-2m3 -11h2v11h-2m8 -11h3v11h-3m4 -11h2v11h-2m5 -11h1v11h-1m3 -11h1v11h-1m2 -11h2v11h-2m3 -11h3v11h-3m13 -11h1v11h-1m3 -11h1v11h-1m3 -11h1v11h-1m4 -11h4v11h-4m6 -11h2v11h-2m5 -11h1v11h-1m3 -11h2v11h-2m88 -11h2v11h-2m3 -11h2v11h-2m15 -11h2v11h-2m6 -11h1v11h-1m4 -11h2v11h-2"/>
<path fill="#00ff75" d="M0 0m654 53h1v1h-1m11 -2h1v2h-1m19 -1h2v1h-2m-34 0h1v3h-1m10 -3h1v3h-1m10 -3h1v3h-1m-22 0h2v3h-2m32 -5h1v5h-1m6 -2h1v2h-1m-31 0h1v3h-1m29 -3h2v3h-2m-23 0h2v3h-2m4 -3h1v3h-1m14 -3h1v3h-1m2 -3h1v3h-1m8 -3h2v3h-2m-39 0h1v3h-1m10 -3h1v3h-1m10 -3h3v3h-3m17 -3h2v3h-2m8 -3h1v3h-1m-38 0h1v2h-1m20 1h2v3h-2m12 -3h2v3h-2m4 -3h1v3h-1m-10 0h1v3h-1m9 -3h2v3h-2m-8 0h2v2h-2m-4 -2h1v3h-1m7 -3h2v3h-2m-3 0h2v1h-2m8 -1h1v1h-1m-15 -1h2v2h-2m13 1h1v2h-1m-10 -2h1v3h-1m-3 0h2v3h-2m3 -3h2v3h-2m4 -3h3v3h-3m7 -3h1v3h-1m1 0h2v3h-2m95 72h2v3h-2m14 0h2v3h-2m-60 1h1v2h-1m30 -2h1v2h-1m10 0h4v1h-4m5 -1h1v1h-1m13 -1h1v1h-1m-40 0h1v2h-1m22 -2h6v2h-6m8 -6h1v6h-1m-38 0h2v3h-2m23 -3h1v3h-1m16 -3h1v3h-1m10 -3h1v3h-1m-59 0h1v2h-1m8 -2h1v2h-1m-5 0h2v1h-2m14 -3h1v3h-1m4 -3h2v3h-2m6 -3h1v3h-1m2 -3h1v3h-1m6 -6h2v6h-2m-59 0h1v1h-1m0 0h2v2h-2m10 -3h1v3h-1m11 -3h1v3h-1m3 -3h3v3h-3m5 -3h4v3h-4m35 -3h2v3h-2m19 -3h1v3h-1m6 -3h1v3h-1m-67 0h7v3h-7m8 -3h3v3h-3m4 -3h2v3h-2m8 -3h1v3h-1m32 -3h2v3h-2m9 -3h3v3h-3m4 -3h1v3h-1m-82 0h2v3h-2m17 -3h3v3h-3m7 -3h4v3h-4m14 -3h2v3h-2m7 -3h1v3h-1m2 -3h1v3h-1m10 -3h2v3h-2m10 -3h1v3h-1m-48 0h1v3h-1m6 -3h2v3h-2m11 -3h1v3h-1m20 -3h2v3h-2m13 -3h2v3h-2m8 -3h1v3h-1m4 -6h1v6h-1m-86 0h3v3h-3m33 -3h1v3h-1m28 -3h1v3h-1m23 -3h2v3h-2m-97 0h1v1h-1m17 -1h1v1h-1m35 -1h2v2h-2m9 -2h1v2h-1m-48 -2h1v3h-1m2 -3h1v3h-1m22 -3h3v3h-3m5 -6h1v6h-1m39 -3h1v3h-1m-39 0h3v1h-3m24 -1h2v2h-2m-24 -1h1v2h-1m25 -1h1v1h-1m7 -3h2v3h-2m3 -3h1v3h-1m-5 0h2v3h-2m9 -3h1v3h-1m-158 -2h1v3h-1m112 -1h2v3h-2m7 -3h1v3h-1m29 -3h1v3h-1m12 -3h2v3h-2m4 -3h2v3h-2m12 -3h1v3h-1m-280 0h6v3h-6m219 -3h2v3h-2m36 -3h1v3h-1m23 -3h2v3h-2m-62 0h3v3h-3m8 -6h2v6h-2m57 -3h2v3h-2m3 -3h1v3h-1m-68 0h2v3h-2m44 -3h3v3h-3m8 -3h2v3h-2m-164 2h1v1h-1m114 -3h1v3h-1m3 -3h2v3h-2m3 -3h2v3h-2m-7 0h2v3h-2m6 -3h1v3h-1m36 -3h1v3h-1m-667 0h1v2h-1m408 -2h6v3h-6m103 -3h1v3h-1m114 -3h1v3h-1m37 -3h1v3h-1m13 -6h1v6h-1m-675 0h1v1h-1m664 -4h2v5h-2m-221 -5h1v6h-1m188 -3h1v3h-1m34 -1h1v1h-1m-233 0h1v3h-1m239 -3h1v3h-1m-236 0h1v3h-1m197 -3h2v3h-2m36 -3h2v3h-2m8 -3h2v3h-2m13 -3h2v3h-2m4 -3h1v3h-1m-694 -1h1v2h-1m630 -1h5v3h-5m42 -3h1v3h-1m3 -3h1v3h-1m-675 -1h1v3h-1m666 -2h1v2h-1m-257 -2h6v3h-6m218 -6h1v6h-1m48 -3h2v3h-2m-42 0h2v1h-2m-121 -7h1v9h-1m121 -2h1v2h-1m52 -3h1v3h-1m-57 0h2v3h-2m4 -3h1v3h-1m-633 -1h1v2h-1m749 -1h2v1h-2m14 -1h5v1h-5m10 -1h2v1h-2m-328 -1h1v3h-1m68 -3h2v3h-2m116 -3h4v3h-4m134 -2h2v2h-2m-763 -1h1v2h-1m765 -1h1v2h-1m2 -2h2v2h-2m4 -4h2v4h-2m-138 -2h1v3h-1m-633 -1h1v2h-1m755 -2h2v2h-2m8 -2h2v2h-2m-353 -1h6v3h-6m35 -3h1v3h-1m68 -3h2v3h-2m114 -3h1v3h-1m41 -6h2v6h-2m23 -6h2v6h-2m84 -2h1v2h-1m-776 -2h1v4h-1m515 -2h1v2h-1m114 -2h1v3h-1m3 -3h2v3h-2m134 -1h1v2h-1m6 -2h2v2h-2m4 -2h1v2h-1m-338 -1h1v3h-1m8 -3h1v3h-1m222 -3h1v3h-1m24 -3h2v3h-2m78 -2h2v2h-2m-2 0h4v2h-4m-139 -2h5v3h-5m40 -3h2v3h-2m27 -3h1v3h-1m2 -3h1v3h-1m66 -3h2v4h-2m12 -4h1v4h-1m-15 0h5v1h-5m-761 -1h1v2h-1m673 -3h1v3h-1m21 -3h1v3h-1m68 -1h4v1h-4m-763 0h2v2h-2m765 -2h2v2h-2m3 -2h3v2h-3m-356 -2h6v3h-6m24 -3h1v3h-1m11 -6h1v6h-1m184 -3h2v3h-2m5 -3h1v3h-1m62 -3h1v3h-1m-698 -1h1v2h-1m775 -2h2v2h-2m-774 0h1v1h-1m763 -1h1v1h-1m-76 -2h1v3h-1m-688 -1h1v3h-1m765 -2h6v2h-6m-135 -2h1v3h-1m6 -3h1v3h-1m42 -3h1v3h-1m87 -1h2v2h-2m4 -2h1v2h-1m4 -4h2v4h-2m-326 -1h1v3h-1m188 -3h2v3h-2m138 -2h1v2h-1m4 -4h1v4h-1m-778 -4h1v6h-1m771 -2h1v2h-1m-334 -2h1v3h-1m199 -3h1v3h-1m43 -3h1v3h-1m91 -1h2v2h-2m8 -2h1v2h-1m-778 0h1v2h-1m413 -3h6v3h-6m27 -3h1v3h-1m191 -3h3v3h-3m6 -3h1v3h-1m44 -6h2v6h-2m8 -3h1v3h-1m11 -3h2v3h-2m68 -2h2v2h-2m4 0h2v2h-2m-99 -2h2v3h-2m-673 1h1v2h-1m448 -9h1v9h-1m184 -3h2v3h-2m58 -3h1v3h-1m84 -2h5v2h-5m-775 0h1v2h-1m766 -2h1v2h-1m3 -2h2v2h-2m3 -2h1v2h-1m3 -2h2v2h-2m-103 -2h4v3h-4m26 -3h1v3h-1m75 -1h2v2h-2m-773 0h1v2h-1m635 -3h2v3h-2m42 -3h1v3h-1m3 -3h1v3h-1m15 -3h3v3h-3m5 -3h1v3h-1m71 -2h2v2h-2m4 -2h1v2h-1m4 -2h1v2h-1m-778 0h1v2h-1m766 -2h2v2h-2m4 -2h6v2h-6m-357 -2h6v3h-6m223 -3h1v3h-1m41 -3h2v3h-2m3 -3h3v3h-3m23 -3h1v3h-1m65 -1h2v2h-2m4 -2h2v2h-2m6 -2h1v2h-1m-780 0h1v2h-1m633 -3h1v3h-1m44 -3h4v3h-4m88 -2h1v2h-1m3 -2h2v2h-2m-46 6h2v2h-2m43 -2h1v2h-1m-179 -2h1v3h-1m3 -3h3v3h-3m179 -1h2v2h-2m-176 -1h2v3h-2m130 -2h2v2h-2m8 -2h1v2h-1m42 -2h2v2h-2m-44 0h2v2h-2m48 -4h2v4h-2m-191 -5h1v6h-1m2 -3h2v3h-2m191 -1h2v2h-2m-52 0h2v2h-2m-4 0h2v2h-2m46 -2h2v2h-2m12 -2h1v2h-1m-195 -2h1v3h-1m4 -3h2v3h-2m-174 -3h5v4h-5m359 -4h2v4h-2m-189 -1h6v3h-6m183 -2h2v2h-2m4 -2h2v2h-2m-185 0h2v3h-2m5 -3h2v3h-2m-3 0h2v3h-2m183 -2h2v2h-2m4 0h2v2h-2m-191 -2h2v3h-2m7 -3h2v3h-2m178 1h2v2h-2m-55 -30h1v31h-1m63 -3h2v4h-2m-193 -2h1v3h-1m4 -3h2v3h-2m3 -3h2v3h-2m176 -1h2v2h-2m6 -2h2v2h-2m-359 -2h5v4h-5m174 -3h3v3h-3m191 -2h1v2h-1m-4 0h2v2h-2m-184 -2h2v3h-2m180 -1h2v2h-2m-338 -1h1v3h-1m55 -2h1v2h-1m100 -6h2v6h-2m185 -2h2v2h-2m-282 1h1v1h-1m280 -2h2v2h-2m8 -2h1v2h-1m-360 -1h1v2h-1m37 -3h1v3h-1m31 -2h1v2h-1m97 -3h1v3h-1m193 -1h2v2h-2m-326 -1h1v3h-1m4 -1h1v1h-1m131 -3h2v3h-2m5 -3h2v3h-2m186 -2h3v2h-3m-13 1h1v1h-1m-277 -2h1v3h-1m-59 0h1v3h-1m11 -3h1v3h-1m15 -3h1v3h-1m37 -3h1v3h-1m100 -3h2v3h-2m-177 -2h5v4h-5m296 -15h1v15h-1m61 -2h4v2h-4m8 -2h1v2h-1m-208 -2h1v3h-1m14 -3h1v3h-1m5 -3h1v3h-1m119 -1h2v1h-2m4 -26h2v26h-2m62 -1h2v2h-2m-324 -1h1v3h-1m3 -3h1v3h-1m323 -2h3v2h-3m-14 -2h2v4h-2m4 -2h2v2h-2m6 -4h2v4h-2m-281 -2h1v3h-1m92 -3h1v3h-1m4 -6h2v6h-2m-165 0h1v3h-1m29 -3h1v3h-1m319 -2h2v2h-2m4 -2h2v2h-2m4 -2h1v2h-1m-352 0h1v3h-1m6 -3h1v3h-1m155 -3h2v3h-2m125 -12h1v12h-1m64 -1h2v2h-2m-320 0h1v1h-1m-13 0h1v1h-1m264 -15h3v15h-3m4 -3h2v3h-2m49 0h2v2h-2m-347 -2h5v3h-5m12 -6h1v6h-1m66 -3h1v3h-1m87 -6h1v6h-1m-165 0h6v1h-6m353 -2h2v2h-2m8 -2h2v2h-2m-352 -1h1v2h-1m-4 -1h1v2h-1m67 -4h1v4h-1m85 -9h1v9h-1m14 -6h1v6h-1m6 -3h2v3h-2m172 -2h2v2h-2m-317 1h1v1h-1m315 -2h2v2h-2m12 -2h2v2h-2m-350 0h1v1h-1m5 -3h1v3h-1m5 -4h1v4h-1m151 -3h1v3h-1m168 -2h1v2h-1m-45 -9h4v10h-4m48 -2h2v2h-2m10 -2h6v2h-6m12 -2h2v2h-2m-357 -1h1v3h-1m14 -3h1v3h-1m62 -3h1v3h-1m67 -3h2v3h-2m27 -3h1v3h-1m117 -2h3v2h-3m5 -12h1v12h-1m9 -2h1v2h-1m30 -3h2v3h-2m6 -2h2v2h-2m14 -2h2v2h-2m4 -2h2v2h-2m-2 0h2v2h-2m4 -2h2v2h-2m-351 -2h1v3h-1m10 -3h1v3h-1m287 -1h1v1h-1m36 -3h2v4h-2m8 -4h2v4h-2m8 -2h2v2h-2m-340 -1h1v3h-1m18 -3h1v3h-1m32 -3h1v3h-1m12 -3h1v3h-1m67 -3h1v3h-1m17 -3h1v3h-1m4 -3h1v3h-1m6 -3h2v3h-2m132 -3h2v3h-2m34 -2h2v2h-2m8 -2h4v2h-4m14 -2h1v2h-1m-360 0h1v2h-1m324 -2h4v2h-4m10 -2h4v2h-4m6 -2h4v2h-4m16 -2h2v2h-2m-361 0h6v1h-6m22 -1h1v1h-1m4 -3h1v3h-1m126 -3h1v3h-1m5 -3h1v3h-1m17 -9h2v9h-2m118 -9h4v9h-4m5 -9h2v9h-2m14 -1h2v1h-2m10 -1h2v1h-2m4 -1h2v1h-2m18 -1h2v1h-2m4 -1h2v1h-2m-768 23h1v6h-1m7 -6h1v6h-1m4 -6h1v6h-1m-19 0h1v11h-1m38 -11h1v11h-1m570 -11h1v11h-1m25 -11h1v11h-1m3 -11h1v11h-1m15 -11h1v11h-1m19 -11h1v11h-1m2 -11h2v11h-2m16 -11h2v11h-2m-658 0h2v10h-2m724 -10h1v10h-1m7 -10h1v10h-1m10 -10h1v10h-1m4 -10h1v10h-1m9 -10h1v10h-1m-30 10h1v21h-1m7 -21h1v21h-1m10 -21h1v21h-1m4 -21h1v21h-1m9 -21h1v21h-1"/>
<path fill="#00ff57" d="M0 0m657 52h1v2h-1m9 -2h2v2h-2m11 -2h3v2h-3m-22 -1h1v4h-1m8 -3h2v3h-2m10 -3h2v3h-2m-21 0h2v3h-2m17 -3h1v3h-1m6 -3h4v3h-4m-27 0h2v3h-2m34 -3h1v3h-1m5 -3h2v3h-2m7 -3h1v3h-1m3 -1h1v1h-1m-45 0h2v1h-2m1 0h1v1h-1m3 -2h2v3h-2m15 -3h2v3h-2m9 -3h1v3h-1m-22 0h2v1h-2m1 0h1v1h-1m-7 -2h2v3h-2m13 -3h1v3h-1m8 -3h1v3h-1m11 -3h3v3h-3m10 0h2v1h-2m-32 -1h1v3h-1m8 -3h1v3h-1m7 -3h2v3h-2m7 -3h2v3h-2m10 -2h1v2h-1m-24 0h3v3h-3m12 -3h1v3h-1m-14 0h1v2h-1m21 -2h3v3h-3m-14 0h2v1h-2m1 0h1v1h-1m16 -2h2v2h-2m-11 -5h1v6h-1m5 -2h1v2h-1m4 -2h1v2h-1m3 -1h1v1h-1m-18 0h1v2h-1m4 0h2v1h-2m15 -1h1v1h-1m-3 0h1v3h-1m-15 0h1v3h-1m6 -3h1v3h-1m-8 0h1v1h-1m4 -1h1v3h-1m2 -3h1v3h-1m6 -3h1v3h-1m-11 0h1v1h-1m16 -1h1v3h-1m100 66h1v1h-1m-6 -1h2v3h-2m6 -2h2v2h-2m6 -3h1v3h-1m-16 0h2v3h-2m18 0h2v3h-2m-9 0h1v3h-1m-5 0h1v1h-1m-9 -1h2v3h-2m11 -3h2v3h-2m4 -3h2v3h-2m16 -1h1v1h-1m-28 0h4v3h-4m-50 0h2v3h-2m10 -1h3v1h-3m10 -1h1v1h-1m29 -3h1v3h-1m-34 0h2v3h-2m32 -3h2v3h-2m-41 -6h1v9h-1m38 -3h1v3h-1m9 -3h1v3h-1m8 -3h1v3h-1m-90 1h2v2h-2m29 -3h2v3h-2m-30 0h1v3h-1m29 -3h3v3h-3m14 -6h2v6h-2m33 -3h1v3h-1m10 -3h1v3h-1m16 -3h2v3h-2m-73 0h1v3h-1m5 -3h2v3h-2m8 -3h3v3h-3m6 -3h2v3h-2m25 -3h2v3h-2m19 -3h2v3h-2m-91 0h2v3h-2m28 -3h5v3h-5m11 -3h2v3h-2m5 -3h2v3h-2m32 -6h2v6h-2m5 -3h2v3h-2m-52 0h2v3h-2m13 -3h2v3h-2m38 -3h1v3h-1m5 -3h1v3h-1m2 -3h2v3h-2m12 -3h1v3h-1m7 -3h2v3h-2m-109 0h2v3h-2m32 -3h4v3h-4m10 -3h2v3h-2m-10 0h2v3h-2m4 -3h3v3h-3m11 -6h2v6h-2m3 -3h2v3h-2m36 -3h2v3h-2m6 -3h1v3h-1m-94 0h2v3h-2m38 -3h2v3h-2m6 -3h3v3h-3m-46 0h1v3h-1m35 -3h1v3h-1m3 -3h2v3h-2m4 -3h1v3h-1m54 -3h1v3h-1m14 -3h1v3h-1m-687 0h1v2h-1m581 -2h2v3h-2m36 -3h2v3h-2m46 -3h2v3h-2m25 -3h2v3h-2m-688 1h1v2h-1m626 -3h2v3h-2m4 -3h1v3h-1m35 -3h2v3h-2m6 -3h2v3h-2m13 -6h1v6h-1m3 -3h1v3h-1m-70 0h3v3h-3m47 -3h2v3h-2m-665 2h1v1h-1m579 -6h1v6h-1m34 -6h1v6h-1m3 -3h4v3h-4m15 -3h1v3h-1m32 -3h1v3h-1m4 -3h1v3h-1m9 -6h2v6h-2m8 -3h1v3h-1m-684 1h1v2h-1m580 -3h2v3h-2m34 -3h2v3h-2m6 -3h1v3h-1m6 -3h1v3h-1m36 -3h1v3h-1m9 -3h1v3h-1m18 -9h2v9h-2m-689 1h1v1h-1m616 -2h4v3h-4m47 -3h1v3h-1m2 -3h3v3h-3m20 -3h3v3h-3m-685 0h1v1h-1m585 -1h2v3h-2m31 -3h2v3h-2m13 -3h2v3h-2m34 -3h3v3h-3m9 -3h2v3h-2m-58 0h2v3h-2m54 -3h2v3h-2m21 -3h4v3h-4m-69 0h1v3h-1m5 -6h1v6h-1m6 -3h1v3h-1m53 -6h1v6h-1m-685 -1h1v3h-1m580 -2h1v3h-1m34 -6h1v6h-1m5 -3h2v3h-2m44 -2h1v2h-1m12 -3h4v3h-4m20 -3h1v3h-1m-683 0h1v3h-1m2 -3h1v3h-1m430 -2h1v2h-1m170 -3h3v3h-3m16 -3h2v3h-2m3 -3h1v3h-1m42 0h1v1h-1m69 -1h2v1h-2m6 -1h4v1h-4m24 -1h1v1h-1m-32 0h2v1h-2m-724 -5h2v6h-2m608 -3h1v3h-1m41 -3h2v3h-2m18 -3h1v3h-1m11 -3h1v3h-1m47 -1h1v1h-1m7 -2h2v2h-2m10 -2h2v2h-2m-761 1h1v1h-1m773 -2h3v2h-3m-760 -2h1v3h-1m2 -3h1v3h-1m3 -3h1v3h-1m427 -3h1v3h-1m135 -3h1v3h-1m2 -3h2v3h-2m5 -3h2v3h-2m29 -3h2v3h-2m62 -3h2v3h-2m16 -6h1v6h-1m67 -1h2v2h-2m-746 -1h3v3h-3m600 -3h1v3h-1m7 -3h1v3h-1m50 -3h1v3h-1m15 -3h1v3h-1m66 -2h2v2h-2m4 -2h2v2h-2m16 -2h2v2h-2m-14 0h2v2h-2m4 -2h2v2h-2m6 -2h2v2h-2m-754 -2h1v3h-1m430 -3h1v3h-1m175 -3h3v3h-3m13 -3h2v3h-2m34 -3h3v3h-3m94 -1h4v2h-4m-4 0h2v1h-2m-171 -5h1v6h-1m30 -6h2v6h-2m13 -3h2v3h-2m5 -3h1v3h-1m42 -3h1v3h-1m82 -1h1v1h-1m5 -2h2v2h-2m8 -2h2v2h-2m-771 -4h1v6h-1m766 -4h1v4h-1m7 -2h2v2h-2m-760 -2h1v3h-1m3 -3h1v3h-1m2 -3h3v3h-3m562 -3h1v3h-1m4 -3h2v3h-2m34 -3h5v3h-5m54 -3h1v3h-1m6 -3h2v3h-2m8 -6h1v6h-1m-687 -1h1v2h-1m766 -2h2v2h-2m-750 -1h3v3h-3m566 -3h1v3h-1m34 -3h1v3h-1m5 -3h2v3h-2m48 -3h2v3h-2m8 -3h1v3h-1m11 -3h1v3h-1m73 -1h1v1h-1m5 -2h4v2h-4m8 -2h2v2h-2m-773 0h1v2h-1m765 -2h1v2h-1m9 -2h1v2h-1m-759 -2h1v3h-1m4 -3h2v3h-2m651 -3h2v3h-2m21 -6h2v6h-2m3 -3h1v3h-1m-695 -1h1v2h-1m769 -2h3v2h-3m-752 -1h1v3h-1m564 -3h2v3h-2m4 -3h2v3h-2m3 -3h2v3h-2m44 -3h2v3h-2m66 -1h1v1h-1m65 -1h1v1h-1m7 -2h2v2h-2m-770 -1h1v3h-1m776 -2h1v2h-1m-762 -2h1v3h-1m3 -3h2v3h-2m429 -6h1v6h-1m136 -3h1v3h-1m34 -6h1v6h-1m7 -9h1v9h-1m7 -3h2v3h-2m49 -3h2v3h-2m9 -3h1v3h-1m-689 -1h1v2h-1m771 -2h2v2h-2m4 -2h2v2h-2m-758 -1h2v3h-2m571 -3h1v3h-1m32 -6h2v6h-2m149 -2h4v2h-4m-769 0h1v2h-1m765 -2h2v2h-2m4 -2h1v2h-1m6 -2h2v2h-2m-758 -2h1v3h-1m2 -3h1v3h-1m2 -3h2v3h-2m426 -3h1v3h-1m250 -3h1v3h-1m-698 -1h1v2h-1m1 0h1v2h-1m15 -6h1v6h-1m568 -6h1v6h-1m34 -3h1v3h-1m7 -3h1v3h-1m9 -3h2v3h-2m42 -6h1v6h-1m16 -2h1v2h-1m74 0h2v2h-2m4 -2h2v2h-2m4 -2h5v2h-5m-187 -8h2v9h-2m3 -3h2v3h-2m29 -3h2v3h-2m4 -3h2v3h-2m49 -6h1v6h-1m17 -3h2v3h-2m10 -3h1v3h-1m-699 -3h1v4h-1m770 -2h4v2h-4m-133 -1h1v2h-1m-636 -1h1v2h-1m18 -3h1v3h-1m2 -6h1v6h-1m564 -3h4v3h-4m33 -3h1v3h-1m16 -3h2v3h-2m42 -3h1v3h-1m5 -3h2v3h-2m11 -3h1v3h-1m74 -2h2v2h-2m4 0h1v2h-1m2 -2h2v2h-2m-754 -2h1v3h-1m659 -3h2v3h-2m-677 -1h1v2h-1m774 -2h4v2h-4m-755 -1h1v3h-1m602 -3h2v3h-2m151 -2h2v2h-2m-771 0h1v2h-1m775 -2h2v2h-2m-760 -11h1v12h-1m602 -3h3v3h-3m5 -3h3v3h-3m8 -3h1v3h-1m3 -3h2v3h-2m64 -3h2v3h-2m-698 -1h1v2h-1m770 -2h2v2h-2m4 -2h2v2h-2m-775 0h2v1h-2m0 0h1v1h-1m19 -6h1v6h-1m2 -3h1v3h-1m2 -3h2v3h-2m426 -12h1v12h-1m188 -3h1v3h-1m43 -3h1v3h-1m82 -2h2v2h-2m11 -2h2v2h-2m4 -2h3v2h-3m-14 6h1v1h-1m-38 -1h2v2h-2m50 -2h4v2h-4m-191 -2h1v3h-1m7 -3h2v3h-2m132 -1h6v2h-6m48 -2h4v2h-4m6 -2h2v2h-2m-47 0h1v1h-1m-145 -2h1v3h-1m188 -2h2v2h-2m-52 0h2v2h-2m4 -2h2v2h-2m-137 -2h2v3h-2m3 -3h2v3h-2m136 -1h1v2h-1m39 -2h1v2h-1m-182 -1h1v3h-1m2 -3h7v3h-7m185 -2h6v2h-6m8 -4h1v4h-1m-10 0h2v2h-2m-184 -2h1v3h-1m5 -3h1v3h-1m135 -1h1v1h-1m-2 3h1v1h-1m44 -1h2v2h-2m4 -2h4v2h-4m8 -2h1v2h-1m-191 -2h2v3h-2m179 -1h4v2h-4m-183 -4h1v6h-1m6 -3h1v3h-1m179 -2h2v2h-2m6 -2h2v2h-2m4 0h1v2h-1m-193 -2h2v3h-2m187 -1h2v2h-2m-188 -1h5v3h-5m130 -30h2v30h-2m52 0h2v2h-2m8 -2h2v2h-2m-185 -2h1v3h-1m181 -3h2v4h-2m6 -2h2v2h-2m-192 -1h3v3h-3m182 0h4v2h-4m-182 -2h1v3h-1m5 -3h1v3h-1m177 -1h2v2h-2m-183 -1h2v3h-2m7 -3h2v3h-2m178 -2h4v2h-4m6 -2h4v2h-4m-190 0h3v3h-3m130 -15h1v15h-1m58 -1h2v2h-2m6 -2h1v2h-1m-195 -1h1v3h-1m180 0h5v1h-5m1 0h4v1h-4m-179 -2h4v3h-4m179 -1h6v2h-6m12 -2h2v2h-2m-289 -1h1v3h-1m96 -3h6v3h-6m189 -2h6v2h-6m2 0h2v2h-2m-191 -2h1v3h-1m4 -3h2v3h-2m179 -3h2v4h-2m4 -2h2v2h-2m-187 -1h2v3h-2m178 -2h1v2h-1m3 -2h2v2h-2m-4 0h2v2h-2m14 -2h2v2h-2m-190 -2h3v3h-3m178 -1h2v2h-2m6 -2h2v2h-2m8 -2h2v2h-2m-353 -1h1v3h-1m32 -3h1v3h-1m128 -3h1v3h-1m2 -3h4v3h-4m175 -2h2v2h-2m-2 0h4v2h-4m10 -2h2v2h-2m6 -2h2v2h-2m-323 -2h1v3h-1m133 -3h1v3h-1m6 -9h2v9h-2m167 -1h1v2h-1m7 -2h4v2h-4m6 -2h2v2h-2m-187 -1h9v3h-9m130 -15h1v15h-1m59 -2h2v2h-2m6 -2h1v2h-1m-20 0h2v2h-2m4 -2h6v2h-6m12 -2h2v2h-2m-187 -2h5v3h-5m167 -1h2v2h-2m10 -2h2v2h-2m4 -2h4v2h-4m-346 1h1v1h-1m163 -3h4v3h-4m181 -2h6v2h-6m-15 0h5v1h-5m1 0h4v1h-4m6 -2h2v2h-2m8 -2h2v2h-2m8 -4h2v4h-2m-320 -2h2v3h-2m125 -3h1v3h-1m6 -3h5v3h-5m165 -1h1v1h-1m2 -1h2v2h-2m8 -2h2v2h-2m-333 -1h1v3h-1m9 -3h1v3h-1m148 -3h5v3h-5m137 -1h1v1h-1m37 -2h2v2h-2m-307 0h1v2h-1m269 -2h2v2h-2m40 -2h2v2h-2m8 -2h2v2h-2m-350 -2h1v3h-1m14 -3h2v3h-2m22 -6h1v6h-1m124 -3h1v3h-1m6 -3h1v3h-1m5 -3h3v3h-3m134 -1h1v1h-1m22 -1h1v1h-1m-1 0h2v1h-2m4 -2h2v2h-2m8 -2h2v2h-2m4 -2h4v2h-4m10 -2h2v2h-2m8 -2h1v2h-1m-328 -1h1v2h-1m133 -2h1v3h-1m6 -3h1v3h-1m131 -2h2v2h-2m26 -2h4v2h-4m8 -2h2v2h-2m14 -2h2v2h-2m-42 0h1v1h-1m0 0h2v1h-2m22 -2h2v2h-2m8 -2h2v2h-2m20 -2h2v2h-2m-354 -2h1v3h-1m161 -3h2v3h-2m7 -3h2v3h-2m119 -11h1v11h-1m3 -21h2v21h-2m16 -1h2v1h-2m8 -1h2v1h-2m8 -1h2v1h-2m10 -1h2v1h-2m14 -1h4v1h-4m6 -1h4v1h-4m-223 23h1v6h-1m-566 0h1v11h-1m15 -11h1v11h-1m8 -11h1v11h-1m730 -11h1v11h-1m4 -11h2v11h-2m3 -11h1v11h-1m-735 0h1v10h-1m2 -10h2v10h-2m4 -10h6v10h-6m7 -10h1v10h-1m707 -10h3v10h-3m4 -10h1v10h-1m5 -10h6v10h-6m12 -10h4v10h-4m5 -10h3v10h-3m4 -10h2v10h-2m3 -10h1v10h-1m3 -10h2v10h-2m3 -10h1v10h-1m2 -10h3v10h-3m5 -10h3v10h-3m-46 10h3v21h-3m4 -21h1v21h-1m5 -21h6v21h-6m12 -21h4v21h-4m5 -21h3v21h-3m4 -21h2v21h-2m3 -21h1v21h-1m3 -21h2v21h-2m3 -21h1v21h-1m2 -21h3v21h-3m5 -21h3v21h-3"/>
<path fill="#00ff3a" d="M0 0m649 52h1v2h-1m3 -2h2v2h-2m20 -2h1v2h-1m11 2h3v1h-3m7 0h1v2h-1m-39 -2h1v3h-1m7 -3h3v3h-3m25 -3h1v3h-1m-25 0h2v3h-2m3 -3h2v3h-2m4 -3h1v3h-1m8 -3h2v3h-2m8 -3h1v3h-1m8 -4h2v4h-2m5 0h1v2h-1m-40 -2h1v3h-1m9 -3h2v3h-2m7 -6h1v6h-1m-21 0h1v1h-1m25 -1h1v3h-1m9 -6h1v6h-1m13 -3h1v3h-1m-10 0h1v3h-1m6 -3h2v3h-2m3 -2h1v2h-1m-22 0h2v3h-2m8 -3h1v3h-1m10 -3h1v3h-1m-11 0h1v3h-1m6 -3h1v3h-1m-9 0h2v3h-2m7 -1h2v1h-2m-5 0h2v1h-2m9 -1h3v1h-3m5 -1h2v1h-2m-14 0h1v1h-1m5 -1h2v1h-2m3 -1h4v1h-4m1 0h3v1h-3m5 -2h1v2h-1m-16 0h2v1h-2m-1 0h3v2h-3m7 -2h1v2h-1m4 -3h2v3h-2m-8 0h1v3h-1m5 0h2v3h-2m11 -3h1v3h-1m-16 0h1v2h-1m11 1h1v2h-1m90 66h1v1h-1m9 -5h1v5h-1m-10 0h2v3h-2m4 -3h2v3h-2m18 -3h2v3h-2m-20 3h2v3h-2m20 0h2v3h-2m-23 0h1v3h-1m-71 2h3v1h-3m21 -3h1v3h-1m-18 0h2v3h-2m4 -3h3v3h-3m19 -6h2v6h-2m46 -3h2v3h-2m12 -3h2v3h-2m8 -3h1v3h-1m2 -3h2v3h-2m-108 4h2v2h-2m4 -2h3v2h-3m11 -6h2v6h-2m6 -6h2v6h-2m14 -3h1v3h-1m3 -6h2v6h-2m4 -3h1v3h-1m-41 0h1v3h-1m3 -3h2v3h-2m3 -3h2v3h-2m7 -3h1v3h-1m2 -3h1v3h-1m7 -3h1v3h-1m15 -3h5v3h-5m-23 0h1v3h-1m4 -3h5v3h-5m62 -3h2v3h-2m9 -6h2v6h-2m-90 -3h4v6h-4m14 -3h2v3h-2m3 -3h2v3h-2m4 -3h3v3h-3m21 -3h1v3h-1m44 -3h2v3h-2m10 -3h1v3h-1m-95 0h1v3h-1m3 -3h5v3h-5m10 -3h5v3h-5m24 -3h4v3h-4m72 -3h1v3h-1m-97 0h1v3h-1m3 -3h1v3h-1m3 -3h2v3h-2m21 -3h3v3h-3m-36 0h2v3h-2m3 -3h2v3h-2m7 -3h1v3h-1m3 -3h7v3h-7m18 -9h1v9h-1m3 -3h2v3h-2m69 -3h3v3h-3m4 -3h1v3h-1m-111 0h1v3h-1m13 -3h2v3h-2m4 -3h4v3h-4m18 -3h3v3h-3m-609 -1h1v3h-1m575 -2h1v3h-1m39 -3h2v3h-2m54 -3h2v3h-2m12 -3h1v3h-1m-683 2h1v1h-1m577 -3h1v3h-1m6 -6h3v6h-3m7 -6h3v6h-3m4 -3h2v3h-2m4 -3h2v3h-2m15 -3h4v3h-4m6 -3h1v3h-1m-615 -3h1v6h-1m580 -3h2v3h-2m6 -3h1v3h-1m3 -3h1v3h-1m5 -3h3v3h-3m15 -3h7v3h-7m54 -3h2v3h-2m3 -3h1v3h-1m-670 0h1v2h-1m581 -2h5v3h-5m15 -3h2v3h-2m19 -3h2v3h-2m48 -3h1v3h-1m-80 0h3v3h-3m10 -3h1v3h-1m72 -3h1v3h-1m5 -3h3v3h-3m-665 -6h1v7h-1m0 0h2v2h-2m607 -3h1v3h-1m5 -3h2v3h-2m-618 0h1v1h-1m7 -1h1v1h-1m-7 1h1v1h-1m6 -2h2v2h-2m572 -3h1v3h-1m2 -3h2v3h-2m5 -3h2v3h-2m10 -3h2v3h-2m4 -3h2v3h-2m65 -3h1v3h-1m10 -6h1v6h-1m2 -3h2v3h-2m-676 1h1v1h-1m7 -2h1v2h-1m571 -2h2v3h-2m4 -3h2v3h-2m10 -3h2v3h-2m5 -3h5v3h-5m21 -3h2v3h-2m-611 -1h2v3h-2m572 -2h3v3h-3m14 -3h4v3h-4m23 -3h2v3h-2m4 -3h1v3h-1m-620 -2h1v4h-1m8 -3h1v3h-1m-1 0h3v1h-3m572 -3h1v3h-1m5 -3h3v3h-3m9 -3h1v3h-1m6 -6h2v6h-2m15 -3h2v3h-2m4 -3h2v3h-2m-610 0h2v1h-2m654 -1h1v1h-1m-655 0h3v2h-3m575 -3h2v3h-2m13 -3h4v3h-4m6 -3h1v3h-1m13 -3h4v3h-4m6 -3h1v3h-1m48 -3h2v3h-2m-660 0h2v1h-2m1 0h1v1h-1m-10 -3h1v4h-1m9 -1h2v1h-2m6 -3h2v3h-2m564 -3h2v3h-2m16 -3h7v3h-7m77 -6h1v6h-1m-663 0h3v1h-3m733 -1h2v1h-2m4 -1h2v1h-2m8 -1h2v1h-2m-744 0h2v2h-2m3 -3h2v3h-2m4 -3h1v3h-1m563 -3h5v3h-5m6 -3h2v3h-2m6 -3h1v3h-1m4 -3h2v3h-2m146 -1h1v1h-1m23 -2h1v2h-1m3 -2h2v2h-2m4 -2h3v2h-3m-763 0h3v2h-3m743 -2h2v2h-2m10 -2h2v2h-2m7 -2h1v2h-1m-754 -2h2v3h-2m577 -3h2v3h-2m25 -6h2v6h-2m4 -3h1v3h-1m50 -3h1v3h-1m78 -1h1v1h-1m21 -1h5v2h-5m-757 -4h1v6h-1m5 -3h2v3h-2m562 -3h1v3h-1m6 -3h2v3h-2m9 -6h3v6h-3m5 -3h2v3h-2m15 -3h4v3h-4m145 -2h4v2h-4m6 -2h2v2h-2m-13 0h1v1h-1m-754 -3h1v4h-1m1 0h1v1h-1m10 -7h2v7h-2m7 -3h3v3h-3m562 -3h1v3h-1m2 -3h4v3h-4m13 -3h1v3h-1m2 -3h2v3h-2m94 -3h2v3h-2m4 -3h1v3h-1m2 -3h2v3h-2m59 -1h1v1h-1m-745 0h6v1h-6m758 -2h2v2h-2m4 -2h2v2h-2m-761 0h5v2h-5m6 -3h1v3h-1m564 -3h2v3h-2m5 -3h2v3h-2m6 -3h1v3h-1m6 -3h2v3h-2m16 -6h1v6h-1m3 -6h2v6h-2m4 -3h1v3h-1m137 -2h4v2h-4m16 -2h1v2h-1m-16 0h2v2h-2m6 -4h1v4h-1m7 -2h1v2h-1m-760 -2h1v3h-1m3 -3h1v3h-1m2 -3h1v3h-1m569 -3h1v3h-1m9 -3h1v3h-1m20 -3h3v3h-3m58 -6h1v6h-1m88 -1h2v2h-2m-761 0h1v2h-1m12 -3h3v3h-3m7 -3h2v3h-2m561 -3h1v3h-1m2 -3h4v3h-4m13 -3h2v3h-2m6 -6h2v6h-2m15 -3h2v3h-2m79 -3h1v3h-1m74 -2h2v2h-2m2 0h3v2h-3m-758 -2h1v3h-1m4 -3h2v3h-2m564 -3h5v3h-5m6 -6h2v6h-2m7 -3h1v3h-1m21 -3h1v3h-1m57 -3h1v3h-1m21 -3h1v3h-1m74 -1h1v2h-1m5 -2h1v2h-1m-759 -1h3v3h-3m4 -3h1v3h-1m2 -3h2v3h-2m563 -3h2v3h-2m36 -3h2v3h-2m52 -3h3v3h-3m8 -3h2v3h-2m85 -2h4v2h-4m12 -2h1v2h-1m-775 -2h1v4h-1m773 -2h2v2h-2m-758 -2h1v3h-1m3 -3h1v3h-1m576 -3h3v3h-3m9 -6h1v6h-1m13 -3h2v3h-2m4 -3h2v3h-2m142 -1h1v2h-1m3 -2h2v2h-2m-767 0h1v2h-1m20 -3h3v3h-3m562 -3h2v3h-2m13 -3h1v3h-1m2 -3h1v3h-1m4 -3h2v3h-2m77 -3h1v3h-1m97 -2h2v2h-2m-774 0h1v2h-1m770 -2h4v2h-4m-753 -2h1v3h-1m571 -3h2v3h-2m7 -3h2v3h-2m21 -6h1v6h-1m7 -3h1v3h-1m47 -3h1v3h-1m-671 -1h2v2h-2m772 -2h3v2h-3m-771 0h1v2h-1m15 -6h1v6h-1m2 -3h2v3h-2m564 -3h1v3h-1m15 -3h4v3h-4m21 -3h6v3h-6m151 -2h4v2h-4m-769 0h1v2h-1m767 -2h2v2h-2m-752 -2h2v3h-2m3 -3h1v3h-1m566 -9h2v9h-2m11 -3h2v3h-2m29 -3h1v3h-1m56 -3h2v3h-2m-680 -1h2v2h-2m765 -2h2v2h-2m10 -2h2v2h-2m-756 -1h1v3h-1m2 -9h2v9h-2m562 -3h1v3h-1m5 -3h3v3h-3m13 -6h2v6h-2m17 -3h4v3h-4m56 -3h1v3h-1m93 -2h2v2h-2m-768 0h1v2h-1m764 -2h1v2h-1m12 -2h2v2h-2m-759 -2h1v3h-1m2 -3h1v3h-1m2 -3h3v3h-3m563 -3h5v3h-5m6 -3h2v3h-2m6 -6h1v6h-1m8 -3h3v3h-3m15 -3h2v3h-2m80 -3h1v3h-1m-698 -1h1v2h-1m777 -2h1v2h-1m-778 0h1v2h-1m18 -3h1v3h-1m565 -3h7v3h-7m15 -6h1v6h-1m4 -3h4v3h-4m16 -3h1v3h-1m7 -3h1v3h-1m65 -3h1v3h-1m8 -3h1v3h-1m66 -2h4v2h-4m12 -2h2v2h-2m-192 0h3v3h-3m6 -3h2v3h-2m9 -3h1v3h-1m3 -3h5v3h-5m19 -3h2v3h-2m142 -3h1v3h-1m-762 -1h1v2h-1m702 -1h1v1h-1m59 -1h2v1h-2m4 -2h2v2h-2m10 -2h2v2h-2m-775 0h2v1h-2m680 -2h2v2h-2m-681 0h3v1h-3m16 -3h2v3h-2m3 -6h1v6h-1m564 -3h1v3h-1m13 -3h3v3h-3m4 -3h4v3h-4m6 -3h1v3h-1m15 -3h4v3h-4m60 -1h1v1h-1m8 -6h1v6h-1m71 -1h1v1h-1m-44 6h4v2h-4m6 -2h2v2h-2m40 -1h1v1h-1m2 -2h6v2h-6m-768 -2h2v3h-2m19 -3h1v3h-1m570 -3h2v3h-2m145 -1h1v1h-1m-14 -1h6v2h-6m52 -2h2v2h-2m10 -2h1v2h-1m-778 -4h1v6h-1m7 -3h3v3h-3m578 -3h5v3h-5m144 -1h1v1h-1m35 -4h2v5h-2m1 0h1v1h-1m5 -2h2v2h-2m8 -2h1v2h-1m-189 -2h1v3h-1m175 -1h1v1h-1m-42 -1h2v2h-2m46 -2h4v2h-4m6 -2h2v2h-2m-190 -4h1v6h-1m184 -2h2v2h-2m-46 0h3v2h-3m48 -2h2v2h-2m-756 -11h1v12h-1m571 -3h2v3h-2m5 -3h2v3h-2m126 -11h4v12h-4m8 -1h1v1h-1m41 -2h3v2h-3m11 -6h2v6h-2m-762 -1h2v3h-2m575 -3h3v3h-3m127 -2h6v2h-6m52 -2h2v2h-2m4 -2h2v2h-2m-56 0h4v2h-4m-132 -2h1v3h-1m5 -3h1v3h-1m133 -2h1v2h-1m-707 0h1v3h-1m569 -3h3v3h-3m6 -3h2v3h-2m128 -4h2v4h-2m0 0h3v1h-3m48 -1h6v2h-6m-770 -5h2v6h-2m18 -3h1v3h-1m573 -3h3v3h-3m181 -1h2v2h-2m8 -2h2v2h-2m-759 -1h1v3h-1m566 -3h1v3h-1m6 -3h3v3h-3m127 -10h1v10h-1m50 -2h2v2h-2m8 -2h2v2h-2m-190 0h3v3h-3m134 -8h2v9h-2m50 -2h2v2h-2m10 -2h1v2h-1m-63 -4h2v5h-2m-125 -2h2v3h-2m180 -2h4v2h-4m2 0h2v2h-2m-776 -8h2v9h-2m18 -6h1v6h-1m569 -6h1v6h-1m185 -1h2v2h-2m8 -2h2v2h-2m-769 1h1v1h-1m8 -3h1v3h-1m570 -6h2v6h-2m4 -3h1v3h-1m176 -2h1v2h-1m3 0h2v2h-2m6 -2h4v2h-4m-778 -2h2v3h-2m19 -3h2v3h-2m572 -3h5v3h-5m128 -10h1v10h-1m49 -1h4v2h-4m6 -2h2v2h-2m-756 -1h4v3h-4m570 -3h1v3h-1m3 -3h3v3h-3m131 -14h1v15h-1m50 -3h2v4h-2m8 -2h3v2h-3m-769 -2h1v3h-1m7 -3h3v3h-3m569 -3h2v3h-2m6 -3h3v3h-3m181 -1h4v2h-4m-764 -1h2v3h-2m8 -3h1v3h-1m575 -3h1v3h-1m177 -2h4v2h-4m-4 0h4v2h-4m-766 -8h2v9h-2m594 -3h2v3h-2m171 0h1v1h-1m7 -2h2v2h-2m4 -2h2v2h-2m4 -2h3v2h-3m-762 -1h1v3h-1m571 -6h2v6h-2m4 -3h3v3h-3m171 -1h1v1h-1m4 0h2v2h-2m6 -4h2v4h-2m-4 0h2v2h-2m-7 -1h1v2h-1m-745 -2h1v3h-1m570 -3h1v3h-1m174 -1h2v1h-2m18 -2h2v2h-2m-12 0h4v2h-4m6 -2h2v2h-2m-774 -5h2v6h-2m587 -3h1v3h-1m2 -3h2v3h-2m4 -9h1v9h-1m173 -1h2v2h-2m6 -2h2v2h-2m-753 -1h2v3h-2m699 -27h2v27h-2m41 -1h1v1h-1m5 -2h2v2h-2m10 -2h2v2h-2m-2 0h2v2h-2m-754 -2h2v3h-2m571 -3h2v3h-2m173 -1h4v2h-4m14 -4h2v4h-2m6 -2h1v2h-1m-772 -1h1v3h-1m413 -3h1v3h-1m164 -6h1v6h-1m6 -3h1v3h-1m165 -2h4v2h-4m-4 1h1v1h-1m6 -2h2v2h-2m-749 -2h1v3h-1m8 -3h3v3h-3m569 -3h1v3h-1m178 -3h2v4h-2m8 -2h4v2h-4m-49 0h1v1h-1m-144 -2h3v3h-3m13 -6h2v6h-2m170 -2h2v2h-2m4 -2h2v2h-2m-42 1h1v1h-1m26 -2h2v2h-2m6 -2h4v2h-4m8 -2h4v2h-4m8 -2h2v2h-2m4 -2h2v2h-2m-323 0h1v1h-1m120 -3h1v3h-1m8 -3h1v3h-1m4 -6h1v6h-1m131 -15h1v15h-1m36 -1h6v2h-6m-300 1h1v1h-1m36 -3h2v3h-2m258 -2h2v2h-2m18 -2h2v2h-2m10 -4h2v4h-2m4 -2h2v2h-2m-49 0h1v1h-1m13 -1h2v1h-2m-20 -1h2v2h-2m18 -1h4v1h-4m32 -2h2v2h-2m-774 -8h2v9h-2m427 -3h1v3h-1m67 -9h1v9h-1m95 -9h2v9h-2m4 -3h1v3h-1m131 -1h4v1h-4m10 -1h2v1h-2m10 -1h4v1h-4m8 -1h2v1h-2m4 -1h2v1h-2m6 -1h2v1h-2m14 -1h2v1h-2m6 -3h1v3h-1m-348 23h2v6h-2m100 -6h2v6h-2m12 -6h1v6h-1m2 -6h2v6h-2m5 -6h1v6h-1m3 -6h3v6h-3m4 -6h1v6h-1m3 -6h1v6h-1m3 -6h1v6h-1m149 -6h2v6h-2m16 -6h1v6h-1m11 -6h1v6h-1m4 -6h4v6h-4m13 -6h1v6h-1m4 -6h1v6h-1m9 -6h1v6h-1m-787 0h1v11h-1m7 -11h4v11h-4m6 -11h4v11h-4m7 -11h1v11h-1m3 -11h4v11h-4m5 -11h1v11h-1m558 -11h3v11h-3m163 -11h3v11h-3m4 -11h1v11h-1m5 -11h3v11h-3m5 -11h1v11h-1m-760 0h1v10h-1m27 -10h1v10h-1m11 -10h1v10h-1m593 -10h1v10h-1m45 -10h2v10h-2m73 -10h1v10h-1m2 -10h3v10h-3m11 -10h5v10h-5m16 -10h1v10h-1m2 -10h2v10h-2m6 -10h1v10h-1m4 -10h2v10h-2m-312 -10h1v20h-1m276 -10h1v10h-1m4 -10h4v10h-4m13 -10h1v10h-1m4 -10h1v10h-1m9 -10h1v10h-1m-754 -10h2v21h-2m719 -11h1v21h-1m2 -21h3v21h-3m11 -21h5v21h-5m16 -21h1v21h-1m2 -21h2v21h-2m6 -21h1v21h-1m4 -21h2v21h-2"/>
<path fill="#00ff1c" d="M0 0m660 53h1v1h-1m3 -2h2v2h-2m17 -2h1v2h-1m11 -1h1v1h-1m-40 0h1v3h-1m3 -3h1v3h-1m2 -3h2v3h-2m25 -3h1v3h-1m-29 3h2v3h-2m16 -11h1v11h-1m12 -3h1v3h-1m3 -3h1v3h-1m13 -3h1v3h-1m-47 0h1v3h-1m20 -3h1v3h-1m17 -3h3v3h-3m8 -1h1v1h-1m-43 0h1v3h-1m31 -3h1v3h-1m7 -3h2v3h-2m-26 0h3v2h-3m1 0h2v1h-2m16 -3h1v3h-1m11 -3h1v3h-1m-23 0h1v3h-1m11 -3h2v3h-2m4 -3h1v3h-1m3 -3h1v3h-1m8 -3h1v3h-1m-28 0h1v1h-1m3 -1h2v3h-2m6 -3h2v3h-2m20 -3h1v3h-1m-12 0h1v3h-1m-11 0h1v1h-1m8 0h1v1h-1m11 -5h1v6h-1m-15 0h1v1h-1m7 -2h1v2h-1m-2 -1h1v3h-1m3 -2h2v2h-2m9 -3h1v3h-1m-10 0h1v3h-1m-1 0h2v3h-2m-2 0h1v3h-1m26 86h1v1h-1m8 -1h3v1h-3m17 -3h2v3h-2m-22 0h1v3h-1m3 -3h2v3h-2m16 -3h5v3h-5m-22 0h2v3h-2m10 -3h1v3h-1m12 -3h3v3h-3m-18 -3h4v6h-4m23 -6h2v6h-2m-40 0h1v3h-1m2 -3h2v3h-2m2 0h5v3h-5m13 -6h2v6h-2m19 -3h4v3h-4m6 -3h1v3h-1m-36 0h1v3h-1m7 -3h1v3h-1m3 -3h1v3h-1m3 -3h2v3h-2m21 -3h2v3h-2m-40 0h1v3h-1m2 -3h2v3h-2m19 -3h3v3h-3m21 -3h1v3h-1m-42 0h4v3h-4m6 -3h3v3h-3m8 -3h2v3h-2m3 -3h2v3h-2m4 -3h2v3h-2m-21 0h1v3h-1m2 -3h2v3h-2m4 -3h1v3h-1m-2 0h3v3h-3m11 -3h2v3h-2m6 -3h2v3h-2m17 -3h2v3h-2m4 -3h1v3h-1m-40 0h4v3h-4m15 -3h4v3h-4m19 -3h2v3h-2m-610 -1h1v2h-1m575 -1h3v3h-3m18 -3h2v3h-2m4 -6h1v6h-1m-600 0h1v1h-1m577 -1h7v3h-7m14 -3h2v3h-2m21 -6h1v6h-1m-608 0h1v2h-1m575 -2h2v3h-2m11 -3h2v3h-2m3 -3h3v3h-3m5 -3h2v3h-2m-598 -1h1v2h-1m4 0h1v1h-1m573 -5h1v6h-1m4 -3h2v3h-2m10 -3h1v3h-1m7 -3h3v3h-3m15 -6h2v6h-2m6 -3h1v3h-1m-619 0h1v2h-1m583 -2h3v3h-3m7 -3h1v3h-1m2 -3h1v3h-1m2 -3h7v3h-7m21 -3h2v3h-2m-610 0h1v1h-1m573 -4h1v6h-1m3 -3h2v3h-2m10 -3h2v3h-2m5 -3h2v3h-2m4 -3h1v3h-1m-21 0h2v3h-2m4 -3h1v3h-1m7 -3h1v3h-1m22 -6h3v6h-3m7 -6h1v6h-1m-620 -1h1v2h-1m585 -1h2v3h-2m6 -3h2v3h-2m6 -3h2v3h-2m16 -3h1v3h-1m5 -3h2v3h-2m-611 -1h1v3h-1m575 -5h2v6h-2m12 -3h1v3h-1m7 -6h1v6h-1m15 -3h2v3h-2m-616 -1h1v2h-1m7 -1h1v1h-1m571 -1h1v3h-1m7 -3h2v3h-2m6 -3h4v3h-4m8 -3h2v3h-2m-591 1h1v1h-1m4 -2h1v3h-1m4 -3h1v3h-1m564 -3h5v3h-5m36 -3h5v3h-5m121 0h4v1h-4m18 -1h4v1h-4m14 -1h2v1h-2m-32 0h2v1h-2m-729 -1h1v2h-1m3 -3h1v3h-1m3 -3h2v3h-2m564 -3h1v3h-1m14 -6h2v6h-2m5 -3h2v3h-2m4 -6h1v6h-1m12 -3h3v3h-3m5 -3h3v3h-3m137 -2h2v2h-2m8 -2h1v2h-1m2 -2h2v2h-2m-758 0h1v1h-1m732 -1h2v1h-2m8 -3h2v4h-2m8 -2h4v2h-4m12 -2h1v2h-1m-768 -5h1v6h-1m18 -3h2v3h-2m562 -3h1v3h-1m18 -3h5v3h-5m16 -3h1v3h-1m113 -1h1v1h-1m21 -1h1v1h-1m2 -1h4v1h-4m-1 0h5v1h-5m9 -2h2v2h-2m6 -2h6v2h-6m-13 0h1v1h-1m-739 -2h1v3h-1m5 -3h1v3h-1m568 -3h1v3h-1m13 -3h2v3h-2m4 -3h1v3h-1m17 -6h2v6h-2m145 -2h2v2h-2m4 -2h2v2h-2m-768 -2h1v4h-1m9 -2h1v2h-1m745 -4h2v4h-2m18 -2h3v2h-3m-760 -2h2v3h-2m3 -3h2v3h-2m571 -3h2v3h-2m6 -6h1v6h-1m8 -3h3v3h-3m154 -1h1v1h-1m1 0h1v1h-1m3 -2h2v2h-2m-748 0h1v1h-1m6 -2h1v3h-1m2 -3h2v3h-2m561 -3h2v3h-2m4 -3h2v3h-2m13 -3h2v3h-2m23 -3h2v3h-2m137 -1h1v1h-1m10 -6h2v6h-2m6 -2h2v2h-2m-772 -3h1v5h-1m10 -2h1v2h-1m750 -2h2v2h-2m10 -2h1v2h-1m-757 -2h1v3h-1m568 -3h2v3h-2m5 -3h2v3h-2m9 -3h1v3h-1m3 -3h2v3h-2m159 -1h1v1h-1m-758 -1h1v2h-1m767 -2h2v2h-2m4 -2h4v2h-4m-753 -1h1v3h-1m575 -3h2v3h-2m4 -3h4v3h-4m6 -9h1v9h-1m15 -3h2v3h-2m4 -3h1v3h-1m137 -2h1v2h-1m12 -2h2v2h-2m-10 0h2v1h-2m-760 -3h1v4h-1m761 -1h1v1h-1m7 -2h2v2h-2m-755 -2h1v3h-1m2 -3h1v3h-1m564 -3h1v3h-1m13 -3h1v3h-1m2 -3h2v3h-2m6 -3h3v3h-3m15 -3h6v3h-6m-616 -1h1v2h-1m762 -2h3v2h-3m9 -2h1v2h-1m-753 -1h1v3h-1m568 -9h1v9h-1m7 -3h2v3h-2m3 -3h5v3h-5m20 -3h2v3h-2m4 -3h2v3h-2m141 -2h1v2h-1m6 -2h2v2h-2m4 -2h2v2h-2m-770 -2h1v4h-1m11 -8h1v8h-1m757 -2h2v2h-2m-755 -2h1v3h-1m5 -3h2v3h-2m561 -3h1v3h-1m2 -3h7v3h-7m11 -3h1v3h-1m4 -3h2v3h-2m4 -3h2v3h-2m160 -1h1v1h-1m-762 -1h1v4h-1m14 -3h2v3h-2m4 -3h1v3h-1m565 -3h4v3h-4m12 -3h1v3h-1m2 -3h3v3h-3m20 -3h2v3h-2m4 -3h3v3h-3m142 -2h1v2h-1m3 -2h2v2h-2m-185 0h1v3h-1m13 -3h1v3h-1m8 -3h2v3h-2m15 -3h6v3h-6m153 -1h1v2h-1m-769 -2h1v4h-1m18 -6h1v6h-1m569 -3h2v3h-2m14 -3h3v3h-3m162 -2h2v2h-2m8 -2h2v2h-2m-772 0h1v2h-1m763 -2h1v2h-1m-747 -5h1v6h-1m2 -3h1v3h-1m563 -3h2v3h-2m6 -3h1v3h-1m29 -3h1v3h-1m3 -3h2v3h-2m-618 -1h1v2h-1m775 -2h1v2h-1m-761 -1h2v3h-2m582 -3h3v3h-3m7 -6h1v6h-1m17 -3h3v3h-3m148 -2h3v2h-3m-770 0h1v2h-1m19 -2h1v3h-1m563 -6h1v6h-1m14 -3h1v3h-1m2 -3h5v3h-5m19 -3h1v3h-1m3 -3h5v3h-5m144 -1h3v1h-3m-1 0h4v1h-4m5 -2h3v2h-3m-768 0h1v2h-1m589 -3h2v3h-2m9 -3h1v3h-1m20 -3h2v3h-2m4 -3h2v3h-2m145 -2h2v2h-2m-751 -3h1v6h-1m3 -6h4v6h-4m563 -3h1v3h-1m4 -3h2v3h-2m9 -6h2v6h-2m166 -1h1v1h-1m-760 -1h1v2h-1m758 0h1v1h-1m-757 -1h1v2h-1m18 -3h1v3h-1m563 -3h3v3h-3m15 -3h1v3h-1m5 -3h2v3h-2m14 -3h3v3h-3m7 -3h1v3h-1m134 -1h1v1h-1m9 -2h2v2h-2m6 -2h2v2h-2m-44 6h3v1h-3m-4 -1h2v2h-2m4 -1h1v1h-1m2 -1h1v1h-1m38 -2h2v2h-2m8 -2h1v2h-1m-770 -2h2v3h-2m4 -3h3v3h-3m4 -3h2v3h-2m712 -1h2v1h-2m0 0h3v1h-3m46 -2h2v2h-2m-768 -4h1v6h-1m14 -6h2v6h-2m706 -2h2v2h-2m2 0h1v1h-1m-6 -3h2v4h-2m42 -1h1v1h-1m2 -4h4v4h-4m10 -4h2v4h-2m-780 -2h2v3h-2m731 -1h1v1h-1m37 0h1v1h-1m8 -4h2v4h-2m-46 0h1v1h-1m-711 -5h2v6h-2m705 -2h2v2h-2m5 0h1v1h-1m40 -1h1v1h-1m-769 -1h2v3h-2m17 -9h1v9h-1m2 -3h1v3h-1m2 -3h1v3h-1m2 -3h1v3h-1m701 -1h2v2h-2m5 -2h1v2h-1m39 -2h1v2h-1m6 -2h2v2h-2m4 -2h2v2h-2m-50 0h1v1h-1m-729 -2h3v3h-3m21 -3h2v3h-2m5 -3h1v3h-1m744 -2h1v2h-1m9 -2h5v2h-5m0 0h4v2h-4m-778 -2h2v3h-2m18 -3h2v3h-2m4 -3h3v3h-3m702 -1h2v1h-2m0 0h3v1h-3m52 -2h2v2h-2m-758 -1h1v3h-1m2 -3h1v3h-1m3 -3h3v3h-3m701 -2h1v2h-1m45 -2h3v2h-3m-45 1h1v1h-1m52 -2h2v2h-2m4 -6h2v6h-2m-781 -2h1v3h-1m22 -3h1v3h-1m2 -3h1v3h-1m751 -1h2v2h-2m4 -2h2v2h-2m-778 -1h2v3h-2m18 -3h2v3h-2m4 -3h2v3h-2m3 -3h1v3h-1m699 -2h1v2h-1m52 -2h2v2h-2m-4 0h2v2h-2m-754 -2h3v3h-3m5 -3h2v3h-2m746 -3h1v4h-1m-48 -14h1v15h-1m-700 -2h1v3h-1m3 -3h1v3h-1m748 -2h2v2h-2m6 -2h2v2h-2m-759 0h2v3h-2m6 -3h1v3h-1m-8 0h2v1h-2m752 -4h1v4h-1m7 -2h2v2h-2m-776 -1h2v3h-2m20 -3h1v3h-1m749 0h1v2h-1m-759 -2h2v3h-2m8 -5h1v5h-1m3 -3h3v3h-3m746 -1h1v2h-1m5 -2h2v2h-2m6 -2h2v2h-2m-779 -1h3v3h-3m24 -3h1v3h-1m747 -2h2v2h-2m6 -2h2v2h-2m-56 -13h2v14h-2m3 -15h1v15h-1m43 -1h1v2h-1m12 -2h2v2h-2m-768 -5h1v6h-1m11 -3h2v3h-2m746 -1h1v3h-1m-768 -2h1v3h-1m23 -3h1v3h-1m744 -1h2v1h-2m16 -2h1v2h-1m-10 0h2v2h-2m-762 -2h2v3h-2m8 -3h2v3h-2m747 -1h1v1h-1m-1 1h1v1h-1m-764 -2h2v3h-2m11 -3h1v3h-1m8 -3h1v3h-1m751 -2h2v2h-2m-50 -11h4v12h-4m-702 -1h1v3h-1m3 -9h1v9h-1m2 -9h1v9h-1m740 -1h3v1h-3m1 0h2v1h-2m4 -2h2v2h-2m6 -2h2v2h-2m8 -4h1v4h-1m-760 -1h1v3h-1m744 -2h2v2h-2m4 -2h2v2h-2m6 -2h2v4h-2m4 -2h3v2h-3m-781 -2h1v3h-1m11 -9h2v9h-2m9 -6h1v6h-1m741 0h1v1h-1m16 -2h4v2h-4m6 -2h1v2h-1m-23 0h3v1h-3m-760 -2h3v3h-3m19 -3h1v3h-1m3 -3h1v3h-1m699 -11h1v11h-1m38 -1h1v1h-1m2 -1h2v1h-2m12 -2h2v2h-2m6 -2h2v2h-2m-21 0h1v2h-1m2 -2h1v2h-1m21 -2h3v2h-3m-760 -2h3v3h-3m702 -14h2v14h-2m-3 -3h2v4h-2m38 -1h1v1h-1m9 -2h2v2h-2m-766 -4h2v6h-2m11 -3h1v3h-1m7 -3h2v3h-2m3 -3h1v3h-1m755 -2h2v2h-2m-22 0h1v1h-1m18 -1h4v2h-4m10 -4h1v4h-1m-783 -2h3v3h-3m19 -3h1v3h-1m5 -3h1v3h-1m701 0h1v1h-1m29 -1h1v1h-1m9 -2h2v2h-2m-762 -1h2v3h-2m21 -3h1v3h-1m735 -2h4v2h-4m10 -2h2v2h-2m4 -2h2v2h-2m6 -2h2v2h-2m4 -2h3v2h-3m-54 0h1v1h-1m25 -1h1v1h-1m-1 0h2v1h-2m32 -2h1v2h-1m-771 -5h1v6h-1m7 -6h2v6h-2m3 -3h2v3h-2m698 -11h1v11h-1m9 -2h1v2h-1m20 -1h1v1h-1m-20 0h4v1h-4m44 -2h2v2h-2m8 -2h2v2h-2m-52 0h1v1h-1m19 -2h1v2h-1m-737 -2h1v3h-1m9 -3h1v3h-1m4 -3h1v3h-1m699 -15h1v15h-1m6 -1h4v1h-4m8 -1h1v1h-1m9 -1h3v1h-3m9 -2h4v2h-4m-11 0h1v1h-1m-17 -1h4v2h-4m6 -1h1v1h-1m2 -1h3v1h-3m5 -1h1v1h-1m11 -2h2v2h-2m26 -2h2v2h-2m-765 -2h1v3h-1m7 -3h2v3h-2m4 -3h2v3h-2m436 -3h1v3h-1m260 -6h2v6h-2m12 -1h2v1h-2m6 -1h2v1h-2m-319 23h1v6h-1m11 -6h1v6h-1m16 -6h2v6h-2m4 -6h2v6h-2m3 -6h1v6h-1m2 -6h1v6h-1m31 -6h1v6h-1m2 -6h2v6h-2m6 -6h1v6h-1m5 -6h1v6h-1m2 -6h1v6h-1m38 -6h7v6h-7m8 -6h1v6h-1m2 -6h1v6h-1m4 -6h2v6h-2m3 -6h1v6h-1m5 -6h1v6h-1m2 -6h2v6h-2m6 -6h1v6h-1m3 -6h4v6h-4m144 -6h1v6h-1m8 -6h1v6h-1m6 -6h2v6h-2m4 -6h1v6h-1m2 -6h3v6h-3m4 -6h1v6h-1m5 -6h3v6h-3m9 -6h1v6h-1m2 -6h5v6h-5m6 -6h3v6h-3m4 -6h8v6h-8m9 -6h1v6h-1m2 -6h3v6h-3m5 -6h3v6h-3m-794 0h2v11h-2m4 -11h2v11h-2m7 -11h1v11h-1m5 -11h1v11h-1m4 -11h1v11h-1m561 -11h4v11h-4m9 -11h1v11h-1m161 -11h1v11h-1m2 -11h3v11h-3m-750 0h1v10h-1m5 -10h1v10h-1m10 -10h1v10h-1m6 -10h3v10h-3m561 -10h3v10h-3m7 -10h2v10h-2m8 -10h1v10h-1m2 -10h2v10h-2m5 -10h1v10h-1m2 -10h1v10h-1m4 -10h1v10h-1m3 -10h1v10h-1m12 -10h2v10h-2m4 -10h1v10h-1m10 -10h8v10h-8m9 -10h1v10h-1m5 -10h2v10h-2m3 -10h2v10h-2m7 -10h1v10h-1m4 -10h2v10h-2m11 -10h5v10h-5m7 -10h2v10h-2m5 -10h1v10h-1m3 -10h3v10h-3m49 -10h1v10h-1m-271 -10h2v20h-2m5 -20h1v20h-1m2 -20h3v20h-3m7 -20h2v20h-2m3 -20h3v20h-3m6 -20h1v20h-1m21 -20h1v20h-1m2 -20h2v20h-2m4 -20h1v20h-1m2 -20h2v20h-2m6 -20h1v20h-1m6 -20h1v20h-1m4 -20h2v20h-2m206 -10h3v10h-3m4 -10h1v10h-1m5 -10h3v10h-3m9 -10h1v10h-1m2 -10h5v10h-5m6 -10h3v10h-3m4 -10h8v10h-8m9 -10h1v10h-1m2 -10h3v10h-3m5 -10h3v10h-3m-766 -10h4v21h-4m6 -21h6v21h-6m7 -21h1v21h-1m715 10h1v10h-1m4 -10h4v10h-4m11 -10h1v10h-1m2 -10h1v10h-1m3 -10h2v10h-2m3 -10h1v10h-1m7 -10h2v10h-2"/>
<path fill="#02ff00" d="M0 0m673 52h2v2h-2m-4 -2h1v5h-1m2 -3h2v3h-2m4 -3h4v3h-4m14 -1h1v1h-1m-34 0h1v3h-1m24 -3h1v3h-1m12 -3h1v3h-1m-46 0h1v3h-1m11 -3h2v3h-2m7 -3h2v3h-2m3 -3h2v3h-2m9 -3h2v3h-2m11 -3h1v3h-1m-31 0h1v3h-1m18 -3h2v3h-2m4 -3h2v3h-2m15 -3h2v3h-2m5 0h1v1h-1m-42 -1h3v2h-3m0 0h1v1h-1m8 -3h2v3h-2m18 -3h1v3h-1m10 -3h3v3h-3m6 -2h2v2h-2m-39 0h2v1h-2m17 -4h2v6h-2m7 -3h2v3h-2m2 0h2v3h-2m11 -3h1v3h-1m-13 0h1v3h-1m5 -6h2v6h-2m-18 0h1v1h-1m-2 -1h1v2h-1m12 -2h1v3h-1m4 0h1v1h-1m114 83h1v1h-1m-1 0h2v2h-2m-2 0h2v3h-2m0 6h2v3h-2m-84 2h4v1h-4m86 -3h2v3h-2m-90 0h3v3h-3m-11 4h2v2h-2m11 -3h2v3h-2m10 -3h1v3h-1m-10 0h1v3h-1m2 -3h1v3h-1m4 -3h4v3h-4m-6 0h2v3h-2m3 -3h1v3h-1m-12 0h2v3h-2m9 0h1v3h-1m6 -3h2v3h-2m4 0h1v3h-1m-10 0h1v3h-1m2 -3h2v3h-2m88 -6h2v6h-2m-102 -3h1v6h-1m6 -3h2v3h-2m16 -3h1v3h-1m82 -3h1v3h-1m-84 0h2v3h-2m-595 1h1v1h-1m590 -5h1v6h-1m89 -3h1v3h-1m-88 0h4v3h-4m6 0h1v3h-1m80 -3h2v3h-2m-676 -1h1v2h-1m-4 0h1v2h-1m579 -3h2v3h-2m11 -3h1v3h-1m2 -6h1v6h-1m2 -3h4v3h-4m84 -3h2v3h-2m-674 -1h1v3h-1m573 -2h1v3h-1m4 -3h2v3h-2m10 -3h1v3h-1m-591 -1h1v2h-1m583 -1h1v3h-1m7 -3h1v3h-1m3 -6h1v6h-1m-593 0h1v2h-1m593 -2h3v3h-3m-588 -3h1v5h-1m578 -2h1v3h-1m98 -6h1v6h-1m-676 0h1v2h-1m572 -5h1v6h-1m13 -3h2v3h-2m4 -3h4v3h-4m-15 -3h2v6h-2m4 -3h1v3h-1m-584 -2h1v3h-1m7 -1h1v1h-1m-7 1h1v1h-1m585 -3h2v3h-2m6 -3h1v3h-1m-584 -1h1v2h-1m752 -1h2v1h-2m-20 0h2v1h-2m-155 -2h1v3h-1m10 -3h1v3h-1m5 -3h2v3h-2m146 -2h2v2h-2m6 -2h2v2h-2m7 -2h1v2h-1m-27 0h4v1h-4m6 -1h2v1h-2m7 -1h3v1h-3m-737 0h1v1h-1m721 -1h1v1h-1m11 -1h2v1h-2m7 -1h1v1h-1m7 -2h2v2h-2m6 -2h2v2h-2m-177 -2h3v3h-3m11 -3h1v3h-1m150 -1h2v1h-2m-744 0h1v1h-1m727 -1h1v1h-1m18 -1h1v1h-1m3 -1h1v1h-1m8 -2h2v2h-2m-747 -2h1v4h-1m570 -3h1v3h-1m2 -3h4v3h-4m12 -3h2v3h-2m87 -3h1v3h-1m78 -2h2v2h-2m-750 0h1v1h-1m744 -1h1v1h-1m1 0h1v1h-1m4 -2h1v2h-1m3 -2h2v2h-2m4 -2h2v2h-2m-184 -2h1v3h-1m13 -3h1v3h-1m2 -3h1v3h-1m3 -3h2v3h-2m-589 -1h1v2h-1m745 -1h1v1h-1m2 -2h2v2h-2m-746 1h1v1h-1m583 -3h3v3h-3m7 -3h2v3h-2m-599 -8h1v10h-1m579 -2h1v3h-1m12 -3h2v3h-2m4 -3h2v3h-2m160 -1h1v1h-1m2 -1h2v1h-2m-758 -1h1v2h-1m9 -2h2v2h-2m748 -1h1v1h-1m2 -1h1v1h-1m-758 0h1v2h-1m759 1h1v1h-1m-164 -2h4v3h-4m163 -1h2v1h-2m-759 -1h1v2h-1m10 -6h1v6h-1m749 -1h1v1h-1m5 -2h2v2h-2m-170 -1h1v3h-1m6 -3h2v3h-2m-599 0h1v2h-1m9 -2h1v2h-1m751 -2h1v2h-1m-750 0h1v1h-1m587 -3h2v3h-2m-599 -1h2v2h-2m0 0h1v2h-1m587 -3h2v3h-2m14 -3h3v3h-3m160 -3h1v3h-1m2 -2h2v2h-2m-751 -2h1v3h-1m-12 -1h2v2h-2m765 -2h2v2h-2m-169 -2h5v3h-5m7 -3h1v3h-1m82 -3h1v3h-1m77 -1h5v2h-5m-761 -2h1v3h-1m585 -5h1v6h-1m7 -3h2v3h-2m6 -3h2v3h-2m163 -2h1v2h-1m-762 0h1v2h-1m12 -2h1v2h-1m749 -2h1v2h-1m-166 -2h4v3h-4m170 -1h2v2h-2m-171 -1h2v3h-2m7 -6h2v6h-2m166 -2h1v2h-1m-4 0h2v2h-2m-177 -2h1v3h-1m175 -1h1v1h-1m4 -1h1v2h-1m-764 0h1v2h-1m602 -3h1v3h-1m157 -2h1v2h-1m-761 -8h1v10h-1m760 -1h1v1h-1m6 -2h2v2h-2m-179 -2h1v3h-1m9 -3h1v3h-1m2 -6h2v6h-2m84 -3h1v3h-1m-681 -1h1v2h-1m758 -1h1v1h-1m-2 0h1v1h-1m-172 -2h5v3h-5m171 -1h1v1h-1m6 -6h2v6h-2m6 -2h2v2h-2m-42 6h2v2h-2m5 -2h1v2h-1m39 -2h2v2h-2m-777 -2h1v3h-1m12 -3h1v3h-1m11 -3h1v3h-1m713 -1h1v1h-1m30 -1h1v1h-1m2 -1h1v1h-1m-768 0h4v3h-4m6 -6h1v6h-1m3 -3h2v3h-2m8 -3h2v3h-2m3 -3h5v3h-5m709 -2h2v2h-2m39 -2h1v2h-1m15 -2h1v2h-1m-49 0h1v1h-1m-1 0h1v1h-1m-733 -2h1v3h-1m3 -3h1v3h-1m19 -3h7v3h-7m703 -1h2v2h-2m4 -2h2v2h-2m3 -1h1v1h-1m39 -2h2v2h-2m-771 -1h3v3h-3m4 -3h1v3h-1m18 -3h5v3h-5m705 -2h2v2h-2m4 -1h1v1h-1m39 -2h3v2h-3m-37 0h1v1h-1m-3 0h1v1h-1m40 -1h1v1h-1m9 -2h2v2h-2m-779 -2h1v3h-1m21 -3h1v3h-1m5 -3h3v3h-3m747 -1h2v2h-2m10 -2h1v2h-1m-56 -2h2v3h-2m3 -1h1v1h-1m-707 -5h1v6h-1m2 -3h1v3h-1m702 -1h1v1h-1m2 -1h1v1h-1m40 -2h1v2h-1m-44 0h2v2h-2m48 -2h2v2h-2m-752 -2h2v3h-2m5 -3h1v3h-1m702 -3h1v4h-1m42 -2h1v2h-1m5 -2h2v2h-2m4 -2h2v2h-2m-53 0h1v1h-1m-726 -2h1v3h-1m22 -3h1v3h-1m747 -2h1v2h-1m8 -2h2v2h-2m6 -4h1v4h-1m-763 0h2v3h-2m3 -3h1v3h-1m2 -3h2v3h-2m746 -1h2v2h-2m-768 -1h2v3h-2m18 -3h1v3h-1m4 -3h1v3h-1m2 -3h2v3h-2m699 -2h1v2h-1m49 -2h2v2h-2m2 0h2v2h-2m6 -6h1v6h-1m-783 -5h1v6h-1m22 -3h1v3h-1m747 -3h1v4h-1m10 -2h2v2h-2m-8 0h2v1h-2m-768 -2h1v3h-1m17 -3h2v3h-2m3 -3h2v3h-2m3 -6h1v6h-1m744 -1h3v1h-3m11 -2h2v2h-2m-6 0h2v2h-2m6 -2h3v2h-3m-763 -23h1v24h-1m4 -3h1v3h-1m2 -3h2v3h-2m3 -3h2v3h-2m-5 0h7v1h-7m757 -2h2v2h-2m-11 0h1v1h-1m-764 -2h1v3h-1m7 -1h1v1h-1m11 -2h3v2h-3m746 -1h2v1h-2m15 -4h1v4h-1m-12 -2h2v4h-2m6 -2h2v2h-2m-777 -8h1v9h-1m3 -3h1v3h-1m764 -1h1v2h-1m2 0h2v1h-2m-765 -2h1v3h-1m8 -3h1v3h-1m11 -3h1v3h-1m745 -1h3v1h-3m7 -2h2v2h-2m4 -2h2v2h-2m-4 0h4v2h-4m-775 -2h1v3h-1m779 -1h2v2h-2m4 -2h1v2h-1m-16 0h1v1h-1m-747 -2h3v3h-3m4 -6h1v6h-1m745 -2h2v2h-2m6 -2h2v2h-2m-9 0h1v2h-1m15 -2h2v2h-2m-778 -2h1v3h-1m764 -1h4v2h-4m-767 -1h1v3h-1m11 -3h1v3h-1m10 -6h1v6h-1m743 -2h1v2h-1m15 -2h2v2h-2m-15 1h1v1h-1m9 -4h2v4h-2m8 -2h2v2h-2m-781 -2h3v3h-3m4 -3h1v3h-1m16 -3h2v3h-2m3 -9h1v9h-1m754 -1h4v2h-4m-14 -1h1v2h-1m-763 -2h1v3h-1m21 -3h2v3h-2m3 -3h1v3h-1m745 -2h2v2h-2m4 -2h2v2h-2m-6 0h2v2h-2m-748 -2h1v3h-1m2 -3h3v3h-3m740 -1h1v1h-1m2 -1h4v2h-4m-4 0h1v1h-1m-736 -2h1v3h-1m740 -2h2v2h-2m4 -2h6v2h-6m14 -2h2v2h-2m-24 0h1v2h-1m18 -2h2v2h-2m-771 -2h1v3h-1m7 -6h2v6h-2m747 -1h1v1h-1m-36 -14h1v15h-1m2 -1h1v1h-1m37 -4h2v4h-2m-3 0h1v1h-1m-758 -2h1v3h-1m21 -3h1v3h-1m2 -3h2v3h-2m701 -2h2v2h-2m33 -1h2v1h-2m6 -2h4v2h-4m-39 0h1v2h-1m45 -4h2v4h-2m12 -6h2v6h-2m-777 -2h1v3h-1m19 -3h1v3h-1m701 -1h2v1h-2m30 -1h1v1h-1m-1 0h1v1h-1m8 -2h2v2h-2m18 -2h2v2h-2m4 -2h1v2h-1m-29 0h1v1h-1m-731 -2h2v3h-2m730 -1h2v1h-2m20 -2h2v2h-2m-45 0h3v1h-3m-4 -4h1v5h-1m4 -1h1v1h-1m2 -1h1v1h-1m25 -2h4v2h-4m-744 -8h1v9h-1m10 -6h1v6h-1m3 -3h1v3h-1m706 -1h3v1h-3m17 -1h2v1h-2m-23 -1h3v2h-3m15 -1h2v1h-2m8 -1h1v1h-1m4 -2h2v2h-2m18 -2h2v2h-2m-38 0h2v1h-2m6 -1h2v1h-2m9 -1h1v1h-1m-746 -8h1v9h-1m3 -3h1v3h-1m9 -3h1v3h-1m7 -3h1v3h-1m2 -3h3v3h-3m700 -14h2v14h-2m3 -2h1v2h-1m14 -1h1v1h-1m7 -1h1v1h-1m18 -2h4v2h-4m12 -2h2v2h-2m4 -2h2v2h-2m-44 0h6v1h-6m8 -1h1v1h-1m-9 0h1v1h-1m4 -1h2v1h-2m29 -2h8v2h-8m-756 -2h1v3h-1m10 -3h2v3h-2m700 -3h4v3h-4m30 -1h2v1h-2m4 -3h2v3h-2m12 -1h6v1h-6m-347 23h2v6h-2m4 -6h3v6h-3m4 -6h1v6h-1m2 -6h2v6h-2m3 -6h2v6h-2m4 -6h1v6h-1m2 -6h3v6h-3m4 -6h1v6h-1m5 -6h1v6h-1m3 -6h1v6h-1m2 -6h1v6h-1m33 -6h1v6h-1m3 -6h2v6h-2m5 -6h1v6h-1m3 -6h1v6h-1m2 -6h1v6h-1m2 -6h1v6h-1m32 -6h2v6h-2m4 -6h1v6h-1m8 -6h1v6h-1m6 -6h1v6h-1m18 -6h2v6h-2m6 -6h3v6h-3m130 -6h3v6h-3m4 -6h3v6h-3m5 -6h1v6h-1m4 -6h2v6h-2m3 -6h1v6h-1m3 -6h1v6h-1m7 -6h1v6h-1m3 -6h1v6h-1m4 -6h1v6h-1m2 -6h3v6h-3m11 -6h2v6h-2m3 -6h1v6h-1m21 -6h1v6h-1m4 -6h2v6h-2m-782 0h1v11h-1m7 -11h1v11h-1m4 -11h1v11h-1m567 -11h2v11h-2m141 -11h2v11h-2m16 -11h1v11h-1m-741 0h1v10h-1m2 -10h2v10h-2m3 -10h1v10h-1m3 -10h3v10h-3m7 -10h1v10h-1m3 -10h2v10h-2m5 -10h1v10h-1m521 -21h1v21h-1m19 -21h1v21h-1m2 -21h1v21h-1m5 -21h1v21h-1m7 -10h4v10h-4m9 -10h2v10h-2m4 -10h1v10h-1m2 -10h1v10h-1m2 -10h2v10h-2m3 -10h1v10h-1m3 -10h3v10h-3m4 -10h1v10h-1m4 -10h1v10h-1m2 -10h2v10h-2m3 -10h5v10h-5m8 -10h3v10h-3m5 -10h1v10h-1m4 -10h1v10h-1m16 -10h1v10h-1m4 -10h2v10h-2m7 -10h1v10h-1m3 -10h2v10h-2m3 -10h3v10h-3m6 -10h1v10h-1m3 -10h2v10h-2m4 -10h1v10h-1m6 -10h2v10h-2m6 -10h1v10h-1m2 -10h2v10h-2m5 -10h1v10h-1m43 -10h2v10h-2m4 -10h1v10h-1m-276 -10h3v20h-3m6 -20h3v20h-3m8 -20h4v20h-4m6 -20h1v20h-1m6 -20h1v20h-1m19 -20h3v20h-3m4 -20h1v20h-1m3 -20h2v20h-2m3 -20h1v20h-1m5 -20h2v20h-2m3 -20h3v20h-3m4 -20h1v20h-1m2 -20h2v20h-2m5 -20h2v20h-2m41 -10h3v10h-3m48 -10h1v10h-1m16 -10h1v10h-1m21 -10h1v10h-1m8 -10h2v10h-2m7 -10h1v10h-1m3 -10h2v10h-2m63 -10h1v10h-1m2 -10h3v10h-3m11 -10h2v10h-2m3 -10h1v10h-1m21 -10h1v10h-1m4 -10h2v10h-2m-752 -10h1v21h-1m-9 0h4v10h-4m717 0h3v10h-3m4 -10h2v10h-2m5 -10h3v10h-3m7 -10h1v10h-1m2 -10h1v10h-1m2 -10h3v10h-3m4 -10h1v10h-1m2 -10h2v10h-2m4 -10h1v10h-1m2 -10h6v10h-6m9 -10h3v10h-3m5 -10h3v10h-3"/>
<path fill="#20ff00" d="M0 0m794 166h2v2h-2m2 0h2v3h-2m-2 3h2v3h-2m4 3h1v3h-1m0 6h1v3h-1m-2 3h2v3h-2m2 0h1v3h-1m0 3h1v3h-1m-4 3h2v3h-2m-1 0h1v3h-1m-674 4h1v1h-1m674 -2h1v3h-1m5 -3h1v3h-1m-679 0h1v2h-1m677 1h2v3h-2m-676 2h1v1h-1m-4 1h1v2h-1m4 -2h1v2h-1m678 -3h1v3h-1m-682 4h1v2h-1m5 -1h1v1h-1m672 -3h1v3h-1m-672 2h1v3h-1m-5 1h1v1h-1m5 -1h1v1h-1m-6 0h2v1h-2m6 -1h2v1h-2m-5 0h1v1h-1m682 -3h1v3h-1m-683 0h2v1h-2m6 -2h1v2h-1m729 0h2v1h-2m-735 -1h1v2h-1m7 -2h1v2h-1m671 -3h1v3h-1m59 -1h2v1h-2m3 -1h1v1h-1m3 -2h2v2h-2m10 -2h2v2h-2m4 -2h1v2h-1m-14 0h1v1h-1m-743 -1h2v2h-2m731 -1h4v1h-4m14 -1h1v1h-1m4 -2h2v2h-2m-742 0h1v1h-1m-7 -1h1v2h-1m737 -3h2v3h-2m6 -1h1v1h-1m6 0h1v1h-1m-71 -2h1v3h-1m4 -3h2v3h-2m68 -1h1v1h-1m-1 0h2v1h-2m1 0h2v1h-2m5 -2h1v2h-1m-748 -1h1v2h-1m671 -3h2v3h-2m0 0h1v3h-1m78 0h1v1h-1m-748 -3h1v4h-1m-1 0h1v1h-1m675 -3h1v3h-1m73 0h1v1h-1m-73 -1h2v3h-2m-674 0h1v2h-1m670 -2h1v3h-1m79 -1h1v2h-1m2 -1h1v1h-1m-759 -4h1v6h-1m9 -2h1v2h-1m749 -2h1v2h-1m1 0h1v1h-1m-81 -1h1v3h-1m4 -3h1v3h-1m-682 -1h1v2h-1m8 -2h1v2h-1m2 -1h1v1h-1m-11 0h1v2h-1m1 0h1v2h-1m10 -1h1v5h-1m669 -3h1v3h-1m3 -3h1v3h-1m76 -2h2v2h-2m-749 0h1v1h-1m-10 -2h1v5h-1m761 -2h1v2h-1m-82 -1h1v3h-1m5 -3h1v3h-1m77 -1h1v1h-1m-750 -2h1v4h-1m746 2h1v1h-1m-756 -1h1v2h-1m755 -1h3v1h-3m1 0h2v1h-2m-758 -9h1v10h-1m684 -2h1v3h-1m74 -2h1v2h-1m-757 -1h1v2h-1m11 -4h1v4h-1m745 -1h1v1h-1m-2 0h1v1h-1m-27 8h1v1h-1m5 -2h2v2h-2m-738 -2h1v3h-1m4 -3h4v3h-4m17 -3h1v3h-1m713 -1h1v1h-1m28 -1h1v1h-1m-29 0h1v1h-1m29 -1h2v1h-2m3 -1h1v1h-1m-753 -4h2v6h-2m12 -6h2v6h-2m740 -2h1v2h-1m1 0h1v1h-1m-34 0h1v1h-1m-730 -5h1v6h-1m731 1h1v1h-1m-708 -2h2v3h-2m705 -2h2v2h-2m2 0h1v1h-1m-1 0h2v1h-2m35 -2h2v2h-2m-743 -2h1v3h-1m743 -1h1v1h-1m-765 0h2v3h-2m21 -3h1v3h-1m706 -1h1v1h-1m-730 0h1v3h-1m27 -6h2v6h-2m702 -1h2v1h-2m0 0h1v1h-1m0 0h2v1h-2m-706 -2h1v3h-1m703 -1h1v1h-1m3 -1h1v1h-1m-3 0h2v1h-2m0 0h1v1h-1m-723 -5h1v6h-1m24 -3h2v3h-2m698 -1h1v1h-1m45 -1h1v2h-1m-2 0h1v2h-1m-765 0h2v3h-2m20 -3h1v3h-1m745 -1h1v2h-1m2 0h1v1h-1m-770 -2h1v3h-1m27 -3h2v3h-2m742 0h1v2h-1m-765 -5h1v6h-1m19 -3h1v3h-1m702 1h1v1h-1m44 -2h1v2h-1m-2 -1h1v2h-1m2 0h1v2h-1m-765 -2h1v3h-1m764 1h1v1h-1m-4 3h1v2h-1m3 -1h1v1h-1m-764 -1h1v3h-1m763 -2h1v2h-1m-766 0h1v3h-1m765 -2h1v3h-1m-2 0h1v2h-1m-1 0h1v1h-1m2 -1h1v1h-1m-3 0h2v1h-2m2 0h1v1h-1m-38 -1h1v2h-1m-722 -1h1v3h-1m759 -1h1v1h-1m0 1h1v1h-1m-4 1h1v1h-1m2 -1h1v1h-1m-757 -4h2v6h-2m756 1h1v1h-1m-759 -2h1v3h-1m24 -9h1v9h-1m703 -1h2v2h-2m30 -1h1v1h-1m-3 0h1v1h-1m-751 -2h2v3h-2m723 -2h1v2h-1m27 -1h2v1h-2m-3 0h1v1h-1m-25 -1h1v2h-1m2 -2h1v2h-1m2 -2h2v2h-2m20 -1h2v1h-2m-1 0h1v1h-1m5 -1h1v1h-1m-27 -1h1v2h-1m21 -1h2v1h-2m5 0h2v1h-2m-748 -2h1v3h-1m748 -1h1v1h-1m-1 0h1v1h-1m-3 0h1v1h-1m-745 -2h2v3h-2m736 -1h4v1h-4m2 0h2v1h-2m-11 0h1v1h-1m15 -1h1v1h-1m2 -1h1v1h-1m-14 0h1v1h-1m2 -1h1v1h-1m7 -1h1v1h-1m-9 0h2v1h-2m9 0h1v1h-1m-742 -2h1v3h-1m4 -6h1v6h-1m415 23h1v6h-1m3 -6h2v6h-2m10 -6h1v6h-1m6 -6h1v6h-1m4 -6h1v6h-1m2 -6h1v6h-1m3 -6h1v6h-1m8 -6h1v6h-1m36 -6h2v6h-2m5 -6h1v6h-1m69 -6h2v6h-2m143 -6h1v6h-1m4 -6h2v6h-2m3 0h1v11h-1m8 -11h1v11h-1m6 -11h2v11h-2m4 -11h1v11h-1m-745 0h1v10h-1m4 -10h1v10h-1m6 -10h1v10h-1m9 -10h1v10h-1m529 -21h1v21h-1m2 -21h1v21h-1m2 -21h1v21h-1m6 -21h5v21h-5m7 -21h1v21h-1m4 -21h3v21h-3m7 -21h1v21h-1m3 -21h1v21h-1m8 -10h2v10h-2m7 -10h1v10h-1m2 -10h1v10h-1m13 -10h2v10h-2m12 -10h3v10h-3m9 -10h1v10h-1m4 -10h7v10h-7m17 -10h2v10h-2m6 -10h1v10h-1m4 -10h2v10h-2m10 -10h1v10h-1m2 -10h2v10h-2m16 -10h2v10h-2m54 -10h1v10h-1m3 -10h1v10h-1m-745 0h2v10h-2m471 -20h1v20h-1m21 -20h1v20h-1m34 -20h2v20h-2m8 -20h1v20h-1m5 -20h1v20h-1m40 -10h4v10h-4m7 -10h1v10h-1m2 -10h1v10h-1m2 -10h2v10h-2m6 -10h6v10h-6m9 -10h1v10h-1m2 -10h1v10h-1m4 -10h1v10h-1m3 -10h2v10h-2m3 -10h1v10h-1m2 -10h1v10h-1m7 -10h2v10h-2m4 -10h1v10h-1m10 -10h7v10h-7m9 -10h1v10h-1m5 -10h2v10h-2m3 -10h2v10h-2m7 -10h2v10h-2m5 -10h1v10h-1m9 -10h5v10h-5m13 -10h1v10h-1m3 -10h4v10h-4m-668 11h3v10h-3m7 -10h7v10h-7m716 0h1v10h-1m3 -10h2v10h-2m11 -10h1v10h-1m2 -10h1v10h-1m21 -10h1v10h-1m4 -10h2v10h-2"/>
<path fill="#3eff00" d="M0 0m798 165h1v3h-1m-5 0h1v3h-1m3 0h3v3h-3m2 3h1v3h-1m-5 6h3v3h-3m0 3h3v3h-3m5 0h1v3h-1m-4 0h4v3h-4m-1 0h1v3h-1m1 3h2v3h-2m4 -3h1v3h-1m-681 2h1v4h-1m676 0h1v3h-1m-674 -1h1v2h-1m0 1h1v1h-1m-2 -2h1v3h-1m677 -1h2v3h-2m-675 -1h1v2h-1m674 2h3v2h-3m0 0h2v1h-2m-673 0h1v1h-1m673 2h1v3h-1m-677 -1h1v2h-1m4 -2h1v2h-1m0 2h1v2h-1m674 -2h1v3h-1m-678 -1h1v4h-1m5 -1h1v1h-1m676 -3h1v3h-1m-676 4h1v2h-1m673 -3h1v3h-1m54 -1h2v1h-2m6 -1h1v1h-1m-9 0h1v1h-1m13 0h2v1h-2m-737 0h1v1h-1m677 -3h1v3h-1m48 -1h6v1h-6m15 -1h1v1h-1m-740 0h2v1h-2m721 -2h2v2h-2m4 -1h2v1h-2m15 0h3v1h-3m-739 -1h1v2h-1m722 -2h2v2h-2m19 -1h2v1h-2m-747 -2h1v4h-1m5 -2h1v2h-1m743 -1h1v1h-1m-78 -10h5v11h-5m79 -1h3v1h-3m-743 0h1v1h-1m716 -2h2v2h-2m29 -1h1v1h-1m2 0h1v1h-1m-72 -2h1v3h-1m-681 0h1v2h-1m755 -1h1v1h-1m-5 0h2v1h-2m-751 -1h1v2h-1m7 -1h1v1h-1m745 -1h1v1h-1m5 -1h1v1h-1m-749 0h1v2h-1m748 -2h1v2h-1m-749 0h1v2h-1m746 -2h2v2h-2m5 -2h1v2h-1m-79 -2h1v3h-1m-671 1h1v2h-1m674 -6h1v6h-1m75 -2h1v2h-1m1 0h1v1h-1m-757 -9h1v10h-1m757 -1h2v1h-2m-751 0h1v2h-1m2 -2h1v2h-1m-1 0h2v1h-2m-8 -1h1v2h-1m9 -1h1v1h-1m670 -3h1v3h-1m4 -3h1v3h-1m73 -2h1v2h-1m-748 0h2v2h-2m752 -2h1v2h-1m-760 0h2v2h-2m9 -2h1v2h-1m746 -2h2v2h-2m3 -2h2v2h-2m-758 0h1v2h-1m8 -2h2v2h-2m749 -2h1v2h-1m-1 0h1v1h-1m-755 -1h1v2h-1m8 -1h1v1h-1m666 -29h1v29h-1m80 -1h2v1h-2m3 -2h1v2h-1m-750 0h1v1h-1m-8 -1h1v2h-1m10 -2h1v2h-1m746 -1h1v1h-1m4 0h1v1h-1m-752 -1h2v2h-2m671 -3h1v3h-1m-678 0h1v2h-1m8 -2h1v2h-1m669 -2h2v3h-2m4 -3h1v3h-1m-683 -5h1v6h-1m757 -1h1v1h-1m2 -2h1v2h-1m-748 -2h1v3h-1m745 -1h1v1h-1m2 -1h1v1h-1m-79 -2h1v3h-1m-679 0h1v2h-1m2 -4h1v4h-1m754 -2h1v2h-1m-1 0h2v1h-2m-754 -1h1v2h-1m9 -4h1v4h-1m745 -1h1v1h-1m-755 0h1v2h-1m2 -2h1v2h-1m9 -2h1v2h-1m669 -3h1v3h-1m50 6h1v1h-1m10 -1h2v1h-2m17 -1h1v1h-1m-21 -1h2v2h-2m-741 -2h1v3h-1m734 -1h1v1h-1m3 -1h1v1h-1m26 -1h1v1h-1m-30 0h2v1h-2m-730 -1h2v3h-2m680 -3h1v3h-1m12 -3h1v3h-1m-3 0h1v3h-1m37 -1h1v1h-1m35 -2h1v2h-1m-761 -1h2v2h-2m756 -2h4v2h-4m-29 0h1v1h-1m2 -1h1v1h-1m33 -1h1v1h-1m-766 -2h1v3h-1m10 -2h4v2h-4m682 -3h1v3h-1m39 -1h3v1h-3m32 -2h1v2h-1m-757 0h2v2h-2m4 -2h2v2h-2m4 -2h1v2h-1m-14 -2h2v3h-2m730 -1h2v1h-2m32 -3h3v3h-3m-32 0h1v1h-1m32 -1h4v1h-4m-30 0h1v1h-1m-7 0h1v1h-1m39 -2h2v2h-2m-764 0h4v2h-4m10 -2h2v2h-2m716 -2h1v2h-1m39 -2h1v2h-1m-765 0h2v1h-2m728 -3h2v3h-2m-720 -1h4v2h-4m719 -1h3v1h-3m35 -4h2v4h-2m4 -2h1v2h-1m-42 0h1v1h-1m-723 -2h1v3h-1m23 -3h2v3h-2m703 -1h1v1h-1m-2 0h1v1h-1m-724 -1h3v2h-3m723 -1h2v1h-2m43 -2h1v2h-1m-766 0h1v1h-1m684 -3h1v3h-1m8 -3h1v3h-1m-685 -1h2v2h-2m714 -1h1v1h-1m44 -2h1v2h-1m-762 0h2v2h-2m688 -3h1v3h-1m72 -2h1v2h-1m-760 0h4v2h-4m720 -4h1v4h-1m41 -2h1v2h-1m-741 -2h2v3h-2m660 -3h1v3h-1m8 -3h2v3h-2m72 -1h1v2h-1m-760 0h2v2h-2m762 -2h1v2h-1m-756 0h2v2h-2m752 -2h2v2h-2m3 -2h1v2h-1m-80 -2h1v3h-1m37 -5h1v5h-1m44 -1h1v1h-1m-752 -1h1v2h-1m747 -2h1v2h-1m-753 0h2v1h-2m715 -1h1v1h-1m-723 -5h1v6h-1m692 -3h1v3h-1m30 -1h2v1h-2m41 0h1v2h-1m2 -2h1v2h-1m-69 -2h1v3h-1m-696 0h1v3h-1m684 -3h1v3h-1m38 -4h1v4h-1m42 -2h1v2h-1m-4 0h2v1h-2m3 -1h1v1h-1m-3 0h4v1h-4m-760 -2h2v3h-2m685 -3h1v3h-1m78 -1h2v1h-2m-3 -1h1v2h-1m3 -1h1v1h-1m-1 0h1v3h-1m-761 -4h1v6h-1m691 -3h1v3h-1m65 -1h1v1h-1m2 -1h1v1h-1m-2 0h3v1h-3m-757 -1h2v3h-2m758 0h1v1h-1m2 -1h1v2h-1m-760 -2h1v3h-1m693 -3h1v3h-1m30 -1h1v2h-1m36 -1h1v2h-1m-758 -2h1v3h-1m691 -3h1v3h-1m66 -1h1v1h-1m-1 0h1v1h-1m2 -1h1v1h-1m-4 0h1v1h-1m2 -1h2v1h-2m-61 -2h1v3h-1m58 -1h2v1h-2m3 -1h1v1h-1m-33 -1h1v2h-1m30 -1h1v1h-1m2 -1h1v1h-1m-63 -1h1v3h-1m63 0h1v1h-1m-32 0h1v1h-1m-724 -2h1v3h-1m753 -1h2v1h-2m-31 -1h1v2h-1m31 -1h1v1h-1m-4 0h2v1h-2m5 -1h1v1h-1m-69 -2h1v3h-1m7 -3h1v3h-1m56 -1h2v1h-2m5 -1h1v1h-1m-7 0h1v1h-1m-23 -1h1v2h-1m2 -2h1v2h-1m19 -1h2v1h-2m0 0h1v1h-1m-14 -1h2v2h-2m11 0h1v1h-1m-741 -5h1v6h-1m684 -3h1v3h-1m40 -1h1v1h-1m16 -1h4v1h-4m5 -1h1v1h-1m3 -2h1v2h-1m-4 0h2v1h-2m-3 0h1v1h-1m3 -1h1v1h-1m3 -1h1v1h-1m-62 -2h1v3h-1m58 -1h1v1h-1m-13 -1h2v2h-2m12 -1h2v1h-2m-12 0h4v1h-4m8 -1h2v1h-2m-46 -2h1v3h-1m39 -1h1v1h-1m2 -1h1v1h-1m5 -1h1v1h-1m2 -1h2v1h-2m-1 0h1v1h-1m-1 0h1v1h-1m-738 -2h1v3h-1m685 -3h1v3h-1m-261 23h1v6h-1m29 -6h1v6h-1m39 -6h1v6h-1m225 -6h1v6h-1m2 -6h1v6h-1m3 -6h4v6h-4m-20 0h3v11h-3m4 -11h3v11h-3m4 -11h2v11h-2m5 -11h2v11h-2m3 -11h1v11h-1m3 -11h1v11h-1m7 -11h1v11h-1m3 -11h1v11h-1m-737 0h1v10h-1m7 -10h1v10h-1m4 -10h1v10h-1m427 -10h2v10h-2m104 -21h1v21h-1m2 -21h4v21h-4m11 -21h1v21h-1m3 -21h1v21h-1m5 -21h1v21h-1m2 -21h2v21h-2m164 -10h1v10h-1m2 -10h1v10h-1m-733 0h1v10h-1m6 -10h1v10h-1m4 -10h1v10h-1m6 -10h4v10h-4m471 -20h1v20h-1m53 -10h1v10h-1m19 -10h1v10h-1m2 -10h1v10h-1m5 -10h1v10h-1m15 -10h1v10h-1m2 -10h1v10h-1m3 -10h1v10h-1m2 -10h1v10h-1m8 -10h3v10h-3m4 -10h1v10h-1m4 -10h1v10h-1m2 -10h2v10h-2m4 -10h1v10h-1m2 -10h1v10h-1m5 -10h3v10h-3m5 -10h1v10h-1m4 -10h1v10h-1m2 -10h1v10h-1m14 -10h1v10h-1m4 -10h2v10h-2m7 -10h1v10h-1m2 -10h3v10h-3m5 -10h2v10h-2m5 -10h1v10h-1m3 -10h2v10h-2m10 -10h2v10h-2m6 -10h1v10h-1m2 -10h2v10h-2"/>
<path fill="#5cff00" d="M0 0m794 180h2v3h-2m4 3h1v3h-1m-4 0h2v3h-2m-1 6h1v3h-1m1 0h2v3h-2m-1 0h1v3h-1m0 3h1v3h-1m-676 3h1v2h-1m676 4h1v3h-1m5 -3h1v3h-1m-679 3h1v2h-1m677 -2h3v2h-3m1 0h2v1h-2m-680 -8h1v9h-1m2 0h1v2h-1m678 -3h1v3h-1m-680 0h1v2h-1m3 -2h1v2h-1m674 -2h1v3h-1m4 -3h1v3h-1m-678 1h1v2h-1m-4 0h1v2h-1m4 0h1v2h-1m674 2h1v3h-1m-677 -3h1v4h-1m3 -4h1v4h-1m-4 0h1v2h-1m681 -3h1v3h-1m53 -1h2v2h-2m6 -1h2v1h-2m-739 -1h1v2h-1m727 -1h2v1h-2m0 0h1v1h-1m16 -1h1v1h-1m-744 -1h1v2h-1m732 -1h4v1h-4m13 -1h1v1h-1m-21 0h1v1h-1m8 -1h6v1h-6m12 -1h1v1h-1m-18 -1h2v2h-2m8 -1h4v1h-4m10 -1h3v1h-3m-16 0h2v1h-2m8 -1h4v1h-4m8 -1h2v1h-2m-16 0h1v1h-1m8 -1h2v1h-2m-54 -2h1v3h-1m66 -1h1v1h-1m-743 -1h1v2h-1m743 -1h3v1h-3m-27 0h1v1h-1m27 -1h2v1h-2m4 -1h1v1h-1m-752 -3h1v4h-1m678 -3h1v3h-1m71 -1h1v1h-1m4 -1h1v1h-1m-2 0h1v1h-1m2 -1h2v1h-2m-747 -3h1v4h-1m714 -2h2v2h-2m-43 -2h2v3h-2m71 -3h2v3h-2m5 -1h1v1h-1m-753 -1h1v2h-1m748 -1h3v1h-3m2 0h5v1h-5m-744 -1h1v2h-1m745 -1h1v1h-1m2 -1h2v1h-2m3 0h1v1h-1m-74 -1h1v3h-1m-675 -1h1v2h-1m747 -2h2v2h-2m-4 0h2v1h-2m-745 -5h1v6h-1m746 -1h1v1h-1m-750 -4h1v6h-1m6 -2h1v2h-1m745 -2h2v2h-2m4 -2h1v2h-1m-78 -2h1v3h-1m4 -3h1v3h-1m-675 2h1v1h-1m747 -2h1v2h-1m3 -2h1v2h-1m-757 -4h1v6h-1m6 -2h1v2h-1m750 -2h3v2h-3m-749 0h1v1h-1m674 -3h1v3h-1m-680 -1h1v2h-1m755 -2h1v2h-1m-750 0h1v2h-1m671 -6h1v6h-1m77 0h1v1h-1m-755 -1h1v2h-1m2 -2h1v2h-1m755 -2h1v2h-1m-750 0h1v1h-1m2 -1h1v1h-1m669 -3h2v3h-2m77 -1h2v1h-2m-754 -1h1v2h-1m7 -1h2v1h-2m747 -1h1v1h-1m-755 0h2v2h-2m7 -2h1v2h-1m752 -4h1v4h-1m-759 0h1v2h-1m2 -2h1v2h-1m752 -1h1v1h-1m2 -2h1v2h-1m-1 0h3v1h-3m-755 -1h2v2h-2m9 -2h1v2h-1m746 -1h1v1h-1m2 -1h1v1h-1m-750 0h3v1h-3m0 0h2v1h-2m3 -1h1v1h-1m673 -6h1v6h-1m-683 0h1v2h-1m2 -4h1v4h-1m-1 0h1v2h-1m752 -2h1v2h-1m-753 0h1v2h-1m2 -2h1v2h-1m7 -2h1v2h-1m738 -2h2v2h-2m-17 6h1v1h-1m17 -1h4v1h-4m8 -1h1v1h-1m-26 0h2v1h-2m10 -1h2v1h-2m9 -1h3v1h-3m8 -1h1v1h-1m-79 -2h2v3h-2m55 -1h1v1h-1m-1 0h2v1h-2m4 -2h2v2h-2m22 -1h1v1h-1m-32 0h1v1h-1m4 -1h2v1h-2m19 -1h1v1h-1m8 -1h1v1h-1m-71 -2h1v3h-1m44 -1h1v1h-1m17 0h1v1h-1m-747 -1h2v2h-2m726 -2h1v2h-1m26 -2h2v2h-2m3 -2h1v2h-1m-30 0h1v1h-1m5 -1h1v1h-1m4 -1h2v1h-2m24 -3h1v3h-1m-754 -1h2v2h-2m720 -1h2v1h-2m10 -1h1v1h-1m24 -1h2v1h-2m1 0h1v1h-1m-759 -1h2v2h-2m678 -3h2v3h-2m7 -6h1v6h-1m2 -3h1v3h-1m68 -2h2v2h-2m5 -1h1v1h-1m-38 0h1v1h-1m4 -1h1v1h-1m-730 -5h2v6h-2m694 -2h1v3h-1m32 -1h1v1h-1m-714 -1h1v2h-1m717 -1h1v1h-1m2 0h1v1h-1m-723 -1h2v2h-2m674 -3h1v3h-1m48 -1h2v1h-2m-728 0h2v2h-2m4 -2h2v2h-2m719 -2h1v2h-1m37 -2h1v2h-1m3 -2h1v2h-1m-82 -2h1v3h-1m7 -3h2v3h-2m38 -1h3v1h-3m34 -1h2v1h-2m-758 -1h2v2h-2m759 -1h1v1h-1m-40 0h1v1h-1m-715 -1h2v2h-2m674 -3h1v3h-1m40 -1h1v1h-1m6 -3h2v3h-2m-2 0h1v1h-1m-722 -1h2v2h-2m6 -2h2v2h-2m714 -2h1v2h-1m4 -2h1v2h-1m36 -2h1v2h-1m-74 -5h1v6h-1m4 -3h1v3h-1m-694 -1h4v2h-4m721 -2h1v2h-1m38 -2h1v2h-1m4 -2h1v2h-1m-763 0h2v2h-2m8 -2h2v2h-2m683 -3h1v3h-1m69 -2h2v2h-2m5 -2h1v2h-1m-42 -2h1v4h-1m37 -2h3v2h-3m-77 -5h1v6h-1m11 -3h1v3h-1m-694 -1h2v2h-2m12 -6h1v6h-1m708 -2h1v2h-1m43 0h1v1h-1m-755 -1h2v2h-2m754 -1h2v1h-2m-3 1h1v1h-1m3 -2h1v2h-1m-71 -5h1v6h-1m30 -5h1v5h-1m-721 -1h2v2h-2m6 -2h2v2h-2m4 -4h2v4h-2m710 -1h2v1h-2m38 -2h1v2h-1m2 -2h2v2h-2m3 -2h1v2h-1m-81 -1h2v3h-2m7 -3h1v3h-1m33 -2h1v2h-1m35 0h4v2h-4m5 -2h1v2h-1m-79 -2h1v3h-1m75 -1h2v2h-2m-67 -1h1v3h-1m30 -4h1v4h-1m40 -3h1v3h-1m-1 0h1v1h-1m-66 -1h1v3h-1m28 -1h1v1h-1m38 -1h1v2h-1m-71 -1h2v3h-2m31 -2h1v2h-1m35 -2h1v2h-1m2 0h1v2h-1m2 -2h1v2h-1m-68 -2h1v3h-1m65 -1h1v1h-1m-2 -1h1v2h-1m-64 -1h1v3h-1m62 -2h4v2h-4m-63 0h1v3h-1m67 -1h2v1h-2m-34 -1h1v2h-1m34 -1h1v2h-1m-74 -17h1v18h-1m9 -3h1v3h-1m3 -12h1v12h-1m58 0h3v1h-3m4 -1h1v1h-1m-32 -1h2v2h-2m28 -1h1v1h-1m-62 -2h2v3h-2m57 -1h1v1h-1m7 -2h1v2h-1m-34 -1h1v2h-1m3 -2h1v2h-1m23 -1h2v1h-2m5 -1h1v1h-1m-4 0h1v1h-1m-65 -2h1v3h-1m40 -2h1v2h-1m-2 0h4v1h-4m0 0h2v1h-2m3 -1h1v1h-1m3 -1h1v1h-1m20 -3h2v3h-2m3 -1h1v1h-1m-66 -2h1v3h-1m67 -1h1v1h-1m-29 -1h1v2h-1m18 -1h1v1h-1m3 -2h4v2h-4m7 -1h2v1h-2m-3 0h1v1h-1m5 -1h1v1h-1m-69 -2h1v3h-1m7 -6h1v6h-1m33 -2h2v2h-2m4 -2h2v2h-2m24 -1h1v1h-1m-13 0h1v1h-1m5 -1h2v1h-2m-10 -1h2v2h-2m4 -1h2v1h-2m11 -1h1v1h-1m2 -2h1v2h-1m-66 -2h1v3h-1m6 -3h3v3h-3m5 -12h1v12h-1m51 -1h1v1h-1m-23 0h1v1h-1m2 -2h2v2h-2m8 -2h4v2h-4m12 -1h2v1h-2m3 -1h1v1h-1m-25 0h5v1h-5m16 -1h1v1h-1m2 -1h4v1h-4m5 -1h1v1h-1m-22 0h5v1h-5m11 -2h2v2h-2m8 -1h1v1h-1m-4 0h2v1h-2m6 -2h2v2h-2m-6 0h1v1h-1m3 -1h1v1h-1m3 -1h1v1h-1m-55 -5h1v6h-1m5 -3h1v3h-1m45 -1h2v1h-2m-7 -3h2v4h-2m6 -1h2v2h-2m-4 -1h2v2h-2m2 0h1v1h-1m-54 -1h1v3h-1m7 -3h1v3h-1m2 -3h1v3h-1m-261 29h1v11h-1m273 -11h1v11h-1m4 -11h1v11h-1m-283 0h1v10h-1m16 -10h2v10h-2m4 -10h1v10h-1m3 -10h1v10h-1m81 -21h2v21h-2m4 -21h1v21h-1m8 -21h1v21h-1m6 -21h1v21h-1m14 -21h2v21h-2m162 -10h1v10h-1m-736 0h1v10h-1m2 -10h2v10h-2m3 -10h1v10h-1m3 -10h2v10h-2m7 -10h1v10h-1m3 -10h2v10h-2m426 -10h1v10h-1m50 -31h1v31h-1m2 -31h1v31h-1m49 -10h1v10h-1m2 -10h1v10h-1m2 -10h1v10h-1m3 -10h1v10h-1m3 -10h5v10h-5m7 -10h1v10h-1m4 -10h3v10h-3m7 -10h1v10h-1m3 -10h1v10h-1m15 -10h1v10h-1m2 -10h1v10h-1m13 -10h2v10h-2m12 -10h3v10h-3m9 -10h1v10h-1m4 -10h1v10h-1m2 -10h5v10h-5m15 -10h2v10h-2m6 -10h1v10h-1m4 -10h1v10h-1m10 -10h1v10h-1m2 -10h2v10h-2m16 -10h2v10h-2m-688 0h2v11h-2m478 -11h1v11h-1m13 -11h1v11h-1m13 -42h1v42h-1m7 -42h1v42h-1m264 20h1v8h-1"/>
<path fill="#7aff00" d="M0 0m793 165h1v3h-1m5 6h1v3h-1m-2 0h2v3h-2m-3 0h1v6h-1m3 -3h2v3h-2m-3 3h1v3h-1m3 -3h2v3h-2m2 0h1v3h-1m-2 6h2v3h-2m-2 0h2v3h-2m-1 0h1v3h-1m1 3h2v3h-2m-676 -4h1v6h-1m-1 0h1v2h-1m677 -4h4v6h-4m-675 4h1v2h-1m674 -3h1v3h-1m-676 4h1v2h-1m677 -3h1v3h-1m-677 2h1v4h-1m676 0h1v3h-1m-676 -1h1v4h-1m3 -2h1v2h-1m674 -3h1v3h-1m4 -3h1v3h-1m-5 0h1v3h-1m-676 1h1v2h-1m3 -2h1v2h-1m681 -3h2v3h-2m-680 0h1v2h-1m729 -1h2v1h-2m6 -1h2v1h-2m-63 -2h2v3h-2m52 -1h1v1h-1m10 -1h3v1h-3m-735 -1h1v2h-1m724 -1h2v1h-2m13 -1h1v1h-1m3 -1h1v1h-1m-19 0h1v1h-1m-724 -1h1v2h-1m4 -2h1v2h-1m727 -1h2v1h-2m10 -2h2v2h-2m-18 -1h2v2h-2m-723 -1h2v2h-2m728 -1h1v1h-1m15 -1h2v1h-2m-63 -2h1v3h-1m63 -1h4v1h-4m-740 -3h1v4h-1m720 -2h2v2h-2m6 -2h2v2h-2m15 -1h3v1h-3m6 0h1v1h-1m-69 -2h1v3h-1m39 -1h1v1h-1m17 -5h2v5h-2m10 -1h1v1h-1m3 -1h2v1h-2m-8 0h3v1h-3m7 -1h1v1h-1m2 -1h1v1h-1m-751 -3h1v4h-1m721 -2h4v2h-4m14 -2h2v2h-2m4 -2h2v2h-2m10 -1h5v1h-5m2 0h1v1h-1m-751 -1h2v2h-2m743 -3h2v3h-2m8 -1h2v1h-2m-747 -6h1v7h-1m717 -1h4v1h-4m21 -1h1v1h-1m-66 -2h2v3h-2m45 -1h3v1h-3m28 -1h1v1h-1m2 -1h1v1h-1m-2 0h2v1h-2m5 -1h1v1h-1m-754 -3h1v4h-1m750 -1h1v1h-1m4 -1h2v1h-2m-7 0h2v1h-2m1 0h1v1h-1m-745 0h1v2h-1m2 -4h1v4h-1m672 -3h1v3h-1m4 -3h1v3h-1m5 -3h1v3h-1m63 -1h1v1h-1m-745 0h2v2h-2m715 -2h1v2h-1m29 -2h1v2h-1m-744 0h1v2h-1m0 0h2v2h-2m676 -3h1v3h-1m75 -2h1v2h-1m-5 0h5v1h-5m-750 -5h1v6h-1m748 -2h1v2h-1m2 -1h3v1h-3m4 -1h1v1h-1m-750 0h1v1h-1m673 -3h1v3h-1m-671 0h1v1h-1m-7 0h1v2h-1m2 -2h1v2h-1m680 -3h1v3h-1m68 -2h2v2h-2m5 -2h1v2h-1m-750 0h1v2h-1m2 -2h1v2h-1m674 -2h1v3h-1m-675 0h1v1h-1m749 0h1v1h-1m2 -3h1v3h-1m-756 -3h1v4h-1m750 -2h1v2h-1m4 -1h3v1h-3m-5 0h5v1h-5m-748 -1h1v2h-1m718 -2h2v2h-2m30 -1h3v1h-3m4 -1h1v1h-1m3 -2h1v2h-1m-72 -2h1v3h-1m-684 -1h2v2h-2m6 -4h1v4h-1m745 -2h2v2h-2m-5 0h1v1h-1m-739 0h1v1h-1m673 -3h1v3h-1m41 -1h1v1h-1m24 -1h2v1h-2m7 -2h1v2h-1m-4 0h1v1h-1m-747 -1h1v2h-1m722 -2h2v2h-2m16 -1h2v1h-2m8 -1h2v1h-2m3 -2h1v2h-1m-27 0h3v1h-3m-723 -1h1v2h-1m723 -1h4v1h-4m21 -1h1v1h-1m-25 0h1v1h-1m2 -1h2v1h-2m-720 -1h1v2h-1m5 -6h1v6h-1m670 -3h1v3h-1m4 -3h1v3h-1m39 -1h4v1h-4m6 -1h1v1h-1m25 -1h1v1h-1m1 6h2v1h-2m-6 0h1v1h-1m6 -1h3v1h-3m-68 -2h1v3h-1m4 -3h1v3h-1m40 -1h1v1h-1m21 -1h1v1h-1m3 -1h2v1h-2m-16 -1h2v2h-2m10 -2h2v2h-2m7 -1h1v1h-1m-28 0h3v1h-3m21 -1h1v1h-1m8 -1h1v1h-1m-77 -2h1v3h-1m8 -3h1v3h-1m39 -1h4v1h-4m5 -1h1v1h-1m11 -2h2v2h-2m6 -1h2v1h-2m8 -1h2v1h-2m-29 0h2v1h-2m19 -1h1v1h-1m11 -1h1v1h-1m-30 0h1v1h-1m11 -2h2v2h-2m8 -1h2v1h-2m8 -2h1v2h-1m-76 -2h2v3h-2m8 -3h1v3h-1m2 -3h1v3h-1m38 -1h4v1h-4m5 -1h1v1h-1m5 -1h2v1h-2m13 -1h1v1h-1m3 -1h2v1h-2m-750 -1h2v2h-2m6 -4h1v4h-1m718 -1h1v1h-1m2 -1h4v1h-4m7 -1h2v1h-2m7 -2h2v2h-2m11 -1h1v1h-1m5 0h1v1h-1m-760 -1h2v2h-2m692 -6h1v6h-1m58 -2h2v2h-2m6 -2h1v2h-1m4 -1h2v1h-2m-35 0h1v1h-1m4 -1h1v1h-1m-725 -1h2v2h-2m720 -1h1v1h-1m4 -1h2v1h-2m22 -2h4v2h-4m-62 -2h2v3h-2m37 -1h1v1h-1m-725 -1h2v2h-2m6 -2h2v2h-2m744 -2h2v2h-2m6 -2h2v2h-2m-32 -1h2v2h-2m12 -1h1v1h-1m-738 -1h4v2h-4m6 -2h2v2h-2m677 -6h3v6h-3m8 -3h1v3h-1m3 -3h1v3h-1m32 -1h1v1h-1m30 -2h2v2h-2m5 -2h1v2h-1m-751 0h3v2h-3m754 -2h1v2h-1m-33 0h1v1h-1m-731 -1h2v2h-2m730 -1h2v1h-2m32 -1h1v1h-1m-758 0h2v2h-2m6 -4h2v4h-2m673 -3h1v3h-1m8 -3h1v3h-1m32 -1h1v1h-1m32 -4h1v4h-1m6 -2h1v2h-1m-36 0h1v1h-1m2 -1h1v1h-1m5 -1h1v1h-1m-726 -1h2v2h-2m6 -2h1v2h-1m713 -1h3v1h-3m4 -2h1v2h-1m29 -2h2v2h-2m3 -2h3v2h-3m-69 -2h1v3h-1m32 -1h1v1h-1m4 -1h2v1h-2m-718 -1h2v2h-2m718 -1h1v1h-1m28 -2h3v2h-3m6 -2h1v2h-1m-36 0h1v1h-1m-44 -5h1v6h-1m7 -12h1v12h-1m5 -3h1v3h-1m62 -2h2v2h-2m8 -2h1v2h-1m-44 0h1v2h-1m35 -2h1v2h-1m3 -2h2v2h-2m-66 -2h1v3h-1m-688 -1h6v2h-6m717 -2h1v2h-1m40 0h2v1h-2m-751 -1h2v2h-2m747 -2h3v2h-3m4 -1h1v1h-1m-3 0h2v1h-2m-754 -1h2v2h-2m720 -6h1v6h-1m2 -2h2v2h-2m32 -1h1v1h-1m-76 -5h1v6h-1m8 -3h1v3h-1m-688 -1h4v2h-4m6 -2h2v2h-2m754 -2h1v2h-1m-68 -7h1v9h-1m29 -2h3v2h-3m35 -2h2v2h-2m-2 0h1v2h-1m-74 -2h1v3h-1m9 -6h1v6h-1m69 -1h2v1h-2m-34 -1h2v2h-2m28 -2h2v2h-2m-71 -1h1v3h-1m7 -3h1v3h-1m4 -3h1v3h-1m30 -2h2v2h-2m36 -3h1v3h-1m-71 0h3v3h-3m34 -1h1v1h-1m-3 -1h1v2h-1m2 -1h2v1h-2m34 -2h2v2h-2m1 0h3v1h-3m-74 -2h1v3h-1m8 -3h1v3h-1m3 -3h1v3h-1m27 -2h5v2h-5m33 -2h1v2h-1m2 -1h4v1h-4m-32 0h2v2h-2m27 -1h1v1h-1m3 -2h3v2h-3m4 -2h1v2h-1m-69 -2h1v3h-1m31 -1h1v2h-1m39 -2h1v2h-1m-76 -1h3v3h-3m39 -2h2v2h-2m-2 1h1v1h-1m33 -1h1v1h-1m-63 -2h1v3h-1m2 -3h1v3h-1m57 -1h1v1h-1m-26 -1h1v2h-1m25 -1h2v1h-2m-65 -4h1v6h-1m37 -2h2v2h-2m35 -2h1v2h-1m-35 0h1v2h-1m2 -2h2v2h-2m4 -2h2v2h-2m-44 -2h2v3h-2m64 -1h1v1h-1m4 -1h2v1h-2m-29 -1h1v2h-1m3 -2h5v2h-5m8 -2h2v2h-2m17 -1h2v1h-2m-6 0h1v1h-1m3 -1h1v1h-1m5 -1h1v1h-1m-68 -2h1v3h-1m6 -6h1v6h-1m3 -3h1v3h-1m31 -2h1v2h-1m19 -1h2v1h-2m8 -1h2v1h-2m3 -1h1v1h-1m-27 0h2v1h-2m22 -1h2v1h-2m-21 0h1v1h-1m9 -2h2v2h-2m4 -2h2v2h-2m8 -1h1v1h-1m-66 -2h1v3h-1m8 -3h2v3h-2m34 -1h1v1h-1m2 -1h2v1h-2m12 -1h2v1h-2m8 -1h4v1h-4m-22 0h4v1h-4m14 -1h1v1h-1m3 -1h1v1h-1m5 -1h3v1h-3m-4 0h2v1h-2m3 -1h1v1h-1m5 -1h1v1h-1m-14 0h2v1h-2m6 -1h4v1h-4m-14 0h1v1h-1m2 -1h2v1h-2m6 -1h1v1h-1m10 -1h3v1h-3m-18 0h4v1h-4m18 -1h1v1h-1m2 -1h1v1h-1m-66 -2h1v3h-1m40 -1h2v1h-2m22 -1h1v1h-1m2 -1h2v1h-2m-23 0h1v1h-1m15 -2h4v2h-4m8 -1h1v1h-1m-19 0h1v1h-1m17 -1h1v1h-1m-61 -2h1v3h-1m11 -3h1v3h-1m32 0h1v1h-1m14 -1h2v1h-2m-14 0h2v1h-2m4 -1h1v1h-1m4 -2h4v2h-4m6 -1h1v1h-1m-58 -2h1v3h-1m8 -6h2v6h-2m48 -1h1v1h-1m-8 -1h2v2h-2m-48 -1h2v3h-2m7 -3h1v3h-1m1 0h1v3h-1m4 -6h1v6h-1m-281 29h1v11h-1m18 -11h1v11h-1m10 -11h1v11h-1m6 -11h1v11h-1m268 -11h1v11h-1m2 -11h1v11h-1m3 -11h4v11h-4m-299 0h1v10h-1m4 -10h2v10h-2m3 -10h2v10h-2m10 -10h1v10h-1m5 -10h1v10h-1m2 -10h2v10h-2m3 -10h2v10h-2m-465 0h1v10h-1m4 -10h1v10h-1m6 -10h1v10h-1m9 -10h1v10h-1m429 -10h1v10h-1m10 -10h1v10h-1m6 -10h1v10h-1m34 -31h1v31h-1m2 -31h3v31h-3m9 -31h3v31h-3m42 -10h1v10h-1m2 -10h2v10h-2m3 -10h1v10h-1m8 -10h1v10h-1m3 -10h1v10h-1m5 -10h1v10h-1m2 -10h2v10h-2m-567 0h1v11h-1m10 -11h2v11h-2m6 -11h4v11h-4m450 -11h2v11h-2m4 -11h2v11h-2m3 -11h3v11h-3m7 -11h2v11h-2m3 -11h2v11h-2m5 -11h7v11h-7m11 -42h1v42h-1m4 -11h1v11h-1m3 -42h1v42h-1m-483 10h4v10h-4m6 -10h1v10h-1m712 0h1v8h-1m7 -8h2v8h-2m3 -8h5v8h-5m10 -8h8v8h-8m9 -8h2v8h-2m6 -8h4v8h-4m6 -8h2v8h-2"/>
<path fill="#98ff00" d="M0 0m798 168h1v3h-1m-5 0h3v3h-3m3 0h2v3h-2m-3 -3h1v6h-1m1 3h2v3h-2m4 -3h1v3h-1m-2 0h2v3h-2m0 3h2v3h-2m-3 0h3v3h-3m5 3h1v3h-1m-2 6h2v3h-2m0 0h3v3h-3m-678 4h1v1h-1m0 1h1v4h-1m680 -1h1v3h-1m-679 2h1v2h-1m-1 0h1v2h-1m675 -3h1v3h-1m-674 0h1v2h-1m675 1h1v3h-1m4 -3h1v3h-1m-681 0h1v2h-1m680 -2h2v3h-2m6 -3h1v3h-1m-684 -5h1v7h-1m674 -2h1v3h-1m-674 0h1v2h-1m678 -2h1v3h-1m4 -6h2v6h-2m-3 0h1v3h-1m-678 0h1v2h-1m677 -2h1v3h-1m4 -3h3v3h-3m53 -1h1v1h-1m-737 -1h3v2h-3m737 -1h3v1h-3m-8 0h2v1h-2m8 -1h4v1h-4m-15 1h1v1h-1m9 -1h2v1h-2m8 -1h4v1h-4m-737 -1h1v2h-1m720 -1h3v1h-3m19 -1h2v1h-2m4 -2h2v2h-2m-61 -2h2v3h-2m51 -1h2v1h-2m4 -1h2v1h-2m-739 -1h1v2h-1m727 -2h2v2h-2m4 -2h2v2h-2m12 -1h1v1h-1m3 0h1v1h-1m-743 -1h1v2h-1m683 -3h1v3h-1m35 -2h4v2h-4m14 -2h2v2h-2m4 -2h2v2h-2m10 -2h1v2h-1m-20 0h2v1h-2m12 -1h1v1h-1m-740 -1h1v2h-1m724 -2h2v2h-2m4 -1h1v1h-1m12 -1h2v1h-2m-60 -2h1v3h-1m42 -1h4v1h-4m-721 -1h1v2h-1m721 -1h1v1h-1m2 -1h2v1h-2m2 0h2v1h-2m14 -1h1v1h-1m-737 0h1v1h-1m720 -1h1v1h-1m9 -2h2v2h-2m8 -1h2v1h-2m4 -2h2v2h-2m-22 0h2v1h-2m25 -1h1v1h-1m-747 -3h1v4h-1m722 -1h1v1h-1m4 -2h2v2h-2m21 -1h2v1h-2m5 -2h1v2h-1m-69 -5h2v6h-2m-681 -3h1v4h-1m716 -2h4v2h-4m22 -2h2v2h-2m6 -1h1v1h-1m5 -2h1v2h-1m-27 0h2v1h-2m-49 -2h1v3h-1m49 -1h1v1h-1m29 -2h1v2h-1m-34 0h1v2h-1m27 -2h1v2h-1m6 -2h2v2h-2m-752 -4h1v6h-1m748 -2h2v2h-2m5 -2h3v2h-3m-751 -4h1v6h-1m673 -3h1v3h-1m8 -3h3v3h-3m35 -2h2v2h-2m4 -2h2v2h-2m29 -4h1v4h-1m-748 0h1v2h-1m717 -2h1v2h-1m26 -2h1v2h-1m2 -2h1v2h-1m4 -1h1v1h-1m-748 0h1v1h-1m-4 -1h1v2h-1m3 -1h2v1h-2m741 -2h2v2h-2m-745 0h1v2h-1m2 -2h1v2h-1m2 -2h1v2h-1m749 -2h1v2h-1m-752 0h1v2h-1m2 -2h1v2h-1m2 -2h1v2h-1m716 -2h2v2h-2m22 -2h2v2h-2m-739 0h1v1h-1m677 -3h1v3h-1m63 -1h1v1h-1m-1 0h2v1h-2m12 -2h1v3h-1m-754 -1h1v2h-1m3 -2h1v2h-1m676 -3h1v3h-1m62 -2h1v2h-1m7 -2h1v2h-1m2 -2h3v2h-3m-30 0h2v2h-2m34 -2h1v2h-1m-753 -2h1v4h-1m2 -4h2v4h-2m721 -2h2v2h-2m20 -2h2v2h-2m4 -2h2v2h-2m-65 -1h1v2h-1m37 -1h2v1h-2m24 -1h1v1h-1m-744 -1h1v2h-1m3 -2h1v2h-1m673 -3h1v3h-1m7 -1h3v1h-3m38 -1h1v1h-1m13 -1h2v1h-2m14 -2h3v2h-3m-30 0h1v1h-1m20 -1h4v1h-4m8 -1h1v1h-1m-745 -1h1v2h-1m717 -1h2v1h-2m6 -2h2v2h-2m16 -1h2v1h-2m8 -2h1v2h-1m2 -2h2v2h-2m-75 -2h1v3h-1m50 -1h1v1h-1m17 -1h2v1h-2m-739 -3h2v4h-2m715 -1h1v1h-1m2 -1h1v1h-1m14 -1h2v1h-2m8 -1h1v1h-1m-23 0h1v1h-1m5 -1h2v1h-2m24 -3h2v3h-2m-747 -1h1v2h-1m3 -2h1v2h-1m676 -3h1v3h-1m3 -3h2v3h-2m42 -1h1v1h-1m7 -2h2v2h-2m8 -2h4v2h-4m8 -1h1v1h-1m-18 6h1v1h-1m10 -1h4v2h-4m9 -2h1v2h-1m-66 -2h1v3h-1m44 -1h1v1h-1m11 -1h4v1h-4m8 -1h1v1h-1m2 -1h2v1h-2m-22 0h2v1h-2m12 -1h2v1h-2m8 -1h5v1h-5m-18 0h3v1h-3m-47 -5h1v6h-1m47 -1h1v1h-1m20 -2h4v2h-4m-23 0h5v1h-5m27 -1h1v1h-1m-760 -1h2v2h-2m6 -2h6v2h-6m726 -1h5v1h-5m28 -1h2v1h-2m-76 -2h2v3h-2m9 -3h1v3h-1m55 -3h2v3h-2m4 -1h1v1h-1m-742 -1h2v2h-2m721 -1h1v1h-1m10 -1h1v1h-1m8 -1h1v1h-1m3 -1h2v1h-2m4 -1h1v1h-1m-64 -1h2v3h-2m42 -2h1v2h-1m12 -2h6v2h-6m-744 0h2v2h-2m725 -1h1v1h-1m5 -2h1v2h-1m27 -2h1v2h-1m-77 -2h1v3h-1m7 -3h1v3h-1m4 -3h1v3h-1m-693 -1h2v2h-2m6 -2h2v2h-2m724 -2h4v2h-4m24 -2h2v2h-2m-26 0h2v1h-2m8 -5h2v5h-2m3 -1h1v1h-1m16 -1h1v1h-1m-743 -1h1v2h-1m677 -3h2v3h-2m38 -1h3v1h-3m9 -1h4v1h-4m24 -2h1v2h-1m-28 0h4v1h-4m21 -1h1v1h-1m-21 0h1v1h-1m2 -1h1v1h-1m-52 -2h1v3h-1m10 -3h3v3h-3m-680 -1h1v2h-1m724 -2h1v2h-1m14 -4h2v4h-2m3 -2h2v2h-2m4 0h4v1h-4m-751 -1h2v2h-2m688 -3h1v3h-1m32 -2h2v2h-2m8 -2h2v2h-2m20 -2h1v2h-1m5 -1h2v1h-2m3 -2h2v2h-2m-32 0h2v1h-2m3 -1h1v1h-1m-731 -5h2v6h-2m728 -1h4v1h-4m30 -2h1v2h-1m-76 -8h2v9h-2m9 -3h1v3h-1m29 -1h2v1h-2m3 -1h3v1h-3m5 -1h1v1h-1m-726 -1h2v2h-2m718 -1h1v1h-1m2 -1h4v1h-4m5 -1h1v1h-1m32 -2h1v2h-1m-34 0h1v1h-1m-35 -2h2v3h-2m34 -1h2v1h-2m4 -2h2v2h-2m-6 0h1v1h-1m-718 -3h2v4h-2m715 -2h1v2h-1m33 -2h1v2h-1m-70 -2h2v3h-2m5 -3h1v3h-1m36 -1h1v2h-1m3 -2h3v2h-3m24 -2h2v2h-2m5 -2h1v2h-1m-32 0h3v1h-3m-725 -1h2v2h-2m6 -2h2v2h-2m6 -2h1v2h-1m671 -3h1v3h-1m6 -3h2v3h-2m36 -1h2v1h-2m31 -2h1v2h-1m4 -2h1v2h-1m-760 0h4v2h-4m725 -2h1v2h-1m29 -2h2v2h-2m-65 -2h1v3h-1m3 -6h1v6h-1m64 -1h2v1h-2m-34 -1h2v2h-2m6 -2h2v2h-2m24 -2h2v2h-2m3 -1h3v1h-3m2 0h1v2h-1m-37 0h1v2h-1m4 -2h1v2h-1m-35 -2h2v3h-2m4 -6h1v6h-1m-4 0h1v3h-1m3 -3h1v3h-1m64 -2h2v2h-2m-36 0h2v2h-2m27 -2h1v2h-1m-63 -5h2v6h-2m37 -1h1v2h-1m3 -4h1v4h-1m2 -2h3v2h-3m20 -2h2v2h-2m10 0h1v1h-1m-63 -5h1v6h-1m59 -2h2v2h-2m-2 0h2v1h-2m-1 0h2v1h-2m-66 -2h3v3h-3m9 -3h2v3h-2m29 -1h1v2h-1m9 -2h1v2h-1m18 -2h2v2h-2m3 -2h1v2h-1m7 -2h1v2h-1m-69 -1h1v3h-1m2 -3h1v3h-1m41 -2h2v2h-2m12 -2h2v2h-2m3 -1h1v1h-1m3 -2h2v2h-2m7 -2h1v2h-1m-37 0h2v1h-2m25 -1h1v1h-1m7 -1h2v1h-2m-31 0h1v1h-1m23 -1h2v1h-2m4 -2h2v2h-2m4 -1h1v1h-1m-5 0h2v1h-2m-23 -1h2v2h-2m22 -1h2v1h-2m6 -2h2v2h-2m3 -3h1v3h-1m-66 -1h1v3h-1m47 -2h2v2h-2m15 -1h1v1h-1m3 -2h1v2h-1m-26 0h2v1h-2m-7 -1h1v2h-1m7 -1h3v1h-3m13 -1h1v1h-1m10 -1h1v1h-1m-67 -8h2v9h-2m8 -6h1v6h-1m56 -1h2v1h-2m-19 -1h1v2h-1m7 -2h2v2h-2m6 -2h2v2h-2m6 -1h1v1h-1m-6 0h1v1h-1m6 -1h3v1h-3m4 -1h2v1h-2m-62 -2h1v3h-1m3 -3h1v3h-1m27 -2h2v2h-2m4 -2h3v2h-3m12 -1h2v1h-2m12 -1h2v1h-2m4 -1h1v1h-1m-1 0h1v1h-1m-13 0h2v1h-2m6 -2h2v2h-2m6 -1h2v1h-2m-25 0h1v1h-1m15 -1h2v1h-2m-8 -1h2v2h-2m8 -1h1v1h-1m-4 0h4v1h-4m8 -1h1v1h-1m-53 -2h1v3h-1m2 -3h1v3h-1m31 -1h1v1h-1m8 -1h2v1h-2m6 -1h2v1h-2m-9 0h1v1h-1m-37 -1h1v3h-1m34 -1h2v2h-2m10 -2h2v2h-2m-8 0h5v1h-5m0 0h6v1h-6m-1 0h5v1h-5m1 0h2v1h-2m3 -1h1v1h-1m-47 -5h2v6h-2m7 0h1v3h-1m1 0h1v3h-1m-268 29h1v11h-1m5 -11h1v11h-1m11 -11h1v11h-1m3 -11h3v11h-3m6 -11h1v11h-1m-26 0h1v10h-1m9 -10h6v10h-6m7 -10h1v10h-1m3 -10h1v10h-1m8 -10h1v10h-1m-458 0h1v10h-1m7 -10h1v10h-1m4 -10h1v10h-1m421 -10h1v10h-1m5 -10h1v10h-1m11 -10h1v10h-1m3 -10h3v10h-3m6 -10h1v10h-1m37 -31h2v31h-2m5 -31h1v31h-1m37 -10h2v10h-2m4 -10h1v10h-1m8 -10h1v10h-1m6 -10h1v10h-1m14 -10h2v10h-2m-574 0h1v11h-1m2 -11h2v11h-2m3 -11h1v11h-1m13 -11h2v11h-2m426 -11h1v11h-1m22 -11h3v11h-3m6 -11h2v11h-2m8 -11h4v11h-4m6 -11h1v11h-1m13 -11h1v11h-1m6 -11h2v11h-2m3 -11h1v11h-1m9 -11h1v11h-1m5 -11h2v11h-2m6 -11h1v11h-1m37 -11h1v11h-1m-541 10h3v10h-3m7 -10h2v10h-2m3 -10h4v10h-4m710 0h1v8h-1m2 -8h1v8h-1m2 -8h4v8h-4m6 -8h1v8h-1m6 -8h1v8h-1m2 -8h3v8h-3m14 -8h4v8h-4m8 -8h2v8h-2m5 -8h4v8h-4"/>
<path fill="#b5ff00" d="M0 0m118 218h1v2h-1m0 1h1v1h-1m0 6h1v2h-1m1 6h1v2h-1m677 -4h1v6h-1m-678 -2h1v7h-1m0 0h2v1h-2m685 -3h1v3h-1m-685 0h1v2h-1m0 0h2v4h-2m0 0h1v2h-1m0 2h3v2h-3m728 -1h2v1h-2m8 -1h4v1h-4m-12 0h2v1h-2m6 0h2v1h-2m8 -1h2v1h-2m-61 -5h1v6h-1m47 -1h2v1h-2m17 -1h1v1h-1m-17 0h1v1h-1m10 -1h2v1h-2m4 -1h2v1h-2m2 0h5v1h-5m-740 -3h1v4h-1m742 -1h4v1h-4m-12 0h4v1h-4m7 -1h1v1h-1m-736 -1h2v2h-2m725 -2h2v2h-2m3 -1h5v1h-5m-44 -2h1v3h-1m59 -1h2v1h-2m-742 -1h1v2h-1m716 -2h4v2h-4m5 -1h1v1h-1m22 -1h1v1h-1m-27 0h1v1h-1m10 -1h2v1h-2m-727 -1h2v2h-2m725 -1h4v1h-4m16 -2h2v2h-2m4 -2h2v2h-2m-745 0h1v2h-1m722 -1h1v1h-1m23 -2h1v2h-1m-746 0h1v2h-1m732 -2h2v2h-2m12 -2h2v2h-2m6 -2h1v2h-1m-67 -1h2v3h-2m35 -2h2v2h-2m7 -1h1v1h-1m22 -2h1v2h-1m5 -2h1v2h-1m-32 0h2v2h-2m4 -2h2v2h-2m14 -6h2v6h-2m10 -2h2v2h-2m-70 -2h1v3h-1m7 -3h1v3h-1m-684 -5h1v6h-1m721 -2h2v2h-2m12 -2h2v2h-2m12 -2h2v2h-2m6 -2h1v2h-1m-24 0h2v2h-2m22 -4h1v4h-1m-750 -2h1v4h-1m2 -2h1v2h-1m716 -2h2v2h-2m3 -2h1v2h-1m9 -2h2v2h-2m6 -2h4v2h-4m-735 0h2v2h-2m684 -4h1v4h-1m33 -2h3v2h-3m6 -2h2v2h-2m8 -2h2v2h-2m6 -2h2v2h-2m9 -2h1v2h-1m-745 0h1v2h-1m675 -3h2v3h-2m57 -2h2v2h-2m17 -4h1v4h-1m-33 -2h1v3h-1m-717 -1h1v2h-1m725 -2h2v2h-2m6 -2h2v2h-2m8 -2h2v2h-2m11 -1h1v1h-1m-749 0h1v1h-1m740 -1h1v1h-1m-742 -1h1v2h-1m3 -1h1v1h-1m715 -3h2v3h-2m4 -2h4v2h-4m26 -2h2v2h-2m-12 -2h2v3h-2m3 -1h2v1h-2m-738 -1h2v2h-2m725 -2h2v2h-2m10 -1h5v1h-5m-4 0h2v2h-2m6 -2h2v2h-2m6 -4h2v4h-2m-742 -2h1v4h-1m720 -2h2v2h-2m8 -2h2v2h-2m-6 0h1v1h-1m2 -1h2v1h-2m8 -3h2v3h-2m-733 -1h2v2h-2m721 -1h1v1h-1m2 -1h4v1h-4m16 -2h2v2h-2m3 -1h1v1h-1m4 -1h1v1h-1m-28 0h3v1h-3m1 0h2v1h-2m23 -1h1v1h-1m2 -1h1v1h-1m-68 -2h2v3h-2m3 -3h1v3h-1m3 -3h3v3h-3m35 -1h4v1h-4m14 -1h4v1h-4m-732 -1h1v2h-1m2 -4h1v4h-1m717 -1h1v1h-1m2 -1h1v1h-1m7 -2h2v2h-2m4 -1h2v1h-2m12 -2h4v2h-4m-741 0h1v2h-1m727 -1h2v1h-2m8 -2h2v2h-2m8 -2h2v2h-2m-15 6h1v1h-1m3 -1h2v2h-2m14 -2h1v2h-1m-18 -1h2v3h-2m6 -2h2v2h-2m-5 0h2v1h-2m15 -1h2v1h-2m-70 -5h2v6h-2m8 -3h2v3h-2m45 -1h3v1h-3m5 -2h4v2h-4m6 -3h2v3h-2m7 -1h1v1h-1m-17 0h2v1h-2m6 -1h4v1h-4m-742 -1h2v2h-2m735 -1h2v1h-2m7 -1h2v1h-2m6 0h2v1h-2m-746 -1h2v2h-2m744 -1h1v1h-1m3 -1h1v1h-1m-19 0h1v1h-1m6 -1h3v1h-3m16 -3h2v3h-2m-748 -1h2v2h-2m6 -2h1v2h-1m672 -3h2v3h-2m51 -2h2v2h-2m3 -1h2v1h-2m17 -1h1v1h-1m-22 0h3v1h-3m5 -1h1v1h-1m-5 0h2v1h-2m11 -4h2v4h-2m14 -2h1v2h-1m-18 0h2v2h-2m16 -2h2v2h-2m-22 -2h2v3h-2m20 -1h1v1h-1m-744 -5h2v6h-2m682 -6h1v6h-1m42 -1h1v1h-1m20 -1h2v1h-2m-14 0h1v1h-1m12 -1h1v1h-1m-748 -5h2v6h-2m724 -2h1v2h-1m5 -1h1v1h-1m2 -1h1v1h-1m9 -2h2v2h-2m4 -6h2v6h-2m4 -1h2v1h-2m-20 0h2v2h-2m5 -2h1v2h-1m15 -2h1v2h-1m-22 0h1v1h-1m26 -1h1v1h-1m-756 -1h2v2h-2m12 -2h1v2h-1m680 -3h1v3h-1m44 -2h2v2h-2m16 -2h2v2h-2m4 -1h3v1h-3m-18 0h2v1h-2m0 0h1v1h-1m-7 0h1v1h-1m-723 -3h2v4h-2m4 -2h1v2h-1m711 -1h1v1h-1m7 -1h2v1h-2m4 -4h2v4h-2m12 -4h2v4h-2m14 -2h1v2h-1m-28 0h2v1h-2m-728 -1h2v2h-2m6 -2h2v2h-2m674 -3h2v3h-2m40 -2h1v2h-1m8 -1h1v1h-1m18 -2h4v2h-4m-25 0h1v1h-1m-725 -1h2v2h-2m8 -2h4v2h-4m716 -1h2v1h-2m12 -2h2v2h-2m16 -2h2v2h-2m-750 0h2v2h-2m8 -2h2v2h-2m721 -2h1v2h-1m7 -2h2v2h-2m16 -2h3v2h-3m5 -2h3v2h-3m-755 0h2v2h-2m718 -4h1v4h-1m5 -1h1v1h-1m5 -2h2v2h-2m12 -2h2v2h-2m4 -2h2v2h-2m6 -2h2v2h-2m-32 0h2v1h-2m-716 -1h2v2h-2m6 -2h1v2h-1m710 -1h1v1h-1m18 -4h2v4h-2m6 -2h2v2h-2m4 -2h2v2h-2m-57 -8h1v9h-1m61 -1h2v1h-2m-30 -1h1v2h-1m6 -2h4v2h-4m24 -1h1v1h-1m7 0h1v1h-1m-33 -1h1v2h-1m22 -2h2v2h-2m6 -2h1v2h-1m4 -1h2v1h-2m-39 0h3v2h-3m4 -2h1v2h-1m7 -4h2v4h-2m-48 -8h2v9h-2m8 -6h1v6h-1m30 -1h2v1h-2m0 0h1v1h-1m10 -2h8v2h-8m25 -2h1v2h-1m-64 -1h1v3h-1m33 -2h2v2h-2m32 -2h2v2h-2m-36 0h2v2h-2m12 -2h2v2h-2m12 -2h1v2h-1m2 -2h2v2h-2m6 -2h2v2h-2m-29 -2h1v4h-1m4 -2h1v2h-1m23 -2h2v2h-2m3 -1h1v1h-1m-71 -1h2v3h-2m8 -6h1v6h-1m34 -1h1v1h-1m10 -2h2v2h-2m4 -2h4v2h-4m8 0h2v1h-2m-28 -1h4v2h-4m6 -2h2v2h-2m22 -1h1v1h-1m-24 0h1v2h-1m2 -2h3v2h-3m5 -2h1v2h-1m11 -2h2v2h-2m5 -1h1v1h-1m3 -2h1v2h-1m3 -3h1v3h-1m-33 0h1v1h-1m18 -1h4v1h-4m5 -1h1v1h-1m3 -1h4v1h-4m-53 -2h1v3h-1m27 -1h2v1h-2m14 -2h2v2h-2m4 -1h6v1h-6m8 -1h1v1h-1m2 -1h2v1h-2m8 -2h1v2h-1m-34 0h1v1h-1m22 -1h1v1h-1m10 -1h2v1h-2m-32 0h2v1h-2m4 -2h2v2h-2m10 -2h2v2h-2m4 -2h2v2h-2m-12 0h3v1h-3m4 -3h2v3h-2m10 -1h5v1h-5m9 -2h1v2h-1m-23 0h6v1h-6m14 -1h4v1h-4m8 -1h2v1h-2m4 -3h1v3h-1m-20 0h1v1h-1m15 -1h3v1h-3m4 -1h1v1h-1m-60 -2h1v3h-1m29 -1h1v1h-1m2 -2h1v2h-1m10 -1h2v1h-2m11 -1h1v1h-1m3 -1h3v1h-3m4 -1h2v1h-2m-22 0h2v1h-2m10 -1h4v1h-4m10 -1h2v1h-2m-19 0h1v1h-1m9 -1h1v1h-1m2 -1h2v1h-2m8 -1h1v1h-1m-20 0h2v2h-2m10 -2h2v2h-2m-4 0h6v1h-6m-9 -1h1v2h-1m5 -1h1v1h-1m6 -1h4v1h-4m7 -1h1v1h-1m-7 0h2v1h-2m12 -1h1v1h-1m-18 -1h2v2h-2m-40 -2h2v3h-2m44 -1h2v2h-2m-12 0h2v1h-2m8 -1h2v1h-2m-7 0h1v1h-1m3 -2h2v2h-2m-2 0h2v2h-2m12 -2h4v2h-4m-54 -5h2v6h-2m9 -3h1v3h-1m37 -1h2v2h-2m3 0h1v1h-1m-41 -2h1v3h-1m44 -2h2v2h-2m-44 0h2v3h-2m-8 3h2v3h-2m9 -6h1v6h-1m-279 29h4v11h-4m5 -11h3v11h-3m4 -11h1v11h-1m2 -11h2v11h-2m3 -11h1v11h-1m4 -11h1v11h-1m2 -11h3v11h-3m4 -11h2v11h-2m4 -11h1v11h-1m4 -11h1v11h-1m2 -11h1v11h-1m2 -11h1v11h-1m-28 0h1v10h-1m5 -10h1v10h-1m24 -10h1v10h-1m260 -10h2v10h-2m-290 0h1v10h-1m2 -10h1v10h-1m2 -10h2v10h-2m3 -10h1v10h-1m4 -10h1v10h-1m2 -10h3v10h-3m4 -10h2v10h-2m4 -10h1v10h-1m4 -10h1v10h-1m2 -10h1v10h-1m2 -10h1v10h-1m40 -31h1v31h-1m-507 0h1v11h-1m4 -11h1v11h-1m6 -11h1v11h-1m9 -11h1v11h-1m429 -11h1v11h-1m10 -11h1v11h-1m6 -11h1v11h-1m8 -11h1v11h-1m21 -11h2v11h-2m10 -11h2v11h-2m11 -11h1v11h-1m3 -11h3v11h-3m5 -11h3v11h-3m10 -11h1v11h-1m5 -11h2v11h-2m4 -11h3v11h-3m6 -11h2v11h-2m12 -11h1v11h-1m2 -11h2v11h-2m5 -11h1v11h-1m3 -11h3v11h-3m4 -11h1v11h-1m3 -11h1v11h-1m3 -11h1v11h-1m-578 0h2v10h-2m16 -10h1v10h-1m733 10h1v8h-1m14 -8h1v8h-1m27 -8h1v8h-1"/>
<path fill="#d3ff00" d="M0 0m118 226h1v2h-1m677 2h1v1h-1m-677 -1h1v2h-1m0 2h1v4h-1m677 2h1v3h-1m6 -3h2v3h-2m-5 0h1v3h-1m-1 3h2v3h-2m-676 0h1v2h-1m677 1h1v3h-1m5 -3h3v3h-3m41 1h2v1h-2m4 -2h2v2h-2m-43 -2h1v3h-1m55 -1h1v1h-1m-15 0h1v1h-1m7 -4h2v4h-2m8 -1h2v1h-2m-739 -2h1v4h-1m723 -2h4v2h-4m6 -2h4v2h-4m10 -1h2v1h-2m-4 0h1v1h-1m8 -1h2v1h-2m-8 0h2v1h-2m9 -1h1v1h-1m-7 0h4v1h-4m-6 -1h2v2h-2m6 -1h2v1h-2m6 -1h1v1h-1m-25 0h1v1h-1m-41 -8h1v9h-1m7 -3h1v3h-1m49 -2h6v2h-6m3 0h1v1h-1m2 -1h1v1h-1m-21 -2h2v3h-2m6 -2h2v2h-2m4 -2h4v2h-4m6 -2h2v2h-2m-57 -2h2v3h-2m-676 -1h1v2h-1m725 -2h2v2h-2m10 -2h2v2h-2m13 -2h1v2h-1m-71 -1h1v3h-1m42 -2h4v2h-4m8 -2h2v2h-2m6 -2h4v2h-4m8 -2h2v2h-2m4 -2h1v2h-1m4 -2h2v2h-2m-28 0h2v1h-2m0 0h1v1h-1m-39 -2h2v3h-2m35 -1h2v2h-2m-41 -1h1v3h-1m57 -2h2v2h-2m8 -2h2v2h-2m6 -2h2v2h-2m-747 -2h1v4h-1m721 -2h2v2h-2m4 -2h4v2h-4m-43 -2h2v3h-2m38 -1h1v2h-1m7 -2h2v2h-2m18 -2h1v2h-1m3 -2h2v2h-2m-19 0h2v2h-2m10 -2h2v2h-2m10 -2h1v2h-1m-31 -2h1v3h-1m31 -1h2v1h-2m-28 -3h2v4h-2m14 -2h2v2h-2m8 -2h4v2h-4m6 -1h1v1h-1m-749 0h1v1h-1m682 -3h1v3h-1m-682 0h2v1h-2m725 -2h2v2h-2m20 -2h2v2h-2m4 -2h2v2h-2m-12 0h1v1h-1m-61 -2h1v3h-1m43 -4h2v4h-2m4 -1h1v1h-1m2 0h4v2h-4m8 -4h2v4h-2m-57 -2h2v3h-2m41 -1h3v1h-3m0 0h4v1h-4m8 -2h2v2h-2m-4 0h2v1h-2m3 -1h1v1h-1m13 -3h2v3h-2m4 -1h2v1h-2m4 -1h2v1h-2m-28 -1h2v2h-2m5 -1h1v1h-1m7 -1h2v1h-2m7 -1h3v1h-3m5 -1h1v1h-1m4 -1h1v1h-1m-4 0h4v1h-4m-16 -1h2v2h-2m6 -1h2v1h-2m10 -1h1v1h-1m2 -1h1v1h-1m-18 0h1v1h-1m12 -1h4v1h-4m-737 -1h1v2h-1m725 -1h2v1h-2m11 -1h5v1h-5m-11 0h3v1h-3m4 -1h2v1h-2m-728 -1h1v2h-1m675 -3h1v3h-1m8 -3h1v3h-1m41 -1h4v1h-4m8 -2h2v2h-2m4 6h2v2h-2m-54 -2h2v3h-2m49 1h1v1h-1m-1 0h2v1h-2m10 -4h2v4h-2m4 -1h1v1h-1m-15 1h1v1h-1m7 -1h2v1h-2m6 -2h4v2h-4m-8 0h2v1h-2m-8 -1h2v2h-2m14 -1h1v1h-1m-17 0h1v1h-1m8 -1h3v1h-3m-9 0h2v1h-2m5 -2h1v2h-1m3 -1h4v1h-4m14 -1h1v1h-1m-15 0h1v1h-1m-4 0h1v1h-1m11 -2h4v2h-4m10 -4h2v4h-2m-59 -2h1v3h-1m41 -2h2v3h-2m-45 -1h1v3h-1m42 -1h1v1h-1m6 0h1v1h-1m-12 -1h2v2h-2m7 -2h2v2h-2m4 -1h2v1h-2m-43 -2h1v3h-1m37 -1h1v1h-1m24 -5h2v6h-2m-27 0h1v1h-1m-38 -2h1v3h-1m37 -1h2v1h-2m10 -2h2v2h-2m8 -2h2v2h-2m-9 1h1v1h-1m-3 0h2v1h-2m19 -1h1v1h-1m-19 0h1v1h-1m8 -2h2v2h-2m6 -4h4v4h-4m-25 0h1v2h-1m8 -1h1v1h-1m5 -2h2v2h-2m4 -2h2v2h-2m4 -2h2v2h-2m8 -2h2v2h-2m4 -2h2v2h-2m-30 -2h2v4h-2m6 -2h2v2h-2m-8 0h1v2h-1m6 -2h2v2h-2m12 -2h2v2h-2m6 -2h2v2h-2m8 -2h1v2h-1m-74 -1h2v3h-2m13 -3h1v3h-1m26 -4h1v4h-1m23 -2h2v2h-2m11 0h1v1h-1m-34 0h1v1h-1m5 -2h2v2h-2m8 -4h2v4h-2m16 -2h2v2h-2m4 -1h2v1h-2m-31 0h1v2h-1m9 -2h2v2h-2m26 0h1v1h-1m-34 -1h2v2h-2m3 -2h1v2h-1m7 -2h2v2h-2m4 -2h2v2h-2m-10 0h2v2h-2m14 -4h2v4h-2m10 -4h2v4h-2m-57 -2h1v3h-1m27 -1h2v1h-2m-1 0h3v1h-3m17 -2h2v2h-2m10 -2h2v2h-2m6 -2h1v2h-1m-34 0h2v2h-2m10 -2h2v2h-2m10 -2h2v2h-2m6 -2h2v2h-2m3 -2h1v2h-1m-23 0h4v2h-4m24 -2h2v2h-2m4 -2h2v2h-2m-59 -2h1v3h-1m57 -1h2v1h-2m-12 -1h2v2h-2m12 -1h1v1h-1m-28 0h4v1h-4m1 0h3v1h-3m7 -4h2v4h-2m4 -2h2v2h-2m12 -2h2v2h-2m2 0h2v1h-2m-24 -1h1v2h-1m18 0h2v1h-2m-24 -1h2v2h-2m3 -2h1v2h-1m4 -2h1v2h-1m17 -1h1v1h-1m6 -3h1v3h-1m-31 0h1v1h-1m21 -1h1v1h-1m-50 -2h1v3h-1m36 -2h2v2h-2m-5 0h2v1h-2m5 -1h1v1h-1m22 -1h2v1h-2m-26 0h2v1h-2m4 -1h2v1h-2m14 -2h2v2h-2m-49 -2h1v3h-1m38 -1h1v1h-1m19 -2h1v2h-1m-12 -1h2v2h-2m-16 0h2v1h-2m13 -1h1v1h-1m7 -1h7v1h-7m10 -1h1v1h-1m-29 0h1v1h-1m2 -2h1v2h-1m3 -2h2v2h-2m14 -1h3v1h-3m4 -1h2v1h-2m-14 0h1v1h-1m0 0h2v1h-2m16 -2h2v2h-2m-55 -2h1v3h-1m45 -1h2v2h-2m7 -1h1v1h-1m-13 0h4v1h-4m12 -1h2v1h-2m-11 0h3v1h-3m11 -1h1v1h-1m-16 0h1v1h-1m2 -1h1v1h-1m13 -1h1v1h-1m-19 -1h2v2h-2m18 -1h2v1h-2m-58 -5h2v6h-2m44 -2h4v3h-4m2 0h1v1h-1m-38 -2h1v3h-1m38 -1h2v1h-2m10 -2h2v2h-2m-6 -4h2v6h-2m-41 1h1v3h-1m4 -3h1v3h-1m-13 3h2v3h-2m8 -3h1v3h-1m-274 32h1v11h-1m4 -11h1v11h-1m5 -11h1v11h-1m6 -11h1v11h-1m4 -11h1v11h-1m-24 0h1v10h-1m287 -10h2v10h-2m9 -10h2v10h-2m9 -10h2v10h-2m-296 0h1v10h-1m5 -10h1v10h-1m6 -10h1v10h-1m4 -10h1v10h-1m-445 0h1v11h-1m7 -11h1v11h-1m4 -11h1v11h-1m421 -11h1v11h-1m5 -11h1v11h-1m9 -11h1v11h-1m2 -11h1v11h-1m3 -11h3v11h-3m6 -11h1v11h-1m41 -11h1v11h-1m8 -11h2v11h-2m6 -11h1v11h-1m6 -11h4v11h-4m6 -11h4v11h-4m6 -11h2v11h-2m5 -11h1v11h-1m6 -11h7v11h-7m8 -11h1v11h-1m2 -11h1v11h-1m4 -11h2v11h-2m3 -11h1v11h-1m5 -11h1v11h-1m2 -11h1v11h-1m58 -11h1v11h-1m45 -11h2v11h-2m-670 0h1v10h-1m11 -10h1v10h-1m5 -10h4v10h-4m476 -10h1v10h-1m6 -10h1v10h-1m7 -10h1v10h-1m-511 0h2v10h-2m16 -10h1v10h-1m13 0h8v8h-8"/>
<path fill="#f1ff00" d="M0 0m796 230h1v1h-1m-1 0h2v3h-2m0 0h1v3h-1m0 6h1v6h-1m8 0h1v3h-1m-8 0h1v3h-1m1 3h1v3h-1m50 1h2v2h-2m16 1h1v1h-1m-61 -5h2v6h-2m43 -1h2v2h-2m8 -2h2v2h-2m6 -1h2v1h-2m-63 -7h1v9h-1m47 -2h2v2h-2m6 -2h2v2h-2m2 0h2v1h-2m4 -1h1v1h-1m2 -1h1v1h-1m2 -1h6v1h-6m-20 -1h2v2h-2m16 -1h10v1h-10m-51 -2h1v3h-1m37 -1h4v1h-4m0 0h1v1h-1m2 -1h2v1h-2m4 -2h2v2h-2m6 -2h2v2h-2m8 -2h2v2h-2m6 -2h1v2h-1m-8 0h2v1h-2m1 0h1v1h-1m3 -2h2v2h-2m-4 0h6v1h-6m-17 0h1v1h-1m7 -2h2v2h-2m6 -2h2v2h-2m4 -1h2v1h-2m3 -1h3v1h-3m-66 -5h1v6h-1m47 -1h6v2h-6m14 -2h2v2h-2m-60 -1h1v3h-1m42 -4h2v4h-2m6 -2h2v2h-2m4 -2h4v2h-4m6 -2h4v2h-4m8 -2h2v2h-2m-20 0h1v2h-1m16 -2h6v2h-6m-63 -2h2v3h-2m6 0h2v1h-2m39 -2h2v2h-2m8 -2h2v2h-2m10 -2h2v2h-2m8 -2h1v2h-1m-65 0h1v2h-1m37 -2h2v2h-2m8 -2h2v2h-2m14 -2h6v2h-6m-18 0h2v2h-2m10 -2h2v2h-2m14 -2h2v2h-2m-71 -2h2v3h-2m53 -1h2v2h-2m-6 0h2v1h-2m-46 -2h1v3h-1m5 -3h1v3h-1m35 -2h2v2h-2m7 -1h1v1h-1m3 -2h2v2h-2m4 -2h2v2h-2m10 -2h2v2h-2m-20 0h2v2h-2m8 -2h2v2h-2m6 -2h2v2h-2m-15 0h1v1h-1m20 -1h3v1h-3m-13 -1h2v2h-2m4 -2h2v2h-2m8 -1h4v1h-4m6 -6h2v6h-2m-16 0h4v1h-4m6 -1h2v1h-2m-59 -2h2v3h-2m55 -1h2v1h-2m4 -1h1v1h-1m-8 0h2v1h-2m4 -1h6v1h-6m-4 0h4v1h-4m6 -1h4v1h-4m-7 0h1v1h-1m9 -1h2v1h-2m0 0h1v1h-1m-7 0h1v1h-1m-51 -2h1v3h-1m44 -2h2v2h-2m14 -2h2v2h-2m-47 6h1v6h-1m43 0h2v2h-2m2 0h2v1h-2m0 0h4v1h-4m-2 2h2v2h-2m10 -2h2v3h-2m-8 -1h6v2h-6m9 -1h1v1h-1m-54 -1h1v3h-1m35 -2h2v2h-2m8 -2h6v2h-6m12 -2h2v2h-2m-21 0h1v2h-1m7 -2h2v2h-2m4 -2h2v2h-2m12 -2h4v2h-4m-19 0h1v1h-1m-1 0h2v1h-2m4 -2h4v2h-4m10 -2h2v2h-2m8 -2h2v2h-2m-24 0h2v1h-2m0 0h1v1h-1m12 -2h2v2h-2m-4 0h4v2h-4m14 -2h4v2h-4m-14 0h1v1h-1m14 -1h1v1h-1m-17 0h1v1h-1m5 -2h2v2h-2m12 -1h2v1h-2m-20 0h4v2h-4m6 -2h2v2h-2m4 -2h2v2h-2m4 -4h2v4h-2m-22 0h2v2h-2m4 -2h4v2h-4m8 -2h2v2h-2m6 -2h4v2h-4m12 -2h2v2h-2m-59 -2h1v3h-1m30 -1h1v2h-1m9 -2h2v2h-2m-2 0h1v1h-1m-6 -1h4v2h-4m23 -2h1v2h-1m5 0h1v1h-1m-18 -1h2v2h-2m4 -4h2v4h-2m-45 -2h1v3h-1m29 -1h2v2h-2m14 -2h2v2h-2m4 -2h6v2h-6m7 -1h1v1h-1m-13 0h2v1h-2m0 0h1v1h-1m11 -1h1v1h-1m-23 0h1v2h-1m8 -2h2v2h-2m8 -2h2v2h-2m6 -2h2v2h-2m4 -4h2v4h-2m-6 0h2v2h-2m7 -2h1v2h-1m0 0h3v1h-3m-56 -2h1v3h-1m31 -2h1v2h-1m2 -4h2v4h-2m6 -2h4v2h-4m8 -2h2v2h-2m6 -2h1v2h-1m2 -1h4v1h-4m-26 0h2v2h-2m6 -2h2v2h-2m18 -2h2v2h-2m-10 -2h2v4h-2m8 -2h2v2h-2m-18 -2h4v4h-4m14 -2h4v2h-4m5 -2h1v2h-1m-6 0h5v1h-5m-14 -1h2v2h-2m12 -1h7v1h-7m-7 0h2v2h-2m4 -4h2v4h-2m6 -2h2v2h-2m-20 0h4v2h-4m6 -2h2v2h-2m6 -2h2v2h-2m-11 0h1v1h-1m4 -1h1v1h-1m5 -1h2v2h-2m12 -2h2v2h-2m-49 -2h1v3h-1m44 0h1v1h-1m-15 -2h2v4h-2m4 -2h4v2h-4m10 -2h2v2h-2m-7 0h5v1h-5m1 0h4v1h-4m10 -2h4v2h-4m0 0h2v1h-2m-10 -1h2v2h-2m10 -1h1v1h-1m-16 0h4v2h-4m1 0h1v1h-1m2 -1h1v1h-1m11 -1h1v1h-1m-8 -1h2v2h-2m-3 2h1v1h-1m-34 -11h1v12h-1m0 12h1v3h-1m-246 29h1v11h-1m-36 0h2v10h-2m287 -10h5v10h-5m6 -10h1v10h-1m5 -10h2v10h-2m3 -10h1v10h-1m-265 0h1v10h-1m-38 0h1v11h-1m8 -11h1v11h-1m2 -11h1v11h-1m2 -11h2v11h-2m3 -11h1v11h-1m4 -11h6v11h-6m7 -11h1v11h-1m3 -11h1v11h-1m4 -11h1v11h-1m2 -11h1v11h-1m2 -11h1v11h-1m78 -11h2v11h-2m4 -11h1v11h-1m8 -11h1v11h-1m6 -11h1v11h-1m12 -11h1v11h-1m2 -11h2v11h-2m3 -11h7v11h-7m11 -11h2v11h-2m6 -11h6v11h-6m9 -11h1v11h-1m2 -11h1v11h-1m4 -11h1v11h-1m3 -11h2v11h-2m3 -11h1v11h-1m2 -11h1v11h-1m7 -11h2v11h-2m4 -11h1v11h-1m10 -11h8v11h-8m9 -11h1v11h-1m5 -11h2v11h-2m3 -11h3v11h-3m7 -11h2v11h-2m4 -11h2v11h-2m10 -11h6v11h-6m8 -11h2v11h-2m5 -11h2v11h-2m3 -11h4v11h-4m49 -11h1v11h-1m-744 0h1v10h-1m3 -10h4v10h-4m5 -10h1v10h-1m2 -10h1v10h-1m9 -10h1v10h-1m2 -10h2v10h-2m476 -10h2v10h-2m3 -10h3v10h-3m6 -10h1v10h-1m3 -10h3v10h-3m4 -10h1v10h-1m-507 0h3v10h-3m12 -10h1v10h-1m3 -10h6v10h-6m-20 0h2v8h-2m16 -8h1v8h-1m10 -8h3v8h-3m11 -8h3v8h-3"/>
<path fill="#ffef00" d="M0 0m795 237h1v3h-1m1 0h1v3h-1m0 3h1v3h-1m7 -3h1v3h-1m-7 3h1v3h-1m50 11h4v2h-4m8 -2h2v2h-2m-4 3h2v1h-2m-9 1h1v1h-1m7 -2h2v2h-2m-4 0h2v2h-2m4 -2h4v2h-4m10 -1h1v1h-1m-14 0h4v2h-4m6 -2h2v2h-2m10 -1h1v1h-1m-12 0h4v2h-4m6 -2h2v2h-2m4 -2h6v2h-6m-16 0h2v2h-2m16 -2h2v2h-2m6 -2h2v2h-2m-21 0h1v2h-1m7 -2h2v2h-2m-6 0h2v2h-2m8 -2h4v2h-4m8 -2h2v2h-2m-18 0h4v2h-4m8 -2h2v2h-2m4 -2h4v2h-4m-6 0h2v2h-2m8 -2h2v2h-2m-10 0h2v2h-2m4 -2h4v2h-4m6 -2h4v2h-4m6 -2h2v2h-2m-22 0h2v2h-2m8 -2h2v2h-2m-6 0h2v2h-2m16 -2h4v2h-4m0 0h1v1h-1m-4 -1h2v2h-2m-8 0h2v2h-2m2 0h2v1h-2m0 1h2v2h-2m-41 14h1v6h-1m45 0h2v2h-2m8 1h1v1h-1m0 0h2v2h-2m-4 -2h2v4h-2m-4 0h6v2h-6m-9 1h1v1h-1m5 -2h2v2h-2m4 -2h2v2h-2m4 -2h2v2h-2m4 -2h2v2h-2m-14 0h2v2h-2m8 -2h2v2h-2m4 -2h2v2h-2m-10 0h2v1h-2m3 -1h1v1h-1m-9 -1h2v2h-2m6 -1h4v1h-4m-41 -7h1v9h-1m43 0h4v2h-4m8 -2h4v2h-4m-14 0h2v2h-2m6 -2h2v2h-2m6 -2h4v2h-4m-11 0h1v1h-1m-1 0h2v1h-2m4 -2h2v2h-2m12 -2h1v2h-1m2 -2h2v2h-2m-22 0h6v2h-6m14 -2h2v2h-2m4 -2h2v2h-2m2 0h2v1h-2m-14 -1h4v2h-4m14 -1h1v1h-1m-4 0h4v1h-4m-49 -2h1v3h-1m33 -2h2v2h-2m4 -2h2v2h-2m5 -1h1v1h-1m3 -4h2v4h-2m4 -1h3v1h-3m-19 0h3v2h-3m9 -2h6v2h-6m10 -2h2v2h-2m4 -2h2v2h-2m-22 0h2v2h-2m14 -2h4v2h-4m6 -2h2v2h-2m4 -2h1v3h-1m-23 -1h1v2h-1m5 -2h2v2h-2m12 -2h2v2h-2m-10 0h4v2h-4m6 -2h4v2h-4m-4 0h2v2h-2m6 -2h2v2h-2m6 -2h2v2h-2m-2 0h1v2h-1m-8 0h3v1h-3m-9 -1h7v2h-7m9 -1h1v1h-1m-8 0h2v2h-2m4 -2h2v2h-2m4 -2h2v2h-2m-43 -7h1v9h-1m33 0h2v2h-2m8 -2h2v2h-2m2 0h2v1h-2m-6 -1h4v2h-4m6 -1h1v1h-1m-43 -1h1v3h-1m41 -2h2v4h-2m-41 10h1v3h-1m0 3h1v6h-1m-15 26h2v6h-2m9 -6h1v6h-1m3 -6h1v6h-1m-280 11h1v10h-1m3 -10h4v10h-4m290 -10h1v10h-1m8 -10h1v10h-1m2 -10h1v10h-1m3 -10h1v10h-1m-307 0h1v10h-1m297 -10h3v10h-3m14 -10h2v10h-2m3 -10h2v10h-2m-313 0h4v11h-4m5 -11h2v11h-2m3 -11h1v11h-1m5 -11h1v11h-1m24 -11h1v11h-1m119 -11h4v11h-4m6 -11h4v11h-4m10 -11h3v11h-3m4 -11h1v11h-1m2 -11h3v11h-3m4 -11h2v11h-2m4 -11h1v11h-1m2 -11h1v11h-1m2 -11h6v11h-6m8 -11h2v11h-2m4 -11h8v11h-8m16 -11h1v11h-1m2 -11h4v11h-4m6 -11h1v11h-1m4 -11h4v11h-4m6 -11h2v11h-2m4 -11h6v11h-6m14 -11h2v11h-2m5 -11h2v11h-2m4 -11h1v11h-1m6 -11h1v11h-1m8 -11h1v11h-1m33 -11h3v11h-3m4 -11h2v11h-2m-736 0h1v10h-1m7 -10h1v10h-1m4 -10h1v10h-1m427 -10h1v10h-1m32 -10h1v10h-1m2 -10h2v10h-2m7 -10h1v10h-1m3 -10h2v10h-2m12 -10h2v10h-2m5 -10h1v10h-1m39 -10h1v10h-1m12 -10h1v10h-1m2 -10h1v10h-1m5 -10h1v10h-1m2 -10h4v10h-4m5 -10h1v10h-1m6 -10h1v10h-1m162 -10h2v10h-2m3 -10h2v10h-2m-734 0h1v10h-1m9 -10h1v10h-1m725 -10h1v10h-1m-744 -10h1v18h-1m3 -18h1v18h-1m3 -8h3v8h-3m12 -8h1v8h-1m3 -8h6v8h-6"/>
<path fill="#ffd100" d="M0 0m852 276h2v2h-2m0 4h2v2h-2m-6 4h2v2h-2m6 54h2v2h-2m-47 8h1v3h-1m45 1h2v2h-2m-4 2h2v2h-2m-52 64h4v6h-4m9 -6h1v6h-1m-279 21h7v10h-7m269 -31h1v31h-1m8 -31h1v31h-1m9 -10h7v10h-7m8 -10h2v10h-2m5 -10h2v10h-2m3 -10h1v10h-1m2 -10h2v10h-2m8 -10h1v10h-1m3 -10h1v10h-1m-311 0h1v11h-1m254 -11h1v11h-1m10 -11h1v11h-1m3 -11h3v11h-3m9 -42h1v42h-1m17 -11h2v11h-2m-715 -8h1v9h-1m428 -1h1v10h-1m7 -10h1v10h-1m9 -10h2v10h-2m3 -10h3v10h-3m4 -10h1v10h-1m2 -10h1v10h-1m3 -10h3v10h-3m4 -10h6v10h-6m7 -10h1v10h-1m3 -10h5v10h-5m6 -10h2v10h-2m6 -10h2v10h-2m12 -10h1v10h-1m7 -10h1v10h-1m3 -10h4v10h-4m5 -10h2v10h-2m3 -10h2v10h-2m6 -10h2v10h-2m6 -10h2v10h-2m4 -10h3v10h-3m7 -10h1v10h-1m2 -10h7v10h-7m8 -10h1v10h-1m2 -10h1v10h-1m2 -10h1v10h-1m2 -10h2v10h-2m3 -10h1v10h-1m5 -10h1v10h-1m2 -10h3v10h-3m32 -10h1v10h-1m26 -10h1v10h-1m16 -10h1v10h-1m21 -10h1v10h-1m8 -10h2v10h-2m7 -10h1v10h-1m3 -10h2v10h-2m8 -10h1v10h-1m5 -10h1v10h-1m8 -10h1v10h-1m30 -31h3v31h-3m5 -10h1v10h-1m3 -10h1v10h-1m-737 0h1v10h-1m11 -10h1v10h-1m721 -10h3v10h-3m4 -10h2v10h-2m-736 0h2v8h-2m7 -18h1v18h-1m3 -8h2v8h-2m725 -8h1v8h-1"/>
<path fill="#ffb300" d="M0 0m806 312h1v3h-1m-1 0h1v3h-1m-9 0h2v3h-2m2 0h1v3h-1m7 0h2v3h-2m1 3h1v6h-1m-10 -3h2v6h-2m9 -3h1v3h-1m-9 3h2v3h-2m9 -3h2v3h-2m-7 6h1v3h-1m8 -9h1v9h-1m0 3h1v3h-1m-8 3h1v3h-1m8 -3h1v3h-1m-1 0h2v3h-2m-9 6h2v3h-2m9 -3h1v9h-1m1 0h1v3h-1m-8 0h1v3h-1m7 -3h1v3h-1m-9 0h3v3h-3m2 0h1v6h-1m-2 0h2v3h-2m2 0h1v3h-1m4 23h1v6h-1m5 -6h3v6h-3m-15 0h1v31h-1m3 -31h3v31h-3m8 -31h1v31h-1m14 -10h1v10h-1m8 -10h1v10h-1m2 -10h1v10h-1m3 -10h1v10h-1m-36 0h1v11h-1m8 -11h2v11h-2m8 -11h3v11h-3m4 -11h3v11h-3m4 -11h3v11h-3m5 -11h2v11h-2m3 -11h1v11h-1m2 -11h2v11h-2m-724 -5h2v9h-2m419 -4h1v10h-1m8 -10h1v10h-1m2 -10h1v10h-1m2 -10h5v10h-5m7 -10h8v10h-8m10 -10h1v10h-1m4 -10h1v10h-1m2 -10h1v10h-1m2 -10h1v10h-1m5 -10h1v10h-1m21 -10h2v10h-2m22 -10h2v10h-2m6 -10h1v10h-1m3 -10h1v10h-1m3 -10h4v10h-4m6 -10h4v10h-4m6 -10h2v10h-2m5 -10h3v10h-3m5 -10h1v10h-1m8 -10h1v10h-1m6 -10h1v10h-1m14 -10h2v10h-2m3 -10h7v10h-7m10 -10h4v10h-4m5 -10h1v10h-1m2 -10h9v10h-9m10 -10h2v10h-2m4 -10h10v10h-10m13 -10h6v10h-6m7 -10h1v10h-1m2 -10h1v10h-1m2 -10h1v10h-1m6 -10h7v10h-7m8 -10h2v10h-2m4 -10h4v10h-4m5 -10h3v10h-3m4 -10h7v10h-7m8 -10h1v10h-1m2 -10h1v10h-1m3 -10h2v10h-2m4 -10h5v10h-5m6 -10h2v10h-2m6 -10h4v10h-4m5 -10h4v10h-4m6 -10h3v10h-3m9 -10h1v10h-1m17 -10h2v10h-2m-715 0h1v3h-1m-15 -44h2v51h-2m499 -10h4v10h-4m8 -10h2v10h-2m5 -10h1v10h-1m2 -10h2v10h-2m196 -10h1v10h-1m30 -10h3v10h-3m-725 2h1v3h-1m-14 -5h1v8h-1m506 -8h1v8h-1m7 -8h1v8h-1m229 -8h3v8h-3m4 -8h2v8h-2"/>
<path fill="#ff9500" d="M0 0m798 318h1v3h-1m0 9h1v3h-1m8 6h1v3h-1m-1 3h1v6h-1m-9 0h2v6h-2m2 3h1v3h-1m7 -3h1v3h-1m-7 9h1v3h-1m7 -6h1v6h-1m1 0h1v3h-1m-10 3h3v3h-3m10 -3h1v3h-1m-8 0h1v3h-1m7 -3h1v3h-1m0 3h1v3h-1m-9 3h2v3h-2m9 -3h1v3h-1m-7 0h1v3h-1m8 -3h1v6h-1m-12 29h1v31h-1m8 -31h1v31h-1m-698 0h3v3h-3m0 0h2v3h-2m703 -37h3v42h-3m6 -11h1v11h-1m4 -11h1v11h-1m8 -11h1v11h-1m2 -11h1v11h-1m3 -11h1v11h-1m-724 1h1v6h-1m-2 0h3v3h-3m420 -10h7v10h-7m8 -10h1v10h-1m29 -10h1v10h-1m119 -10h3v10h-3m7 -10h1v10h-1m2 -10h1v10h-1m13 -10h2v10h-2m12 -10h3v10h-3m9 -10h1v10h-1m4 -10h1v10h-1m2 -10h5v10h-5m15 -10h2v10h-2m6 -10h1v10h-1m4 -10h1v10h-1m10 -10h1v10h-1m2 -10h2v10h-2m16 -10h2v10h-2m12 -10h1v10h-1m8 -10h2v10h-2m8 -10h3v10h-3m4 -10h3v10h-3m4 -10h3v10h-3m5 -10h2v10h-2m3 -10h1v10h-1m2 -10h2v10h-2m-722 3h1v6h-1m460 -9h2v10h-2m4 -10h6v10h-6m10 -10h2v10h-2m3 -10h3v10h-3m5 -10h2v10h-2m6 -10h4v10h-4m7 -10h2v10h-2m3 -10h1v10h-1m36 -10h2v10h-2m3 -10h1v10h-1m2 -10h1v10h-1m3 -10h1v10h-1m3 -10h5v10h-5m7 -10h2v10h-2m3 -10h4v10h-4m5 -10h1v10h-1m3 -10h1v10h-1m3 -10h1v10h-1m120 -10h2v10h-2m5 -10h1v10h-1m7 -10h1v10h-1m-700 -1h3v3h-3m0 0h2v3h-2m0 0h3v3h-3m468 -8h1v8h-1m13 -8h1v8h-1m5 -8h6v8h-6m9 -8h1v8h-1m3 -8h3v8h-3m4 -8h1v8h-1m225 -8h3v8h-3"/>
<path fill="#ff7700" d="M0 0m805 312h1v3h-1m-9 -3h3v6h-3m9 0h2v3h-2m0 0h1v3h-1m-9 -3h2v6h-2m2 0h1v3h-1m7 -3h2v3h-2m0 0h1v3h-1m1 3h1v3h-1m-1 0h1v3h-1m-7 -9h1v12h-1m-2 0h2v3h-2m9 3h1v3h-1m-7 3h1v3h-1m7 -3h1v3h-1m-9 0h2v3h-2m10 -3h1v3h-1m-1 0h1v3h-1m-9 0h3v3h-3m0 0h2v3h-2m10 -3h1v6h-1m-8 0h1v3h-1m-2 0h3v3h-3m10 -3h1v3h-1m0 6h1v6h-1m-10 0h2v3h-2m9 -3h2v3h-2m1 0h1v3h-1m-10 3h2v3h-2m9 -6h1v6h-1m-701 75h2v3h-2m703 -7h3v10h-3m6 -10h1v10h-1m4 -10h1v10h-1m8 -10h1v10h-1m2 -10h1v10h-1m3 -10h1v10h-1m-726 0h2v9h-2m458 -9h4v10h-4m6 -10h2v10h-2m8 -10h4v10h-4m6 -10h1v10h-1m4 -10h2v10h-2m14 -10h1v10h-1m38 -10h2v10h-2m4 -10h1v10h-1m2 -10h1v10h-1m2 -10h2v10h-2m3 -10h2v10h-2m7 -10h2v10h-2m4 -10h1v10h-1m5 -10h1v10h-1m2 -10h2v10h-2m3 -10h2v10h-2m7 -10h3v10h-3m22 -10h1v10h-1m26 -10h1v10h-1m13 -10h1v10h-1m3 -10h1v10h-1m7 -10h1v10h-1m14 -10h1v10h-1m8 -10h2v10h-2m7 -10h1v10h-1m3 -10h2v10h-2m8 -10h1v10h-1m6 -10h3v10h-3m8 -10h2v10h-2m7 -10h3v10h-3m10 -10h4v10h-4m9 -10h1v10h-1m-731 -10h2v18h-2m437 -18h1v18h-1m6 -18h2v18h-2m10 -18h2v18h-2m4 -18h2v18h-2m3 -18h1v18h-1m2 -18h1v18h-1m3 -8h3v8h-3m4 -8h6v8h-6m7 -8h12v8h-12m15 -8h2v8h-2m8 -8h2v8h-2m4 -8h2v8h-2m40 -8h2v8h-2m3 -8h1v8h-1m2 -8h1v8h-1m3 -8h1v8h-1m3 -8h5v8h-5m7 -8h2v8h-2m3 -8h4v8h-4m5 -8h2v8h-2m3 -8h1v8h-1m3 -8h1v8h-1m120 -8h2v8h-2m9 -8h1v8h-1m3 -8h1v8h-1"/>
<path fill="#ff5a00" d="M0 0m806 315h1v3h-1m0 3h1v3h-1m-8 0h1v3h-1m-2 0h2v6h-2m9 0h1v3h-1m-9 3h2v3h-2m2 3h1v3h-1m-2 0h3v3h-3m2 3h1v3h-1m8 -3h1v3h-1m-10 0h2v3h-2m0 3h2v3h-2m2 3h1v3h-1m-2 0h2v3h-2m0 9h2v6h-2m-189 96h1v10h-1m3 -10h10v10h-10m12 -10h1v10h-1m2 -10h3v10h-3m6 -10h2v10h-2m4 -10h3v10h-3m39 -10h4v10h-4m7 -10h19v10h-19m20 -10h2v10h-2m3 -10h22v10h-22m23 -10h4v10h-4m5 -10h7v10h-7m8 -10h2v10h-2m3 -10h3v10h-3m4 -10h2v10h-2m3 -10h13v10h-13m14 -10h1v10h-1m2 -10h5v10h-5m7 -10h5v10h-5m6 -10h2v10h-2m6 -10h4v10h-4m5 -10h3v10h-3m18 -10h2v10h-2m5 -10h7v10h-7m11 -10h4v10h-4m6 -10h1v10h-1m-722 -51h2v59h-2m416 -18h1v18h-1m2 -18h1v18h-1m6 -18h1v18h-1m2 -18h1v18h-1m2 -18h5v18h-5m7 -18h8v18h-8m10 -18h2v18h-2m4 -18h1v18h-1m2 -18h1v18h-1m2 -18h1v18h-1m5 -8h1v8h-1m21 -8h2v8h-2m27 -8h1v8h-1m5 -8h2v8h-2m6 -8h1v8h-1m10 -8h1v8h-1m4 -8h2v8h-2m4 -8h1v8h-1m2 -8h1v8h-1m2 -8h2v8h-2m3 -8h2v8h-2m7 -8h2v8h-2m4 -8h1v8h-1m5 -8h1v8h-1m3 -8h1v8h-1m2 -8h2v8h-2m9 -8h1v8h-1m13 -8h1v8h-1m7 -8h1v8h-1m6 -8h1v8h-1m15 -8h2v8h-2m5 -8h1v8h-1m9 -8h3v8h-3m4 -8h2v8h-2m3 -8h1v8h-1m7 -8h1v8h-1m4 -8h1v8h-1m10 -8h2v8h-2m8 -8h2v8h-2m3 -8h1v8h-1m3 -8h2v8h-2m4 -8h2v8h-2m8 -8h1v8h-1m6 -8h4v8h-4m9 -8h1v8h-1m17 -8h3v8h-3"/>
<path fill="#ff3c00" d="M0 0m608 486h2v10h-2m12 -10h2v10h-2m3 -10h1v10h-1m4 -10h3v10h-3m5 -10h2v10h-2m5 -10h1v10h-1m65 -10h1v10h-1m28 -10h1v10h-1m15 -10h1v10h-1m19 -10h1v10h-1m18 -10h2v10h-2m45 -10h1v10h-1m3 -10h1v10h-1m-306 -10h1v18h-1m2 -18h5v18h-5m6 -18h1v18h-1m29 -18h1v18h-1m46 -8h6v8h-6m7 -8h4v8h-4m6 -8h4v8h-4m5 -8h9v8h-9m10 -8h3v8h-3m38 -8h6v8h-6m7 -8h12v8h-12m13 -8h6v8h-6m7 -8h5v8h-5m6 -8h14v8h-14m16 -8h3v8h-3m4 -8h8v8h-8m11 -8h1v8h-1m3 -8h1v8h-1m2 -8h6v8h-6m7 -8h3v8h-3m4 -8h9v8h-9m11 -8h6v8h-6m8 -8h1v8h-1m2 -8h2v8h-2m4 -8h2v8h-2m5 -8h5v8h-5m6 -8h3v8h-3m13 -8h1v8h-1m5 -8h13v8h-13m16 -8h2v8h-2m3 -8h1v8h-1m2 -8h2v8h-2"/>
<path fill="#ff1e00" d="M0 0m91 496h1v8h-1m691 -8h1v8h-1m16 -76h3v76h-3m7 -76h2v76h-2m20 -8h1v8h-1m2 -8h1v8h-1m3 -8h1v8h-1"/>
<path d="M525 188.3 L537 187.9 L549 187.4 L561 186.8 L573 186.0 L585 185.2 L597 184.2 L609 183.1 L621 181.8 L633 180.4 L645 178.9 L657 177.3 L669 175.5 L681 173.5 L693 171.4 L705 169.1 L717 166.5 L729 163.8 L741 160.8 L753 157.6 L765 154.1 L777 150.4 L789 146.3 L801 141.8 L813 137.1 L825 131.9 L837 126.3 L849 120.3 L861 113.7 L873 106.7 L884 99.8" fill="none" stroke="#ff00ff" stroke-width="1.8" stroke-linecap="round" stroke-linejoin="round"/>
<g fill="none" stroke="#000" stroke-width="1" shape-rendering="crispEdges">
<rect x="90.5" y="51.5" width="863" height="354"/>
<rect x="90.5" y="427.5" width="863" height="77"/>
<path d="M81 405.5H90 M86 375.5H90 M86 358.5H90 M86 346.5H90 M86 337.5H90 M86 329.5H90 M86 322.5H90 M86 316.5H90 M86 311.5H90 M81 307.5H90 M86 277.5H90 M86 260.5H90 M86 248.5H90 M86 239.5H90 M86 231.5H90 M86 224.5H90 M86 218.5H90 M86 213.5H90 M81 209.5H90 M86 179.5H90 M86 162.5H90 M86 150.5H90 M86 141.5H90 M86 133.5H90 M86 126.5H90 M86 120.5H90 M86 115.5H90 M81 111.5H90 M86 81.5H90 M86 64.5H90 M86 52.5H90 M86 498.5H90 M86 491.5H90 M86 486.5H90 M86 482.5H90 M86 479.5H90 M86 476.5H90 M86 474.5H90 M86 472.5H90 M81 470.5H90 M86 458.5H90 M86 450.5H90 M86 445.5H90 M86 441.5H90 M86 437.5H90 M86 435.5H90 M86 432.5H90 M86 430.5H90 M81 428.5H90 M116.5 505V514 M147.5 505V509 M179.5 505V509 M210.5 505V509 M242.5 505V514 M273.5 505V509 M305.5 505V509 M336.5 505V509 M367.5 505V514 M399.5 505V509 M430.5 505V509 M462.5 505V509 M493.5 505V514 M525.5 505V509 M556.5 505V509 M588.5 505V509 M619.5 505V514 M651.5 505V509 M682.5 505V509 M713.5 505V509 M745.5 505V514 M776.5 505V509 M808.5 505V509 M839.5 505V509 M871.5 505V514 M902.5 505V509 M934.5 505V509"/>
</g>
<linearGradient id="g53" x1="0" y1="0" x2="0" y2="1"><stop offset="0.0000" stop-color="#ff0000"/><stop offset="0.2000" stop-color="#ff8200"/><stop offset="0.3590" stop-color="#ffff00"/><stop offset="0.5380" stop-color="#00ff00"/><stop offset="0.7290" stop-color="#00ffff"/><stop offset="0.8610" stop-color="#0000ff"/><stop offset="1.0000" stop-color="#00006e"/></linearGradient>
<rect x="966" y="53" width="13" height="352" fill="url(#g53)"/>
<linearGradient id="g429" x1="0" y1="0" x2="0" y2="1"><stop offset="0.0000" stop-color="#ff0000"/><stop offset="0.2000" stop-color="#ff8200"/><stop offset="0.3590" stop-color="#ffff00"/><stop offset="0.5380" stop-color="#00ff00"/><stop offset="0.7290" stop-color="#00ffff"/><stop offset="0.8610" stop-color="#0000ff"/><stop offset="1.0000" stop-color="#00006e"/></linearGradient>
<rect x="966" y="429" width="13" height="75" fill="url(#g429)"/>
<path d="M979.5 52V405.5 M979 52.5H989 M979 87.5H984 M979 123.5H989 M979 158.5H984 M979 193.5H989 M979 229.5H984 M979 264.5H989 M979 299.5H984 M979 334.5H989 M979 370.5H984 M979 405.5H989 M979.5 428V505 M979 428.5H984 M979 436.5H984 M979 443.5H984 M979 451.5H984 M979 458.5H989 M979 466.5H984 M979 474.5H984 M979 481.5H984 M979 489.5H984 M979 497.5H989 M979 504.5H984" stroke="#000" fill="none" shape-rendering="crispEdges"/>
<text x="992" y="60">10<tspan dy="-6">-6</tspan></text>
<text x="992" y="131">10<tspan dy="-6">-8</tspan></text>
<text x="992" y="201">10<tspan dy="-6">-10</tspan></text>
<text x="992" y="272">10<tspan dy="-6">-12</tspan></text>
<text x="992" y="342">10<tspan dy="-6">-14</tspan></text>
<text x="992" y="413">10<tspan dy="-6">-16</tspan></text>
<text x="992" y="466">10<tspan dy="-6">-10</tspan></text>
<text x="992" y="504">10<tspan dy="-6">-15</tspan></text>
<text transform="translate(1049 278) rotate(-90)">Ex (V<tspan dy="-6">2</tspan><tspan dy="6"> m</tspan><tspan dy="-6">-2</tspan><tspan dy="6"> Hz</tspan><tspan dy="-6">-1</tspan><tspan dy="6">)</tspan></text>
<text transform="translate(1042 487) rotate(-90)">LFC Ex</text>
<text x="279" y="31" textLength="485">DE 1/PWI-SFC &#160;Spin Plane E-Field Spectra, 200 meter antenna, 104 Hz to 409 kHz</text>
<text x="459.5" y="44" font-size="9" font-weight="bold" textLength="124.5">(Magenta Line: Fce in Hz)</text>
<text x="281.5" y="419" textLength="480.5">DE 1/PWI-LFC &#160;Spin Plane E-Field Spectra, 200 meter antenna, 1.78 Hz to 100 Hz</text>
<text x="70" y="413" text-anchor="end">10</text><text x="70" y="407">2</text>
<text x="70" y="315" text-anchor="end">10</text><text x="70" y="309">3</text>
<text x="70" y="217" text-anchor="end">10</text><text x="70" y="211">4</text>
<text x="70" y="119" text-anchor="end">10</text><text x="70" y="113">5</text>
<text x="70" y="478" text-anchor="end">10</text><text x="70" y="472">1</text>
<text x="70" y="435" text-anchor="end">10</text><text x="70" y="429">2</text>
<text transform="translate(47 273) rotate(-90)">Frequency (Hz)</text>
<text transform="translate(47 493) rotate(-90)">Freq (Hz)</text>
<text x="132.0" y="530" text-anchor="end">02:00</text>
<text x="258.0" y="530" text-anchor="end">03:00</text>
<text x="383.0" y="530" text-anchor="end">04:00</text>
<text x="509.0" y="530" text-anchor="end">05:00</text>
<text x="635.0" y="530" text-anchor="end">06:00</text>
<text x="761.0" y="530" text-anchor="end">07:00</text>
<text x="887.0" y="530" text-anchor="end">08:00</text>
<text x="132.0" y="546" text-anchor="end">1.272</text>
<text x="132.0" y="562" text-anchor="end">4.917</text>
<text x="132.0" y="578" text-anchor="end">10.296</text>
<text x="132.0" y="594" text-anchor="end">-57.213</text>
<text x="509.0" y="546" text-anchor="end">Error</text>
<text x="509.0" y="562" text-anchor="end">Error</text>
<text x="509.0" y="578" text-anchor="end">Error</text>
<text x="509.0" y="594" text-anchor="end">Error</text>
<text x="635.0" y="546" text-anchor="end">4.480</text>
<text x="635.0" y="562" text-anchor="end">****</text>
<text x="635.0" y="578" text-anchor="end">15.226</text>
<text x="635.0" y="594" text-anchor="end">81.121</text>
<text x="761.0" y="546" text-anchor="end">3.708</text>
<text x="761.0" y="562" text-anchor="end">26.302</text>
<text x="761.0" y="578" text-anchor="end">20.476</text>
<text x="761.0" y="594" text-anchor="end">67.996</text>
<text x="887.0" y="546" text-anchor="end">2.167</text>
<text x="887.0" y="562" text-anchor="end">2.643</text>
<text x="887.0" y="578" text-anchor="end">21.879</text>
<text x="887.0" y="594" text-anchor="end">26.847</text>
<text x="59" y="545" text-anchor="end">R<tspan font-size="8.6" dy="4">e</tspan></text>
<text x="59" y="561" text-anchor="end">L</text>
<text x="59" y="577" text-anchor="end">M<tspan font-size="8.6" dy="4">LT</tspan></text>
<text x="59" y="593" text-anchor="end">M<tspan font-size="8.6" dy="4">LAT</tspan></text>
<text x="437.5" y="612" textLength="169">1981-10-02 (275) 1:48 to 8:39</text>
</svg></body></html>
